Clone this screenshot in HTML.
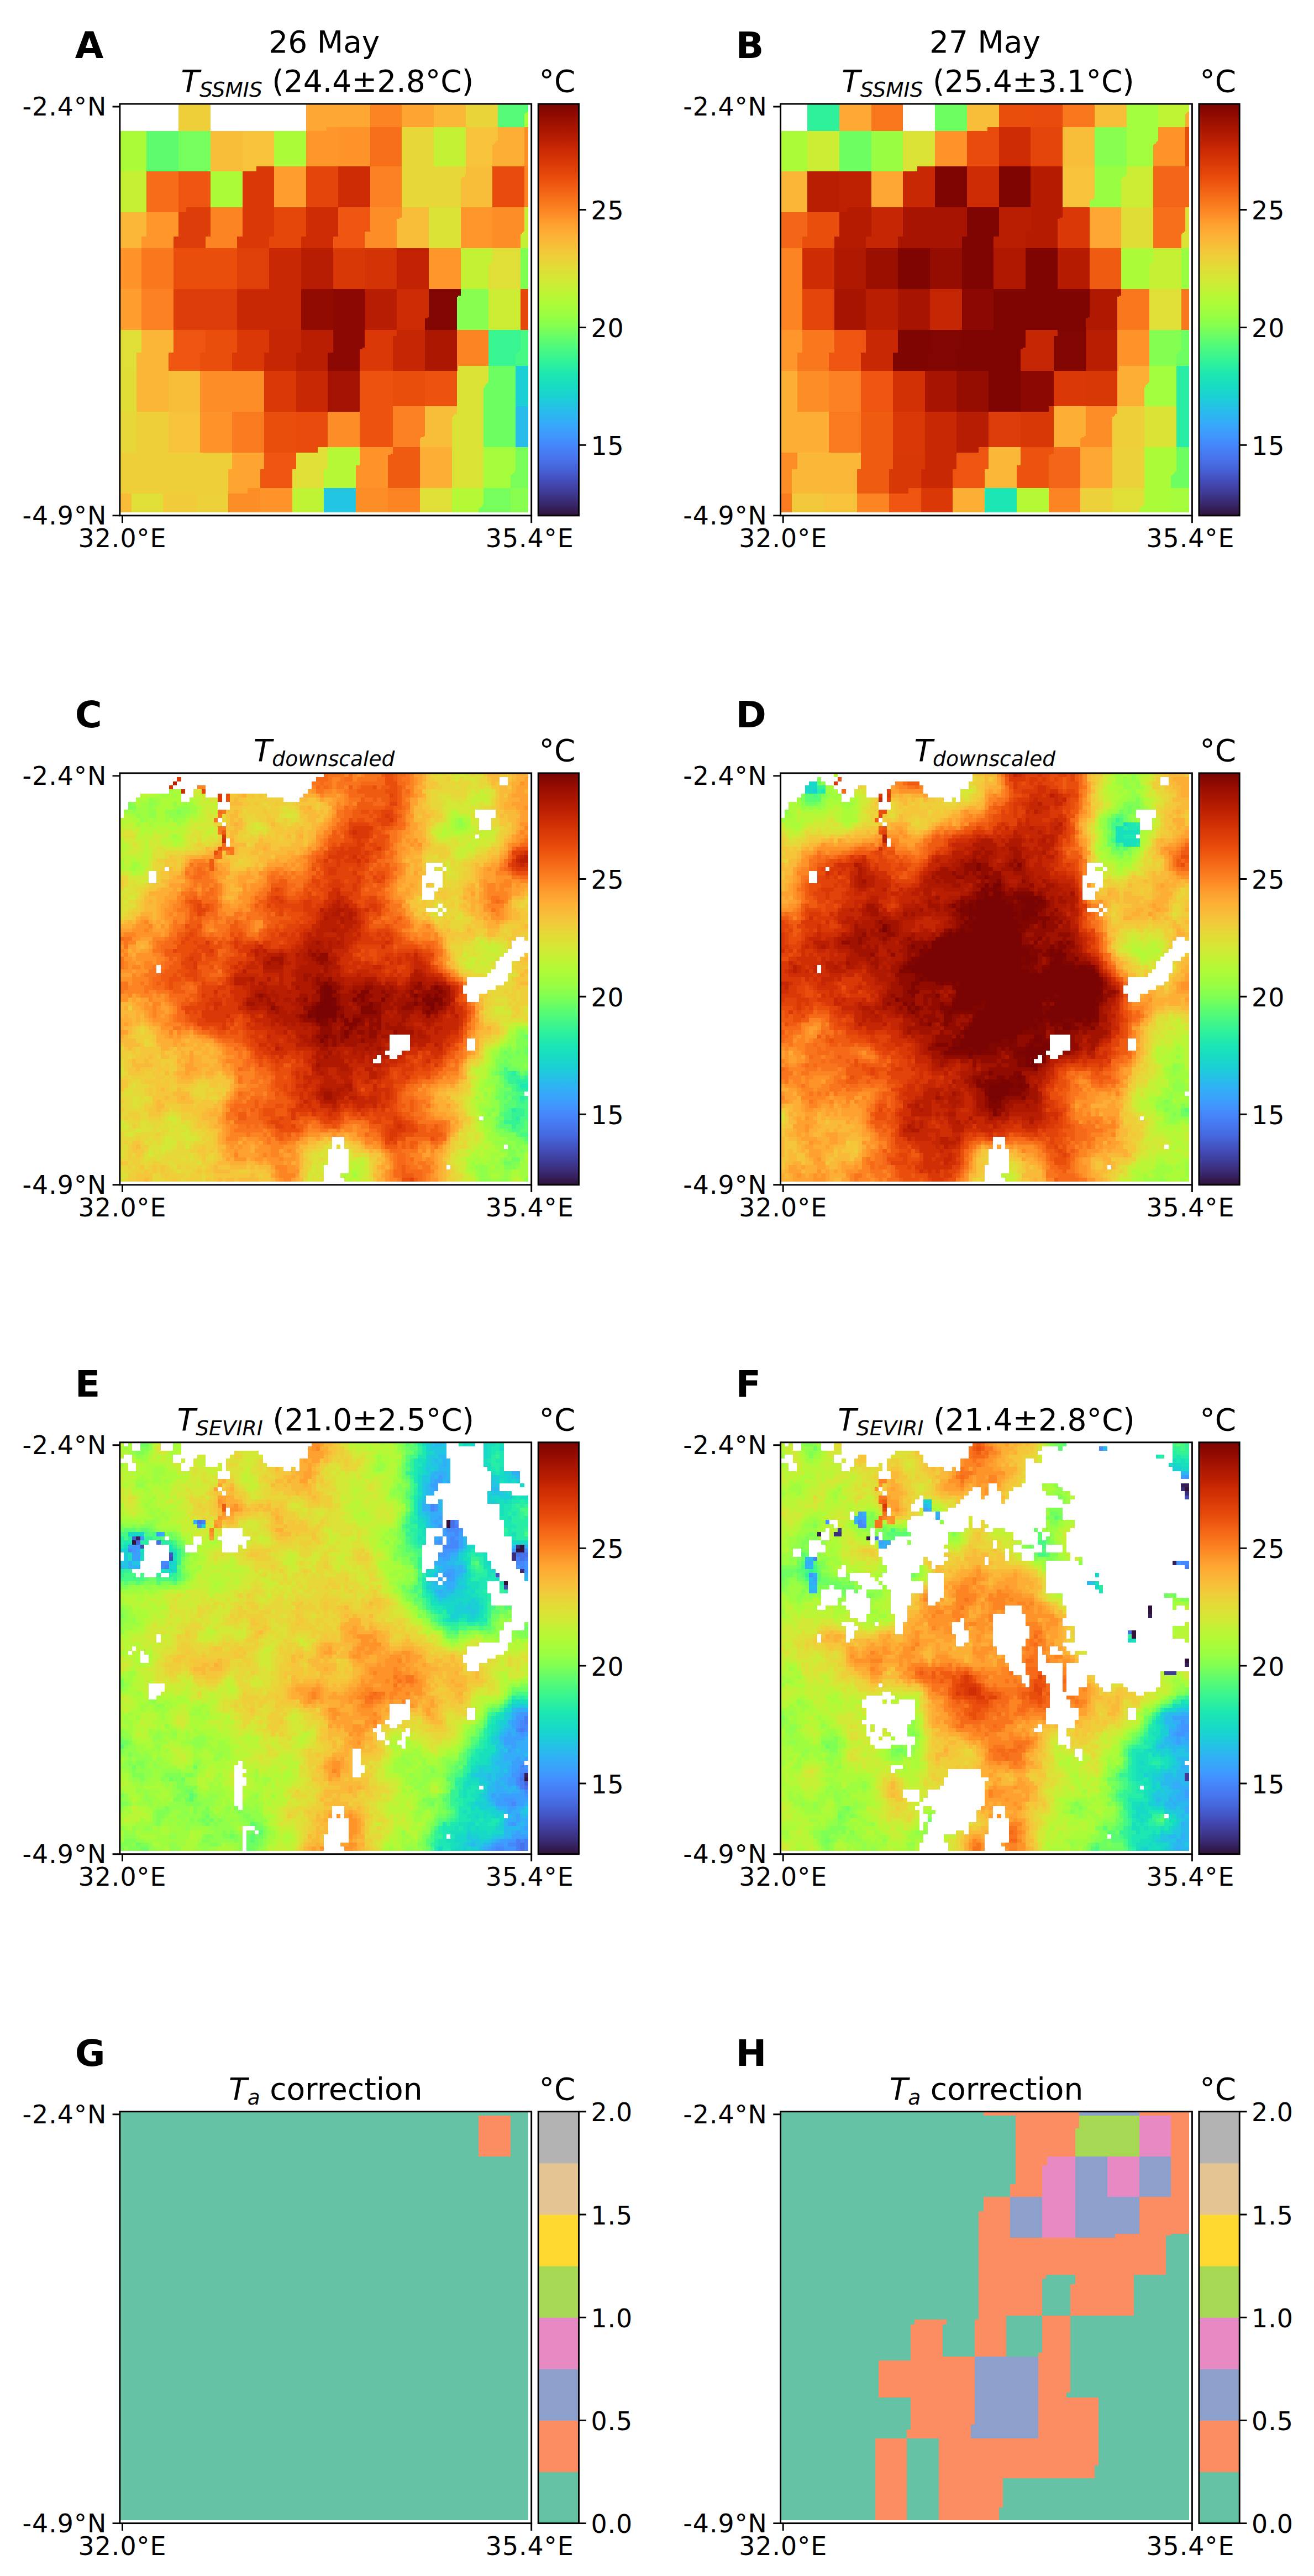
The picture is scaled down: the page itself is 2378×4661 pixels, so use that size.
<!DOCTYPE html>
<html><head><meta charset="utf-8"><title>Figure</title>
<style>html,body{margin:0;padding:0;background:#fff}svg{display:block}</style></head>
<body>
<svg width="2378" height="4661" viewBox="0 0 2378 4661" font-family="DejaVu Sans, sans-serif" fill="#000">
<defs><linearGradient id="tg" x1="0" y1="0" x2="0" y2="1"><stop offset="0.0000" stop-color="#7a0403"/><stop offset="0.0286" stop-color="#920b01"/><stop offset="0.0571" stop-color="#a71401"/><stop offset="0.0857" stop-color="#b91e02"/><stop offset="0.1143" stop-color="#cc2b04"/><stop offset="0.1429" stop-color="#da3907"/><stop offset="0.1714" stop-color="#e5470b"/><stop offset="0.2000" stop-color="#f05b12"/><stop offset="0.2286" stop-color="#f76f1a"/><stop offset="0.2571" stop-color="#fc8423"/><stop offset="0.2857" stop-color="#fe9b2d"/><stop offset="0.3143" stop-color="#fdae35"/><stop offset="0.3429" stop-color="#f8be39"/><stop offset="0.3714" stop-color="#eecf3a"/><stop offset="0.4000" stop-color="#e1dd37"/><stop offset="0.4286" stop-color="#d2e935"/><stop offset="0.4571" stop-color="#bef434"/><stop offset="0.4857" stop-color="#acfb38"/><stop offset="0.5143" stop-color="#99fe42"/><stop offset="0.5429" stop-color="#80ff53"/><stop offset="0.5714" stop-color="#61fc6c"/><stop offset="0.6000" stop-color="#46f884"/><stop offset="0.6286" stop-color="#2ff19b"/><stop offset="0.6571" stop-color="#1de7b2"/><stop offset="0.6857" stop-color="#18ddc2"/><stop offset="0.7143" stop-color="#1bd0d5"/><stop offset="0.7429" stop-color="#27bee9"/><stop offset="0.7714" stop-color="#33adf7"/><stop offset="0.8000" stop-color="#3e9bfe"/><stop offset="0.8286" stop-color="#4687fb"/><stop offset="0.8571" stop-color="#4776ee"/><stop offset="0.8857" stop-color="#4664da"/><stop offset="0.9143" stop-color="#434eba"/><stop offset="0.9429" stop-color="#3f3b97"/><stop offset="0.9714" stop-color="#38276d"/><stop offset="1.0000" stop-color="#30123b"/></linearGradient></defs>
<g transform="translate(216.9 188) scale(2.31)" shape-rendering="crispEdges"><path fill="#eecf3a" d="M46 0h25v6h-25zM46 6h25v1h-25zM46 7h25v1h-25zM46 8h25v10h-25zM46 18h25v3h-25zM13 241h25v2h-25zM13 243h25v1h-25zM13 244h25v1h-25zM13 245h25v15h-25zM13 260h25v1h-25zM13 261h25v1h-25zM13 262h25v7h-25zM13 269h25v4h-25zM0 273h88v1h-88zM0 274h88v1h-88zM0 275h88v8h-88zM0 283h88v3h-88zM0 286h85v2h-85zM0 288h85v1h-85zM0 289h85v1h-85zM0 290h85v1h-85zM0 291h85v10h-85zM0 301h85v4h-85z"/><path fill="#fea732" d="M146 0h50v6h-50zM146 6h50v1h-50zM146 7h50v1h-50zM146 8h50v10h-50zM146 18h16v3h-16z"/><path fill="#fc8423" d="M196 0h25v6h-25zM196 6h25v1h-25zM196 7h25v1h-25zM196 8h25v10h-25zM317 49h3v4h-3zM317 53h3v3h-3zM317 56h3v1h-3zM317 57h3v1h-3zM317 58h3v23h-3zM71 81h25v4h-25zM71 85h25v4h-25zM71 89h25v1h-25zM71 90h25v10h-25zM71 100h25v1h-25zM71 101h25v1h-25zM71 102h25v2h-25zM67 104h25v9h-25zM264 177h25v5h-25zM264 182h25v9h-25zM264 191h25v1h-25zM264 192h25v1h-25zM264 193h25v1h-25zM264 194h25v1h-25zM264 195h25v1h-25zM264 196h25v9h-25zM264 205h1v4h-1zM210 301h25v4h-25zM210 305h25v9h-25zM210 314h25v1h-25zM210 315h25v1h-25zM210 316h25v1h-25zM210 317h25v3h-25z"/><path fill="#fea431" d="M221 0h25v6h-25zM221 6h25v1h-25zM221 7h25v1h-25zM221 8h25v10h-25zM88 273h25v1h-25zM88 274h25v1h-25zM88 275h25v8h-25zM88 283h25v3h-25zM85 286h25v2h-25zM85 288h25v1h-25zM85 289h25v1h-25zM85 290h25v1h-25zM85 291h25v10h-25zM85 301h15v4h-15z"/><path fill="#fbb838" d="M246 0h25v6h-25zM246 6h25v1h-25zM246 7h25v1h-25zM246 8h25v10h-25zM0 85h21v4h-21zM0 89h21v1h-21zM0 90h21v10h-21zM0 100h21v1h-21zM0 101h21v1h-21zM0 102h21v2h-21zM0 104h17v9h-17z"/><path fill="#e9d539" d="M271 0h25v6h-25zM271 6h25v1h-25zM271 7h25v1h-25zM271 8h25v10h-25z"/><path fill="#55fa76" d="M296 0h24v6h-24zM296 6h23v1h-23zM296 7h22v1h-22zM296 8h21v10h-21z"/><path fill="#acfb38" d="M319 6h1v1h-1zM318 7h2v1h-2zM317 8h3v10h-3zM0 21h21v8h-21zM121 21h25v8h-25zM0 29h21v1h-21zM121 29h25v1h-25zM0 30h21v1h-21zM121 30h25v1h-25zM0 31h21v1h-21zM121 31h25v1h-25zM0 32h21v17h-21zM121 32h25v17h-25zM0 49h21v4h-21zM71 53h25v3h-25zM71 56h25v1h-25zM71 57h25v1h-25zM71 58h25v23h-25z"/><path fill="#fe962b" d="M162 18h9v3h-9zM146 21h25v8h-25zM146 29h25v1h-25zM146 30h25v1h-25zM146 31h25v1h-25zM146 32h25v17h-25zM267 81h25v4h-25zM21 85h25v4h-25zM267 85h25v4h-25zM21 89h25v1h-25zM267 89h25v1h-25zM21 90h25v10h-25zM267 90h25v10h-25zM21 100h25v1h-25zM267 100h25v1h-25zM21 101h25v1h-25zM267 101h25v1h-25zM21 102h25v2h-25zM267 102h25v2h-25zM17 104h25v9h-25zM267 104h25v9h-25zM242 113h25v11h-25zM242 124h25v1h-25zM242 125h25v1h-25zM242 126h25v19h-25z"/><path fill="#fe932a" d="M171 18h25v3h-25zM171 21h25v8h-25zM171 29h25v1h-25zM171 30h25v1h-25zM171 31h25v1h-25zM171 32h25v17h-25zM0 113h17v11h-17zM0 124h17v1h-17zM0 125h17v1h-17zM0 126h17v19h-17zM63 241h25v2h-25zM63 243h25v1h-25zM63 244h25v1h-25zM63 245h25v15h-25zM63 260h25v1h-25zM63 261h25v1h-25zM63 262h25v7h-25zM63 269h25v4h-25zM188 269h26v4h-26zM188 273h26v1h-26zM188 274h24v1h-24zM188 275h22v8h-22zM185 283h25v3h-25zM185 286h25v2h-25zM185 288h25v1h-25zM185 289h25v1h-25zM185 290h25v1h-25zM185 291h25v10h-25zM110 301h25v4h-25zM110 305h25v9h-25zM110 314h25v1h-25zM110 315h25v1h-25zM110 316h25v1h-25zM110 317h25v3h-25z"/><path fill="#f76f1a" d="M196 18h25v3h-25zM196 21h25v8h-25zM196 29h25v1h-25zM196 30h25v1h-25zM196 31h25v1h-25zM196 32h25v17h-25z"/><path fill="#e7d739" d="M221 18h25v3h-25zM221 21h25v8h-25zM221 29h25v1h-25zM221 30h25v1h-25zM221 31h25v1h-25zM221 32h25v17h-25zM221 49h50v4h-50zM221 53h50v3h-50zM221 56h49v1h-49zM221 57h47v1h-47zM221 58h46v23h-46zM0 241h13v2h-13zM0 243h13v1h-13zM0 244h13v1h-13zM0 245h13v15h-13zM0 260h13v1h-13zM0 261h13v1h-13zM0 262h13v7h-13zM0 269h13v4h-13z"/><path fill="#c3f134" d="M246 18h25v3h-25zM246 21h25v8h-25zM246 29h25v1h-25zM246 30h25v1h-25zM246 31h25v1h-25zM246 32h25v17h-25zM267 113h25v11h-25zM267 124h24v1h-24zM267 125h23v1h-23zM267 126h22v19h-22z"/><path fill="#f6c33a" d="M271 18h25v3h-25zM96 21h25v8h-25zM271 21h25v8h-25zM96 29h25v1h-25zM271 29h24v1h-24zM96 30h25v1h-25zM271 30h23v1h-23zM96 31h25v1h-25zM271 31h22v1h-22zM96 32h25v17h-25zM271 32h21v17h-21zM96 49h11v4h-11zM38 241h25v2h-25zM38 243h25v1h-25zM38 244h25v1h-25zM38 245h25v15h-25zM38 260h25v1h-25zM38 261h25v1h-25zM38 262h25v7h-25zM38 269h25v4h-25z"/><path fill="#fdae35" d="M296 18h21v3h-21zM296 21h21v8h-21zM295 29h22v1h-22zM294 30h23v1h-23zM293 31h24v1h-24zM292 32h25v17h-25zM235 269h25v4h-25zM235 273h25v1h-25zM235 274h25v1h-25zM235 275h25v8h-25zM235 283h25v3h-25zM235 286h25v2h-25zM235 288h25v1h-25zM235 289h25v1h-25zM235 290h25v1h-25zM235 291h25v10h-25z"/><path fill="#fd8d27" d="M317 18h3v3h-3zM317 21h3v8h-3zM317 29h3v1h-3zM317 30h3v1h-3zM317 31h3v1h-3zM317 32h3v17h-3zM196 81h25v4h-25zM292 81h25v4h-25zM196 85h25v4h-25zM292 85h25v4h-25zM196 89h23v1h-23zM292 89h25v1h-25zM196 90h21v10h-21zM292 90h25v10h-25zM192 100h25v1h-25zM292 100h24v1h-24zM192 101h25v1h-25zM292 101h23v1h-23zM192 102h25v2h-25zM292 102h22v2h-22zM192 104h25v9h-25zM292 104h22v9h-22zM63 209h50v9h-50zM63 218h50v1h-50zM63 219h50v1h-50zM63 220h50v2h-50zM63 222h50v15h-50zM63 237h50v4h-50zM163 241h25v2h-25zM163 243h25v1h-25zM163 244h25v1h-25zM163 245h25v15h-25zM163 260h25v1h-25zM163 261h25v1h-25zM163 262h25v7h-25zM100 301h10v4h-10zM185 301h25v4h-25zM85 305h25v9h-25zM185 305h25v9h-25zM85 314h25v1h-25zM185 314h25v1h-25zM85 315h25v1h-25zM185 315h25v1h-25zM85 316h25v1h-25zM185 316h25v1h-25zM85 317h25v3h-25zM185 317h25v3h-25z"/><path fill="#5dfc6f" d="M21 21h25v8h-25zM21 29h25v1h-25zM21 30h25v1h-25zM21 31h25v1h-25zM21 32h25v17h-25zM21 49h25v4h-25z"/><path fill="#75fe5c" d="M46 21h25v8h-25zM46 29h25v1h-25zM46 30h25v1h-25zM46 31h25v1h-25zM46 32h25v17h-25zM46 49h25v4h-25zM285 301h21v4h-21zM285 305h21v9h-21zM284 314h22v1h-22zM283 315h23v1h-23zM282 316h24v1h-24zM281 317h25v3h-25z"/><path fill="#f8be39" d="M71 21h25v8h-25zM71 29h25v1h-25zM71 30h25v1h-25zM71 31h25v1h-25zM71 32h25v17h-25zM71 49h25v4h-25zM271 49h21v4h-21zM271 53h21v3h-21zM270 56h22v1h-22zM268 57h24v1h-24zM267 58h25v23h-25zM221 81h21v4h-21zM221 85h21v4h-21zM219 89h23v1h-23zM217 90h25v10h-25zM217 100h25v1h-25zM217 101h25v1h-25zM217 102h25v2h-25zM217 104h25v9h-25zM38 209h25v9h-25zM38 218h25v1h-25zM38 219h25v1h-25zM38 220h25v2h-25zM38 222h25v15h-25zM38 237h25v4h-25zM239 237h25v4h-25zM239 241h25v2h-25zM239 243h23v1h-23zM239 244h22v1h-22zM239 245h21v15h-21zM238 260h22v1h-22zM236 261h24v1h-24zM235 262h25v7h-25z"/><path fill="#da3907" d="M107 49h14v4h-14zM96 53h25v3h-25zM96 56h25v1h-25zM96 57h25v1h-25zM96 58h25v23h-25zM96 81h25v4h-25zM96 85h25v4h-25zM96 89h25v1h-25zM96 90h25v10h-25zM96 100h25v1h-25zM96 101h25v1h-25zM96 102h25v2h-25zM92 104h25v9h-25zM92 177h25v5h-25zM192 177h25v5h-25zM92 182h25v9h-25zM192 182h22v9h-22zM92 191h25v1h-25zM190 191h24v1h-24zM92 192h25v1h-25zM188 192h26v1h-26zM92 193h25v1h-25zM188 193h26v1h-26zM92 194h25v1h-25zM188 194h26v1h-26zM88 195h25v1h-25zM188 195h26v1h-26zM88 196h25v9h-25zM188 196h26v9h-26zM88 205h25v4h-25zM188 205h26v4h-26zM113 209h25v9h-25zM113 218h25v1h-25zM113 219h25v1h-25zM113 220h25v2h-25zM113 222h25v15h-25zM113 237h25v4h-25z"/><path fill="#fe9e2f" d="M121 49h25v4h-25zM121 53h25v3h-25zM121 56h25v1h-25zM121 57h25v1h-25zM121 58h25v23h-25zM0 145h17v5h-17zM0 150h17v1h-17zM0 151h17v16h-17zM0 167h17v1h-17zM0 168h17v9h-17z"/><path fill="#e4450a" d="M146 49h25v4h-25zM146 53h25v3h-25zM146 56h25v1h-25zM146 57h25v1h-25zM146 58h25v23h-25z"/><path fill="#cc2b04" d="M171 49h25v4h-25zM171 53h25v3h-25zM171 56h25v1h-25zM171 57h25v1h-25zM171 58h25v23h-25zM146 81h25v4h-25zM146 85h25v4h-25zM146 89h25v1h-25zM146 90h25v10h-25zM146 100h25v1h-25zM146 101h25v1h-25zM146 102h25v2h-25zM142 104h25v9h-25zM217 145h25v5h-25zM217 150h25v1h-25zM217 151h25v16h-25zM217 167h24v1h-24zM217 168h22v9h-22z"/><path fill="#fb8122" d="M196 49h25v4h-25zM196 53h25v3h-25zM196 56h25v1h-25zM196 57h25v1h-25zM196 58h25v23h-25zM17 145h25v5h-25zM17 150h25v1h-25zM17 151h25v16h-25zM17 167h25v1h-25zM17 168h25v9h-25zM214 237h25v4h-25zM214 241h25v2h-25zM214 243h25v1h-25zM214 244h25v1h-25zM214 245h25v15h-25zM214 260h24v1h-24zM214 261h22v1h-22zM214 262h21v7h-21z"/><path fill="#e84b0c" d="M292 49h25v4h-25zM292 53h25v3h-25zM292 56h25v1h-25zM292 57h25v1h-25zM292 58h25v23h-25zM138 241h25v2h-25zM138 243h25v1h-25zM138 244h25v1h-25zM138 245h25v15h-25zM138 260h25v1h-25zM138 261h25v1h-25zM138 262h25v7h-25zM138 269h17v4h-17z"/><path fill="#c6f034" d="M0 53h21v3h-21zM0 56h21v1h-21zM0 57h21v1h-21zM0 58h21v23h-21zM0 81h21v4h-21zM317 81h3v4h-3zM317 85h3v4h-3zM317 89h3v1h-3zM317 90h3v10h-3zM316 100h4v1h-4zM315 101h5v1h-5zM314 102h6v2h-6zM314 104h6v9h-6z"/><path fill="#f66c19" d="M21 53h25v3h-25zM21 56h25v1h-25zM21 57h25v1h-25zM21 58h25v23h-25zM21 81h25v4h-25z"/><path fill="#ed5510" d="M46 53h25v3h-25zM46 56h25v1h-25zM46 57h25v1h-25zM46 58h25v23h-25zM46 81h6v4h-6zM171 81h25v4h-25zM171 85h25v4h-25zM171 89h25v1h-25zM171 90h25v10h-25zM171 100h21v1h-21zM171 101h21v1h-21zM171 102h21v2h-21zM167 104h25v9h-25zM42 177h25v5h-25zM42 182h25v9h-25zM42 191h25v1h-25zM42 192h25v1h-25zM42 193h25v1h-25zM42 194h25v1h-25zM38 195h25v1h-25zM38 196h25v9h-25zM38 205h25v4h-25zM113 273h25v1h-25zM113 274h25v1h-25zM113 275h25v8h-25zM113 283h25v3h-25zM110 286h25v2h-25zM110 288h25v1h-25zM110 289h25v1h-25zM110 290h25v1h-25zM110 291h25v10h-25z"/><path fill="#dd3d08" d="M52 81h19v4h-19zM46 85h25v4h-25zM46 89h25v1h-25zM46 90h25v10h-25zM46 100h25v1h-25zM46 101h25v1h-25zM46 102h25v2h-25zM42 104h25v9h-25zM42 145h50v5h-50zM42 150h50v1h-50zM42 151h50v16h-50zM42 167h50v1h-50zM42 168h50v9h-50z"/><path fill="#e5470b" d="M121 81h25v4h-25zM121 85h25v4h-25zM121 89h25v1h-25zM121 90h25v10h-25zM121 100h25v1h-25zM121 101h25v1h-25zM121 102h25v2h-25zM117 104h25v9h-25zM314 145h6v5h-6zM314 150h6v1h-6zM314 151h6v16h-6zM314 167h6v1h-6zM314 168h6v9h-6z"/><path fill="#dbe236" d="M242 81h25v4h-25zM242 85h25v4h-25zM242 89h25v1h-25zM242 90h25v10h-25zM242 100h25v1h-25zM242 101h25v1h-25zM242 102h25v2h-25zM242 104h25v9h-25zM265 205h24v4h-24zM264 209h25v9h-25zM264 218h24v1h-24zM264 219h23v1h-23zM264 220h22v2h-22zM264 222h21v15h-21zM264 237h21v4h-21zM264 241h21v2h-21zM262 243h23v1h-23zM261 244h24v1h-24zM260 245h25v15h-25zM260 260h25v1h-25zM260 261h25v1h-25zM260 262h25v7h-25zM260 269h25v4h-25zM260 273h25v1h-25zM260 274h25v1h-25zM260 275h25v8h-25zM260 283h25v3h-25zM260 286h25v2h-25zM260 288h25v1h-25zM260 289h25v1h-25zM260 290h25v1h-25zM260 291h25v10h-25z"/><path fill="#f9781e" d="M17 113h25v11h-25zM17 124h25v1h-25zM17 125h25v1h-25zM17 126h25v19h-25z"/><path fill="#ea4e0d" d="M42 113h50v11h-50zM42 124h50v1h-50zM42 125h50v1h-50zM42 126h50v19h-50zM67 177h25v5h-25zM67 182h25v9h-25zM67 191h25v1h-25zM67 192h25v1h-25zM67 193h25v1h-25zM67 194h25v1h-25zM63 195h25v1h-25zM63 196h25v9h-25zM63 205h25v4h-25zM214 209h25v9h-25zM214 218h25v1h-25zM214 219h25v1h-25zM214 220h25v2h-25zM214 222h25v15h-25zM113 241h25v2h-25zM113 243h25v1h-25zM113 244h25v1h-25zM113 245h25v15h-25zM113 260h25v1h-25zM113 261h25v1h-25zM113 262h25v7h-25zM113 269h25v4h-25z"/><path fill="#df3f08" d="M92 113h25v11h-25zM92 124h25v1h-25zM92 125h25v1h-25zM92 126h25v19h-25z"/><path fill="#c82803" d="M117 113h25v11h-25zM117 124h25v1h-25zM117 125h25v1h-25zM117 126h25v19h-25zM92 145h50v5h-50zM92 150h50v1h-50zM92 151h50v16h-50zM92 167h50v1h-50zM92 168h50v9h-50zM138 209h25v9h-25zM138 218h25v1h-25zM138 219h25v1h-25zM138 220h25v2h-25zM138 222h25v15h-25zM138 237h25v4h-25z"/><path fill="#b71d02" d="M142 113h25v11h-25zM142 124h25v1h-25zM142 125h25v1h-25zM142 126h25v19h-25zM192 145h25v5h-25zM192 150h25v1h-25zM192 151h25v16h-25zM192 167h25v1h-25zM192 168h25v9h-25z"/><path fill="#d83706" d="M167 113h25v11h-25zM167 124h25v1h-25zM167 125h25v1h-25zM167 126h25v19h-25z"/><path fill="#d43305" d="M192 113h25v11h-25zM192 124h25v1h-25zM192 125h25v1h-25zM192 126h25v19h-25z"/><path fill="#c12302" d="M217 113h25v11h-25zM217 124h25v1h-25zM217 125h25v1h-25zM217 126h25v19h-25z"/><path fill="#dfdf37" d="M292 113h22v11h-22zM291 124h23v1h-23zM290 125h24v1h-24zM289 126h25v19h-25zM0 177h17v5h-17zM0 182h17v9h-17zM0 191h17v1h-17zM0 192h17v1h-17zM0 193h17v1h-17zM0 194h17v1h-17zM0 195h13v1h-13zM0 196h13v9h-13zM0 205h13v4h-13zM155 269h8v4h-8zM138 273h25v1h-25zM138 274h25v1h-25zM138 275h25v8h-25zM138 283h25v3h-25zM135 286h25v2h-25zM135 288h25v1h-25zM135 289h25v1h-25zM135 290h25v1h-25zM135 291h25v10h-25zM235 301h25v4h-25zM9 305h25v9h-25zM235 305h25v9h-25zM9 314h25v1h-25zM235 314h25v1h-25zM9 315h25v1h-25zM235 315h25v1h-25zM9 316h25v1h-25zM235 316h25v1h-25zM9 317h25v3h-25zM235 317h25v3h-25z"/><path fill="#80ff53" d="M314 113h6v11h-6zM314 124h6v1h-6zM314 125h6v1h-6zM314 126h6v19h-6z"/><path fill="#920b01" d="M142 145h25v5h-25zM142 150h25v1h-25zM142 151h25v16h-25zM142 167h25v1h-25zM142 168h25v9h-25z"/><path fill="#8b0902" d="M167 145h25v5h-25zM167 150h25v1h-25zM167 151h25v16h-25zM167 167h25v1h-25zM167 168h25v9h-25zM167 177h25v5h-25zM167 182h25v9h-25zM167 191h23v1h-23zM167 192h21v1h-21zM167 193h21v1h-21zM167 194h21v1h-21zM163 195h25v1h-25zM163 196h25v9h-25zM163 205h25v4h-25z"/><path fill="#810602" d="M242 145h25v5h-25zM242 150h23v1h-23zM242 151h22v16h-22zM241 167h23v1h-23zM239 168h25v9h-25z"/><path fill="#88ff4e" d="M267 145h22v5h-22zM265 150h24v1h-24zM264 151h25v16h-25zM264 167h25v1h-25zM264 168h25v9h-25zM306 301h14v4h-14zM306 305h14v9h-14zM306 314h14v1h-14zM306 315h14v1h-14zM306 316h14v1h-14zM306 317h14v3h-14z"/><path fill="#cdec34" d="M289 145h25v5h-25zM289 150h25v1h-25zM289 151h25v16h-25zM289 167h25v1h-25zM289 168h25v9h-25z"/><path fill="#fbb637" d="M17 177h25v5h-25zM17 182h25v9h-25zM17 191h25v1h-25zM17 192h25v1h-25zM17 193h25v1h-25zM17 194h25v1h-25zM13 195h25v1h-25zM13 196h25v9h-25zM13 205h25v4h-25zM13 209h25v9h-25zM13 218h25v1h-25zM13 219h25v1h-25zM13 220h25v2h-25zM13 222h25v15h-25zM13 237h25v4h-25z"/><path fill="#c52603" d="M117 177h25v5h-25zM217 177h22v5h-22zM117 182h25v9h-25zM214 182h25v9h-25zM117 191h25v1h-25zM214 191h25v1h-25zM117 192h25v1h-25zM214 192h25v1h-25zM117 193h25v1h-25zM214 193h25v1h-25zM117 194h25v1h-25zM214 194h25v1h-25zM113 195h25v1h-25zM214 195h25v1h-25zM113 196h25v9h-25zM214 196h25v9h-25zM113 205h25v4h-25zM214 205h25v4h-25z"/><path fill="#b91e02" d="M142 177h25v5h-25zM142 182h25v9h-25zM142 191h25v1h-25zM142 192h25v1h-25zM142 193h25v1h-25zM142 194h25v1h-25zM138 195h25v1h-25zM138 196h25v9h-25zM138 205h25v4h-25z"/><path fill="#ac1701" d="M239 177h25v5h-25zM239 182h25v9h-25zM239 191h25v1h-25zM239 192h25v1h-25zM239 193h25v1h-25zM239 194h25v1h-25zM239 195h25v1h-25zM239 196h25v9h-25zM239 205h25v4h-25z"/><path fill="#38f491" d="M289 177h25v5h-25zM289 182h25v9h-25zM289 191h25v1h-25zM289 192h25v1h-25zM289 193h24v1h-24zM289 194h23v1h-23zM289 195h22v1h-22zM289 196h21v9h-21z"/><path fill="#46f884" d="M314 177h6v5h-6zM314 182h6v9h-6zM314 191h6v1h-6zM314 192h6v1h-6zM313 193h7v1h-7zM312 194h8v1h-8zM311 195h9v1h-9zM310 196h10v9h-10z"/><path fill="#6dfe62" d="M289 205h21v4h-21zM289 209h21v9h-21zM288 218h22v1h-22zM287 219h23v1h-23zM286 220h24v2h-24zM285 222h25v15h-25zM285 237h25v4h-25zM285 241h25v2h-25zM285 243h25v1h-25zM285 244h25v1h-25zM285 245h25v15h-25zM285 260h25v1h-25zM285 261h25v1h-25zM285 262h25v7h-25z"/><path fill="#1bd0d5" d="M310 205h10v4h-10zM310 209h10v9h-10zM310 218h10v1h-10zM310 219h10v1h-10zM310 220h10v2h-10zM310 222h10v15h-10z"/><path fill="#e1dd37" d="M0 209h13v9h-13zM0 218h13v1h-13zM0 219h13v1h-13zM0 220h13v2h-13zM0 222h13v15h-13zM0 237h13v4h-13z"/><path fill="#a41301" d="M163 209h25v9h-25zM163 218h25v1h-25zM163 219h25v1h-25zM163 220h25v2h-25zM163 222h25v15h-25zM163 237h25v4h-25z"/><path fill="#ec530f" d="M188 209h26v9h-26zM239 209h25v9h-25zM188 218h26v1h-26zM239 218h25v1h-25zM188 219h26v1h-26zM239 219h25v1h-25zM188 220h26v2h-26zM239 220h25v2h-25zM188 222h26v15h-26zM239 222h25v15h-25zM188 237h26v4h-26zM188 241h26v2h-26zM188 243h26v1h-26zM188 244h26v1h-26zM188 245h26v15h-26zM188 260h26v1h-26zM188 261h26v1h-26zM188 262h26v7h-26z"/><path fill="#28bceb" d="M310 237h10v4h-10zM310 241h10v2h-10zM310 243h10v1h-10zM310 244h10v1h-10zM310 245h10v15h-10zM310 260h10v1h-10zM310 261h10v1h-10zM310 262h10v7h-10z"/><path fill="#fa7b1f" d="M88 241h25v2h-25zM88 243h25v1h-25zM88 244h25v1h-25zM88 245h25v15h-25zM88 260h25v1h-25zM88 261h25v1h-25zM88 262h25v7h-25zM88 269h25v4h-25z"/><path fill="#b4f836" d="M163 269h25v4h-25zM163 273h25v1h-25zM163 274h25v1h-25zM163 275h25v8h-25zM163 283h22v3h-22zM160 286h25v2h-25zM160 288h25v1h-25zM160 289h25v1h-25zM160 290h25v1h-25zM160 291h25v10h-25zM260 301h25v4h-25zM260 305h25v9h-25zM260 314h24v1h-24zM260 315h23v1h-23zM260 316h22v1h-22zM260 317h21v3h-21z"/><path fill="#f05b12" d="M214 269h21v4h-21zM214 273h21v1h-21zM212 274h23v1h-23zM210 275h25v8h-25zM210 283h25v3h-25zM210 286h25v2h-25zM210 288h25v1h-25zM210 289h25v1h-25zM210 290h25v1h-25zM210 291h25v10h-25z"/><path fill="#a4fc3c" d="M285 269h25v4h-25zM285 273h25v1h-25zM285 274h25v1h-25zM285 275h25v8h-25zM285 283h25v3h-25zM285 286h25v2h-25zM285 288h24v1h-24zM285 289h23v1h-23zM285 290h22v1h-22zM285 291h21v10h-21z"/><path fill="#79fe59" d="M310 269h10v4h-10zM310 273h10v1h-10zM310 274h10v1h-10zM310 275h10v8h-10zM310 283h10v3h-10zM310 286h10v2h-10zM309 288h11v1h-11zM308 289h12v1h-12zM307 290h13v1h-13zM306 291h14v10h-14z"/><path fill="#bef434" d="M135 301h25v4h-25zM135 305h25v9h-25zM135 314h25v1h-25zM135 315h25v1h-25zM135 316h25v1h-25zM135 317h25v3h-25z"/><path fill="#22c5e2" d="M160 301h25v4h-25zM160 305h25v9h-25zM160 314h25v1h-25zM160 315h25v1h-25zM160 316h25v1h-25zM160 317h25v3h-25z"/><path fill="#f9bc39" d="M0 305h9v9h-9zM0 314h9v1h-9zM0 315h9v1h-9zM0 316h9v1h-9zM0 317h9v3h-9z"/><path fill="#f1cb3a" d="M34 305h26v9h-26zM34 314h26v1h-26zM34 315h26v1h-26zM34 316h26v1h-26zM34 317h26v3h-26z"/><path fill="#ecd13a" d="M60 305h25v9h-25zM60 314h25v1h-25zM60 315h25v1h-25zM60 316h25v1h-25zM60 317h25v3h-25z"/></g>
<rect x="216.9" y="188" width="744.8" height="744.9" fill="none" stroke="#000" stroke-width="2.9"/>
<rect x="974.2" y="188" width="73.3" height="744.9" fill="url(#tg)"/>
<rect x="974.2" y="188" width="73.3" height="744.9" fill="none" stroke="#000" stroke-width="2.9"/>
<path d="M203.6 193h13.3M203.6 932.9h13.3M221.5 932.9v13.3M961.7 932.9v13.3M1047.5 805.2h13.3M1047.5 592.37h13.3M1047.5 379.55h13.3" stroke="#000" stroke-width="2.9" fill="none"/>
<g font-size="45.83" letter-spacing="1"><text x="193.2" y="209" text-anchor="end">-2.4°N</text><text x="193.2" y="948.9" text-anchor="end">-4.9°N</text><text x="221.5" y="989.9" text-anchor="middle">32.0°E</text><text x="958.7" y="989.9" text-anchor="middle">35.4°E</text><text x="1069.4" y="822.9">15</text><text x="1069.4" y="610.07">20</text><text x="1069.4" y="397.25">25</text></g>
<g font-size="55"><text x="586.8" y="94.9" text-anchor="middle">26 May</text><text x="592.3" y="165.8" text-anchor="middle"><tspan font-style="italic">T</tspan><tspan font-style="italic" font-size="37.6" dy="9.5">SSMIS</tspan><tspan dy="-9.5"> (24.4±2.8°C)</tspan></text><text x="1008.4" y="165.8" text-anchor="middle">°C</text></g>
<text x="135.8" y="105.4" font-size="66.7" font-weight="bold">A</text>
<g transform="translate(1412.6 188) scale(2.31)" shape-rendering="crispEdges"><path fill="#2ff19b" d="M21 0h25v6h-25zM21 6h25v1h-25zM21 7h25v1h-25zM21 8h25v10h-25zM21 18h25v3h-25z"/><path fill="#fea933" d="M46 0h25v6h-25zM46 6h25v1h-25zM319 6h1v1h-1zM46 7h25v1h-25zM318 7h2v1h-2zM46 8h25v10h-25zM317 8h3v10h-3zM46 18h25v3h-25z"/><path fill="#f9781e" d="M71 0h25v6h-25zM221 0h25v6h-25zM71 6h25v1h-25zM221 6h25v1h-25zM71 7h25v1h-25zM221 7h25v1h-25zM71 8h25v10h-25zM221 8h25v10h-25zM71 18h25v3h-25zM267 145h22v5h-22zM314 145h6v5h-6zM265 150h24v1h-24zM314 150h6v1h-6zM264 151h25v16h-25zM314 151h6v16h-6zM264 167h25v1h-25zM314 167h6v1h-6zM264 168h25v9h-25zM314 168h6v9h-6zM17 177h25v5h-25zM17 182h25v9h-25zM17 191h25v1h-25zM17 192h25v1h-25zM17 193h25v1h-25zM17 194h25v1h-25zM13 195h25v1h-25zM13 196h25v9h-25zM13 205h25v4h-25z"/><path fill="#6dfe62" d="M121 0h25v6h-25zM121 6h25v1h-25zM121 7h25v1h-25zM121 8h25v10h-25zM121 18h25v3h-25zM46 21h25v8h-25zM46 29h25v1h-25zM46 30h25v1h-25zM46 31h25v1h-25zM46 32h25v17h-25zM46 49h25v4h-25zM314 177h6v5h-6zM314 182h6v9h-6zM314 191h6v1h-6zM314 192h6v1h-6zM313 193h7v1h-7zM312 194h8v1h-8zM311 195h9v1h-9zM310 196h10v9h-10zM310 269h10v4h-10zM310 273h10v1h-10zM310 274h10v1h-10zM310 275h10v8h-10zM310 283h10v3h-10zM310 286h10v2h-10zM309 288h11v1h-11zM308 289h12v1h-12zM307 290h13v1h-13zM306 291h14v10h-14z"/><path fill="#f8be39" d="M146 0h25v6h-25zM246 0h25v6h-25zM146 6h25v1h-25zM246 6h25v1h-25zM146 7h25v1h-25zM246 7h25v1h-25zM146 8h25v10h-25zM246 8h25v10h-25zM146 18h16v3h-16zM221 18h25v3h-25zM221 21h25v8h-25zM221 29h25v1h-25zM221 30h25v1h-25zM221 31h25v1h-25zM221 32h25v17h-25z"/><path fill="#ea4e0d" d="M171 0h25v6h-25zM171 6h25v1h-25zM171 7h25v1h-25zM171 8h25v10h-25zM21 85h25v4h-25zM21 89h25v1h-25zM21 90h25v10h-25zM21 100h25v1h-25zM21 101h25v1h-25zM21 102h25v2h-25zM17 104h25v9h-25z"/><path fill="#e84b0c" d="M196 0h25v6h-25zM196 6h25v1h-25zM196 7h25v1h-25zM196 8h25v10h-25zM162 18h9v3h-9zM317 18h3v3h-3zM146 21h25v8h-25zM317 21h3v8h-3zM146 29h25v1h-25zM317 29h3v1h-3zM146 30h25v1h-25zM317 30h3v1h-3zM146 31h25v1h-25zM317 31h3v1h-3zM146 32h25v17h-25zM317 32h3v17h-3z"/><path fill="#a1fd3d" d="M271 0h25v6h-25zM271 6h25v1h-25zM271 7h25v1h-25zM271 8h25v10h-25zM271 18h25v3h-25zM271 21h25v8h-25zM271 29h24v1h-24zM271 30h23v1h-23zM271 31h22v1h-22zM271 32h21v17h-21zM289 205h21v4h-21zM289 209h21v9h-21zM288 218h22v1h-22zM287 219h23v1h-23zM286 220h24v2h-24zM285 222h25v15h-25z"/><path fill="#bef434" d="M296 0h24v6h-24zM296 6h23v1h-23zM296 7h22v1h-22zM296 8h21v10h-21z"/><path fill="#cc2b04" d="M171 18h25v3h-25zM171 21h25v8h-25zM171 29h25v1h-25zM171 30h25v1h-25zM171 31h25v1h-25zM171 32h25v17h-25zM146 49h25v4h-25zM146 53h25v3h-25zM146 56h25v1h-25zM146 57h25v1h-25zM146 58h25v16h-25zM146 74h25v1h-25zM146 75h25v1h-25zM146 76h25v5h-25z"/><path fill="#e4450a" d="M196 18h25v3h-25zM196 21h25v8h-25zM196 29h25v1h-25zM196 30h25v1h-25zM196 31h25v1h-25zM196 32h25v17h-25zM17 145h25v5h-25zM17 150h25v1h-25zM17 151h25v16h-25zM17 167h25v1h-25zM17 168h25v9h-25z"/><path fill="#88ff4e" d="M246 18h25v3h-25zM246 21h25v8h-25zM246 29h25v1h-25zM246 30h25v1h-25zM246 31h25v1h-25zM246 32h25v17h-25z"/><path fill="#fe932a" d="M296 18h21v3h-21zM121 21h25v8h-25zM296 21h21v8h-21zM121 29h25v1h-25zM295 29h22v1h-22zM121 30h25v1h-25zM294 30h23v1h-23zM121 31h25v1h-25zM293 31h24v1h-24zM121 32h25v17h-25zM292 32h25v17h-25zM264 177h25v5h-25zM264 182h25v9h-25zM264 191h25v1h-25zM264 192h25v1h-25zM264 193h25v1h-25zM264 194h25v1h-25zM264 195h25v1h-25zM264 196h25v9h-25zM264 205h1v4h-1z"/><path fill="#acfb38" d="M0 21h21v8h-21zM0 29h21v1h-21zM0 30h21v1h-21zM0 31h21v1h-21zM0 32h21v17h-21zM0 49h21v4h-21zM267 113h25v11h-25zM267 124h24v1h-24zM267 125h23v1h-23zM267 126h22v19h-22zM285 269h25v4h-25zM285 273h25v1h-25zM285 274h25v1h-25zM285 275h25v8h-25zM285 283h25v3h-25zM285 286h25v2h-25zM285 288h24v1h-24zM285 289h23v1h-23zM285 290h22v1h-22zM285 291h21v10h-21zM285 301h21v4h-21zM285 305h21v9h-21zM284 314h22v1h-22zM283 315h23v1h-23zM282 316h24v1h-24zM281 317h25v3h-25z"/><path fill="#cdec34" d="M21 21h25v8h-25zM21 29h25v1h-25zM21 30h25v1h-25zM21 31h25v1h-25zM21 32h25v17h-25zM21 49h25v4h-25zM271 49h21v4h-21zM271 53h21v3h-21zM270 56h22v1h-22zM268 57h24v1h-24zM267 58h25v16h-25zM267 74h25v1h-25zM267 75h25v1h-25zM267 76h25v5h-25z"/><path fill="#99fe42" d="M71 21h25v8h-25zM71 29h25v1h-25zM71 30h25v1h-25zM71 31h25v1h-25zM71 32h25v17h-25zM71 49h25v4h-25zM246 49h25v4h-25zM246 53h25v3h-25zM246 56h24v1h-24zM246 57h22v1h-22zM246 58h21v16h-21zM245 74h22v1h-22zM243 75h24v1h-24zM242 76h25v5h-25zM314 113h6v11h-6zM314 124h6v1h-6zM314 125h6v1h-6zM314 126h6v19h-6z"/><path fill="#dbe236" d="M96 21h25v8h-25zM96 29h25v1h-25zM96 30h25v1h-25zM96 31h25v1h-25zM96 32h25v17h-25zM96 49h11v4h-11zM317 81h3v4h-3zM317 85h3v4h-3zM317 89h3v1h-3zM317 90h3v10h-3zM316 100h4v1h-4zM315 101h5v1h-5zM314 102h6v2h-6zM314 104h6v9h-6zM285 237h25v4h-25zM285 241h25v2h-25zM285 243h25v1h-25zM285 244h25v1h-25zM285 245h25v15h-25zM285 260h25v1h-25zM285 261h25v1h-25zM285 262h25v7h-25z"/><path fill="#c82803" d="M107 49h14v4h-14zM96 53h25v3h-25zM96 56h25v1h-25zM96 57h25v1h-25zM96 58h25v16h-25zM96 74h25v1h-25zM96 75h25v1h-25zM96 76h25v5h-25zM67 177h25v5h-25zM67 182h25v9h-25zM67 191h25v1h-25zM67 192h25v1h-25zM67 193h25v1h-25zM67 194h25v1h-25zM63 195h25v1h-25zM63 196h25v9h-25zM63 205h25v4h-25zM113 241h25v2h-25zM113 243h25v1h-25zM113 244h25v1h-25zM113 245h25v15h-25zM113 260h25v1h-25zM113 261h25v1h-25zM113 262h25v7h-25zM113 269h25v4h-25zM113 273h25v1h-25zM113 274h25v1h-25zM113 275h25v8h-25zM113 283h25v3h-25zM110 286h25v2h-25zM110 288h25v1h-25zM110 289h25v1h-25zM110 290h25v1h-25zM110 291h25v10h-25z"/><path fill="#7e0502" d="M121 49h25v4h-25zM171 49h25v4h-25zM121 53h25v3h-25zM171 53h25v3h-25zM121 56h25v1h-25zM171 56h25v1h-25zM121 57h25v1h-25zM171 57h25v1h-25zM121 58h25v16h-25zM171 58h25v16h-25zM121 74h25v1h-25zM171 74h25v1h-25zM121 75h25v1h-25zM171 75h25v1h-25zM121 76h25v5h-25zM171 76h25v5h-25zM146 81h25v4h-25zM146 85h25v4h-25zM146 89h25v1h-25zM146 90h25v10h-25zM146 100h25v1h-25zM146 101h25v1h-25zM146 102h25v2h-25zM142 104h25v9h-25zM92 113h25v11h-25zM142 113h25v11h-25zM192 113h25v11h-25zM92 124h25v1h-25zM142 124h25v1h-25zM192 124h25v1h-25zM92 125h25v1h-25zM142 125h25v1h-25zM192 125h25v1h-25zM92 126h25v19h-25zM142 126h25v19h-25zM192 126h25v19h-25zM167 145h75v5h-75zM167 150h75v1h-75zM167 151h75v16h-75zM167 167h74v1h-74zM167 168h72v9h-72zM92 177h25v5h-25zM142 177h50v5h-50zM92 182h25v9h-25zM142 182h50v9h-50zM92 191h25v1h-25zM142 191h48v1h-48zM92 192h25v1h-25zM142 192h46v1h-46zM92 193h25v1h-25zM142 193h46v1h-46zM92 194h25v1h-25zM142 194h46v1h-46zM88 195h25v1h-25zM138 195h50v1h-50zM88 196h25v9h-25zM138 196h50v9h-50zM88 205h25v4h-25zM138 205h50v4h-50zM163 209h25v9h-25zM163 218h25v1h-25zM163 219h25v1h-25zM163 220h25v2h-25zM163 222h25v15h-25zM163 237h25v4h-25z"/><path fill="#b41b01" d="M196 49h25v4h-25zM196 53h25v3h-25zM196 56h25v1h-25zM196 57h25v1h-25zM196 58h25v16h-25zM196 74h25v1h-25zM196 75h25v1h-25zM196 76h25v5h-25zM52 81h19v4h-19zM196 81h25v4h-25zM46 85h25v4h-25zM196 85h25v4h-25zM46 89h25v1h-25zM196 89h23v1h-23zM46 90h25v10h-25zM196 90h21v10h-21zM46 100h25v1h-25zM192 100h25v1h-25zM46 101h25v1h-25zM192 101h25v1h-25zM46 102h25v2h-25zM192 102h25v2h-25zM42 104h25v9h-25zM192 104h25v9h-25zM217 113h25v11h-25zM217 124h25v1h-25zM217 125h25v1h-25zM217 126h25v19h-25z"/><path fill="#f6c33a" d="M221 49h25v4h-25zM221 53h25v3h-25zM221 56h25v1h-25zM221 57h25v1h-25zM221 58h25v16h-25zM221 74h24v1h-24zM221 75h22v1h-22zM221 76h21v5h-21zM34 305h26v9h-26zM34 314h26v1h-26zM34 315h26v1h-26zM34 316h26v1h-26zM34 317h26v3h-26z"/><path fill="#f46617" d="M292 49h28v4h-28zM292 53h28v3h-28zM292 56h28v1h-28zM292 57h28v1h-28zM292 58h28v16h-28zM292 74h28v1h-28zM292 75h28v1h-28zM292 76h28v5h-28zM0 85h21v4h-21zM0 89h21v1h-21zM0 90h21v10h-21zM0 100h21v1h-21zM0 101h21v1h-21zM0 102h21v2h-21zM0 104h17v9h-17zM214 269h21v4h-21zM214 273h21v1h-21zM212 274h23v1h-23zM210 275h25v8h-25zM210 283h25v3h-25zM210 286h25v2h-25zM210 288h25v1h-25zM210 289h25v1h-25zM210 290h25v1h-25zM210 291h25v10h-25z"/><path fill="#fbb637" d="M0 53h21v3h-21zM0 56h21v1h-21zM0 57h21v1h-21zM0 58h21v16h-21zM0 74h21v1h-21zM0 75h21v1h-21zM0 76h21v5h-21zM0 81h21v4h-21z"/><path fill="#b91e02" d="M21 53h25v3h-25zM21 56h25v1h-25zM21 57h25v1h-25zM21 58h25v16h-25zM21 74h25v1h-25zM21 75h25v1h-25zM21 76h25v5h-25zM21 81h25v4h-25zM171 81h25v4h-25zM171 85h25v4h-25zM171 89h25v1h-25zM171 90h25v10h-25zM171 100h21v1h-21zM171 101h21v1h-21zM171 102h21v2h-21zM167 104h25v9h-25zM67 145h25v5h-25zM67 150h25v1h-25zM67 151h25v16h-25zM67 167h25v1h-25zM67 168h25v9h-25zM239 177h25v5h-25zM239 182h25v9h-25zM239 191h25v1h-25zM239 192h25v1h-25zM239 193h25v1h-25zM239 194h25v1h-25zM239 195h25v1h-25zM239 196h25v9h-25zM239 205h25v4h-25z"/><path fill="#be2102" d="M46 53h25v3h-25zM46 56h25v1h-25zM46 57h25v1h-25zM46 58h25v16h-25zM46 74h25v1h-25zM46 75h25v1h-25zM46 76h25v5h-25zM46 81h6v4h-6z"/><path fill="#fea732" d="M71 53h25v3h-25zM71 56h25v1h-25zM71 57h25v1h-25zM71 58h25v16h-25zM71 74h25v1h-25zM71 75h25v1h-25zM71 76h25v5h-25zM242 81h25v4h-25zM242 85h25v4h-25zM242 89h25v1h-25zM242 90h25v10h-25zM242 100h25v1h-25zM242 101h25v1h-25zM242 102h25v2h-25zM242 104h25v9h-25zM235 269h25v4h-25zM235 273h25v1h-25zM235 274h25v1h-25zM235 275h25v8h-25zM235 283h25v3h-25zM235 286h25v2h-25zM235 288h25v1h-25zM235 289h25v1h-25zM235 290h25v1h-25zM235 291h25v10h-25z"/><path fill="#c52603" d="M71 81h25v4h-25zM71 85h25v4h-25zM71 89h25v1h-25zM71 90h25v10h-25zM71 100h25v1h-25zM71 101h25v1h-25zM71 102h25v2h-25zM67 104h25v9h-25zM117 145h25v5h-25zM117 150h25v1h-25zM117 151h25v16h-25zM117 167h25v1h-25zM117 168h25v9h-25zM192 177h25v5h-25zM192 182h22v9h-22zM190 191h24v1h-24zM188 192h26v1h-26zM188 193h26v1h-26zM188 194h26v1h-26zM188 195h26v1h-26zM188 196h26v9h-26zM188 205h26v4h-26z"/><path fill="#a71401" d="M96 81h50v4h-50zM96 85h50v4h-50zM96 89h50v1h-50zM96 90h50v10h-50zM96 100h50v1h-50zM96 101h50v1h-50zM96 102h50v2h-50zM92 104h50v9h-50zM42 145h25v5h-25zM92 145h25v5h-25zM42 150h25v1h-25zM92 150h25v1h-25zM42 151h25v16h-25zM92 151h25v16h-25zM42 167h25v1h-25zM92 167h25v1h-25zM42 168h25v9h-25zM92 168h25v9h-25zM113 209h25v9h-25zM113 218h25v1h-25zM113 219h25v1h-25zM113 220h25v2h-25zM113 222h25v15h-25zM113 237h25v4h-25z"/><path fill="#da3907" d="M221 81h21v4h-21zM221 85h21v4h-21zM219 89h23v1h-23zM217 90h25v10h-25zM217 100h25v1h-25zM217 101h25v1h-25zM217 102h25v2h-25zM217 104h25v9h-25zM214 209h25v9h-25zM214 218h25v1h-25zM214 219h25v1h-25zM214 220h25v2h-25zM214 222h25v15h-25zM88 241h25v2h-25zM88 243h25v1h-25zM88 244h25v1h-25zM88 245h25v15h-25zM88 260h25v1h-25zM88 261h25v1h-25zM88 262h25v7h-25zM88 269h25v4h-25zM110 301h25v4h-25zM110 305h25v9h-25zM110 314h25v1h-25zM110 315h25v1h-25zM110 316h25v1h-25zM110 317h25v3h-25z"/><path fill="#e1dd37" d="M267 81h25v4h-25zM267 85h25v4h-25zM267 89h25v1h-25zM267 90h25v10h-25zM267 100h25v1h-25zM267 101h25v1h-25zM267 102h25v2h-25zM267 104h25v9h-25z"/><path fill="#f76f1a" d="M292 81h25v4h-25zM292 85h25v4h-25zM292 89h25v1h-25zM292 90h25v10h-25zM292 100h24v1h-24zM292 101h23v1h-23zM292 102h22v2h-22zM292 104h22v9h-22z"/><path fill="#fc8423" d="M0 113h17v11h-17zM0 124h17v1h-17zM0 125h17v1h-17zM0 126h17v19h-17zM0 145h17v5h-17zM0 150h17v1h-17zM0 151h17v16h-17zM0 167h17v1h-17zM0 168h17v9h-17zM210 301h25v4h-25zM60 305h25v9h-25zM210 305h25v9h-25zM60 314h25v1h-25zM210 314h25v1h-25zM60 315h25v1h-25zM210 315h25v1h-25zM60 316h25v1h-25zM210 316h25v1h-25zM60 317h25v3h-25zM210 317h25v3h-25z"/><path fill="#ce2d04" d="M17 113h25v11h-25zM17 124h25v1h-25zM17 125h25v1h-25zM17 126h25v19h-25z"/><path fill="#af1801" d="M42 113h25v11h-25zM167 113h25v11h-25zM42 124h25v1h-25zM167 124h25v1h-25zM42 125h25v1h-25zM167 125h25v1h-25zM42 126h25v19h-25zM167 126h25v19h-25zM242 145h25v5h-25zM242 150h23v1h-23zM242 151h22v16h-22zM241 167h23v1h-23zM239 168h25v9h-25z"/><path fill="#9b0f01" d="M67 113h25v11h-25zM67 124h25v1h-25zM67 125h25v1h-25zM67 126h25v19h-25z"/><path fill="#950d01" d="M117 113h25v11h-25zM117 124h25v1h-25zM117 125h25v1h-25zM117 126h25v19h-25zM138 209h25v9h-25zM138 218h25v1h-25zM138 219h25v1h-25zM138 220h25v2h-25zM138 222h25v15h-25zM138 237h25v4h-25z"/><path fill="#f05b12" d="M242 113h25v11h-25zM242 124h25v1h-25zM242 125h25v1h-25zM242 126h25v19h-25zM63 241h25v2h-25zM63 243h25v1h-25zM63 244h25v1h-25zM63 245h25v15h-25zM63 260h25v1h-25zM63 261h25v1h-25zM63 262h25v7h-25zM63 269h25v4h-25zM63 273h25v1h-25zM63 274h25v1h-25zM63 275h25v8h-25zM63 283h25v3h-25zM60 286h25v2h-25zM60 288h25v1h-25zM60 289h25v1h-25zM60 290h25v1h-25zM60 291h25v10h-25zM60 301h25v4h-25z"/><path fill="#c6f034" d="M292 113h22v11h-22zM291 124h23v1h-23zM290 125h24v1h-24zM289 126h25v19h-25z"/><path fill="#8b0902" d="M142 145h25v5h-25zM142 150h25v1h-25zM142 151h25v16h-25zM142 167h25v1h-25zM142 168h25v9h-25zM188 209h26v9h-26zM188 218h26v1h-26zM188 219h26v1h-26zM188 220h26v2h-26zM188 222h26v15h-26zM188 237h22v4h-22z"/><path fill="#dfdf37" d="M289 145h25v5h-25zM289 150h25v1h-25zM289 151h25v16h-25zM289 167h25v1h-25zM289 168h25v9h-25zM260 301h25v4h-25zM260 305h25v9h-25zM260 314h24v1h-24zM260 315h23v1h-23zM260 316h22v1h-22zM260 317h21v3h-21z"/><path fill="#fe962b" d="M0 177h17v5h-17zM0 182h17v9h-17zM0 191h17v1h-17zM0 192h17v1h-17zM0 193h17v1h-17zM0 194h17v1h-17zM0 195h13v1h-13zM0 196h13v9h-13zM0 205h13v4h-13z"/><path fill="#ed5510" d="M42 177h25v5h-25zM42 182h25v9h-25zM42 191h25v1h-25zM42 192h25v1h-25zM42 193h25v1h-25zM42 194h25v1h-25zM38 195h25v1h-25zM38 196h25v9h-25zM38 205h25v4h-25zM63 209h25v9h-25zM63 218h25v1h-25zM63 219h25v1h-25zM63 220h25v2h-25zM63 222h25v15h-25zM63 237h25v4h-25zM155 269h8v4h-8zM138 273h25v1h-25zM138 274h25v1h-25zM138 275h25v8h-25zM138 283h25v3h-25zM135 286h25v2h-25zM135 288h25v1h-25zM135 289h25v1h-25zM135 290h25v1h-25zM135 291h25v10h-25zM100 301h10v4h-10zM85 305h25v9h-25zM85 314h25v1h-25zM85 315h25v1h-25zM85 316h25v1h-25zM85 317h25v3h-25z"/><path fill="#810602" d="M117 177h25v5h-25zM217 177h22v5h-22zM117 182h25v9h-25zM214 182h25v9h-25zM117 191h25v1h-25zM214 191h25v1h-25zM117 192h25v1h-25zM214 192h25v1h-25zM117 193h25v1h-25zM214 193h25v1h-25zM117 194h25v1h-25zM214 194h25v1h-25zM113 195h25v1h-25zM214 195h25v1h-25zM113 196h25v9h-25zM214 196h25v9h-25zM113 205h25v4h-25zM214 205h25v4h-25z"/><path fill="#84ff51" d="M289 177h25v5h-25zM289 182h25v9h-25zM289 191h25v1h-25zM289 192h25v1h-25zM289 193h24v1h-24zM289 194h23v1h-23zM289 195h22v1h-22zM289 196h21v9h-21z"/><path fill="#fdae35" d="M265 205h24v4h-24zM0 209h13v9h-13zM264 209h25v9h-25zM0 218h13v1h-13zM264 218h24v1h-24zM0 219h13v1h-13zM264 219h23v1h-23zM0 220h13v2h-13zM264 220h22v2h-22zM0 222h13v15h-13zM264 222h21v15h-21zM0 237h13v4h-13zM214 237h25v4h-25zM0 241h38v2h-38zM214 241h25v2h-25zM0 243h38v1h-38zM214 243h25v1h-25zM0 244h38v1h-38zM214 244h25v1h-25zM0 245h38v15h-38zM214 245h25v15h-25zM0 260h38v1h-38zM214 260h24v1h-24zM0 261h38v1h-38zM214 261h22v1h-22zM0 262h38v7h-38zM214 262h21v7h-21zM0 269h38v4h-38zM135 301h25v4h-25zM135 305h25v9h-25zM135 314h25v1h-25zM135 315h25v1h-25zM135 316h25v1h-25zM135 317h25v3h-25z"/><path fill="#27eea4" d="M310 205h10v4h-10zM310 209h10v9h-10zM310 218h10v1h-10zM310 219h10v1h-10zM310 220h10v2h-10zM310 222h10v15h-10zM310 237h10v4h-10zM310 241h10v2h-10zM310 243h10v1h-10zM310 244h10v1h-10zM310 245h10v15h-10zM310 260h10v1h-10zM310 261h10v1h-10zM310 262h10v7h-10z"/><path fill="#fd8d27" d="M13 209h25v9h-25zM13 218h25v1h-25zM13 219h25v1h-25zM13 220h25v2h-25zM13 222h25v15h-25zM13 237h25v4h-25zM239 237h25v4h-25zM239 241h25v2h-25zM239 243h23v1h-23zM239 244h22v1h-22zM239 245h21v15h-21zM238 260h22v1h-22zM236 261h24v1h-24zM235 262h25v7h-25zM0 273h13v1h-13zM0 274h13v1h-13zM0 275h13v8h-13zM0 283h13v3h-13zM0 286h9v2h-9zM0 288h9v1h-9zM0 289h9v1h-9zM0 290h9v1h-9zM0 291h9v10h-9zM0 301h9v4h-9z"/><path fill="#fb8122" d="M38 209h25v9h-25zM38 218h25v1h-25zM38 219h25v1h-25zM38 220h25v2h-25zM38 222h25v15h-25zM38 237h25v4h-25z"/><path fill="#d23105" d="M88 209h25v9h-25zM88 218h25v1h-25zM88 219h25v1h-25zM88 220h25v2h-25zM88 222h25v15h-25zM88 237h25v4h-25z"/><path fill="#d83706" d="M239 209h25v9h-25zM239 218h25v1h-25zM239 219h25v1h-25zM239 220h25v2h-25zM239 222h25v15h-25zM210 237h4v4h-4zM188 241h26v2h-26zM188 243h26v1h-26zM188 244h26v1h-26zM188 245h26v15h-26zM188 260h26v1h-26zM188 261h26v1h-26zM188 262h26v7h-26zM88 273h25v1h-25zM88 274h25v1h-25zM88 275h25v8h-25zM88 283h25v3h-25zM85 286h25v2h-25zM85 288h25v1h-25zM85 289h25v1h-25zM85 290h25v1h-25zM85 291h25v10h-25zM85 301h15v4h-15z"/><path fill="#eecf3a" d="M264 237h21v4h-21zM264 241h21v2h-21zM262 243h23v1h-23zM261 244h24v1h-24zM260 245h25v15h-25zM260 260h25v1h-25zM260 261h25v1h-25zM260 262h25v7h-25z"/><path fill="#fa7b1f" d="M38 241h25v2h-25zM38 243h25v1h-25zM38 244h25v1h-25zM38 245h25v15h-25zM38 260h25v1h-25zM38 261h25v1h-25zM38 262h25v7h-25zM38 269h25v4h-25zM0 305h9v9h-9zM0 314h9v1h-9zM0 315h9v1h-9zM0 316h9v1h-9zM0 317h9v3h-9z"/><path fill="#b71d02" d="M138 241h25v2h-25zM138 243h25v1h-25zM138 244h25v1h-25zM138 245h25v15h-25zM138 260h25v1h-25zM138 261h25v1h-25zM138 262h25v7h-25zM138 269h17v4h-17z"/><path fill="#dd3d08" d="M163 241h25v2h-25zM163 243h25v1h-25zM163 244h25v1h-25zM163 245h25v15h-25zM163 260h25v1h-25zM163 261h25v1h-25zM163 262h25v7h-25z"/><path fill="#fbb838" d="M163 269h25v4h-25zM13 273h50v1h-50zM163 273h25v1h-25zM13 274h50v1h-50zM163 274h25v1h-25zM13 275h50v8h-50zM163 275h25v8h-25zM13 283h50v3h-50zM163 283h22v3h-22zM9 286h51v2h-51zM160 286h25v2h-25zM9 288h51v1h-51zM160 288h25v1h-25zM9 289h51v1h-51zM160 289h25v1h-25zM9 290h51v1h-51zM160 290h25v1h-25zM9 291h51v10h-51zM160 291h25v10h-25zM9 301h51v4h-51z"/><path fill="#ec530f" d="M188 269h26v4h-26zM188 273h26v1h-26zM188 274h24v1h-24zM188 275h22v8h-22zM185 283h25v3h-25zM185 286h25v2h-25zM185 288h25v1h-25zM185 289h25v1h-25zM185 290h25v1h-25zM185 291h25v10h-25z"/><path fill="#ecd13a" d="M260 269h25v4h-25zM260 273h25v1h-25zM260 274h25v1h-25zM260 275h25v8h-25zM260 283h25v3h-25zM260 286h25v2h-25zM260 288h25v1h-25zM260 289h25v1h-25zM260 290h25v1h-25zM260 291h25v10h-25zM235 301h25v4h-25zM235 305h25v9h-25zM235 314h25v1h-25zM235 315h25v1h-25zM235 316h25v1h-25zM235 317h25v3h-25z"/><path fill="#1ce6b4" d="M160 301h25v4h-25zM160 305h25v9h-25zM160 314h25v1h-25zM160 315h25v1h-25zM160 316h25v1h-25zM160 317h25v3h-25z"/><path fill="#b4f836" d="M185 301h25v4h-25zM185 305h25v9h-25zM185 314h25v1h-25zM185 315h25v1h-25zM185 316h25v1h-25zM185 317h25v3h-25z"/><path fill="#a4fc3c" d="M306 301h14v4h-14zM306 305h14v9h-14zM306 314h14v1h-14zM306 315h14v1h-14zM306 316h14v1h-14zM306 317h14v3h-14z"/><path fill="#f2c93a" d="M9 305h25v9h-25zM9 314h25v1h-25zM9 315h25v1h-25zM9 316h25v1h-25zM9 317h25v3h-25z"/></g>
<rect x="1412.6" y="188" width="744.8" height="744.9" fill="none" stroke="#000" stroke-width="2.9"/>
<rect x="2169.9" y="188" width="73.3" height="744.9" fill="url(#tg)"/>
<rect x="2169.9" y="188" width="73.3" height="744.9" fill="none" stroke="#000" stroke-width="2.9"/>
<path d="M1399.3 193h13.3M1399.3 932.9h13.3M1417.2 932.9v13.3M2157.4 932.9v13.3M2243.2 805.2h13.3M2243.2 592.37h13.3M2243.2 379.55h13.3" stroke="#000" stroke-width="2.9" fill="none"/>
<g font-size="45.83" letter-spacing="1"><text x="1388.9" y="209" text-anchor="end">-2.4°N</text><text x="1388.9" y="948.9" text-anchor="end">-4.9°N</text><text x="1417.2" y="989.9" text-anchor="middle">32.0°E</text><text x="2154.4" y="989.9" text-anchor="middle">35.4°E</text><text x="2265.1" y="822.9">15</text><text x="2265.1" y="610.07">20</text><text x="2265.1" y="397.25">25</text></g>
<g font-size="55"><text x="1782.5" y="94.9" text-anchor="middle">27 May</text><text x="1788" y="165.8" text-anchor="middle"><tspan font-style="italic">T</tspan><tspan font-style="italic" font-size="37.6" dy="9.5">SSMIS</tspan><tspan dy="-9.5"> (25.4±3.1°C)</tspan></text><text x="2204.1" y="165.8" text-anchor="middle">°C</text></g>
<text x="1331.5" y="105.4" font-size="66.7" font-weight="bold">B</text>
<g transform="translate(216.9 1398.9) scale(7.39)" shape-rendering="crispEdges"><path fill="#f56918" d="M50 0h1v1h-1zM56 0h1v1h-1zM68 0h2v1h-2zM48 1h3v1h-3zM55 1h2v1h-2zM63 1h2v1h-2zM68 1h1v1h-1zM49 2h1v1h-1zM59 2h6v1h-6zM68 2h2v1h-2zM48 3h1v1h-1zM50 3h1v1h-1zM58 3h1v1h-1zM63 3h1v1h-1zM69 3h1v1h-1zM56 4h2v1h-2zM70 4h1v1h-1zM56 5h4v1h-4zM60 6h2v1h-2zM63 6h1v1h-1zM62 7h3v1h-3zM55 8h1v1h-1zM57 8h1v1h-1zM69 8h1v1h-1zM24 9h1v1h-1zM55 9h2v1h-2zM68 9h1v1h-1zM55 10h2v1h-2zM54 11h2v1h-2zM68 11h1v1h-1zM53 12h2v1h-2zM68 12h2v1h-2zM53 13h1v1h-1zM67 13h2v1h-2zM53 14h1v1h-1zM65 14h1v1h-1zM51 15h1v1h-1zM54 15h1v1h-1zM25 17h1v1h-1zM50 17h1v1h-1zM66 17h1v1h-1zM98 17h2v1h-2zM25 18h2v1h-2zM49 18h1v1h-1zM96 18h1v1h-1zM24 19h1v1h-1zM48 19h2v1h-2zM66 19h1v1h-1zM23 20h2v1h-2zM47 20h1v1h-1zM65 20h2v1h-2zM95 20h1v1h-1zM47 21h1v1h-1zM63 21h2v1h-2zM62 22h1v1h-1zM64 22h1v1h-1zM19 23h1v1h-1zM46 23h1v1h-1zM48 23h1v1h-1zM61 23h1v1h-1zM66 23h2v1h-2zM94 23h1v1h-1zM19 24h2v1h-2zM46 24h2v1h-2zM66 24h1v1h-1zM18 25h2v1h-2zM37 25h1v1h-1zM39 25h1v1h-1zM46 25h1v1h-1zM66 25h1v1h-1zM98 25h2v1h-2zM37 26h2v1h-2zM45 26h1v1h-1zM65 26h1v1h-1zM41 27h2v1h-2zM62 27h1v1h-1zM65 27h1v1h-1zM22 28h1v1h-1zM41 28h1v1h-1zM43 28h2v1h-2zM60 28h1v1h-1zM64 28h1v1h-1zM17 29h2v1h-2zM21 29h2v1h-2zM41 29h2v1h-2zM63 29h2v1h-2zM16 30h2v1h-2zM20 30h2v1h-2zM33 30h1v1h-1zM35 30h1v1h-1zM20 31h4v1h-4zM92 31h1v1h-1zM16 32h1v1h-1zM23 32h1v1h-1zM34 32h1v1h-1zM65 32h1v1h-1zM23 33h1v1h-1zM33 33h2v1h-2zM21 34h3v1h-3zM34 34h2v1h-2zM37 34h1v1h-1zM65 34h2v1h-2zM18 35h1v1h-1zM20 35h2v1h-2zM23 35h1v1h-1zM31 35h1v1h-1zM35 35h1v1h-1zM66 35h2v1h-2zM16 36h1v1h-1zM26 36h1v1h-1zM29 36h1v1h-1zM35 36h2v1h-2zM62 36h2v1h-2zM65 36h2v1h-2zM68 36h1v1h-1zM15 37h1v1h-1zM29 37h2v1h-2zM67 37h3v1h-3zM14 38h2v1h-2zM26 38h1v1h-1zM30 38h1v1h-1zM34 38h1v1h-1zM68 38h1v1h-1zM20 39h1v1h-1zM22 39h1v1h-1zM25 39h2v1h-2zM69 39h1v1h-1zM0 40h1v1h-1zM12 40h2v1h-2zM24 40h1v1h-1zM26 40h1v1h-1zM33 40h1v1h-1zM70 40h1v1h-1zM11 41h2v1h-2zM23 41h1v1h-1zM72 41h1v1h-1zM74 41h3v1h-3zM10 42h4v1h-4zM74 42h1v1h-1zM76 42h1v1h-1zM10 43h1v1h-1zM24 43h2v1h-2zM77 43h1v1h-1zM24 44h1v1h-1zM77 44h1v1h-1zM13 45h1v1h-1zM77 45h1v1h-1zM11 46h2v1h-2zM11 47h1v1h-1zM23 47h1v1h-1zM78 47h1v1h-1zM10 48h1v1h-1zM79 48h1v1h-1zM9 49h1v1h-1zM22 49h3v1h-3zM8 50h2v1h-2zM8 51h1v1h-1zM10 51h1v1h-1zM16 51h2v1h-2zM8 52h3v1h-3zM15 52h2v1h-2zM18 52h1v1h-1zM12 53h1v1h-1zM16 53h3v1h-3zM12 54h5v1h-5zM14 55h2v1h-2zM17 55h1v1h-1zM14 56h1v1h-1zM85 56h1v1h-1zM14 57h1v1h-1zM86 57h1v1h-1zM14 58h2v1h-2zM86 58h1v1h-1zM14 59h2v1h-2zM14 60h2v1h-2zM16 61h2v1h-2zM18 62h2v1h-2zM85 62h1v1h-1zM20 63h2v1h-2zM23 64h1v1h-1zM84 64h1v1h-1zM25 65h3v1h-3zM29 66h1v1h-1zM83 66h1v1h-1zM28 67h1v1h-1zM83 67h1v1h-1zM82 68h1v1h-1zM31 70h2v1h-2zM80 70h1v1h-1zM82 70h1v1h-1zM31 71h1v1h-1zM33 71h1v1h-1zM29 72h1v1h-1zM33 72h3v1h-3zM34 73h3v1h-3zM35 74h1v1h-1zM37 74h1v1h-1zM76 74h1v1h-1zM73 75h1v1h-1zM36 76h1v1h-1zM70 76h2v1h-2zM36 77h1v1h-1zM70 77h1v1h-1zM29 78h1v1h-1zM36 78h2v1h-2zM69 78h1v1h-1zM32 79h3v1h-3zM36 79h2v1h-2zM69 79h3v1h-3zM31 80h2v1h-2zM34 80h2v1h-2zM69 80h2v1h-2zM72 80h1v1h-1zM28 81h5v1h-5zM34 81h1v1h-1zM70 81h1v1h-1zM72 81h1v1h-1zM27 82h2v1h-2zM30 82h1v1h-1zM33 82h1v1h-1zM69 82h2v1h-2zM72 82h1v1h-1zM28 83h1v1h-1zM32 83h2v1h-2zM71 83h1v1h-1zM31 84h3v1h-3zM55 84h1v1h-1zM72 84h2v1h-2zM28 85h7v1h-7zM44 85h1v1h-1zM46 85h1v1h-1zM48 85h1v1h-1zM55 85h1v1h-1zM60 85h1v1h-1zM31 86h1v1h-1zM33 86h1v1h-1zM35 86h1v1h-1zM45 86h1v1h-1zM49 86h1v1h-1zM75 86h2v1h-2zM78 86h1v1h-1zM37 87h1v1h-1zM61 87h2v1h-2zM75 87h1v1h-1zM78 87h1v1h-1zM37 88h1v1h-1zM40 88h1v1h-1zM43 88h1v1h-1zM60 88h1v1h-1zM63 88h1v1h-1zM79 88h1v1h-1zM38 89h1v1h-1zM40 89h2v1h-2zM70 89h6v1h-6zM78 89h2v1h-2zM64 90h1v1h-1zM68 90h1v1h-1zM70 90h1v1h-1zM76 90h2v1h-2zM68 91h1v1h-1zM70 91h1v1h-1zM72 91h1v1h-1zM66 92h3v1h-3zM68 93h2v1h-2zM68 94h2v1h-2zM71 94h1v1h-1zM68 95h2v1h-2zM68 96h1v1h-1zM70 96h1v1h-1zM67 97h2v1h-2zM70 97h4v1h-4zM67 98h2v1h-2zM72 98h2v1h-2zM73 99h1v1h-1z"/><path fill="#f9751d" d="M51 0h4v1h-4zM60 0h4v1h-4zM70 0h1v1h-1zM51 1h1v1h-1zM54 1h1v1h-1zM58 1h5v1h-5zM69 1h2v1h-2zM47 2h2v1h-2zM50 2h2v1h-2zM53 2h6v1h-6zM70 2h1v1h-1zM49 3h1v1h-1zM51 3h1v1h-1zM53 3h2v1h-2zM57 3h1v1h-1zM48 4h2v1h-2zM55 4h1v1h-1zM69 4h1v1h-1zM69 5h2v1h-2zM56 6h3v1h-3zM69 6h1v1h-1zM56 7h1v1h-1zM69 7h2v1h-2zM56 8h1v1h-1zM70 8h1v1h-1zM25 9h1v1h-1zM53 9h2v1h-2zM69 9h1v1h-1zM24 10h1v1h-1zM53 10h2v1h-2zM69 10h1v1h-1zM23 11h1v1h-1zM69 11h1v1h-1zM24 13h2v1h-2zM52 13h1v1h-1zM69 13h1v1h-1zM24 14h1v1h-1zM66 14h2v1h-2zM66 15h2v1h-2zM50 16h1v1h-1zM66 16h2v1h-2zM99 16h1v1h-1zM27 18h1v1h-1zM50 18h1v1h-1zM66 18h1v1h-1zM27 19h1v1h-1zM47 19h1v1h-1zM65 19h1v1h-1zM67 19h1v1h-1zM95 19h1v1h-1zM46 20h1v1h-1zM46 21h1v1h-1zM65 21h2v1h-2zM94 21h1v1h-1zM17 22h1v1h-1zM19 22h3v1h-3zM46 22h1v1h-1zM66 22h2v1h-2zM94 22h1v1h-1zM18 23h1v1h-1zM20 23h1v1h-1zM93 23h1v1h-1zM16 24h1v1h-1zM18 24h1v1h-1zM21 24h1v1h-1zM37 24h2v1h-2zM40 24h1v1h-1zM42 24h1v1h-1zM45 24h1v1h-1zM95 24h1v1h-1zM17 25h1v1h-1zM20 25h2v1h-2zM36 25h1v1h-1zM38 25h1v1h-1zM40 25h2v1h-2zM43 25h3v1h-3zM67 25h1v1h-1zM96 25h2v1h-2zM18 26h5v1h-5zM36 26h1v1h-1zM41 26h4v1h-4zM66 26h1v1h-1zM18 27h1v1h-1zM20 27h2v1h-2zM23 27h1v1h-1zM36 27h1v1h-1zM43 27h2v1h-2zM17 28h1v1h-1zM20 28h1v1h-1zM23 28h1v1h-1zM35 28h2v1h-2zM42 28h1v1h-1zM15 29h2v1h-2zM20 29h1v1h-1zM23 29h1v1h-1zM34 29h2v1h-2zM65 29h1v1h-1zM19 30h1v1h-1zM22 30h2v1h-2zM34 30h1v1h-1zM65 30h1v1h-1zM91 30h2v1h-2zM15 31h1v1h-1zM33 31h1v1h-1zM66 31h1v1h-1zM91 31h1v1h-1zM93 31h1v1h-1zM15 32h1v1h-1zM24 32h1v1h-1zM32 32h1v1h-1zM66 32h3v1h-3zM14 33h3v1h-3zM32 33h1v1h-1zM66 33h2v1h-2zM91 33h1v1h-1zM16 34h1v1h-1zM28 34h2v1h-2zM31 34h3v1h-3zM67 34h2v1h-2zM16 35h1v1h-1zM22 35h1v1h-1zM24 35h1v1h-1zM26 35h3v1h-3zM32 35h3v1h-3zM64 35h2v1h-2zM69 35h1v1h-1zM13 36h1v1h-1zM20 36h2v1h-2zM23 36h1v1h-1zM27 36h1v1h-1zM30 36h2v1h-2zM69 36h2v1h-2zM13 37h2v1h-2zM20 37h1v1h-1zM23 37h4v1h-4zM31 37h1v1h-1zM35 37h1v1h-1zM70 37h1v1h-1zM13 38h1v1h-1zM20 38h1v1h-1zM24 38h2v1h-2zM31 38h1v1h-1zM12 39h2v1h-2zM21 39h1v1h-1zM23 39h2v1h-2zM31 39h3v1h-3zM70 39h1v1h-1zM1 40h2v1h-2zM11 40h1v1h-1zM72 40h1v1h-1zM1 41h1v1h-1zM9 41h2v1h-2zM73 41h1v1h-1zM77 41h1v1h-1zM1 42h1v1h-1zM9 42h1v1h-1zM77 42h1v1h-1zM8 43h2v1h-2zM78 43h1v1h-1zM10 44h1v1h-1zM78 44h1v1h-1zM0 45h1v1h-1zM11 45h1v1h-1zM0 46h1v1h-1zM10 46h1v1h-1zM77 46h2v1h-2zM0 47h1v1h-1zM8 47h1v1h-1zM10 47h1v1h-1zM7 48h2v1h-2zM24 48h1v1h-1zM6 49h3v1h-3zM7 50h1v1h-1zM82 50h1v1h-1zM0 51h2v1h-2zM5 51h1v1h-1zM7 51h1v1h-1zM0 52h2v1h-2zM6 52h2v1h-2zM17 52h1v1h-1zM0 53h1v1h-1zM6 53h1v1h-1zM9 53h3v1h-3zM12 55h2v1h-2zM13 56h1v1h-1zM13 59h1v1h-1zM86 59h1v1h-1zM13 60h1v1h-1zM15 61h1v1h-1zM85 61h1v1h-1zM13 62h2v1h-2zM16 62h1v1h-1zM19 63h1v1h-1zM22 64h1v1h-1zM24 65h1v1h-1zM84 65h1v1h-1zM26 66h3v1h-3zM84 66h1v1h-1zM29 67h2v1h-2zM29 68h1v1h-1zM31 68h1v1h-1zM83 68h1v1h-1zM29 69h1v1h-1zM31 69h1v1h-1zM82 69h2v1h-2zM30 70h1v1h-1zM81 70h1v1h-1zM30 71h1v1h-1zM32 71h1v1h-1zM80 71h1v1h-1zM82 71h1v1h-1zM30 72h2v1h-2zM79 72h4v1h-4zM33 73h1v1h-1zM78 73h2v1h-2zM29 74h1v1h-1zM33 74h2v1h-2zM36 74h1v1h-1zM77 74h2v1h-2zM29 75h1v1h-1zM32 75h2v1h-2zM35 75h2v1h-2zM74 75h3v1h-3zM34 76h2v1h-2zM72 76h2v1h-2zM32 77h4v1h-4zM71 77h2v1h-2zM30 78h2v1h-2zM33 78h2v1h-2zM70 78h2v1h-2zM29 79h2v1h-2zM35 79h1v1h-1zM72 79h1v1h-1zM28 80h2v1h-2zM73 80h2v1h-2zM27 81h1v1h-1zM73 81h1v1h-1zM75 81h1v1h-1zM29 82h1v1h-1zM31 82h1v1h-1zM73 82h1v1h-1zM26 83h2v1h-2zM31 83h1v1h-1zM72 83h3v1h-3zM26 84h3v1h-3zM74 84h1v1h-1zM47 85h1v1h-1zM56 85h4v1h-4zM73 85h7v1h-7zM29 86h2v1h-2zM32 86h1v1h-1zM34 86h1v1h-1zM47 86h2v1h-2zM54 86h1v1h-1zM59 86h2v1h-2zM79 86h1v1h-1zM28 87h7v1h-7zM36 87h1v1h-1zM45 87h1v1h-1zM49 87h2v1h-2zM53 87h1v1h-1zM79 87h1v1h-1zM31 88h1v1h-1zM35 88h1v1h-1zM42 88h1v1h-1zM44 88h1v1h-1zM61 88h2v1h-2zM36 89h1v1h-1zM42 89h2v1h-2zM62 89h2v1h-2zM36 90h1v1h-1zM39 90h2v1h-2zM73 90h1v1h-1zM78 90h1v1h-1zM64 91h1v1h-1zM77 91h1v1h-1zM69 92h4v1h-4zM67 93h1v1h-1zM70 93h1v1h-1zM67 94h1v1h-1zM70 94h1v1h-1zM67 95h1v1h-1zM70 95h2v1h-2zM73 95h2v1h-2zM67 96h1v1h-1zM71 96h2v1h-2zM74 96h2v1h-2zM74 97h2v1h-2zM74 98h1v1h-1zM68 99h1v1h-1zM74 99h1v1h-1z"/><path fill="#fc8423" d="M55 0h1v1h-1zM57 0h1v1h-1zM59 0h1v1h-1zM71 0h1v1h-1zM52 1h2v1h-2zM57 1h1v1h-1zM71 1h1v1h-1zM52 2h1v1h-1zM71 2h1v1h-1zM19 3h2v1h-2zM47 3h1v1h-1zM52 3h1v1h-1zM55 3h1v1h-1zM70 3h2v1h-2zM50 4h2v1h-2zM53 4h2v1h-2zM71 4h1v1h-1zM49 5h1v1h-1zM55 5h1v1h-1zM71 5h1v1h-1zM55 6h1v1h-1zM70 6h1v1h-1zM53 7h1v1h-1zM55 7h1v1h-1zM57 7h1v1h-1zM53 8h2v1h-2zM70 9h1v1h-1zM52 11h2v1h-2zM52 12h1v1h-1zM70 12h1v1h-1zM51 13h1v1h-1zM99 13h1v1h-1zM50 14h2v1h-2zM68 14h1v1h-1zM98 14h1v1h-1zM50 15h1v1h-1zM68 15h1v1h-1zM99 15h1v1h-1zM49 16h1v1h-1zM68 16h1v1h-1zM98 16h1v1h-1zM49 17h1v1h-1zM67 17h1v1h-1zM96 17h2v1h-2zM48 18h1v1h-1zM67 18h1v1h-1zM26 19h1v1h-1zM45 20h1v1h-1zM67 20h1v1h-1zM18 21h3v1h-3zM67 21h1v1h-1zM18 22h1v1h-1zM45 22h1v1h-1zM68 22h1v1h-1zM93 22h1v1h-1zM16 23h2v1h-2zM21 23h1v1h-1zM23 23h1v1h-1zM38 23h2v1h-2zM45 23h1v1h-1zM68 23h1v1h-1zM17 24h1v1h-1zM22 24h1v1h-1zM36 24h1v1h-1zM39 24h1v1h-1zM41 24h1v1h-1zM43 24h2v1h-2zM67 24h2v1h-2zM92 24h3v1h-3zM16 25h1v1h-1zM22 25h1v1h-1zM42 25h1v1h-1zM17 26h1v1h-1zM23 26h1v1h-1zM67 26h1v1h-1zM94 26h2v1h-2zM98 26h2v1h-2zM17 27h1v1h-1zM19 27h1v1h-1zM22 27h1v1h-1zM24 27h1v1h-1zM35 27h1v1h-1zM66 27h1v1h-1zM90 27h2v1h-2zM93 27h3v1h-3zM16 28h1v1h-1zM18 28h1v1h-1zM21 28h1v1h-1zM24 28h1v1h-1zM34 28h1v1h-1zM65 28h2v1h-2zM90 28h2v1h-2zM93 28h1v1h-1zM19 29h1v1h-1zM24 29h1v1h-1zM33 29h1v1h-1zM66 29h1v1h-1zM90 29h5v1h-5zM14 30h2v1h-2zM32 30h1v1h-1zM66 30h1v1h-1zM90 30h1v1h-1zM93 30h2v1h-2zM14 31h1v1h-1zM24 31h1v1h-1zM32 31h1v1h-1zM67 31h2v1h-2zM94 31h1v1h-1zM13 32h2v1h-2zM31 32h1v1h-1zM90 32h4v1h-4zM13 33h1v1h-1zM24 33h1v1h-1zM29 33h1v1h-1zM68 33h2v1h-2zM92 33h1v1h-1zM12 34h1v1h-1zM14 34h2v1h-2zM24 34h2v1h-2zM30 34h1v1h-1zM69 34h1v1h-1zM92 34h1v1h-1zM13 35h3v1h-3zM25 35h1v1h-1zM29 35h2v1h-2zM70 35h1v1h-1zM6 36h1v1h-1zM14 36h2v1h-2zM22 36h1v1h-1zM24 36h2v1h-2zM32 36h1v1h-1zM7 37h1v1h-1zM12 37h1v1h-1zM21 37h2v1h-2zM32 37h1v1h-1zM71 37h1v1h-1zM75 37h1v1h-1zM6 38h1v1h-1zM12 38h1v1h-1zM21 38h1v1h-1zM23 38h1v1h-1zM32 38h1v1h-1zM69 38h2v1h-2zM1 39h3v1h-3zM71 39h2v1h-2zM74 39h2v1h-2zM77 39h1v1h-1zM8 40h3v1h-3zM71 40h1v1h-1zM73 40h3v1h-3zM77 40h1v1h-1zM0 41h1v1h-1zM2 41h2v1h-2zM8 41h1v1h-1zM8 42h1v1h-1zM78 42h1v1h-1zM0 43h1v1h-1zM1 44h1v1h-1zM8 44h2v1h-2zM9 45h2v1h-2zM78 45h1v1h-1zM1 46h1v1h-1zM6 46h2v1h-2zM9 46h1v1h-1zM1 47h1v1h-1zM3 47h2v1h-2zM6 47h2v1h-2zM79 47h1v1h-1zM80 48h1v1h-1zM3 49h1v1h-1zM5 49h1v1h-1zM81 49h1v1h-1zM3 50h4v1h-4zM83 50h1v1h-1zM3 51h2v1h-2zM6 51h1v1h-1zM84 51h1v1h-1zM2 52h4v1h-4zM1 53h5v1h-5zM7 53h2v1h-2zM2 54h1v1h-1zM5 54h3v1h-3zM9 54h1v1h-1zM11 54h1v1h-1zM7 55h1v1h-1zM11 55h1v1h-1zM8 56h2v1h-2zM12 56h1v1h-1zM86 56h1v1h-1zM8 57h1v1h-1zM13 57h1v1h-1zM8 58h1v1h-1zM13 58h1v1h-1zM8 59h1v1h-1zM12 59h1v1h-1zM12 60h1v1h-1zM86 60h1v1h-1zM11 61h4v1h-4zM86 61h1v1h-1zM15 62h1v1h-1zM17 62h1v1h-1zM86 62h1v1h-1zM12 63h1v1h-1zM14 63h1v1h-1zM18 63h1v1h-1zM85 63h1v1h-1zM21 64h1v1h-1zM85 64h1v1h-1zM23 65h1v1h-1zM25 66h1v1h-1zM26 67h2v1h-2zM84 67h1v1h-1zM26 68h3v1h-3zM30 68h1v1h-1zM84 68h1v1h-1zM28 69h1v1h-1zM30 69h1v1h-1zM84 69h1v1h-1zM26 70h4v1h-4zM83 70h1v1h-1zM28 71h2v1h-2zM81 71h1v1h-1zM28 72h1v1h-1zM32 72h1v1h-1zM28 73h5v1h-5zM80 73h3v1h-3zM30 74h3v1h-3zM80 74h1v1h-1zM30 75h2v1h-2zM34 75h1v1h-1zM77 75h1v1h-1zM31 76h3v1h-3zM75 76h1v1h-1zM29 77h3v1h-3zM74 77h1v1h-1zM28 78h1v1h-1zM32 78h1v1h-1zM35 78h1v1h-1zM72 78h3v1h-3zM28 79h1v1h-1zM31 79h1v1h-1zM73 79h3v1h-3zM27 80h1v1h-1zM30 80h1v1h-1zM75 80h1v1h-1zM26 81h1v1h-1zM74 81h1v1h-1zM74 82h1v1h-1zM75 83h1v1h-1zM75 84h2v1h-2zM26 85h1v1h-1zM80 85h1v1h-1zM27 86h2v1h-2zM46 86h1v1h-1zM55 86h2v1h-2zM58 86h1v1h-1zM80 86h1v1h-1zM27 87h1v1h-1zM35 87h1v1h-1zM46 87h3v1h-3zM51 87h2v1h-2zM55 87h2v1h-2zM58 87h3v1h-3zM80 87h1v1h-1zM27 88h4v1h-4zM32 88h3v1h-3zM36 88h1v1h-1zM45 88h1v1h-1zM58 88h2v1h-2zM26 89h3v1h-3zM34 89h2v1h-2zM37 89h1v1h-1zM60 89h2v1h-2zM35 90h1v1h-1zM37 90h2v1h-2zM41 90h2v1h-2zM60 90h2v1h-2zM63 90h1v1h-1zM74 90h2v1h-2zM37 91h3v1h-3zM73 91h2v1h-2zM76 91h1v1h-1zM37 92h2v1h-2zM41 92h1v1h-1zM65 92h1v1h-1zM74 92h1v1h-1zM76 92h1v1h-1zM28 93h1v1h-1zM35 93h1v1h-1zM37 93h2v1h-2zM66 93h1v1h-1zM71 93h3v1h-3zM39 94h1v1h-1zM66 94h1v1h-1zM72 94h2v1h-2zM75 94h1v1h-1zM72 95h1v1h-1zM75 95h2v1h-2zM38 96h3v1h-3zM73 96h1v1h-1zM39 97h2v1h-2zM66 97h1v1h-1zM76 97h1v1h-1zM39 98h4v1h-4zM66 98h1v1h-1zM75 98h1v1h-1zM40 99h2v1h-2zM66 99h2v1h-2zM75 99h1v1h-1z"/><path fill="#fe932a" d="M58 0h1v1h-1zM72 1h1v1h-1zM72 2h1v1h-1zM98 2h1v1h-1zM47 4h1v1h-1zM52 4h1v1h-1zM50 5h3v1h-3zM54 5h1v1h-1zM72 5h1v1h-1zM53 6h2v1h-2zM54 7h1v1h-1zM52 8h1v1h-1zM99 8h1v1h-1zM52 10h1v1h-1zM70 10h2v1h-2zM70 11h1v1h-1zM51 12h1v1h-1zM98 12h2v1h-2zM70 13h1v1h-1zM69 14h2v1h-2zM99 14h1v1h-1zM48 15h2v1h-2zM69 15h1v1h-1zM97 15h2v1h-2zM48 16h1v1h-1zM70 16h1v1h-1zM72 16h1v1h-1zM97 16h1v1h-1zM48 17h1v1h-1zM68 17h1v1h-1zM71 17h1v1h-1zM73 17h1v1h-1zM95 17h1v1h-1zM46 18h1v1h-1zM68 18h2v1h-2zM95 18h1v1h-1zM46 19h1v1h-1zM68 19h1v1h-1zM44 20h1v1h-1zM68 20h1v1h-1zM94 20h1v1h-1zM17 21h1v1h-1zM21 21h1v1h-1zM43 21h3v1h-3zM68 21h1v1h-1zM93 21h1v1h-1zM23 22h1v1h-1zM40 22h1v1h-1zM42 22h1v1h-1zM44 22h1v1h-1zM69 22h1v1h-1zM36 23h2v1h-2zM40 23h2v1h-2zM43 23h2v1h-2zM69 23h1v1h-1zM90 23h1v1h-1zM92 23h1v1h-1zM23 24h2v1h-2zM34 24h2v1h-2zM69 24h1v1h-1zM23 25h1v1h-1zM35 25h1v1h-1zM68 25h1v1h-1zM92 25h4v1h-4zM16 26h1v1h-1zM34 26h2v1h-2zM89 26h1v1h-1zM92 26h2v1h-2zM96 26h2v1h-2zM15 27h2v1h-2zM30 27h1v1h-1zM32 27h3v1h-3zM67 27h1v1h-1zM89 27h1v1h-1zM92 27h1v1h-1zM97 27h1v1h-1zM15 28h1v1h-1zM19 28h1v1h-1zM30 28h1v1h-1zM32 28h2v1h-2zM67 28h1v1h-1zM89 28h1v1h-1zM92 28h1v1h-1zM94 28h2v1h-2zM14 29h1v1h-1zM30 29h3v1h-3zM67 29h1v1h-1zM89 29h1v1h-1zM95 29h1v1h-1zM24 30h1v1h-1zM29 30h3v1h-3zM67 30h2v1h-2zM89 30h1v1h-1zM95 30h1v1h-1zM12 31h2v1h-2zM30 31h2v1h-2zM69 31h1v1h-1zM90 31h1v1h-1zM12 32h1v1h-1zM25 32h2v1h-2zM29 32h2v1h-2zM89 32h1v1h-1zM11 33h2v1h-2zM25 33h4v1h-4zM30 33h2v1h-2zM89 33h2v1h-2zM93 33h1v1h-1zM11 34h1v1h-1zM13 34h1v1h-1zM26 34h2v1h-2zM91 34h1v1h-1zM93 34h1v1h-1zM11 35h2v1h-2zM91 35h3v1h-3zM5 36h1v1h-1zM12 36h1v1h-1zM33 36h2v1h-2zM71 36h1v1h-1zM4 37h3v1h-3zM10 37h1v1h-1zM33 37h2v1h-2zM74 37h1v1h-1zM3 38h3v1h-3zM7 38h1v1h-1zM11 38h1v1h-1zM22 38h1v1h-1zM33 38h1v1h-1zM71 38h1v1h-1zM73 38h4v1h-4zM0 39h1v1h-1zM4 39h6v1h-6zM11 39h1v1h-1zM73 39h1v1h-1zM76 39h1v1h-1zM3 40h2v1h-2zM76 40h1v1h-1zM78 40h1v1h-1zM7 41h1v1h-1zM78 41h1v1h-1zM0 42h1v1h-1zM1 43h1v1h-1zM7 43h1v1h-1zM79 43h1v1h-1zM0 44h1v1h-1zM4 44h4v1h-4zM79 44h1v1h-1zM1 45h2v1h-2zM4 45h5v1h-5zM79 45h1v1h-1zM2 46h2v1h-2zM5 46h1v1h-1zM8 46h1v1h-1zM79 46h1v1h-1zM2 47h1v1h-1zM5 47h1v1h-1zM0 48h3v1h-3zM4 48h3v1h-3zM81 48h1v1h-1zM4 49h1v1h-1zM82 49h1v1h-1zM0 50h3v1h-3zM2 51h1v1h-1zM0 54h2v1h-2zM4 54h1v1h-1zM8 54h1v1h-1zM10 54h1v1h-1zM0 55h2v1h-2zM8 55h3v1h-3zM6 56h1v1h-1zM11 56h1v1h-1zM6 57h2v1h-2zM9 57h1v1h-1zM12 57h1v1h-1zM7 58h1v1h-1zM9 58h2v1h-2zM12 58h1v1h-1zM87 58h1v1h-1zM7 59h1v1h-1zM9 59h1v1h-1zM11 59h1v1h-1zM8 60h4v1h-4zM87 60h1v1h-1zM10 61h1v1h-1zM10 62h3v1h-3zM15 63h2v1h-2zM86 63h1v1h-1zM12 64h1v1h-1zM14 64h1v1h-1zM19 64h2v1h-2zM24 66h1v1h-1zM25 67h1v1h-1zM25 68h1v1h-1zM85 68h1v1h-1zM26 69h2v1h-2zM25 70h1v1h-1zM25 71h1v1h-1zM27 71h1v1h-1zM83 71h1v1h-1zM27 72h1v1h-1zM28 74h1v1h-1zM79 74h1v1h-1zM81 74h2v1h-2zM28 75h1v1h-1zM78 75h4v1h-4zM29 76h2v1h-2zM74 76h1v1h-1zM76 76h2v1h-2zM28 77h1v1h-1zM73 77h1v1h-1zM75 77h1v1h-1zM75 78h1v1h-1zM27 79h1v1h-1zM76 79h1v1h-1zM26 80h1v1h-1zM76 81h1v1h-1zM26 82h1v1h-1zM75 82h1v1h-1zM25 83h1v1h-1zM76 83h1v1h-1zM25 84h1v1h-1zM77 84h2v1h-2zM25 85h1v1h-1zM27 85h1v1h-1zM26 86h1v1h-1zM57 86h1v1h-1zM26 87h1v1h-1zM54 87h1v1h-1zM57 87h1v1h-1zM26 88h1v1h-1zM46 88h3v1h-3zM52 88h1v1h-1zM80 88h1v1h-1zM29 89h1v1h-1zM31 89h3v1h-3zM44 89h1v1h-1zM59 89h1v1h-1zM26 90h3v1h-3zM30 90h1v1h-1zM33 90h1v1h-1zM62 90h1v1h-1zM79 90h1v1h-1zM27 91h1v1h-1zM29 91h1v1h-1zM34 91h3v1h-3zM40 91h3v1h-3zM62 91h2v1h-2zM75 91h1v1h-1zM78 91h1v1h-1zM28 92h1v1h-1zM33 92h4v1h-4zM40 92h1v1h-1zM42 92h1v1h-1zM64 92h1v1h-1zM73 92h1v1h-1zM34 93h1v1h-1zM36 93h1v1h-1zM39 93h1v1h-1zM42 93h1v1h-1zM65 93h1v1h-1zM76 93h1v1h-1zM28 94h3v1h-3zM33 94h2v1h-2zM36 94h3v1h-3zM40 94h3v1h-3zM74 94h1v1h-1zM76 94h1v1h-1zM37 95h3v1h-3zM41 95h1v1h-1zM66 95h1v1h-1zM41 96h2v1h-2zM66 96h1v1h-1zM76 96h2v1h-2zM38 97h1v1h-1zM41 97h3v1h-3zM65 97h1v1h-1zM38 98h1v1h-1zM65 98h1v1h-1zM76 98h1v1h-1zM39 99h1v1h-1zM65 99h1v1h-1zM76 99h2v1h-2z"/><path fill="#f05b12" d="M64 0h1v1h-1zM67 0h1v1h-1zM67 1h1v1h-1zM56 3h1v1h-1zM59 3h3v1h-3zM64 3h2v1h-2zM68 3h1v1h-1zM58 4h7v1h-7zM68 4h1v1h-1zM60 5h6v1h-6zM68 5h1v1h-1zM59 6h1v1h-1zM62 6h1v1h-1zM64 6h2v1h-2zM68 6h1v1h-1zM58 7h4v1h-4zM65 7h1v1h-1zM68 7h1v1h-1zM58 8h7v1h-7zM67 8h2v1h-2zM57 9h2v1h-2zM61 9h1v1h-1zM67 9h1v1h-1zM57 10h4v1h-4zM62 10h1v1h-1zM68 10h1v1h-1zM57 11h1v1h-1zM60 11h2v1h-2zM55 12h1v1h-1zM67 12h1v1h-1zM54 13h2v1h-2zM63 13h1v1h-1zM65 13h2v1h-2zM25 14h1v1h-1zM52 14h1v1h-1zM54 14h1v1h-1zM64 14h1v1h-1zM52 15h2v1h-2zM62 15h1v1h-1zM51 16h4v1h-4zM61 16h1v1h-1zM65 16h1v1h-1zM51 17h1v1h-1zM53 17h1v1h-1zM65 17h1v1h-1zM65 18h1v1h-1zM64 19h1v1h-1zM48 20h2v1h-2zM62 20h1v1h-1zM64 20h1v1h-1zM22 21h1v1h-1zM95 21h1v1h-1zM22 22h1v1h-1zM47 22h2v1h-2zM61 22h1v1h-1zM63 22h1v1h-1zM65 22h1v1h-1zM22 23h1v1h-1zM62 23h4v1h-4zM95 23h1v1h-1zM49 24h1v1h-1zM60 24h1v1h-1zM62 24h1v1h-1zM65 24h1v1h-1zM96 24h1v1h-1zM48 25h1v1h-1zM60 25h2v1h-2zM65 25h1v1h-1zM39 26h2v1h-2zM46 26h1v1h-1zM61 26h1v1h-1zM37 27h4v1h-4zM45 27h1v1h-1zM60 27h2v1h-2zM63 27h2v1h-2zM40 28h1v1h-1zM46 28h1v1h-1zM59 28h1v1h-1zM61 28h3v1h-3zM36 29h1v1h-1zM40 29h1v1h-1zM43 29h2v1h-2zM47 29h1v1h-1zM59 29h4v1h-4zM18 30h1v1h-1zM41 30h3v1h-3zM63 30h2v1h-2zM16 31h1v1h-1zM34 31h2v1h-2zM64 31h2v1h-2zM17 32h1v1h-1zM20 32h1v1h-1zM22 32h1v1h-1zM33 32h1v1h-1zM35 32h1v1h-1zM17 33h1v1h-1zM22 33h1v1h-1zM35 33h2v1h-2zM64 33h2v1h-2zM17 34h2v1h-2zM36 34h1v1h-1zM40 34h1v1h-1zM64 34h1v1h-1zM17 35h1v1h-1zM19 35h1v1h-1zM36 35h6v1h-6zM61 35h1v1h-1zM63 35h1v1h-1zM68 35h1v1h-1zM17 36h3v1h-3zM28 36h1v1h-1zM37 36h2v1h-2zM64 36h1v1h-1zM67 36h1v1h-1zM17 37h2v1h-2zM27 37h2v1h-2zM36 37h2v1h-2zM39 37h1v1h-1zM61 37h4v1h-4zM66 37h1v1h-1zM16 38h1v1h-1zM19 38h1v1h-1zM27 38h3v1h-3zM35 38h1v1h-1zM67 38h1v1h-1zM14 39h2v1h-2zM19 39h1v1h-1zM28 39h1v1h-1zM30 39h1v1h-1zM34 39h2v1h-2zM68 39h1v1h-1zM14 40h1v1h-1zM21 40h3v1h-3zM25 40h1v1h-1zM27 40h1v1h-1zM30 40h3v1h-3zM34 40h1v1h-1zM69 40h1v1h-1zM13 41h2v1h-2zM25 41h1v1h-1zM69 41h3v1h-3zM25 42h2v1h-2zM67 42h1v1h-1zM73 42h1v1h-1zM75 42h1v1h-1zM11 43h2v1h-2zM26 43h1v1h-1zM76 43h1v1h-1zM11 44h4v1h-4zM20 44h1v1h-1zM25 44h3v1h-3zM12 45h1v1h-1zM14 45h1v1h-1zM20 45h1v1h-1zM24 45h2v1h-2zM13 46h2v1h-2zM22 46h3v1h-3zM76 46h1v1h-1zM12 47h3v1h-3zM19 47h3v1h-3zM24 47h1v1h-1zM11 48h3v1h-3zM20 48h4v1h-4zM78 48h1v1h-1zM10 49h3v1h-3zM14 49h1v1h-1zM20 49h2v1h-2zM25 49h1v1h-1zM80 49h1v1h-1zM10 50h2v1h-2zM15 50h1v1h-1zM21 50h3v1h-3zM81 50h1v1h-1zM9 51h1v1h-1zM11 51h1v1h-1zM13 51h3v1h-3zM18 51h2v1h-2zM24 51h1v1h-1zM83 51h1v1h-1zM11 52h1v1h-1zM13 52h2v1h-2zM13 53h3v1h-3zM17 54h2v1h-2zM84 54h1v1h-1zM16 55h1v1h-1zM18 55h1v1h-1zM84 55h1v1h-1zM15 56h2v1h-2zM85 57h1v1h-1zM16 59h1v1h-1zM85 59h1v1h-1zM16 60h1v1h-1zM85 60h1v1h-1zM18 61h1v1h-1zM28 61h1v1h-1zM22 62h1v1h-1zM27 62h1v1h-1zM84 62h1v1h-1zM22 63h2v1h-2zM26 63h1v1h-1zM29 63h1v1h-1zM84 63h1v1h-1zM24 64h6v1h-6zM28 65h2v1h-2zM30 66h1v1h-1zM82 66h1v1h-1zM31 67h1v1h-1zM32 68h1v1h-1zM81 68h1v1h-1zM32 69h1v1h-1zM80 69h2v1h-2zM33 70h1v1h-1zM35 70h1v1h-1zM79 70h1v1h-1zM35 71h2v1h-2zM40 71h2v1h-2zM79 71h1v1h-1zM36 72h1v1h-1zM77 72h2v1h-2zM37 73h1v1h-1zM76 73h2v1h-2zM40 74h1v1h-1zM73 74h2v1h-2zM37 75h1v1h-1zM71 75h2v1h-2zM37 76h1v1h-1zM37 77h2v1h-2zM69 77h1v1h-1zM39 78h1v1h-1zM68 78h1v1h-1zM38 79h3v1h-3zM68 79h1v1h-1zM33 80h1v1h-1zM36 80h6v1h-6zM68 80h1v1h-1zM71 80h1v1h-1zM33 81h1v1h-1zM35 81h3v1h-3zM40 81h1v1h-1zM68 81h2v1h-2zM71 81h1v1h-1zM32 82h1v1h-1zM34 82h1v1h-1zM38 82h3v1h-3zM68 82h1v1h-1zM71 82h1v1h-1zM29 83h2v1h-2zM34 83h1v1h-1zM38 83h3v1h-3zM55 83h1v1h-1zM69 83h2v1h-2zM29 84h2v1h-2zM34 84h3v1h-3zM44 84h4v1h-4zM56 84h2v1h-2zM59 84h1v1h-1zM70 84h2v1h-2zM35 85h1v1h-1zM42 85h2v1h-2zM45 85h1v1h-1zM54 85h1v1h-1zM72 85h1v1h-1zM36 86h2v1h-2zM43 86h2v1h-2zM50 86h2v1h-2zM53 86h1v1h-1zM61 86h3v1h-3zM73 86h2v1h-2zM77 86h1v1h-1zM38 87h1v1h-1zM44 87h1v1h-1zM63 87h1v1h-1zM73 87h2v1h-2zM76 87h2v1h-2zM38 88h2v1h-2zM41 88h1v1h-1zM72 88h7v1h-7zM39 89h1v1h-1zM64 89h1v1h-1zM77 89h1v1h-1zM69 90h1v1h-1zM71 90h2v1h-2zM65 91h3v1h-3zM69 91h1v1h-1zM71 91h1v1h-1zM69 96h1v1h-1zM69 97h1v1h-1zM69 98h3v1h-3zM72 99h1v1h-1z"/><path fill="#ea4e0d" d="M65 0h2v1h-2zM65 1h2v1h-2zM65 2h3v1h-3zM62 3h1v1h-1zM66 3h2v1h-2zM65 4h3v1h-3zM26 5h1v1h-1zM67 5h1v1h-1zM26 6h1v1h-1zM66 6h2v1h-2zM65 8h2v1h-2zM59 9h2v1h-2zM62 9h2v1h-2zM61 10h1v1h-1zM63 10h1v1h-1zM67 10h1v1h-1zM56 11h1v1h-1zM58 11h2v1h-2zM62 11h1v1h-1zM67 11h1v1h-1zM61 12h3v1h-3zM66 12h1v1h-1zM62 13h1v1h-1zM64 13h1v1h-1zM55 14h1v1h-1zM62 14h2v1h-2zM55 15h1v1h-1zM63 15h3v1h-3zM55 16h2v1h-2zM62 16h3v1h-3zM52 17h1v1h-1zM60 17h1v1h-1zM63 17h2v1h-2zM24 18h1v1h-1zM51 18h1v1h-1zM60 18h2v1h-2zM64 18h1v1h-1zM97 18h3v1h-3zM23 19h1v1h-1zM50 19h1v1h-1zM62 19h2v1h-2zM50 20h1v1h-1zM61 20h1v1h-1zM63 20h1v1h-1zM96 20h1v1h-1zM48 21h2v1h-2zM51 21h1v1h-1zM61 21h2v1h-2zM49 22h1v1h-1zM60 22h1v1h-1zM47 23h1v1h-1zM49 23h1v1h-1zM56 23h1v1h-1zM60 23h1v1h-1zM48 24h1v1h-1zM58 24h2v1h-2zM61 24h1v1h-1zM63 24h2v1h-2zM97 24h3v1h-3zM47 25h1v1h-1zM49 25h1v1h-1zM63 25h1v1h-1zM49 26h2v1h-2zM55 26h1v1h-1zM59 26h2v1h-2zM62 26h1v1h-1zM64 26h1v1h-1zM46 27h2v1h-2zM49 27h1v1h-1zM59 27h1v1h-1zM37 28h1v1h-1zM39 28h1v1h-1zM45 28h1v1h-1zM47 28h2v1h-2zM37 29h3v1h-3zM45 29h1v1h-1zM48 29h2v1h-2zM36 30h1v1h-1zM40 30h1v1h-1zM44 30h2v1h-2zM49 30h1v1h-1zM59 30h2v1h-2zM17 31h3v1h-3zM36 31h1v1h-1zM41 31h3v1h-3zM58 31h2v1h-2zM63 31h1v1h-1zM18 32h1v1h-1zM21 32h1v1h-1zM37 32h1v1h-1zM59 32h1v1h-1zM64 32h1v1h-1zM18 33h1v1h-1zM21 33h1v1h-1zM37 33h2v1h-2zM40 33h2v1h-2zM20 34h1v1h-1zM38 34h1v1h-1zM41 34h4v1h-4zM61 34h2v1h-2zM42 35h2v1h-2zM62 35h1v1h-1zM39 36h4v1h-4zM44 36h1v1h-1zM61 36h1v1h-1zM16 37h1v1h-1zM19 37h1v1h-1zM38 37h1v1h-1zM40 37h1v1h-1zM65 37h1v1h-1zM17 38h2v1h-2zM36 38h2v1h-2zM39 38h1v1h-1zM61 38h2v1h-2zM66 38h1v1h-1zM16 39h1v1h-1zM18 39h1v1h-1zM27 39h1v1h-1zM29 39h1v1h-1zM36 39h1v1h-1zM38 39h1v1h-1zM67 39h1v1h-1zM15 40h1v1h-1zM17 40h4v1h-4zM29 40h1v1h-1zM35 40h2v1h-2zM67 40h2v1h-2zM16 41h2v1h-2zM19 41h2v1h-2zM22 41h1v1h-1zM24 41h1v1h-1zM26 41h1v1h-1zM30 41h1v1h-1zM34 41h1v1h-1zM39 41h1v1h-1zM67 41h2v1h-2zM14 42h5v1h-5zM22 42h3v1h-3zM27 42h1v1h-1zM68 42h5v1h-5zM14 43h4v1h-4zM19 43h1v1h-1zM23 43h1v1h-1zM27 43h2v1h-2zM59 43h1v1h-1zM61 43h2v1h-2zM67 43h1v1h-1zM74 43h2v1h-2zM15 44h2v1h-2zM23 44h1v1h-1zM28 44h1v1h-1zM30 44h1v1h-1zM58 44h1v1h-1zM61 44h2v1h-2zM15 45h1v1h-1zM21 45h3v1h-3zM26 45h1v1h-1zM59 45h1v1h-1zM62 45h1v1h-1zM76 45h1v1h-1zM19 46h3v1h-3zM25 46h1v1h-1zM15 47h1v1h-1zM22 47h1v1h-1zM25 47h2v1h-2zM77 47h1v1h-1zM14 48h3v1h-3zM19 48h1v1h-1zM25 48h1v1h-1zM13 49h1v1h-1zM15 49h1v1h-1zM19 49h1v1h-1zM26 49h1v1h-1zM79 49h1v1h-1zM12 50h3v1h-3zM16 50h2v1h-2zM19 50h2v1h-2zM24 50h2v1h-2zM80 50h1v1h-1zM12 51h1v1h-1zM21 51h3v1h-3zM12 52h1v1h-1zM19 52h1v1h-1zM19 53h1v1h-1zM19 54h1v1h-1zM83 54h1v1h-1zM19 55h1v1h-1zM83 55h1v1h-1zM17 56h2v1h-2zM15 57h1v1h-1zM17 58h1v1h-1zM19 58h1v1h-1zM85 58h1v1h-1zM17 59h3v1h-3zM29 59h1v1h-1zM17 60h2v1h-2zM28 60h2v1h-2zM26 61h1v1h-1zM29 61h1v1h-1zM84 61h1v1h-1zM20 62h2v1h-2zM23 62h1v1h-1zM28 62h2v1h-2zM24 63h2v1h-2zM27 63h2v1h-2zM30 63h1v1h-1zM30 64h1v1h-1zM30 65h2v1h-2zM83 65h1v1h-1zM31 66h1v1h-1zM32 67h1v1h-1zM81 67h2v1h-2zM80 68h1v1h-1zM33 69h1v1h-1zM35 69h1v1h-1zM73 69h1v1h-1zM79 69h1v1h-1zM34 70h1v1h-1zM36 70h1v1h-1zM42 70h1v1h-1zM72 70h1v1h-1zM34 71h1v1h-1zM37 71h1v1h-1zM76 71h1v1h-1zM78 71h1v1h-1zM37 72h1v1h-1zM39 72h3v1h-3zM73 72h1v1h-1zM76 72h1v1h-1zM38 73h4v1h-4zM67 73h1v1h-1zM72 73h4v1h-4zM38 74h2v1h-2zM41 74h1v1h-1zM67 74h1v1h-1zM71 74h2v1h-2zM75 74h1v1h-1zM38 75h4v1h-4zM70 75h1v1h-1zM38 76h2v1h-2zM41 76h1v1h-1zM67 76h3v1h-3zM39 77h1v1h-1zM41 77h1v1h-1zM59 77h1v1h-1zM68 77h1v1h-1zM38 78h1v1h-1zM40 78h1v1h-1zM41 79h1v1h-1zM42 80h1v1h-1zM38 81h2v1h-2zM41 81h2v1h-2zM67 81h1v1h-1zM35 82h3v1h-3zM65 82h1v1h-1zM67 82h1v1h-1zM35 83h3v1h-3zM41 83h1v1h-1zM43 83h1v1h-1zM46 83h1v1h-1zM54 83h1v1h-1zM56 83h1v1h-1zM58 83h1v1h-1zM61 83h1v1h-1zM68 83h1v1h-1zM37 84h2v1h-2zM40 84h2v1h-2zM43 84h1v1h-1zM48 84h1v1h-1zM54 84h1v1h-1zM58 84h1v1h-1zM60 84h3v1h-3zM64 84h1v1h-1zM69 84h1v1h-1zM36 85h1v1h-1zM39 85h3v1h-3zM49 85h1v1h-1zM52 85h2v1h-2zM61 85h1v1h-1zM64 85h3v1h-3zM71 85h1v1h-1zM40 86h2v1h-2zM52 86h1v1h-1zM64 86h1v1h-1zM72 86h1v1h-1zM39 87h5v1h-5zM64 87h1v1h-1zM64 88h1v1h-1zM69 88h3v1h-3zM68 89h2v1h-2zM76 89h1v1h-1zM66 90h1v1h-1zM69 99h2v1h-2z"/><path fill="#fea130" d="M72 0h2v1h-2zM73 1h1v1h-1zM99 1h1v1h-1zM73 2h1v1h-1zM99 2h1v1h-1zM72 3h1v1h-1zM97 3h3v1h-3zM46 4h1v1h-1zM72 4h2v1h-2zM97 4h2v1h-2zM48 5h1v1h-1zM53 5h1v1h-1zM73 5h1v1h-1zM96 5h4v1h-4zM49 6h1v1h-1zM52 6h1v1h-1zM71 6h2v1h-2zM98 6h2v1h-2zM51 7h2v1h-2zM71 7h2v1h-2zM96 7h4v1h-4zM71 8h1v1h-1zM97 8h2v1h-2zM52 9h1v1h-1zM71 9h1v1h-1zM98 9h2v1h-2zM98 10h2v1h-2zM51 11h1v1h-1zM71 11h1v1h-1zM98 11h2v1h-2zM50 12h1v1h-1zM71 12h2v1h-2zM49 13h2v1h-2zM71 13h2v1h-2zM98 13h1v1h-1zM48 14h2v1h-2zM71 14h1v1h-1zM97 14h1v1h-1zM70 15h2v1h-2zM96 15h1v1h-1zM69 16h1v1h-1zM71 16h1v1h-1zM96 16h1v1h-1zM47 17h1v1h-1zM69 17h2v1h-2zM72 17h1v1h-1zM47 18h1v1h-1zM70 18h1v1h-1zM72 18h2v1h-2zM45 19h1v1h-1zM69 19h2v1h-2zM94 19h1v1h-1zM20 20h3v1h-3zM42 20h2v1h-2zM69 20h1v1h-1zM93 20h1v1h-1zM23 21h1v1h-1zM38 21h1v1h-1zM41 21h2v1h-2zM16 22h1v1h-1zM24 22h1v1h-1zM36 22h4v1h-4zM41 22h1v1h-1zM43 22h1v1h-1zM70 22h1v1h-1zM91 22h2v1h-2zM24 23h2v1h-2zM35 23h1v1h-1zM42 23h1v1h-1zM89 23h1v1h-1zM91 23h1v1h-1zM15 24h1v1h-1zM25 24h2v1h-2zM31 24h1v1h-1zM72 24h1v1h-1zM89 24h3v1h-3zM14 25h2v1h-2zM24 25h2v1h-2zM29 25h4v1h-4zM34 25h1v1h-1zM69 25h1v1h-1zM89 25h3v1h-3zM24 26h1v1h-1zM29 26h2v1h-2zM33 26h1v1h-1zM68 26h2v1h-2zM88 26h1v1h-1zM90 26h2v1h-2zM12 27h3v1h-3zM25 27h1v1h-1zM29 27h1v1h-1zM31 27h1v1h-1zM68 27h1v1h-1zM71 27h1v1h-1zM88 27h1v1h-1zM96 27h1v1h-1zM98 27h2v1h-2zM13 28h1v1h-1zM25 28h1v1h-1zM31 28h1v1h-1zM70 28h1v1h-1zM96 28h3v1h-3zM12 29h2v1h-2zM25 29h1v1h-1zM29 29h1v1h-1zM68 29h3v1h-3zM86 29h1v1h-1zM88 29h1v1h-1zM96 29h2v1h-2zM11 30h3v1h-3zM69 30h1v1h-1zM88 30h1v1h-1zM11 31h1v1h-1zM25 31h2v1h-2zM28 31h2v1h-2zM88 31h2v1h-2zM10 32h2v1h-2zM27 32h2v1h-2zM69 32h2v1h-2zM94 32h1v1h-1zM10 33h1v1h-1zM70 33h1v1h-1zM94 33h1v1h-1zM10 34h1v1h-1zM70 34h2v1h-2zM90 34h1v1h-1zM94 34h1v1h-1zM5 35h2v1h-2zM10 35h1v1h-1zM71 35h1v1h-1zM89 35h1v1h-1zM94 35h1v1h-1zM4 36h1v1h-1zM7 36h1v1h-1zM9 36h1v1h-1zM11 36h1v1h-1zM72 36h1v1h-1zM74 36h1v1h-1zM92 36h1v1h-1zM3 37h1v1h-1zM8 37h1v1h-1zM11 37h1v1h-1zM72 37h2v1h-2zM76 37h1v1h-1zM0 38h3v1h-3zM8 38h3v1h-3zM72 38h1v1h-1zM10 39h1v1h-1zM5 40h3v1h-3zM2 42h2v1h-2zM7 42h1v1h-1zM3 43h1v1h-1zM5 43h2v1h-2zM2 44h1v1h-1zM3 45h1v1h-1zM80 45h1v1h-1zM4 46h1v1h-1zM80 47h1v1h-1zM3 48h1v1h-1zM0 49h3v1h-3zM3 54h1v1h-1zM3 55h1v1h-1zM5 55h2v1h-2zM4 56h2v1h-2zM7 56h1v1h-1zM10 56h1v1h-1zM87 56h1v1h-1zM5 57h1v1h-1zM10 57h2v1h-2zM87 57h1v1h-1zM6 58h1v1h-1zM11 58h1v1h-1zM6 59h1v1h-1zM10 59h1v1h-1zM87 59h1v1h-1zM7 60h1v1h-1zM1 61h1v1h-1zM8 61h2v1h-2zM87 61h1v1h-1zM87 62h1v1h-1zM0 63h2v1h-2zM10 63h2v1h-2zM13 63h1v1h-1zM17 63h1v1h-1zM11 64h1v1h-1zM13 64h1v1h-1zM15 64h2v1h-2zM18 64h1v1h-1zM86 64h1v1h-1zM13 65h2v1h-2zM20 65h3v1h-3zM13 66h1v1h-1zM15 66h1v1h-1zM23 66h1v1h-1zM24 67h1v1h-1zM17 68h1v1h-1zM86 68h1v1h-1zM17 69h1v1h-1zM24 69h2v1h-2zM17 70h1v1h-1zM24 70h1v1h-1zM84 70h1v1h-1zM16 71h2v1h-2zM26 71h1v1h-1zM16 72h3v1h-3zM25 72h2v1h-2zM83 72h1v1h-1zM16 73h1v1h-1zM26 73h2v1h-2zM83 73h1v1h-1zM83 74h1v1h-1zM82 75h1v1h-1zM28 76h1v1h-1zM78 76h2v1h-2zM81 76h1v1h-1zM76 77h2v1h-2zM27 78h1v1h-1zM76 78h1v1h-1zM76 80h1v1h-1zM25 81h1v1h-1zM77 81h1v1h-1zM80 81h1v1h-1zM25 82h1v1h-1zM76 82h2v1h-2zM77 83h3v1h-3zM24 84h1v1h-1zM79 84h3v1h-3zM24 85h1v1h-1zM82 85h1v1h-1zM25 86h1v1h-1zM81 86h1v1h-1zM25 87h1v1h-1zM81 87h1v1h-1zM25 88h1v1h-1zM49 88h3v1h-3zM53 88h2v1h-2zM56 88h2v1h-2zM25 89h1v1h-1zM30 89h1v1h-1zM45 89h1v1h-1zM48 89h1v1h-1zM57 89h2v1h-2zM80 89h1v1h-1zM25 90h1v1h-1zM31 90h2v1h-2zM34 90h1v1h-1zM43 90h3v1h-3zM59 90h1v1h-1zM26 91h1v1h-1zM28 91h1v1h-1zM30 91h2v1h-2zM33 91h1v1h-1zM43 91h1v1h-1zM60 91h2v1h-2zM26 92h2v1h-2zM29 92h3v1h-3zM39 92h1v1h-1zM75 92h1v1h-1zM77 92h2v1h-2zM27 93h1v1h-1zM29 93h5v1h-5zM40 93h2v1h-2zM43 93h1v1h-1zM74 93h2v1h-2zM77 93h1v1h-1zM26 94h1v1h-1zM32 94h1v1h-1zM35 94h1v1h-1zM43 94h1v1h-1zM65 94h1v1h-1zM77 94h1v1h-1zM34 95h1v1h-1zM36 95h1v1h-1zM40 95h1v1h-1zM43 95h1v1h-1zM65 95h1v1h-1zM77 95h1v1h-1zM37 96h1v1h-1zM43 96h1v1h-1zM64 96h1v1h-1zM77 97h1v1h-1zM37 98h1v1h-1zM43 98h1v1h-1zM64 98h1v1h-1zM77 98h1v1h-1zM38 99h1v1h-1zM42 99h1v1h-1z"/><path fill="#fdae35" d="M74 0h1v1h-1zM97 0h3v1h-3zM74 1h1v1h-1zM97 1h2v1h-2zM96 2h2v1h-2zM73 3h2v1h-2zM96 3h1v1h-1zM96 4h1v1h-1zM99 4h1v1h-1zM30 5h1v1h-1zM45 5h3v1h-3zM74 5h1v1h-1zM95 5h1v1h-1zM50 6h2v1h-2zM95 6h3v1h-3zM94 7h2v1h-2zM46 8h1v1h-1zM94 8h3v1h-3zM51 9h1v1h-1zM97 9h1v1h-1zM51 10h1v1h-1zM50 11h1v1h-1zM97 11h1v1h-1zM28 12h1v1h-1zM49 12h1v1h-1zM73 12h1v1h-1zM97 12h1v1h-1zM48 13h1v1h-1zM97 13h1v1h-1zM72 14h2v1h-2zM44 15h1v1h-1zM72 15h2v1h-2zM27 16h1v1h-1zM47 16h1v1h-1zM73 16h2v1h-2zM95 16h1v1h-1zM46 17h1v1h-1zM94 17h1v1h-1zM35 18h1v1h-1zM44 18h2v1h-2zM71 18h1v1h-1zM94 18h1v1h-1zM22 19h1v1h-1zM41 19h2v1h-2zM44 19h1v1h-1zM71 19h3v1h-3zM93 19h1v1h-1zM17 20h3v1h-3zM38 20h4v1h-4zM70 20h2v1h-2zM16 21h1v1h-1zM36 21h2v1h-2zM39 21h2v1h-2zM69 21h1v1h-1zM71 21h3v1h-3zM91 21h2v1h-2zM25 22h2v1h-2zM72 22h1v1h-1zM89 22h2v1h-2zM15 23h1v1h-1zM26 23h1v1h-1zM31 23h1v1h-1zM33 23h1v1h-1zM70 23h1v1h-1zM72 23h2v1h-2zM88 23h1v1h-1zM29 24h2v1h-2zM32 24h2v1h-2zM70 24h1v1h-1zM88 24h1v1h-1zM13 25h1v1h-1zM28 25h1v1h-1zM33 25h1v1h-1zM70 25h4v1h-4zM88 25h1v1h-1zM12 26h4v1h-4zM25 26h4v1h-4zM31 26h2v1h-2zM70 26h3v1h-3zM26 27h1v1h-1zM28 27h1v1h-1zM69 27h2v1h-2zM72 27h1v1h-1zM86 27h1v1h-1zM10 28h3v1h-3zM14 28h1v1h-1zM26 28h1v1h-1zM68 28h2v1h-2zM71 28h2v1h-2zM85 28h2v1h-2zM88 28h1v1h-1zM99 28h1v1h-1zM7 29h5v1h-5zM26 29h3v1h-3zM71 29h1v1h-1zM98 29h1v1h-1zM9 30h2v1h-2zM25 30h1v1h-1zM28 30h1v1h-1zM70 30h2v1h-2zM84 30h1v1h-1zM86 30h1v1h-1zM7 31h1v1h-1zM9 31h2v1h-2zM27 31h1v1h-1zM86 31h2v1h-2zM95 31h1v1h-1zM9 32h1v1h-1zM86 32h1v1h-1zM88 32h1v1h-1zM95 32h1v1h-1zM9 33h1v1h-1zM86 33h1v1h-1zM88 33h1v1h-1zM95 33h1v1h-1zM5 34h3v1h-3zM9 34h1v1h-1zM88 34h2v1h-2zM95 34h1v1h-1zM4 35h1v1h-1zM7 35h1v1h-1zM9 35h1v1h-1zM72 35h1v1h-1zM90 35h1v1h-1zM95 35h1v1h-1zM2 36h1v1h-1zM8 36h1v1h-1zM10 36h1v1h-1zM73 36h1v1h-1zM75 36h1v1h-1zM90 36h2v1h-2zM93 36h1v1h-1zM0 37h3v1h-3zM9 37h1v1h-1zM90 37h3v1h-3zM77 38h1v1h-1zM78 39h1v1h-1zM79 40h1v1h-1zM4 41h3v1h-3zM79 41h1v1h-1zM4 42h1v1h-1zM6 42h1v1h-1zM79 42h1v1h-1zM2 43h1v1h-1zM4 43h1v1h-1zM3 44h1v1h-1zM80 44h1v1h-1zM82 48h1v1h-1zM84 50h1v1h-1zM2 55h1v1h-1zM4 55h1v1h-1zM3 56h1v1h-1zM1 57h1v1h-1zM3 57h2v1h-2zM88 57h1v1h-1zM4 58h2v1h-2zM1 59h1v1h-1zM4 59h1v1h-1zM0 60h3v1h-3zM4 60h1v1h-1zM6 60h1v1h-1zM0 61h1v1h-1zM2 61h1v1h-1zM7 61h1v1h-1zM88 61h1v1h-1zM0 62h1v1h-1zM9 62h1v1h-1zM88 62h1v1h-1zM90 62h1v1h-1zM9 63h1v1h-1zM87 63h1v1h-1zM0 64h1v1h-1zM9 64h2v1h-2zM17 64h1v1h-1zM87 64h1v1h-1zM9 65h4v1h-4zM15 65h1v1h-1zM17 65h3v1h-3zM87 65h1v1h-1zM10 66h3v1h-3zM14 66h1v1h-1zM16 66h2v1h-2zM19 66h2v1h-2zM22 66h1v1h-1zM87 66h1v1h-1zM10 67h2v1h-2zM14 67h1v1h-1zM18 67h2v1h-2zM21 67h1v1h-1zM23 67h1v1h-1zM87 67h1v1h-1zM15 68h1v1h-1zM20 68h2v1h-2zM23 68h2v1h-2zM15 69h2v1h-2zM18 69h2v1h-2zM22 69h2v1h-2zM85 69h1v1h-1zM14 70h1v1h-1zM16 70h1v1h-1zM18 70h2v1h-2zM15 71h1v1h-1zM18 71h4v1h-4zM23 71h2v1h-2zM19 72h1v1h-1zM22 72h3v1h-3zM14 73h2v1h-2zM17 73h3v1h-3zM21 73h2v1h-2zM25 73h1v1h-1zM15 74h3v1h-3zM26 74h2v1h-2zM84 74h1v1h-1zM27 76h1v1h-1zM80 76h1v1h-1zM27 77h1v1h-1zM78 77h2v1h-2zM26 78h1v1h-1zM77 78h1v1h-1zM15 79h1v1h-1zM26 79h1v1h-1zM77 79h2v1h-2zM80 79h1v1h-1zM25 80h1v1h-1zM77 80h3v1h-3zM78 81h2v1h-2zM23 82h1v1h-1zM78 82h3v1h-3zM22 83h3v1h-3zM80 83h2v1h-2zM82 84h1v1h-1zM81 85h1v1h-1zM23 86h2v1h-2zM82 86h1v1h-1zM82 87h1v1h-1zM24 88h1v1h-1zM55 88h1v1h-1zM81 88h1v1h-1zM24 89h1v1h-1zM46 89h2v1h-2zM49 89h1v1h-1zM56 89h1v1h-1zM24 90h1v1h-1zM29 90h1v1h-1zM80 90h1v1h-1zM32 91h1v1h-1zM79 91h1v1h-1zM25 92h1v1h-1zM32 92h1v1h-1zM43 92h2v1h-2zM61 92h1v1h-1zM63 92h1v1h-1zM79 92h1v1h-1zM25 93h2v1h-2zM64 93h1v1h-1zM78 93h1v1h-1zM27 94h1v1h-1zM31 94h1v1h-1zM78 94h1v1h-1zM27 95h4v1h-4zM33 95h1v1h-1zM35 95h1v1h-1zM42 95h1v1h-1zM64 95h1v1h-1zM78 95h1v1h-1zM63 96h1v1h-1zM65 96h1v1h-1zM78 96h1v1h-1zM37 97h1v1h-1zM64 97h1v1h-1zM78 97h1v1h-1zM78 98h1v1h-1zM43 99h1v1h-1zM63 99h2v1h-2zM78 99h1v1h-1z"/><path fill="#f5c53a" d="M75 0h1v1h-1zM93 0h3v1h-3zM75 1h1v1h-1zM90 1h1v1h-1zM95 1h1v1h-1zM75 2h3v1h-3zM92 2h1v1h-1zM75 3h2v1h-2zM91 3h2v1h-2zM95 3h1v1h-1zM74 4h1v1h-1zM92 4h1v1h-1zM27 5h2v1h-2zM31 5h2v1h-2zM34 5h1v1h-1zM94 5h1v1h-1zM27 6h1v1h-1zM29 6h2v1h-2zM46 6h2v1h-2zM92 6h1v1h-1zM30 7h2v1h-2zM33 7h1v1h-1zM38 7h1v1h-1zM43 7h5v1h-5zM49 7h1v1h-1zM74 7h1v1h-1zM92 7h1v1h-1zM27 8h3v1h-3zM47 8h1v1h-1zM49 8h2v1h-2zM74 8h2v1h-2zM92 8h1v1h-1zM26 9h2v1h-2zM29 9h1v1h-1zM35 9h1v1h-1zM44 9h1v1h-1zM48 9h1v1h-1zM50 9h1v1h-1zM75 9h2v1h-2zM92 9h2v1h-2zM26 10h1v1h-1zM36 10h1v1h-1zM44 10h2v1h-2zM49 10h1v1h-1zM73 10h1v1h-1zM76 10h1v1h-1zM94 10h1v1h-1zM28 11h1v1h-1zM36 11h2v1h-2zM45 11h1v1h-1zM48 11h2v1h-2zM75 11h1v1h-1zM93 11h2v1h-2zM26 12h1v1h-1zM30 12h1v1h-1zM38 12h1v1h-1zM43 12h1v1h-1zM45 12h2v1h-2zM75 12h1v1h-1zM93 12h2v1h-2zM26 13h2v1h-2zM37 13h3v1h-3zM41 13h3v1h-3zM45 13h2v1h-2zM95 13h1v1h-1zM26 14h1v1h-1zM38 14h5v1h-5zM45 14h1v1h-1zM95 14h1v1h-1zM26 15h1v1h-1zM28 15h1v1h-1zM34 15h1v1h-1zM36 15h1v1h-1zM38 15h1v1h-1zM40 15h1v1h-1zM45 15h1v1h-1zM94 15h1v1h-1zM28 16h1v1h-1zM35 16h4v1h-4zM40 16h3v1h-3zM45 16h1v1h-1zM75 16h1v1h-1zM24 17h1v1h-1zM37 17h5v1h-5zM45 17h1v1h-1zM93 17h1v1h-1zM22 18h1v1h-1zM29 18h4v1h-4zM37 18h2v1h-2zM75 18h1v1h-1zM91 18h1v1h-1zM19 19h2v1h-2zM25 19h1v1h-1zM29 19h3v1h-3zM34 19h1v1h-1zM74 19h1v1h-1zM90 19h3v1h-3zM12 20h1v1h-1zM15 20h1v1h-1zM26 20h4v1h-4zM31 20h3v1h-3zM37 20h1v1h-1zM90 20h1v1h-1zM11 21h3v1h-3zM15 21h1v1h-1zM27 21h2v1h-2zM32 21h2v1h-2zM88 21h2v1h-2zM11 22h1v1h-1zM13 22h1v1h-1zM27 22h1v1h-1zM32 22h1v1h-1zM34 22h1v1h-1zM74 22h1v1h-1zM86 22h1v1h-1zM88 22h1v1h-1zM13 23h2v1h-2zM27 23h4v1h-4zM74 23h1v1h-1zM86 23h1v1h-1zM10 24h2v1h-2zM86 24h1v1h-1zM10 25h2v1h-2zM86 25h1v1h-1zM85 26h2v1h-2zM8 27h3v1h-3zM75 27h1v1h-1zM84 27h1v1h-1zM87 27h1v1h-1zM7 28h2v1h-2zM6 29h1v1h-1zM78 29h2v1h-2zM72 30h1v1h-1zM79 30h1v1h-1zM83 30h1v1h-1zM5 31h1v1h-1zM71 31h2v1h-2zM74 31h1v1h-1zM84 31h1v1h-1zM96 31h2v1h-2zM5 32h1v1h-1zM71 32h4v1h-4zM83 32h1v1h-1zM85 32h1v1h-1zM96 32h1v1h-1zM5 33h1v1h-1zM84 33h1v1h-1zM97 33h2v1h-2zM3 34h2v1h-2zM72 34h2v1h-2zM85 34h1v1h-1zM98 34h2v1h-2zM3 35h1v1h-1zM74 35h1v1h-1zM98 35h2v1h-2zM0 36h1v1h-1zM80 36h1v1h-1zM86 36h3v1h-3zM95 36h4v1h-4zM79 37h1v1h-1zM85 37h1v1h-1zM87 37h2v1h-2zM93 37h1v1h-1zM98 37h1v1h-1zM79 38h1v1h-1zM86 38h1v1h-1zM96 38h4v1h-4zM80 39h7v1h-7zM89 39h1v1h-1zM92 39h1v1h-1zM96 39h2v1h-2zM80 40h2v1h-2zM84 40h1v1h-1zM95 40h2v1h-2zM80 41h1v1h-1zM80 42h1v1h-1zM81 44h1v1h-1zM99 44h1v1h-1zM81 45h1v1h-1zM98 45h1v1h-1zM98 46h2v1h-2zM82 47h1v1h-1zM98 48h1v1h-1zM84 49h1v1h-1zM99 49h1v1h-1zM97 50h3v1h-3zM97 51h1v1h-1zM97 52h1v1h-1zM88 54h2v1h-2zM88 58h1v1h-1zM5 61h1v1h-1zM89 61h3v1h-3zM3 62h1v1h-1zM91 62h2v1h-2zM3 63h1v1h-1zM7 63h1v1h-1zM91 63h2v1h-2zM2 64h1v1h-1zM8 64h1v1h-1zM89 64h2v1h-2zM8 65h1v1h-1zM88 65h1v1h-1zM0 66h1v1h-1zM5 66h1v1h-1zM88 66h1v1h-1zM1 67h1v1h-1zM3 67h1v1h-1zM5 67h5v1h-5zM13 67h1v1h-1zM3 68h1v1h-1zM5 68h5v1h-5zM11 68h2v1h-2zM4 69h3v1h-3zM8 69h1v1h-1zM12 69h2v1h-2zM87 69h1v1h-1zM2 70h1v1h-1zM4 70h2v1h-2zM7 70h3v1h-3zM13 70h1v1h-1zM85 70h1v1h-1zM8 71h2v1h-2zM11 71h1v1h-1zM13 71h1v1h-1zM2 72h2v1h-2zM5 72h3v1h-3zM9 72h3v1h-3zM2 73h4v1h-4zM8 73h2v1h-2zM24 73h1v1h-1zM9 74h2v1h-2zM12 74h2v1h-2zM20 74h1v1h-1zM23 74h3v1h-3zM0 75h2v1h-2zM6 75h4v1h-4zM11 75h1v1h-1zM13 75h1v1h-1zM18 75h1v1h-1zM22 75h5v1h-5zM84 75h1v1h-1zM0 76h2v1h-2zM9 76h3v1h-3zM14 76h3v1h-3zM22 76h2v1h-2zM25 76h2v1h-2zM83 76h1v1h-1zM0 77h1v1h-1zM7 77h1v1h-1zM9 77h1v1h-1zM11 77h1v1h-1zM15 77h1v1h-1zM26 77h1v1h-1zM83 77h1v1h-1zM7 78h1v1h-1zM9 78h4v1h-4zM24 78h1v1h-1zM80 78h3v1h-3zM8 79h3v1h-3zM12 79h2v1h-2zM17 79h1v1h-1zM8 80h1v1h-1zM10 80h4v1h-4zM18 80h1v1h-1zM20 80h3v1h-3zM8 81h1v1h-1zM15 81h3v1h-3zM19 81h4v1h-4zM7 82h2v1h-2zM10 82h2v1h-2zM15 82h6v1h-6zM82 82h1v1h-1zM7 83h3v1h-3zM18 83h2v1h-2zM83 83h1v1h-1zM19 84h1v1h-1zM83 84h2v1h-2zM19 85h3v1h-3zM19 86h1v1h-1zM21 86h1v1h-1zM22 87h2v1h-2zM23 88h1v1h-1zM82 88h1v1h-1zM23 89h1v1h-1zM50 89h1v1h-1zM81 89h2v1h-2zM3 90h2v1h-2zM23 90h1v1h-1zM48 90h1v1h-1zM50 90h1v1h-1zM56 90h1v1h-1zM3 91h1v1h-1zM20 91h1v1h-1zM23 91h1v1h-1zM46 91h2v1h-2zM58 91h1v1h-1zM3 92h3v1h-3zM19 92h2v1h-2zM22 92h1v1h-1zM45 92h1v1h-1zM59 92h2v1h-2zM80 92h1v1h-1zM4 93h1v1h-1zM20 93h1v1h-1zM24 93h1v1h-1zM61 93h3v1h-3zM80 93h1v1h-1zM20 94h1v1h-1zM24 94h1v1h-1zM45 94h1v1h-1zM79 94h1v1h-1zM0 95h2v1h-2zM23 95h1v1h-1zM62 95h2v1h-2zM5 96h1v1h-1zM8 96h1v1h-1zM10 96h1v1h-1zM22 96h1v1h-1zM24 96h3v1h-3zM31 96h1v1h-1zM33 96h1v1h-1zM62 96h1v1h-1zM6 97h1v1h-1zM8 97h1v1h-1zM10 97h1v1h-1zM19 97h1v1h-1zM21 97h2v1h-2zM27 97h2v1h-2zM32 97h4v1h-4zM44 97h1v1h-1zM62 97h1v1h-1zM80 97h1v1h-1zM4 98h4v1h-4zM11 98h1v1h-1zM23 98h9v1h-9zM33 98h1v1h-1zM35 98h2v1h-2zM44 98h1v1h-1zM80 98h1v1h-1zM4 99h2v1h-2zM7 99h1v1h-1zM13 99h1v1h-1zM21 99h1v1h-1zM23 99h1v1h-1zM25 99h1v1h-1zM28 99h1v1h-1zM34 99h3v1h-3zM62 99h1v1h-1z"/><path fill="#e7d739" d="M76 0h2v1h-2zM79 0h2v1h-2zM86 0h1v1h-1zM77 1h3v1h-3zM83 1h1v1h-1zM88 1h2v1h-2zM78 2h8v1h-8zM88 2h2v1h-2zM79 3h3v1h-3zM83 3h2v1h-2zM88 3h1v1h-1zM76 4h9v1h-9zM76 5h2v1h-2zM81 5h4v1h-4zM76 6h2v1h-2zM91 6h1v1h-1zM35 7h1v1h-1zM41 7h1v1h-1zM76 7h3v1h-3zM91 7h1v1h-1zM36 8h1v1h-1zM39 8h1v1h-1zM41 8h2v1h-2zM76 8h3v1h-3zM89 8h2v1h-2zM30 9h1v1h-1zM39 9h1v1h-1zM43 9h1v1h-1zM78 9h1v1h-1zM31 10h2v1h-2zM25 11h1v1h-1zM31 11h3v1h-3zM38 11h2v1h-2zM41 11h1v1h-1zM43 11h1v1h-1zM76 11h1v1h-1zM78 11h1v1h-1zM91 11h2v1h-2zM23 12h2v1h-2zM31 12h1v1h-1zM35 12h1v1h-1zM41 12h1v1h-1zM91 12h2v1h-2zM36 13h1v1h-1zM93 13h1v1h-1zM31 14h1v1h-1zM34 14h1v1h-1zM24 15h1v1h-1zM30 15h2v1h-2zM33 15h1v1h-1zM76 15h1v1h-1zM92 15h1v1h-1zM19 16h1v1h-1zM76 16h1v1h-1zM92 16h1v1h-1zM18 17h1v1h-1zM20 17h1v1h-1zM22 17h1v1h-1zM31 17h1v1h-1zM77 17h3v1h-3zM91 17h2v1h-2zM18 18h2v1h-2zM80 18h1v1h-1zM90 18h1v1h-1zM11 19h5v1h-5zM88 19h2v1h-2zM11 20h1v1h-1zM75 20h2v1h-2zM80 20h1v1h-1zM29 21h1v1h-1zM75 21h4v1h-4zM81 21h1v1h-1zM84 21h2v1h-2zM8 22h3v1h-3zM81 22h1v1h-1zM83 22h1v1h-1zM8 23h2v1h-2zM82 23h3v1h-3zM79 24h1v1h-1zM83 24h1v1h-1zM0 25h2v1h-2zM79 25h1v1h-1zM83 25h1v1h-1zM1 26h1v1h-1zM79 26h4v1h-4zM1 27h1v1h-1zM6 27h1v1h-1zM79 27h4v1h-4zM0 28h1v1h-1zM4 28h2v1h-2zM81 28h1v1h-1zM4 30h1v1h-1zM81 30h2v1h-2zM2 31h2v1h-2zM77 31h2v1h-2zM80 31h1v1h-1zM82 31h1v1h-1zM99 31h1v1h-1zM79 32h1v1h-1zM82 32h1v1h-1zM98 32h1v1h-1zM2 33h1v1h-1zM80 33h3v1h-3zM1 34h1v1h-1zM79 34h4v1h-4zM0 35h1v1h-1zM77 35h2v1h-2zM80 35h1v1h-1zM84 35h2v1h-2zM77 36h1v1h-1zM81 36h5v1h-5zM81 37h3v1h-3zM83 38h1v1h-1zM94 38h1v1h-1zM88 39h1v1h-1zM95 39h1v1h-1zM91 40h3v1h-3zM84 41h2v1h-2zM81 42h3v1h-3zM82 43h2v1h-2zM82 44h2v1h-2zM82 45h1v1h-1zM96 46h1v1h-1zM83 47h1v1h-1zM84 48h2v1h-2zM96 48h1v1h-1zM86 49h3v1h-3zM97 49h1v1h-1zM94 51h3v1h-3zM92 52h4v1h-4zM90 53h4v1h-4zM95 53h1v1h-1zM97 53h1v1h-1zM91 54h4v1h-4zM97 54h1v1h-1zM90 55h2v1h-2zM95 55h1v1h-1zM97 55h1v1h-1zM91 56h3v1h-3zM96 56h1v1h-1zM90 57h1v1h-1zM98 57h1v1h-1zM89 58h2v1h-2zM96 58h1v1h-1zM98 58h1v1h-1zM90 59h1v1h-1zM97 59h3v1h-3zM91 60h2v1h-2zM99 60h1v1h-1zM5 62h1v1h-1zM93 62h1v1h-1zM5 63h1v1h-1zM93 63h1v1h-1zM91 64h2v1h-2zM6 65h1v1h-1zM90 65h2v1h-2zM6 66h2v1h-2zM0 67h1v1h-1zM88 68h1v1h-1zM2 69h1v1h-1zM0 70h1v1h-1zM87 70h1v1h-1zM0 71h1v1h-1zM87 71h1v1h-1zM1 73h1v1h-1zM0 74h1v1h-1zM2 74h1v1h-1zM85 74h1v1h-1zM3 75h2v1h-2zM85 75h1v1h-1zM2 76h1v1h-1zM4 76h3v1h-3zM19 76h3v1h-3zM1 77h1v1h-1zM3 77h3v1h-3zM18 77h3v1h-3zM22 77h1v1h-1zM85 77h1v1h-1zM0 78h1v1h-1zM3 78h3v1h-3zM18 78h3v1h-3zM84 78h2v1h-2zM0 79h3v1h-3zM5 79h1v1h-1zM7 79h1v1h-1zM20 79h1v1h-1zM22 79h2v1h-2zM83 79h1v1h-1zM1 80h2v1h-2zM6 80h2v1h-2zM0 81h3v1h-3zM5 81h1v1h-1zM1 82h5v1h-5zM12 82h1v1h-1zM84 82h1v1h-1zM0 83h2v1h-2zM5 83h2v1h-2zM11 83h1v1h-1zM14 83h1v1h-1zM0 84h1v1h-1zM2 84h1v1h-1zM5 84h2v1h-2zM10 84h1v1h-1zM2 85h3v1h-3zM7 85h4v1h-4zM15 85h1v1h-1zM17 85h1v1h-1zM4 86h1v1h-1zM8 86h2v1h-2zM17 86h1v1h-1zM84 86h2v1h-2zM8 87h1v1h-1zM10 87h2v1h-2zM17 87h3v1h-3zM84 87h1v1h-1zM0 88h1v1h-1zM4 88h5v1h-5zM10 88h1v1h-1zM19 88h2v1h-2zM84 88h1v1h-1zM0 89h4v1h-4zM5 89h2v1h-2zM8 89h2v1h-2zM21 89h1v1h-1zM83 89h1v1h-1zM0 90h1v1h-1zM2 90h1v1h-1zM7 90h1v1h-1zM9 90h1v1h-1zM14 90h1v1h-1zM18 90h3v1h-3zM51 90h1v1h-1zM82 90h1v1h-1zM84 90h1v1h-1zM0 91h1v1h-1zM14 91h2v1h-2zM17 91h1v1h-1zM53 91h1v1h-1zM55 91h1v1h-1zM82 91h3v1h-3zM1 92h1v1h-1zM6 92h1v1h-1zM13 92h4v1h-4zM47 92h2v1h-2zM1 93h1v1h-1zM3 93h1v1h-1zM11 93h6v1h-6zM18 93h1v1h-1zM22 93h1v1h-1zM46 93h1v1h-1zM57 93h2v1h-2zM60 93h1v1h-1zM0 94h2v1h-2zM5 94h1v1h-1zM7 94h2v1h-2zM10 94h5v1h-5zM16 94h1v1h-1zM18 94h2v1h-2zM21 94h2v1h-2zM46 94h1v1h-1zM49 94h1v1h-1zM2 95h1v1h-1zM5 95h3v1h-3zM10 95h2v1h-2zM13 95h6v1h-6zM61 95h1v1h-1zM80 95h1v1h-1zM0 96h2v1h-2zM3 96h1v1h-1zM6 96h1v1h-1zM12 96h1v1h-1zM15 96h1v1h-1zM17 96h2v1h-2zM20 96h1v1h-1zM46 96h1v1h-1zM61 96h1v1h-1zM81 96h1v1h-1zM1 97h2v1h-2zM13 97h1v1h-1zM15 97h3v1h-3zM61 97h1v1h-1zM8 98h2v1h-2zM16 98h1v1h-1zM20 98h1v1h-1zM61 98h1v1h-1zM81 98h3v1h-3zM1 99h1v1h-1zM8 99h3v1h-3zM15 99h1v1h-1zM20 99h1v1h-1zM45 99h1v1h-1zM82 99h1v1h-1z"/><path fill="#dde037" d="M78 0h1v1h-1zM81 0h1v1h-1zM85 0h1v1h-1zM87 0h2v1h-2zM81 1h1v1h-1zM84 1h2v1h-2zM87 1h1v1h-1zM86 2h2v1h-2zM82 3h1v1h-1zM85 3h3v1h-3zM89 3h2v1h-2zM85 4h1v1h-1zM87 4h1v1h-1zM91 4h1v1h-1zM78 5h3v1h-3zM91 5h1v1h-1zM22 6h1v1h-1zM78 6h2v1h-2zM81 6h4v1h-4zM79 7h1v1h-1zM83 7h1v1h-1zM88 7h1v1h-1zM40 8h1v1h-1zM86 8h1v1h-1zM88 8h1v1h-1zM40 9h3v1h-3zM79 9h1v1h-1zM22 10h1v1h-1zM25 10h1v1h-1zM39 10h2v1h-2zM42 10h2v1h-2zM79 10h1v1h-1zM86 10h1v1h-1zM42 11h1v1h-1zM79 11h1v1h-1zM32 12h1v1h-1zM34 12h1v1h-1zM77 12h1v1h-1zM31 13h2v1h-2zM35 13h1v1h-1zM76 13h1v1h-1zM91 13h2v1h-2zM1 14h2v1h-2zM18 14h2v1h-2zM32 14h2v1h-2zM35 14h1v1h-1zM92 14h1v1h-1zM1 15h3v1h-3zM17 15h3v1h-3zM22 15h1v1h-1zM17 16h1v1h-1zM21 16h3v1h-3zM77 16h1v1h-1zM81 16h2v1h-2zM3 17h1v1h-1zM17 17h1v1h-1zM21 17h1v1h-1zM80 17h3v1h-3zM9 18h2v1h-2zM16 18h2v1h-2zM81 18h1v1h-1zM87 18h3v1h-3zM8 19h3v1h-3zM81 19h1v1h-1zM87 19h1v1h-1zM8 20h3v1h-3zM77 20h1v1h-1zM81 20h1v1h-1zM85 20h2v1h-2zM8 21h1v1h-1zM79 21h2v1h-2zM82 21h2v1h-2zM79 22h1v1h-1zM82 22h1v1h-1zM77 23h2v1h-2zM81 23h1v1h-1zM80 24h3v1h-3zM80 25h3v1h-3zM2 26h2v1h-2zM2 27h4v1h-4zM2 28h2v1h-2zM1 29h4v1h-4zM0 30h2v1h-2zM0 31h1v1h-1zM0 32h4v1h-4zM77 32h1v1h-1zM0 33h2v1h-2zM78 33h1v1h-1zM0 34h1v1h-1zM76 34h2v1h-2zM83 34h1v1h-1zM82 35h2v1h-2zM88 40h2v1h-2zM86 41h2v1h-2zM90 41h1v1h-1zM92 41h3v1h-3zM84 42h3v1h-3zM94 42h1v1h-1zM84 43h3v1h-3zM85 44h3v1h-3zM83 45h2v1h-2zM92 45h1v1h-1zM83 46h1v1h-1zM87 46h1v1h-1zM91 46h1v1h-1zM84 47h1v1h-1zM91 47h1v1h-1zM86 48h1v1h-1zM89 49h1v1h-1zM95 49h2v1h-2zM95 50h1v1h-1zM92 55h3v1h-3zM94 56h1v1h-1zM91 57h1v1h-1zM94 57h2v1h-2zM99 57h1v1h-1zM91 58h1v1h-1zM99 58h1v1h-1zM91 59h5v1h-5zM93 60h6v1h-6zM93 61h1v1h-1zM94 62h1v1h-1zM94 63h1v1h-1zM93 64h1v1h-1zM92 65h1v1h-1zM89 66h2v1h-2zM88 70h1v1h-1zM86 71h1v1h-1zM0 72h1v1h-1zM0 73h1v1h-1zM85 73h1v1h-1zM86 74h1v1h-1zM3 76h1v1h-1zM2 77h1v1h-1zM1 78h2v1h-2zM3 79h2v1h-2zM6 79h1v1h-1zM84 79h1v1h-1zM3 80h3v1h-3zM84 80h1v1h-1zM3 81h2v1h-2zM84 81h1v1h-1zM12 83h2v1h-2zM11 84h1v1h-1zM14 84h1v1h-1zM86 84h1v1h-1zM1 85h1v1h-1zM5 85h2v1h-2zM11 85h2v1h-2zM14 85h1v1h-1zM16 85h1v1h-1zM86 85h1v1h-1zM2 86h1v1h-1zM5 86h3v1h-3zM10 86h5v1h-5zM16 86h1v1h-1zM0 87h4v1h-4zM5 87h3v1h-3zM9 87h1v1h-1zM13 87h3v1h-3zM85 87h2v1h-2zM1 88h1v1h-1zM3 88h1v1h-1zM11 88h4v1h-4zM17 88h2v1h-2zM83 88h1v1h-1zM87 88h1v1h-1zM7 89h1v1h-1zM10 89h1v1h-1zM13 89h3v1h-3zM19 89h1v1h-1zM84 89h2v1h-2zM87 89h1v1h-1zM6 90h1v1h-1zM8 90h1v1h-1zM10 90h1v1h-1zM15 90h3v1h-3zM83 90h1v1h-1zM1 91h1v1h-1zM7 91h3v1h-3zM13 91h1v1h-1zM50 91h2v1h-2zM85 91h1v1h-1zM0 92h1v1h-1zM8 92h2v1h-2zM11 92h2v1h-2zM49 92h2v1h-2zM56 92h1v1h-1zM82 92h1v1h-1zM0 93h1v1h-1zM6 93h1v1h-1zM8 93h3v1h-3zM17 93h1v1h-1zM47 93h2v1h-2zM50 93h1v1h-1zM59 93h1v1h-1zM81 93h2v1h-2zM6 94h1v1h-1zM9 94h1v1h-1zM15 94h1v1h-1zM17 94h1v1h-1zM47 94h2v1h-2zM50 94h1v1h-1zM81 94h1v1h-1zM12 95h1v1h-1zM19 95h1v1h-1zM47 95h2v1h-2zM81 95h1v1h-1zM13 96h1v1h-1zM48 96h1v1h-1zM82 96h1v1h-1zM0 97h1v1h-1zM14 97h1v1h-1zM46 97h1v1h-1zM48 97h1v1h-1zM82 97h1v1h-1zM0 98h2v1h-2zM47 98h1v1h-1zM49 98h1v1h-1zM0 99h1v1h-1zM47 99h3v1h-3zM61 99h1v1h-1zM83 99h1v1h-1z"/><path fill="#d2e935" d="M82 0h3v1h-3zM82 1h1v1h-1zM86 1h1v1h-1zM18 4h2v1h-2zM86 4h1v1h-1zM89 4h2v1h-2zM20 5h1v1h-1zM85 5h2v1h-2zM90 5h1v1h-1zM20 6h1v1h-1zM23 6h1v1h-1zM80 6h1v1h-1zM85 6h1v1h-1zM90 6h1v1h-1zM80 7h3v1h-3zM84 7h2v1h-2zM87 7h1v1h-1zM89 7h2v1h-2zM21 8h1v1h-1zM79 8h7v1h-7zM87 8h1v1h-1zM21 9h1v1h-1zM80 9h1v1h-1zM83 9h4v1h-4zM21 10h1v1h-1zM23 10h1v1h-1zM41 10h1v1h-1zM21 11h2v1h-2zM86 11h2v1h-2zM18 12h5v1h-5zM33 12h1v1h-1zM78 12h1v1h-1zM86 12h2v1h-2zM17 13h2v1h-2zM20 13h2v1h-2zM23 13h1v1h-1zM33 13h2v1h-2zM77 13h1v1h-1zM87 13h1v1h-1zM0 14h1v1h-1zM3 14h1v1h-1zM17 14h1v1h-1zM20 14h1v1h-1zM23 14h1v1h-1zM76 14h1v1h-1zM87 14h1v1h-1zM0 15h1v1h-1zM8 15h2v1h-2zM16 15h1v1h-1zM20 15h2v1h-2zM23 15h1v1h-1zM77 15h1v1h-1zM85 15h1v1h-1zM91 15h1v1h-1zM1 16h3v1h-3zM7 16h1v1h-1zM9 16h1v1h-1zM16 16h1v1h-1zM18 16h1v1h-1zM20 16h1v1h-1zM78 16h3v1h-3zM84 16h2v1h-2zM88 16h4v1h-4zM4 17h1v1h-1zM7 17h3v1h-3zM16 17h1v1h-1zM83 17h2v1h-2zM88 17h3v1h-3zM3 18h2v1h-2zM8 18h1v1h-1zM11 18h5v1h-5zM82 18h1v1h-1zM2 19h2v1h-2zM85 19h2v1h-2zM82 20h1v1h-1zM84 20h1v1h-1zM7 21h1v1h-1zM7 22h1v1h-1zM80 22h1v1h-1zM7 23h1v1h-1zM80 23h1v1h-1zM0 24h2v1h-2zM6 24h1v1h-1zM2 25h5v1h-5zM4 26h3v1h-3zM1 28h1v1h-1zM0 29h1v1h-1zM2 30h2v1h-2zM1 31h1v1h-1zM87 40h1v1h-1zM89 41h1v1h-1zM91 41h1v1h-1zM87 42h2v1h-2zM93 42h1v1h-1zM87 43h3v1h-3zM93 43h2v1h-2zM88 44h1v1h-1zM90 44h2v1h-2zM93 44h1v1h-1zM85 45h1v1h-1zM87 45h3v1h-3zM84 46h1v1h-1zM90 46h1v1h-1zM86 47h5v1h-5zM87 48h4v1h-4zM92 57h2v1h-2zM92 58h4v1h-4zM94 61h2v1h-2zM91 66h1v1h-1zM89 67h1v1h-1zM89 68h1v1h-1zM86 73h1v1h-1zM87 74h1v1h-1zM86 76h1v1h-1zM86 78h1v1h-1zM85 79h1v1h-1zM85 80h1v1h-1zM85 81h1v1h-1zM85 82h1v1h-1zM85 83h1v1h-1zM13 84h1v1h-1zM0 85h1v1h-1zM13 85h1v1h-1zM0 86h2v1h-2zM15 86h1v1h-1zM86 86h1v1h-1zM4 87h1v1h-1zM12 87h1v1h-1zM16 87h1v1h-1zM2 88h1v1h-1zM15 88h2v1h-2zM85 88h2v1h-2zM88 88h1v1h-1zM11 89h2v1h-2zM16 89h3v1h-3zM86 89h1v1h-1zM11 90h3v1h-3zM85 90h3v1h-3zM10 91h3v1h-3zM16 91h1v1h-1zM7 92h1v1h-1zM10 92h1v1h-1zM83 92h2v1h-2zM7 93h1v1h-1zM49 93h1v1h-1zM56 93h1v1h-1zM83 93h2v1h-2zM56 94h2v1h-2zM60 94h1v1h-1zM82 94h1v1h-1zM49 95h2v1h-2zM60 95h1v1h-1zM82 95h3v1h-3zM47 96h1v1h-1zM49 96h1v1h-1zM60 96h1v1h-1zM83 96h1v1h-1zM47 97h1v1h-1zM49 97h1v1h-1zM83 97h1v1h-1zM46 98h1v1h-1zM48 98h1v1h-1zM60 98h1v1h-1zM84 98h1v1h-1zM46 99h1v1h-1zM59 99h2v1h-2zM84 99h2v1h-2z"/><path fill="#eecf3a" d="M89 0h1v1h-1zM76 1h1v1h-1zM80 1h1v1h-1zM90 2h1v1h-1zM77 3h2v1h-2zM75 4h1v1h-1zM33 5h1v1h-1zM35 5h1v1h-1zM75 5h1v1h-1zM92 5h1v1h-1zM31 6h9v1h-9zM75 6h1v1h-1zM32 7h1v1h-1zM34 7h1v1h-1zM36 7h2v1h-2zM39 7h2v1h-2zM42 7h1v1h-1zM48 7h1v1h-1zM75 7h1v1h-1zM30 8h6v1h-6zM37 8h2v1h-2zM43 8h1v1h-1zM48 8h1v1h-1zM91 8h1v1h-1zM31 9h4v1h-4zM36 9h3v1h-3zM77 9h1v1h-1zM29 10h2v1h-2zM33 10h3v1h-3zM37 10h2v1h-2zM77 10h2v1h-2zM92 10h1v1h-1zM26 11h1v1h-1zM30 11h1v1h-1zM34 11h2v1h-2zM40 11h1v1h-1zM44 11h1v1h-1zM77 11h1v1h-1zM36 12h1v1h-1zM39 12h2v1h-2zM42 12h1v1h-1zM44 12h1v1h-1zM76 12h1v1h-1zM95 12h1v1h-1zM30 13h1v1h-1zM40 13h1v1h-1zM75 13h1v1h-1zM94 13h1v1h-1zM29 14h2v1h-2zM36 14h2v1h-2zM75 14h1v1h-1zM93 14h2v1h-2zM29 15h1v1h-1zM32 15h1v1h-1zM35 15h1v1h-1zM37 15h1v1h-1zM39 15h1v1h-1zM42 15h1v1h-1zM75 15h1v1h-1zM93 15h1v1h-1zM24 16h1v1h-1zM29 16h5v1h-5zM39 16h1v1h-1zM93 16h1v1h-1zM19 17h1v1h-1zM23 17h1v1h-1zM32 17h1v1h-1zM76 17h1v1h-1zM20 18h1v1h-1zM76 18h4v1h-4zM92 18h1v1h-1zM16 19h3v1h-3zM75 19h6v1h-6zM13 20h2v1h-2zM30 20h1v1h-1zM74 20h1v1h-1zM78 20h2v1h-2zM87 20h3v1h-3zM9 21h2v1h-2zM14 21h1v1h-1zM30 21h2v1h-2zM74 21h1v1h-1zM86 21h2v1h-2zM12 22h1v1h-1zM14 22h1v1h-1zM28 22h4v1h-4zM84 22h2v1h-2zM10 23h1v1h-1zM85 23h1v1h-1zM9 24h1v1h-1zM84 24h2v1h-2zM9 25h1v1h-1zM84 25h2v1h-2zM0 26h1v1h-1zM9 26h1v1h-1zM83 26h2v1h-2zM0 27h1v1h-1zM7 27h1v1h-1zM76 27h1v1h-1zM83 27h1v1h-1zM6 28h1v1h-1zM78 28h3v1h-3zM82 28h2v1h-2zM5 29h1v1h-1zM77 29h1v1h-1zM80 29h4v1h-4zM5 30h1v1h-1zM73 30h1v1h-1zM77 30h2v1h-2zM80 30h1v1h-1zM99 30h1v1h-1zM4 31h1v1h-1zM73 31h1v1h-1zM75 31h2v1h-2zM79 31h1v1h-1zM81 31h1v1h-1zM83 31h1v1h-1zM98 31h1v1h-1zM4 32h1v1h-1zM75 32h2v1h-2zM80 32h2v1h-2zM97 32h1v1h-1zM99 32h1v1h-1zM3 33h2v1h-2zM73 33h2v1h-2zM83 33h1v1h-1zM99 33h1v1h-1zM2 34h1v1h-1zM75 34h1v1h-1zM84 34h1v1h-1zM1 35h2v1h-2zM76 35h1v1h-1zM79 35h1v1h-1zM81 35h1v1h-1zM86 35h1v1h-1zM78 36h2v1h-2zM99 36h1v1h-1zM78 37h1v1h-1zM80 37h1v1h-1zM84 37h1v1h-1zM86 37h1v1h-1zM94 37h4v1h-4zM81 38h2v1h-2zM84 38h1v1h-1zM87 38h3v1h-3zM93 38h1v1h-1zM95 38h1v1h-1zM87 39h1v1h-1zM93 39h2v1h-2zM98 39h2v1h-2zM82 40h2v1h-2zM85 40h2v1h-2zM90 40h1v1h-1zM94 40h1v1h-1zM99 40h1v1h-1zM81 41h3v1h-3zM95 41h1v1h-1zM95 42h1v1h-1zM81 43h1v1h-1zM82 46h1v1h-1zM97 46h1v1h-1zM96 47h4v1h-4zM83 48h1v1h-1zM97 48h1v1h-1zM85 49h1v1h-1zM96 50h1v1h-1zM96 52h1v1h-1zM98 52h2v1h-2zM94 53h1v1h-1zM96 53h1v1h-1zM98 53h2v1h-2zM90 54h1v1h-1zM95 54h2v1h-2zM98 54h2v1h-2zM89 55h1v1h-1zM96 55h1v1h-1zM98 55h2v1h-2zM89 56h2v1h-2zM95 56h1v1h-1zM97 56h3v1h-3zM2 57h1v1h-1zM89 57h1v1h-1zM96 57h2v1h-2zM97 58h1v1h-1zM89 59h1v1h-1zM96 59h1v1h-1zM89 60h2v1h-2zM92 61h1v1h-1zM4 62h1v1h-1zM6 62h1v1h-1zM4 63h1v1h-1zM6 63h1v1h-1zM3 64h5v1h-5zM4 65h2v1h-2zM7 65h1v1h-1zM89 65h1v1h-1zM8 66h1v1h-1zM4 67h1v1h-1zM88 67h1v1h-1zM0 68h3v1h-3zM4 68h1v1h-1zM0 69h2v1h-2zM3 69h1v1h-1zM9 69h1v1h-1zM88 69h1v1h-1zM1 70h1v1h-1zM10 70h3v1h-3zM86 70h1v1h-1zM1 71h2v1h-2zM10 71h1v1h-1zM12 71h1v1h-1zM85 71h1v1h-1zM1 72h1v1h-1zM8 72h1v1h-1zM12 72h2v1h-2zM85 72h1v1h-1zM6 73h2v1h-2zM10 73h1v1h-1zM12 73h1v1h-1zM1 74h1v1h-1zM3 74h6v1h-6zM11 74h1v1h-1zM2 75h1v1h-1zM5 75h1v1h-1zM10 75h1v1h-1zM12 75h1v1h-1zM19 75h3v1h-3zM7 76h2v1h-2zM12 76h2v1h-2zM17 76h2v1h-2zM24 76h1v1h-1zM84 76h2v1h-2zM6 77h1v1h-1zM8 77h1v1h-1zM12 77h2v1h-2zM16 77h2v1h-2zM21 77h1v1h-1zM23 77h3v1h-3zM84 77h1v1h-1zM6 78h1v1h-1zM8 78h1v1h-1zM17 78h1v1h-1zM21 78h3v1h-3zM25 78h1v1h-1zM83 78h1v1h-1zM18 79h2v1h-2zM21 79h1v1h-1zM24 79h1v1h-1zM81 79h2v1h-2zM0 80h1v1h-1zM19 80h1v1h-1zM23 80h1v1h-1zM82 80h2v1h-2zM6 81h2v1h-2zM11 81h4v1h-4zM18 81h1v1h-1zM83 81h1v1h-1zM0 82h1v1h-1zM6 82h1v1h-1zM13 82h2v1h-2zM83 82h1v1h-1zM2 83h3v1h-3zM10 83h1v1h-1zM15 83h3v1h-3zM84 83h1v1h-1zM1 84h1v1h-1zM3 84h2v1h-2zM7 84h3v1h-3zM15 84h4v1h-4zM85 84h1v1h-1zM18 85h1v1h-1zM84 85h2v1h-2zM3 86h1v1h-1zM18 86h1v1h-1zM20 86h1v1h-1zM20 87h2v1h-2zM83 87h1v1h-1zM9 88h1v1h-1zM21 88h2v1h-2zM4 89h1v1h-1zM20 89h1v1h-1zM22 89h1v1h-1zM1 90h1v1h-1zM5 90h1v1h-1zM21 90h2v1h-2zM49 90h1v1h-1zM55 90h1v1h-1zM81 90h1v1h-1zM2 91h1v1h-1zM5 91h2v1h-2zM18 91h2v1h-2zM21 91h2v1h-2zM48 91h2v1h-2zM56 91h2v1h-2zM81 91h1v1h-1zM2 92h1v1h-1zM17 92h2v1h-2zM21 92h1v1h-1zM23 92h1v1h-1zM46 92h1v1h-1zM57 92h2v1h-2zM81 92h1v1h-1zM2 93h1v1h-1zM5 93h1v1h-1zM19 93h1v1h-1zM21 93h1v1h-1zM23 93h1v1h-1zM45 93h1v1h-1zM2 94h3v1h-3zM23 94h1v1h-1zM61 94h2v1h-2zM80 94h1v1h-1zM3 95h2v1h-2zM8 95h2v1h-2zM20 95h3v1h-3zM45 95h2v1h-2zM2 96h1v1h-1zM4 96h1v1h-1zM7 96h1v1h-1zM9 96h1v1h-1zM11 96h1v1h-1zM14 96h1v1h-1zM16 96h1v1h-1zM19 96h1v1h-1zM21 96h1v1h-1zM45 96h1v1h-1zM3 97h3v1h-3zM7 97h1v1h-1zM9 97h1v1h-1zM11 97h2v1h-2zM18 97h1v1h-1zM20 97h1v1h-1zM29 97h3v1h-3zM45 97h1v1h-1zM81 97h1v1h-1zM2 98h2v1h-2zM10 98h1v1h-1zM12 98h4v1h-4zM17 98h3v1h-3zM21 98h2v1h-2zM34 98h1v1h-1zM45 98h1v1h-1zM2 99h2v1h-2zM11 99h2v1h-2zM14 99h1v1h-1zM16 99h4v1h-4zM22 99h1v1h-1zM80 99h2v1h-2z"/><path fill="#faba39" d="M90 0h3v1h-3zM96 0h1v1h-1zM91 1h2v1h-2zM96 1h1v1h-1zM74 2h1v1h-1zM91 2h1v1h-1zM95 2h1v1h-1zM93 3h2v1h-2zM93 4h3v1h-3zM29 5h1v1h-1zM93 5h1v1h-1zM28 6h1v1h-1zM44 6h2v1h-2zM48 6h1v1h-1zM73 6h2v1h-2zM93 6h2v1h-2zM27 7h3v1h-3zM50 7h1v1h-1zM73 7h1v1h-1zM93 7h1v1h-1zM44 8h2v1h-2zM51 8h1v1h-1zM72 8h2v1h-2zM93 8h1v1h-1zM28 9h1v1h-1zM45 9h3v1h-3zM49 9h1v1h-1zM72 9h3v1h-3zM94 9h3v1h-3zM27 10h2v1h-2zM46 10h3v1h-3zM50 10h1v1h-1zM72 10h1v1h-1zM74 10h2v1h-2zM93 10h1v1h-1zM95 10h3v1h-3zM27 11h1v1h-1zM29 11h1v1h-1zM46 11h2v1h-2zM72 11h3v1h-3zM95 11h2v1h-2zM27 12h1v1h-1zM29 12h1v1h-1zM37 12h1v1h-1zM47 12h2v1h-2zM74 12h1v1h-1zM96 12h1v1h-1zM28 13h2v1h-2zM44 13h1v1h-1zM47 13h1v1h-1zM73 13h2v1h-2zM96 13h1v1h-1zM27 14h2v1h-2zM43 14h2v1h-2zM46 14h2v1h-2zM74 14h1v1h-1zM96 14h1v1h-1zM27 15h1v1h-1zM41 15h1v1h-1zM43 15h1v1h-1zM46 15h2v1h-2zM74 15h1v1h-1zM95 15h1v1h-1zM34 16h1v1h-1zM43 16h2v1h-2zM46 16h1v1h-1zM94 16h1v1h-1zM27 17h4v1h-4zM33 17h4v1h-4zM42 17h3v1h-3zM74 17h2v1h-2zM21 18h1v1h-1zM23 18h1v1h-1zM28 18h1v1h-1zM33 18h2v1h-2zM36 18h1v1h-1zM39 18h5v1h-5zM74 18h1v1h-1zM93 18h1v1h-1zM21 19h1v1h-1zM28 19h1v1h-1zM32 19h2v1h-2zM35 19h6v1h-6zM43 19h1v1h-1zM16 20h1v1h-1zM25 20h1v1h-1zM34 20h3v1h-3zM72 20h2v1h-2zM91 20h2v1h-2zM24 21h3v1h-3zM34 21h2v1h-2zM70 21h1v1h-1zM90 21h1v1h-1zM15 22h1v1h-1zM33 22h1v1h-1zM35 22h1v1h-1zM71 22h1v1h-1zM73 22h1v1h-1zM87 22h1v1h-1zM12 23h1v1h-1zM32 23h1v1h-1zM34 23h1v1h-1zM71 23h1v1h-1zM87 23h1v1h-1zM12 24h3v1h-3zM27 24h2v1h-2zM71 24h1v1h-1zM73 24h2v1h-2zM87 24h1v1h-1zM12 25h1v1h-1zM26 25h2v1h-2zM87 25h1v1h-1zM10 26h2v1h-2zM73 26h1v1h-1zM87 26h1v1h-1zM11 27h1v1h-1zM27 27h1v1h-1zM73 27h1v1h-1zM85 27h1v1h-1zM9 28h1v1h-1zM27 28h3v1h-3zM73 28h1v1h-1zM84 28h1v1h-1zM87 28h1v1h-1zM72 29h2v1h-2zM84 29h2v1h-2zM87 29h1v1h-1zM99 29h1v1h-1zM6 30h3v1h-3zM26 30h2v1h-2zM85 30h1v1h-1zM87 30h1v1h-1zM96 30h3v1h-3zM6 31h1v1h-1zM8 31h1v1h-1zM70 31h1v1h-1zM85 31h1v1h-1zM6 32h3v1h-3zM84 32h1v1h-1zM87 32h1v1h-1zM6 33h3v1h-3zM71 33h2v1h-2zM85 33h1v1h-1zM87 33h1v1h-1zM96 33h1v1h-1zM8 34h1v1h-1zM74 34h1v1h-1zM86 34h2v1h-2zM96 34h2v1h-2zM8 35h1v1h-1zM73 35h1v1h-1zM75 35h1v1h-1zM87 35h2v1h-2zM96 35h2v1h-2zM1 36h1v1h-1zM3 36h1v1h-1zM76 36h1v1h-1zM89 36h1v1h-1zM94 36h1v1h-1zM77 37h1v1h-1zM89 37h1v1h-1zM99 37h1v1h-1zM78 38h1v1h-1zM80 38h1v1h-1zM85 38h1v1h-1zM90 38h3v1h-3zM79 39h1v1h-1zM90 39h2v1h-2zM5 42h1v1h-1zM80 43h1v1h-1zM99 45h1v1h-1zM80 46h2v1h-2zM81 47h1v1h-1zM99 48h1v1h-1zM83 49h1v1h-1zM98 49h1v1h-1zM98 51h2v1h-2zM88 55h1v1h-1zM0 56h3v1h-3zM88 56h1v1h-1zM0 57h1v1h-1zM0 58h4v1h-4zM0 59h1v1h-1zM2 59h2v1h-2zM5 59h1v1h-1zM88 59h1v1h-1zM3 60h1v1h-1zM5 60h1v1h-1zM88 60h1v1h-1zM3 61h2v1h-2zM6 61h1v1h-1zM1 62h2v1h-2zM7 62h2v1h-2zM89 62h1v1h-1zM2 63h1v1h-1zM8 63h1v1h-1zM88 63h3v1h-3zM1 64h1v1h-1zM88 64h1v1h-1zM0 65h4v1h-4zM16 65h1v1h-1zM1 66h4v1h-4zM9 66h1v1h-1zM18 66h1v1h-1zM21 66h1v1h-1zM2 67h1v1h-1zM12 67h1v1h-1zM15 67h3v1h-3zM20 67h1v1h-1zM22 67h1v1h-1zM10 68h1v1h-1zM13 68h2v1h-2zM16 68h1v1h-1zM18 68h2v1h-2zM22 68h1v1h-1zM87 68h1v1h-1zM7 69h1v1h-1zM10 69h2v1h-2zM14 69h1v1h-1zM20 69h2v1h-2zM86 69h1v1h-1zM3 70h1v1h-1zM6 70h1v1h-1zM15 70h1v1h-1zM20 70h4v1h-4zM3 71h5v1h-5zM14 71h1v1h-1zM22 71h1v1h-1zM84 71h1v1h-1zM4 72h1v1h-1zM14 72h2v1h-2zM20 72h2v1h-2zM84 72h1v1h-1zM11 73h1v1h-1zM13 73h1v1h-1zM20 73h1v1h-1zM23 73h1v1h-1zM84 73h1v1h-1zM14 74h1v1h-1zM18 74h2v1h-2zM21 74h2v1h-2zM14 75h4v1h-4zM27 75h1v1h-1zM83 75h1v1h-1zM82 76h1v1h-1zM10 77h1v1h-1zM14 77h1v1h-1zM80 77h3v1h-3zM13 78h4v1h-4zM78 78h2v1h-2zM11 79h1v1h-1zM14 79h1v1h-1zM16 79h1v1h-1zM25 79h1v1h-1zM79 79h1v1h-1zM9 80h1v1h-1zM14 80h4v1h-4zM24 80h1v1h-1zM80 80h2v1h-2zM9 81h2v1h-2zM23 81h2v1h-2zM81 81h2v1h-2zM9 82h1v1h-1zM21 82h2v1h-2zM24 82h1v1h-1zM81 82h1v1h-1zM20 83h2v1h-2zM82 83h1v1h-1zM20 84h4v1h-4zM22 85h2v1h-2zM83 85h1v1h-1zM22 86h1v1h-1zM83 86h1v1h-1zM24 87h1v1h-1zM51 89h1v1h-1zM55 89h1v1h-1zM46 90h2v1h-2zM57 90h2v1h-2zM4 91h1v1h-1zM24 91h2v1h-2zM44 91h2v1h-2zM59 91h1v1h-1zM80 91h1v1h-1zM24 92h1v1h-1zM62 92h1v1h-1zM44 93h1v1h-1zM79 93h1v1h-1zM25 94h1v1h-1zM44 94h1v1h-1zM63 94h2v1h-2zM24 95h3v1h-3zM31 95h2v1h-2zM44 95h1v1h-1zM79 95h1v1h-1zM23 96h1v1h-1zM27 96h4v1h-4zM32 96h1v1h-1zM34 96h3v1h-3zM44 96h1v1h-1zM79 96h1v1h-1zM23 97h4v1h-4zM36 97h1v1h-1zM63 97h1v1h-1zM79 97h1v1h-1zM32 98h1v1h-1zM62 98h2v1h-2zM79 98h1v1h-1zM6 99h1v1h-1zM24 99h1v1h-1zM26 99h2v1h-2zM29 99h5v1h-5zM37 99h1v1h-1zM44 99h1v1h-1zM79 99h1v1h-1z"/><path fill="#da3907" d="M14 1h1v1h-1zM12 3h1v1h-1zM24 5h1v1h-1zM24 6h1v1h-1zM65 10h1v1h-1zM66 11h1v1h-1zM57 13h5v1h-5zM56 14h1v1h-1zM58 14h3v1h-3zM25 15h1v1h-1zM57 15h4v1h-4zM58 16h1v1h-1zM58 17h2v1h-2zM54 18h1v1h-1zM56 18h3v1h-3zM63 18h1v1h-1zM53 19h6v1h-6zM60 19h1v1h-1zM98 19h1v1h-1zM51 20h4v1h-4zM56 20h1v1h-1zM59 20h1v1h-1zM50 21h1v1h-1zM53 21h1v1h-1zM55 21h3v1h-3zM60 21h1v1h-1zM96 21h1v1h-1zM53 22h1v1h-1zM58 22h1v1h-1zM96 22h1v1h-1zM51 23h2v1h-2zM97 23h3v1h-3zM51 24h2v1h-2zM57 24h1v1h-1zM58 25h1v1h-1zM52 26h2v1h-2zM58 26h1v1h-1zM51 27h4v1h-4zM57 27h1v1h-1zM57 28h1v1h-1zM54 29h3v1h-3zM38 30h1v1h-1zM39 31h1v1h-1zM45 31h2v1h-2zM45 32h2v1h-2zM48 32h2v1h-2zM61 32h2v1h-2zM45 33h4v1h-4zM59 33h1v1h-1zM62 33h1v1h-1zM46 34h2v1h-2zM59 34h1v1h-1zM47 35h1v1h-1zM59 35h1v1h-1zM46 36h2v1h-2zM44 37h3v1h-3zM59 37h1v1h-1zM43 38h2v1h-2zM59 38h1v1h-1zM39 39h2v1h-2zM42 39h1v1h-1zM59 39h2v1h-2zM63 39h1v1h-1zM65 39h1v1h-1zM41 40h3v1h-3zM59 40h3v1h-3zM64 40h1v1h-1zM66 40h1v1h-1zM21 41h1v1h-1zM28 41h1v1h-1zM33 41h1v1h-1zM35 41h2v1h-2zM41 41h2v1h-2zM58 41h7v1h-7zM66 41h1v1h-1zM28 42h1v1h-1zM30 42h3v1h-3zM35 42h2v1h-2zM39 42h3v1h-3zM57 42h1v1h-1zM22 43h1v1h-1zM29 43h3v1h-3zM56 43h3v1h-3zM72 43h1v1h-1zM65 44h2v1h-2zM68 44h2v1h-2zM71 44h1v1h-1zM73 44h1v1h-1zM17 45h1v1h-1zM31 45h2v1h-2zM57 45h2v1h-2zM64 45h1v1h-1zM66 45h2v1h-2zM69 45h1v1h-1zM74 45h1v1h-1zM18 46h1v1h-1zM30 46h1v1h-1zM56 46h1v1h-1zM59 46h1v1h-1zM61 46h1v1h-1zM63 46h2v1h-2zM67 46h1v1h-1zM69 46h2v1h-2zM75 46h1v1h-1zM18 47h1v1h-1zM27 47h1v1h-1zM29 47h1v1h-1zM58 47h1v1h-1zM65 47h3v1h-3zM70 47h1v1h-1zM28 48h1v1h-1zM56 48h1v1h-1zM64 48h1v1h-1zM66 48h1v1h-1zM69 48h2v1h-2zM76 48h1v1h-1zM27 49h1v1h-1zM65 49h1v1h-1zM67 49h1v1h-1zM69 49h2v1h-2zM26 50h1v1h-1zM26 51h1v1h-1zM81 51h1v1h-1zM24 52h2v1h-2zM27 52h1v1h-1zM20 54h1v1h-1zM23 54h1v1h-1zM25 54h1v1h-1zM27 54h1v1h-1zM22 55h3v1h-3zM26 55h2v1h-2zM21 56h2v1h-2zM26 56h3v1h-3zM21 57h1v1h-1zM24 57h5v1h-5zM20 58h10v1h-10zM84 58h1v1h-1zM20 59h6v1h-6zM30 59h2v1h-2zM34 59h1v1h-1zM84 59h1v1h-1zM21 60h5v1h-5zM27 60h1v1h-1zM25 61h1v1h-1zM32 61h1v1h-1zM25 62h1v1h-1zM31 62h1v1h-1zM83 62h1v1h-1zM33 63h3v1h-3zM32 64h2v1h-2zM35 64h1v1h-1zM81 64h2v1h-2zM33 65h3v1h-3zM39 65h1v1h-1zM80 65h2v1h-2zM36 66h1v1h-1zM79 66h1v1h-1zM34 67h2v1h-2zM37 67h1v1h-1zM79 67h1v1h-1zM35 68h2v1h-2zM41 68h2v1h-2zM44 68h1v1h-1zM74 68h1v1h-1zM79 68h1v1h-1zM37 69h1v1h-1zM42 69h3v1h-3zM72 69h1v1h-1zM74 69h3v1h-3zM78 69h1v1h-1zM38 70h1v1h-1zM43 70h1v1h-1zM70 70h1v1h-1zM74 70h1v1h-1zM45 71h1v1h-1zM68 71h2v1h-2zM71 71h1v1h-1zM74 71h1v1h-1zM77 71h1v1h-1zM43 72h4v1h-4zM69 72h3v1h-3zM42 73h1v1h-1zM44 73h1v1h-1zM46 73h1v1h-1zM69 73h1v1h-1zM44 74h1v1h-1zM65 74h1v1h-1zM70 74h1v1h-1zM43 75h2v1h-2zM58 75h1v1h-1zM62 75h1v1h-1zM64 75h3v1h-3zM58 76h4v1h-4zM63 76h1v1h-1zM65 76h2v1h-2zM43 77h2v1h-2zM46 77h1v1h-1zM58 77h1v1h-1zM60 77h2v1h-2zM66 77h1v1h-1zM42 78h2v1h-2zM45 78h1v1h-1zM59 78h2v1h-2zM64 78h1v1h-1zM66 78h1v1h-1zM45 79h1v1h-1zM64 79h1v1h-1zM66 79h1v1h-1zM44 80h1v1h-1zM47 80h1v1h-1zM64 80h2v1h-2zM43 81h1v1h-1zM45 81h1v1h-1zM47 81h2v1h-2zM54 81h1v1h-1zM56 81h1v1h-1zM63 81h1v1h-1zM65 81h1v1h-1zM42 82h5v1h-5zM48 82h3v1h-3zM54 82h1v1h-1zM57 82h1v1h-1zM59 82h2v1h-2zM62 82h1v1h-1zM64 82h1v1h-1zM42 83h1v1h-1zM47 83h1v1h-1zM50 83h1v1h-1zM52 83h2v1h-2zM59 83h1v1h-1zM42 84h1v1h-1zM51 84h2v1h-2zM67 84h1v1h-1zM67 85h2v1h-2zM67 86h1v1h-1zM69 86h1v1h-1zM66 87h4v1h-4zM66 88h2v1h-2zM66 89h1v1h-1z"/><path fill="#b91e02" d="M13 2h1v1h-1zM99 20h1v1h-1zM98 21h2v1h-2zM53 31h1v1h-1zM52 32h2v1h-2zM55 32h1v1h-1zM49 33h1v1h-1zM51 33h2v1h-2zM55 33h2v1h-2zM50 34h2v1h-2zM55 34h1v1h-1zM57 34h1v1h-1zM51 35h3v1h-3zM55 35h1v1h-1zM49 36h4v1h-4zM55 36h3v1h-3zM49 37h5v1h-5zM55 37h2v1h-2zM48 38h4v1h-4zM53 38h3v1h-3zM46 39h1v1h-1zM48 39h2v1h-2zM53 39h2v1h-2zM46 40h7v1h-7zM54 40h1v1h-1zM45 41h2v1h-2zM50 41h1v1h-1zM52 41h1v1h-1zM54 41h1v1h-1zM45 42h1v1h-1zM50 42h1v1h-1zM52 42h3v1h-3zM33 43h1v1h-1zM35 43h1v1h-1zM44 43h2v1h-2zM33 44h1v1h-1zM36 44h3v1h-3zM40 44h1v1h-1zM44 44h1v1h-1zM51 44h2v1h-2zM35 45h2v1h-2zM40 45h1v1h-1zM43 45h2v1h-2zM53 45h1v1h-1zM40 46h2v1h-2zM43 46h3v1h-3zM43 47h1v1h-1zM30 48h1v1h-1zM35 48h5v1h-5zM42 48h1v1h-1zM49 48h1v1h-1zM52 48h2v1h-2zM73 48h1v1h-1zM39 49h1v1h-1zM42 49h1v1h-1zM52 49h1v1h-1zM58 49h1v1h-1zM71 49h1v1h-1zM74 49h1v1h-1zM28 50h4v1h-4zM39 50h1v1h-1zM55 50h5v1h-5zM75 50h3v1h-3zM28 51h3v1h-3zM32 51h1v1h-1zM35 51h1v1h-1zM39 51h1v1h-1zM55 51h2v1h-2zM66 51h2v1h-2zM70 51h1v1h-1zM32 52h3v1h-3zM36 52h5v1h-5zM42 52h1v1h-1zM68 52h2v1h-2zM32 53h1v1h-1zM36 53h1v1h-1zM38 53h3v1h-3zM42 53h2v1h-2zM81 53h1v1h-1zM32 54h1v1h-1zM39 54h5v1h-5zM81 54h1v1h-1zM37 55h1v1h-1zM39 55h1v1h-1zM42 55h1v1h-1zM30 56h1v1h-1zM38 56h4v1h-4zM31 57h1v1h-1zM34 57h2v1h-2zM40 57h3v1h-3zM80 57h2v1h-2zM41 58h1v1h-1zM65 58h1v1h-1zM67 58h1v1h-1zM81 58h1v1h-1zM36 59h3v1h-3zM66 59h1v1h-1zM71 59h2v1h-2zM78 59h1v1h-1zM82 59h1v1h-1zM37 60h1v1h-1zM39 60h1v1h-1zM71 60h3v1h-3zM77 60h2v1h-2zM37 61h1v1h-1zM39 61h1v1h-1zM41 61h1v1h-1zM43 61h1v1h-1zM70 61h2v1h-2zM74 61h1v1h-1zM76 61h1v1h-1zM41 62h4v1h-4zM46 62h1v1h-1zM72 62h2v1h-2zM75 62h1v1h-1zM77 62h2v1h-2zM40 63h1v1h-1zM43 63h4v1h-4zM72 63h1v1h-1zM74 63h1v1h-1zM77 63h1v1h-1zM43 64h1v1h-1zM46 64h1v1h-1zM72 64h1v1h-1zM75 64h1v1h-1zM44 65h1v1h-1zM64 65h1v1h-1zM71 65h5v1h-5zM43 66h3v1h-3zM64 66h1v1h-1zM71 66h1v1h-1zM73 66h2v1h-2zM77 66h1v1h-1zM38 67h1v1h-1zM47 67h2v1h-2zM53 67h4v1h-4zM65 67h1v1h-1zM52 68h1v1h-1zM54 68h1v1h-1zM56 68h1v1h-1zM58 68h1v1h-1zM60 68h1v1h-1zM62 68h1v1h-1zM64 68h1v1h-1zM47 69h1v1h-1zM49 69h1v1h-1zM54 69h5v1h-5zM61 69h2v1h-2zM64 69h2v1h-2zM56 70h1v1h-1zM58 70h2v1h-2zM61 70h1v1h-1zM47 71h1v1h-1zM62 71h2v1h-2zM47 72h1v1h-1zM49 72h2v1h-2zM53 72h1v1h-1zM56 72h1v1h-1zM60 72h2v1h-2zM48 73h1v1h-1zM50 73h1v1h-1zM53 73h4v1h-4zM61 73h2v1h-2zM50 74h2v1h-2zM54 74h2v1h-2zM61 74h2v1h-2zM50 75h3v1h-3zM55 75h2v1h-2zM49 76h6v1h-6zM52 77h1v1h-1zM55 77h1v1h-1zM48 78h1v1h-1zM54 78h2v1h-2zM48 79h2v1h-2zM53 79h2v1h-2zM56 79h2v1h-2zM49 80h1v1h-1zM52 81h1v1h-1z"/><path fill="#9ffd3f" d="M12 4h1v1h-1zM10 5h2v1h-2zM13 5h1v1h-1zM8 6h2v1h-2zM5 7h2v1h-2zM9 7h1v1h-1zM15 7h3v1h-3zM4 8h3v1h-3zM8 8h1v1h-1zM13 8h1v1h-1zM17 8h2v1h-2zM1 9h2v1h-2zM4 9h3v1h-3zM17 9h2v1h-2zM5 10h2v1h-2zM11 10h1v1h-1zM16 10h1v1h-1zM6 11h1v1h-1zM8 11h1v1h-1zM11 11h1v1h-1zM14 11h2v1h-2zM82 11h1v1h-1zM4 12h1v1h-1zM7 12h1v1h-1zM14 12h1v1h-1zM82 12h1v1h-1zM84 12h1v1h-1zM82 13h3v1h-3zM13 15h1v1h-1zM3 22h2v1h-2zM3 23h1v1h-1zM97 62h3v1h-3zM96 64h1v1h-1zM95 65h2v1h-2zM94 66h1v1h-1zM96 66h1v1h-1zM91 68h2v1h-2zM91 69h1v1h-1zM91 70h1v1h-1zM91 71h1v1h-1zM90 72h1v1h-1zM90 73h1v1h-1zM90 74h1v1h-1zM89 75h1v1h-1zM89 76h3v1h-3zM88 77h1v1h-1zM91 77h1v1h-1zM87 79h1v1h-1zM89 79h2v1h-2zM90 80h1v1h-1zM88 81h3v1h-3zM88 82h1v1h-1zM89 83h1v1h-1zM91 83h1v1h-1zM90 84h1v1h-1zM89 85h2v1h-2zM89 86h2v1h-2zM90 88h2v1h-2zM90 89h4v1h-4zM91 90h1v1h-1zM92 91h2v1h-2zM91 93h2v1h-2zM94 93h1v1h-1zM87 94h1v1h-1zM91 94h1v1h-1zM86 95h1v1h-1zM88 95h1v1h-1zM90 95h3v1h-3zM98 95h2v1h-2zM86 96h1v1h-1zM90 96h1v1h-1zM93 96h1v1h-1zM98 96h2v1h-2zM87 97h1v1h-1zM90 97h4v1h-4zM98 97h2v1h-2zM57 98h1v1h-1zM87 98h1v1h-1zM90 98h1v1h-1zM93 98h1v1h-1zM95 98h1v1h-1zM98 98h2v1h-2zM91 99h2v1h-2zM95 99h1v1h-1z"/><path fill="#acfb38" d="M13 4h2v1h-2zM8 5h2v1h-2zM12 5h1v1h-1zM14 5h1v1h-1zM4 6h3v1h-3zM10 6h5v1h-5zM17 6h1v1h-1zM4 7h1v1h-1zM10 7h3v1h-3zM14 7h1v1h-1zM18 7h1v1h-1zM9 8h4v1h-4zM19 8h1v1h-1zM9 9h2v1h-2zM2 10h2v1h-2zM9 10h2v1h-2zM17 10h2v1h-2zM82 10h1v1h-1zM3 11h2v1h-2zM7 11h1v1h-1zM9 11h2v1h-2zM12 11h1v1h-1zM16 11h1v1h-1zM81 11h1v1h-1zM84 11h2v1h-2zM5 12h1v1h-1zM8 12h4v1h-4zM15 12h1v1h-1zM81 12h1v1h-1zM85 12h1v1h-1zM5 13h2v1h-2zM8 13h1v1h-1zM12 13h2v1h-2zM81 13h1v1h-1zM5 14h1v1h-1zM7 14h1v1h-1zM79 14h1v1h-1zM82 14h2v1h-2zM12 15h1v1h-1zM14 15h1v1h-1zM13 16h2v1h-2zM13 17h1v1h-1zM0 21h1v1h-1zM3 21h1v1h-1zM0 22h1v1h-1zM0 23h1v1h-1zM2 23h1v1h-1zM4 23h2v1h-2zM3 24h1v1h-1zM95 63h2v1h-2zM95 64h1v1h-1zM93 66h1v1h-1zM92 67h1v1h-1zM90 71h1v1h-1zM88 75h1v1h-1zM88 76h1v1h-1zM89 77h2v1h-2zM90 78h1v1h-1zM88 80h2v1h-2zM87 81h1v1h-1zM88 83h1v1h-1zM88 85h1v1h-1zM89 87h2v1h-2zM89 88h1v1h-1zM89 90h1v1h-1zM88 91h1v1h-1zM91 91h1v1h-1zM87 92h1v1h-1zM89 92h4v1h-4zM86 93h2v1h-2zM89 93h2v1h-2zM93 93h1v1h-1zM99 93h1v1h-1zM85 94h2v1h-2zM88 94h3v1h-3zM92 94h1v1h-1zM99 94h1v1h-1zM85 95h1v1h-1zM87 95h1v1h-1zM89 95h1v1h-1zM85 96h1v1h-1zM91 96h1v1h-1zM57 97h1v1h-1zM85 97h2v1h-2zM96 97h2v1h-2zM55 98h1v1h-1zM91 98h2v1h-2zM96 98h2v1h-2zM56 99h1v1h-1zM87 99h1v1h-1zM98 99h1v1h-1z"/><path fill="#d02f05" d="M15 4h1v1h-1zM57 14h1v1h-1zM25 16h1v1h-1zM99 19h1v1h-1zM57 20h1v1h-1zM97 20h1v1h-1zM58 21h1v1h-1zM97 22h1v1h-1zM99 22h1v1h-1zM52 28h2v1h-2zM51 29h2v1h-2zM51 30h2v1h-2zM55 30h1v1h-1zM50 31h2v1h-2zM55 31h2v1h-2zM50 32h1v1h-1zM56 32h2v1h-2zM58 33h1v1h-1zM60 33h1v1h-1zM48 34h1v1h-1zM58 34h1v1h-1zM48 35h1v1h-1zM58 35h1v1h-1zM59 36h1v1h-1zM45 38h2v1h-2zM58 38h1v1h-1zM44 39h1v1h-1zM57 39h1v1h-1zM44 40h1v1h-1zM58 40h1v1h-1zM43 41h2v1h-2zM57 41h1v1h-1zM65 41h1v1h-1zM33 42h1v1h-1zM42 42h1v1h-1zM56 42h1v1h-1zM64 42h1v1h-1zM36 43h3v1h-3zM40 43h2v1h-2zM31 44h2v1h-2zM55 44h2v1h-2zM70 44h1v1h-1zM54 45h3v1h-3zM65 45h1v1h-1zM68 45h1v1h-1zM70 45h2v1h-2zM73 45h1v1h-1zM29 46h1v1h-1zM31 46h1v1h-1zM33 46h1v1h-1zM54 46h2v1h-2zM57 46h2v1h-2zM60 46h1v1h-1zM66 46h1v1h-1zM68 46h1v1h-1zM71 46h1v1h-1zM74 46h1v1h-1zM28 47h1v1h-1zM30 47h1v1h-1zM34 47h1v1h-1zM55 47h3v1h-3zM59 47h3v1h-3zM64 47h1v1h-1zM71 47h1v1h-1zM75 47h1v1h-1zM29 48h1v1h-1zM31 48h4v1h-4zM55 48h1v1h-1zM57 48h1v1h-1zM61 48h3v1h-3zM67 48h1v1h-1zM71 48h1v1h-1zM75 48h1v1h-1zM34 49h1v1h-1zM63 49h2v1h-2zM66 49h1v1h-1zM68 49h1v1h-1zM77 49h2v1h-2zM27 50h1v1h-1zM38 50h1v1h-1zM64 50h1v1h-1zM68 50h2v1h-2zM79 50h1v1h-1zM27 51h1v1h-1zM68 51h1v1h-1zM80 51h1v1h-1zM28 52h2v1h-2zM82 52h1v1h-1zM23 53h1v1h-1zM27 53h4v1h-4zM82 53h1v1h-1zM28 54h3v1h-3zM82 54h1v1h-1zM28 55h2v1h-2zM23 56h2v1h-2zM29 56h1v1h-1zM82 56h1v1h-1zM23 57h1v1h-1zM82 57h2v1h-2zM30 58h1v1h-1zM82 58h2v1h-2zM26 59h1v1h-1zM33 59h1v1h-1zM80 59h1v1h-1zM83 59h1v1h-1zM32 60h1v1h-1zM83 60h1v1h-1zM31 61h1v1h-1zM33 61h2v1h-2zM83 61h1v1h-1zM32 62h5v1h-5zM36 63h2v1h-2zM41 63h1v1h-1zM81 63h2v1h-2zM37 64h4v1h-4zM42 64h1v1h-1zM80 64h1v1h-1zM36 65h3v1h-3zM40 65h1v1h-1zM79 65h1v1h-1zM34 66h2v1h-2zM37 66h1v1h-1zM39 66h4v1h-4zM75 66h2v1h-2zM80 66h1v1h-1zM36 67h1v1h-1zM40 67h3v1h-3zM71 67h2v1h-2zM74 67h4v1h-4zM37 68h4v1h-4zM43 68h1v1h-1zM45 68h2v1h-2zM70 68h3v1h-3zM76 68h3v1h-3zM39 69h1v1h-1zM45 69h2v1h-2zM69 69h1v1h-1zM77 69h1v1h-1zM45 70h1v1h-1zM65 70h1v1h-1zM68 70h2v1h-2zM75 70h1v1h-1zM46 71h1v1h-1zM66 71h2v1h-2zM58 72h2v1h-2zM62 72h1v1h-1zM64 72h2v1h-2zM43 73h1v1h-1zM45 73h1v1h-1zM57 73h1v1h-1zM59 73h2v1h-2zM65 73h1v1h-1zM43 74h1v1h-1zM57 74h4v1h-4zM64 74h1v1h-1zM45 75h1v1h-1zM47 75h2v1h-2zM57 75h1v1h-1zM59 75h1v1h-1zM61 75h1v1h-1zM63 75h1v1h-1zM43 76h2v1h-2zM46 76h2v1h-2zM57 76h1v1h-1zM45 77h1v1h-1zM47 77h1v1h-1zM63 77h3v1h-3zM44 78h1v1h-1zM46 78h1v1h-1zM58 78h1v1h-1zM61 78h3v1h-3zM65 78h1v1h-1zM44 79h1v1h-1zM46 79h2v1h-2zM55 79h1v1h-1zM60 79h1v1h-1zM63 79h1v1h-1zM65 79h1v1h-1zM46 80h1v1h-1zM48 80h1v1h-1zM56 80h1v1h-1zM63 80h1v1h-1zM44 81h1v1h-1zM46 81h1v1h-1zM55 81h1v1h-1zM57 81h1v1h-1zM60 81h2v1h-2zM64 81h1v1h-1zM47 82h1v1h-1zM51 82h1v1h-1zM53 82h1v1h-1zM58 82h1v1h-1zM51 83h1v1h-1zM68 86h1v1h-1z"/><path fill="#e2430a" d="M20 4h1v1h-1zM66 5h1v1h-1zM66 7h2v1h-2zM64 9h3v1h-3zM64 10h1v1h-1zM66 10h1v1h-1zM63 11h3v1h-3zM56 12h5v1h-5zM64 12h2v1h-2zM56 13h1v1h-1zM61 14h1v1h-1zM56 15h1v1h-1zM61 15h1v1h-1zM57 16h1v1h-1zM59 16h2v1h-2zM54 17h4v1h-4zM61 17h2v1h-2zM52 18h2v1h-2zM55 18h1v1h-1zM59 18h1v1h-1zM62 18h1v1h-1zM51 19h2v1h-2zM59 19h1v1h-1zM61 19h1v1h-1zM96 19h2v1h-2zM55 20h1v1h-1zM58 20h1v1h-1zM60 20h1v1h-1zM52 21h1v1h-1zM54 21h1v1h-1zM59 21h1v1h-1zM50 22h3v1h-3zM54 22h4v1h-4zM59 22h1v1h-1zM95 22h1v1h-1zM50 23h1v1h-1zM53 23h3v1h-3zM57 23h3v1h-3zM96 23h1v1h-1zM50 24h1v1h-1zM53 24h4v1h-4zM50 25h8v1h-8zM59 25h1v1h-1zM62 25h1v1h-1zM64 25h1v1h-1zM47 26h2v1h-2zM51 26h1v1h-1zM54 26h1v1h-1zM56 26h2v1h-2zM63 26h1v1h-1zM48 27h1v1h-1zM50 27h1v1h-1zM55 27h2v1h-2zM58 27h1v1h-1zM38 28h1v1h-1zM49 28h3v1h-3zM54 28h3v1h-3zM58 28h1v1h-1zM46 29h1v1h-1zM50 29h1v1h-1zM57 29h2v1h-2zM37 30h1v1h-1zM39 30h1v1h-1zM46 30h3v1h-3zM50 30h1v1h-1zM56 30h3v1h-3zM61 30h2v1h-2zM37 31h2v1h-2zM40 31h1v1h-1zM44 31h1v1h-1zM47 31h3v1h-3zM57 31h1v1h-1zM60 31h3v1h-3zM19 32h1v1h-1zM36 32h1v1h-1zM38 32h7v1h-7zM47 32h1v1h-1zM58 32h1v1h-1zM60 32h1v1h-1zM63 32h1v1h-1zM19 33h2v1h-2zM39 33h1v1h-1zM42 33h3v1h-3zM61 33h1v1h-1zM63 33h1v1h-1zM19 34h1v1h-1zM39 34h1v1h-1zM45 34h1v1h-1zM60 34h1v1h-1zM63 34h1v1h-1zM44 35h3v1h-3zM60 35h1v1h-1zM43 36h1v1h-1zM45 36h1v1h-1zM60 36h1v1h-1zM41 37h3v1h-3zM60 37h1v1h-1zM38 38h1v1h-1zM40 38h3v1h-3zM60 38h1v1h-1zM63 38h3v1h-3zM17 39h1v1h-1zM37 39h1v1h-1zM41 39h1v1h-1zM43 39h1v1h-1zM61 39h2v1h-2zM64 39h1v1h-1zM66 39h1v1h-1zM16 40h1v1h-1zM28 40h1v1h-1zM37 40h4v1h-4zM62 40h2v1h-2zM65 40h1v1h-1zM15 41h1v1h-1zM18 41h1v1h-1zM27 41h1v1h-1zM29 41h1v1h-1zM31 41h2v1h-2zM37 41h2v1h-2zM40 41h1v1h-1zM19 42h3v1h-3zM29 42h1v1h-1zM37 42h2v1h-2zM58 42h6v1h-6zM65 42h2v1h-2zM13 43h1v1h-1zM18 43h1v1h-1zM20 43h2v1h-2zM60 43h1v1h-1zM63 43h4v1h-4zM68 43h4v1h-4zM73 43h1v1h-1zM17 44h3v1h-3zM21 44h2v1h-2zM29 44h1v1h-1zM57 44h1v1h-1zM59 44h2v1h-2zM63 44h2v1h-2zM67 44h1v1h-1zM74 44h3v1h-3zM16 45h1v1h-1zM18 45h2v1h-2zM27 45h4v1h-4zM60 45h2v1h-2zM63 45h1v1h-1zM75 45h1v1h-1zM15 46h3v1h-3zM26 46h3v1h-3zM62 46h1v1h-1zM65 46h1v1h-1zM16 47h2v1h-2zM68 47h2v1h-2zM76 47h1v1h-1zM17 48h2v1h-2zM26 48h2v1h-2zM65 48h1v1h-1zM68 48h1v1h-1zM77 48h1v1h-1zM16 49h3v1h-3zM18 50h1v1h-1zM20 51h1v1h-1zM25 51h1v1h-1zM82 51h1v1h-1zM20 52h4v1h-4zM26 52h1v1h-1zM83 52h1v1h-1zM20 53h3v1h-3zM24 53h3v1h-3zM83 53h1v1h-1zM21 54h2v1h-2zM24 54h1v1h-1zM26 54h1v1h-1zM20 55h2v1h-2zM25 55h1v1h-1zM82 55h1v1h-1zM19 56h2v1h-2zM25 56h1v1h-1zM83 56h2v1h-2zM16 57h5v1h-5zM22 57h1v1h-1zM84 57h1v1h-1zM16 58h1v1h-1zM18 58h1v1h-1zM27 59h2v1h-2zM19 60h2v1h-2zM26 60h1v1h-1zM30 60h2v1h-2zM84 60h1v1h-1zM19 61h6v1h-6zM27 61h1v1h-1zM30 61h1v1h-1zM24 62h1v1h-1zM26 62h1v1h-1zM30 62h1v1h-1zM31 63h2v1h-2zM83 63h1v1h-1zM31 64h1v1h-1zM34 64h1v1h-1zM83 64h1v1h-1zM32 65h1v1h-1zM82 65h1v1h-1zM32 66h2v1h-2zM81 66h1v1h-1zM33 67h1v1h-1zM80 67h1v1h-1zM33 68h2v1h-2zM73 68h1v1h-1zM75 68h1v1h-1zM34 69h1v1h-1zM36 69h1v1h-1zM38 69h1v1h-1zM40 69h2v1h-2zM70 69h2v1h-2zM37 70h1v1h-1zM39 70h3v1h-3zM44 70h1v1h-1zM71 70h1v1h-1zM73 70h1v1h-1zM76 70h3v1h-3zM38 71h2v1h-2zM42 71h3v1h-3zM70 71h1v1h-1zM72 71h2v1h-2zM75 71h1v1h-1zM38 72h1v1h-1zM42 72h1v1h-1zM66 72h3v1h-3zM72 72h1v1h-1zM74 72h2v1h-2zM66 73h1v1h-1zM68 73h1v1h-1zM70 73h2v1h-2zM42 74h1v1h-1zM66 74h1v1h-1zM68 74h2v1h-2zM42 75h1v1h-1zM67 75h3v1h-3zM40 76h1v1h-1zM42 76h1v1h-1zM64 76h1v1h-1zM40 77h1v1h-1zM42 77h1v1h-1zM67 77h1v1h-1zM41 78h1v1h-1zM67 78h1v1h-1zM42 79h2v1h-2zM67 79h1v1h-1zM43 80h1v1h-1zM66 80h2v1h-2zM66 81h1v1h-1zM41 82h1v1h-1zM55 82h2v1h-2zM61 82h1v1h-1zM63 82h1v1h-1zM66 82h1v1h-1zM44 83h2v1h-2zM48 83h2v1h-2zM57 83h1v1h-1zM60 83h1v1h-1zM62 83h6v1h-6zM39 84h1v1h-1zM49 84h2v1h-2zM53 84h1v1h-1zM63 84h1v1h-1zM65 84h2v1h-2zM68 84h1v1h-1zM37 85h2v1h-2zM50 85h2v1h-2zM62 85h2v1h-2zM69 85h2v1h-2zM38 86h2v1h-2zM42 86h1v1h-1zM65 86h2v1h-2zM70 86h2v1h-2zM65 87h1v1h-1zM70 87h3v1h-3zM65 88h1v1h-1zM68 88h1v1h-1zM65 89h1v1h-1zM67 89h1v1h-1zM65 90h1v1h-1zM67 90h1v1h-1zM71 99h1v1h-1z"/><path fill="#c6f034" d="M88 4h1v1h-1zM18 5h2v1h-2zM87 5h3v1h-3zM21 6h1v1h-1zM86 6h4v1h-4zM19 7h5v1h-5zM86 7h1v1h-1zM20 8h1v1h-1zM22 8h2v1h-2zM20 9h1v1h-1zM22 9h2v1h-2zM20 10h1v1h-1zM80 10h1v1h-1zM85 10h1v1h-1zM17 11h1v1h-1zM19 11h2v1h-2zM80 11h1v1h-1zM2 12h1v1h-1zM17 12h1v1h-1zM79 12h2v1h-2zM0 13h3v1h-3zM4 13h1v1h-1zM16 13h1v1h-1zM19 13h1v1h-1zM22 13h1v1h-1zM78 13h1v1h-1zM4 14h1v1h-1zM8 14h1v1h-1zM11 14h1v1h-1zM16 14h1v1h-1zM21 14h2v1h-2zM77 14h2v1h-2zM86 14h1v1h-1zM88 14h4v1h-4zM6 15h1v1h-1zM10 15h2v1h-2zM15 15h1v1h-1zM80 15h5v1h-5zM86 15h1v1h-1zM88 15h3v1h-3zM4 16h2v1h-2zM8 16h1v1h-1zM83 16h1v1h-1zM86 16h2v1h-2zM2 17h1v1h-1zM5 17h1v1h-1zM10 17h3v1h-3zM15 17h1v1h-1zM86 17h2v1h-2zM2 18h1v1h-1zM5 18h1v1h-1zM7 18h1v1h-1zM83 18h4v1h-4zM1 19h1v1h-1zM4 19h2v1h-2zM7 19h1v1h-1zM82 19h3v1h-3zM0 20h1v1h-1zM4 20h1v1h-1zM7 20h1v1h-1zM83 20h1v1h-1zM1 21h1v1h-1zM6 23h1v1h-1zM2 24h1v1h-1zM88 41h1v1h-1zM89 42h4v1h-4zM90 43h3v1h-3zM84 44h1v1h-1zM89 44h1v1h-1zM92 44h1v1h-1zM86 45h1v1h-1zM90 45h2v1h-2zM85 46h2v1h-2zM88 46h2v1h-2zM85 47h1v1h-1zM96 61h4v1h-4zM95 62h1v1h-1zM94 64h1v1h-1zM93 65h1v1h-1zM92 66h1v1h-1zM90 67h1v1h-1zM89 69h1v1h-1zM89 70h1v1h-1zM88 71h1v1h-1zM86 72h1v1h-1zM86 75h2v1h-2zM86 77h1v1h-1zM86 79h1v1h-1zM86 81h1v1h-1zM86 82h1v1h-1zM86 83h1v1h-1zM12 84h1v1h-1zM87 84h1v1h-1zM87 85h1v1h-1zM87 86h1v1h-1zM87 87h1v1h-1zM88 89h1v1h-1zM88 90h1v1h-1zM86 91h2v1h-2zM89 91h1v1h-1zM86 92h1v1h-1zM85 93h1v1h-1zM58 94h2v1h-2zM83 94h1v1h-1zM56 95h1v1h-1zM58 95h1v1h-1zM56 96h1v1h-1zM59 96h1v1h-1zM84 96h1v1h-1zM59 97h2v1h-2zM84 97h1v1h-1zM56 98h1v1h-1zM59 98h1v1h-1zM85 98h1v1h-1zM55 99h1v1h-1zM57 99h1v1h-1zM86 99h1v1h-1zM97 99h1v1h-1z"/><path fill="#b9f635" d="M5 5h3v1h-3zM18 6h2v1h-2zM19 9h1v1h-1zM81 9h2v1h-2zM1 10h1v1h-1zM19 10h1v1h-1zM81 10h1v1h-1zM83 10h2v1h-2zM0 11h3v1h-3zM18 11h1v1h-1zM0 12h2v1h-2zM3 12h1v1h-1zM6 12h1v1h-1zM12 12h2v1h-2zM16 12h1v1h-1zM3 13h1v1h-1zM7 13h1v1h-1zM9 13h3v1h-3zM14 13h2v1h-2zM79 13h2v1h-2zM85 13h2v1h-2zM6 14h1v1h-1zM9 14h2v1h-2zM12 14h4v1h-4zM80 14h2v1h-2zM84 14h2v1h-2zM4 15h2v1h-2zM7 15h1v1h-1zM78 15h2v1h-2zM0 16h1v1h-1zM6 16h1v1h-1zM10 16h3v1h-3zM15 16h1v1h-1zM0 17h2v1h-2zM6 17h1v1h-1zM14 17h1v1h-1zM85 17h1v1h-1zM0 18h2v1h-2zM6 18h1v1h-1zM0 19h1v1h-1zM6 19h1v1h-1zM1 20h3v1h-3zM5 20h2v1h-2zM2 21h1v1h-1zM4 21h3v1h-3zM1 22h2v1h-2zM5 22h2v1h-2zM1 23h1v1h-1zM4 24h2v1h-2zM96 62h1v1h-1zM94 65h1v1h-1zM91 67h1v1h-1zM90 68h1v1h-1zM90 69h1v1h-1zM90 70h1v1h-1zM89 71h1v1h-1zM87 72h3v1h-3zM87 73h3v1h-3zM88 74h2v1h-2zM87 76h1v1h-1zM87 77h1v1h-1zM87 78h2v1h-2zM88 79h1v1h-1zM86 80h2v1h-2zM87 82h1v1h-1zM87 83h1v1h-1zM88 86h1v1h-1zM88 87h1v1h-1zM89 89h1v1h-1zM90 90h1v1h-1zM90 91h1v1h-1zM85 92h1v1h-1zM88 92h1v1h-1zM88 93h1v1h-1zM84 94h1v1h-1zM57 95h1v1h-1zM59 95h1v1h-1zM57 96h2v1h-2zM56 97h1v1h-1zM58 97h1v1h-1zM54 98h1v1h-1zM58 98h1v1h-1zM86 98h1v1h-1zM58 99h1v1h-1zM96 99h1v1h-1z"/><path fill="#8fff49" d="M7 6h1v1h-1zM3 7h1v1h-1zM7 7h2v1h-2zM13 7h1v1h-1zM7 8h1v1h-1zM14 8h3v1h-3zM3 9h1v1h-1zM7 9h2v1h-2zM11 9h3v1h-3zM15 9h2v1h-2zM4 10h1v1h-1zM7 10h2v1h-2zM12 10h4v1h-4zM5 11h1v1h-1zM13 11h1v1h-1zM83 11h1v1h-1zM83 12h1v1h-1zM97 63h1v1h-1zM99 63h1v1h-1zM97 64h1v1h-1zM95 66h1v1h-1zM93 67h2v1h-2zM96 67h1v1h-1zM92 69h1v1h-1zM99 71h1v1h-1zM91 72h1v1h-1zM91 74h2v1h-2zM90 75h3v1h-3zM89 78h1v1h-1zM91 78h1v1h-1zM91 79h1v1h-1zM91 80h2v1h-2zM91 81h2v1h-2zM89 82h2v1h-2zM92 82h1v1h-1zM92 83h1v1h-1zM89 84h1v1h-1zM91 84h1v1h-1zM91 85h1v1h-1zM91 86h1v1h-1zM91 87h1v1h-1zM92 88h1v1h-1zM94 89h1v1h-1zM92 90h5v1h-5zM96 91h1v1h-1zM98 91h2v1h-2zM93 92h2v1h-2zM97 92h1v1h-1zM99 92h1v1h-1zM97 93h2v1h-2zM93 94h1v1h-1zM95 94h1v1h-1zM98 94h1v1h-1zM93 95h1v1h-1zM87 96h3v1h-3zM92 96h1v1h-1zM97 96h1v1h-1zM88 97h2v1h-2zM94 97h2v1h-2zM88 98h2v1h-2zM94 98h1v1h-1zM88 99h3v1h-3zM93 99h2v1h-2zM99 99h1v1h-1z"/><path fill="#80ff53" d="M2 7h1v1h-1zM2 8h2v1h-2zM14 9h1v1h-1zM98 63h1v1h-1zM98 64h1v1h-1zM97 65h3v1h-3zM97 66h3v1h-3zM95 67h1v1h-1zM97 67h2v1h-2zM93 68h1v1h-1zM95 68h2v1h-2zM98 68h1v1h-1zM93 69h2v1h-2zM96 69h4v1h-4zM92 70h2v1h-2zM95 70h5v1h-5zM92 71h1v1h-1zM96 71h3v1h-3zM92 72h1v1h-1zM98 72h2v1h-2zM91 73h1v1h-1zM92 76h2v1h-2zM92 77h1v1h-1zM92 78h1v1h-1zM91 82h1v1h-1zM90 83h1v1h-1zM92 85h1v1h-1zM92 87h2v1h-2zM93 88h4v1h-4zM95 89h3v1h-3zM97 90h2v1h-2zM95 91h1v1h-1zM97 91h1v1h-1zM95 92h2v1h-2zM98 92h1v1h-1zM95 93h2v1h-2zM94 94h1v1h-1zM96 95h2v1h-2zM94 96h3v1h-3z"/><path fill="#c52603" d="M98 20h1v1h-1zM97 21h1v1h-1zM98 22h1v1h-1zM53 29h1v1h-1zM53 30h2v1h-2zM52 31h1v1h-1zM54 31h1v1h-1zM51 32h1v1h-1zM54 32h1v1h-1zM50 33h1v1h-1zM57 33h1v1h-1zM49 34h1v1h-1zM54 34h1v1h-1zM49 35h1v1h-1zM57 35h1v1h-1zM48 36h1v1h-1zM53 36h1v1h-1zM58 36h1v1h-1zM47 37h2v1h-2zM54 37h1v1h-1zM57 37h2v1h-2zM47 38h1v1h-1zM56 38h2v1h-2zM45 39h1v1h-1zM47 39h1v1h-1zM50 39h3v1h-3zM55 39h2v1h-2zM58 39h1v1h-1zM45 40h1v1h-1zM53 40h1v1h-1zM55 40h3v1h-3zM55 41h2v1h-2zM34 42h1v1h-1zM43 42h2v1h-2zM55 42h1v1h-1zM32 43h1v1h-1zM34 43h1v1h-1zM39 43h1v1h-1zM42 43h2v1h-2zM52 43h4v1h-4zM34 44h2v1h-2zM41 44h2v1h-2zM53 44h2v1h-2zM72 44h1v1h-1zM33 45h2v1h-2zM41 45h2v1h-2zM72 45h1v1h-1zM32 46h1v1h-1zM34 46h1v1h-1zM42 46h1v1h-1zM53 46h1v1h-1zM72 46h2v1h-2zM31 47h3v1h-3zM40 47h3v1h-3zM54 47h1v1h-1zM62 47h2v1h-2zM72 47h3v1h-3zM40 48h2v1h-2zM54 48h1v1h-1zM58 48h3v1h-3zM74 48h1v1h-1zM28 49h6v1h-6zM35 49h4v1h-4zM40 49h2v1h-2zM54 49h4v1h-4zM59 49h4v1h-4zM75 49h2v1h-2zM33 50h3v1h-3zM37 50h1v1h-1zM40 50h3v1h-3zM63 50h1v1h-1zM65 50h3v1h-3zM70 50h1v1h-1zM78 50h1v1h-1zM31 51h1v1h-1zM33 51h1v1h-1zM36 51h3v1h-3zM40 51h2v1h-2zM64 51h1v1h-1zM69 51h1v1h-1zM30 52h2v1h-2zM41 52h1v1h-1zM81 52h1v1h-1zM31 53h1v1h-1zM31 54h1v1h-1zM30 55h1v1h-1zM81 56h1v1h-1zM29 57h2v1h-2zM31 58h5v1h-5zM80 58h1v1h-1zM32 59h1v1h-1zM35 59h1v1h-1zM79 59h1v1h-1zM81 59h1v1h-1zM33 60h4v1h-4zM79 60h4v1h-4zM35 61h2v1h-2zM38 61h1v1h-1zM72 61h2v1h-2zM77 61h6v1h-6zM37 62h4v1h-4zM74 62h1v1h-1zM76 62h1v1h-1zM79 62h4v1h-4zM38 63h2v1h-2zM42 63h1v1h-1zM75 63h2v1h-2zM78 63h3v1h-3zM36 64h1v1h-1zM41 64h1v1h-1zM76 64h4v1h-4zM41 65h3v1h-3zM76 65h3v1h-3zM38 66h1v1h-1zM65 66h1v1h-1zM72 66h1v1h-1zM78 66h1v1h-1zM39 67h1v1h-1zM43 67h4v1h-4zM73 67h1v1h-1zM78 67h1v1h-1zM47 68h1v1h-1zM55 68h1v1h-1zM69 68h1v1h-1zM60 69h1v1h-1zM68 69h1v1h-1zM46 70h2v1h-2zM55 70h1v1h-1zM57 70h1v1h-1zM60 70h1v1h-1zM64 70h1v1h-1zM66 70h2v1h-2zM56 71h6v1h-6zM64 71h2v1h-2zM51 72h2v1h-2zM57 72h1v1h-1zM63 72h1v1h-1zM47 73h1v1h-1zM51 73h2v1h-2zM58 73h1v1h-1zM63 73h2v1h-2zM45 74h5v1h-5zM52 74h2v1h-2zM56 74h1v1h-1zM63 74h1v1h-1zM46 75h1v1h-1zM49 75h1v1h-1zM53 75h2v1h-2zM60 75h1v1h-1zM45 76h1v1h-1zM48 76h1v1h-1zM62 76h1v1h-1zM48 77h1v1h-1zM57 77h1v1h-1zM62 77h1v1h-1zM47 78h1v1h-1zM56 78h2v1h-2zM58 79h2v1h-2zM61 79h2v1h-2zM45 80h1v1h-1zM53 80h3v1h-3zM57 80h6v1h-6zM49 81h3v1h-3zM53 81h1v1h-1zM58 81h2v1h-2zM62 81h1v1h-1zM52 82h1v1h-1z"/><path fill="#af1801" d="M53 33h2v1h-2zM52 34h2v1h-2zM56 34h1v1h-1zM50 35h1v1h-1zM54 35h1v1h-1zM56 35h1v1h-1zM54 36h1v1h-1zM52 38h1v1h-1zM47 41h1v1h-1zM49 41h1v1h-1zM51 41h1v1h-1zM53 41h1v1h-1zM46 42h4v1h-4zM51 42h1v1h-1zM47 43h1v1h-1zM49 43h3v1h-3zM39 44h1v1h-1zM43 44h1v1h-1zM45 44h1v1h-1zM45 45h2v1h-2zM51 45h2v1h-2zM35 46h1v1h-1zM37 46h2v1h-2zM46 46h2v1h-2zM52 46h1v1h-1zM35 47h5v1h-5zM44 47h6v1h-6zM51 47h3v1h-3zM43 48h6v1h-6zM51 48h1v1h-1zM72 48h1v1h-1zM43 49h2v1h-2zM47 49h1v1h-1zM50 49h2v1h-2zM53 49h1v1h-1zM72 49h2v1h-2zM32 50h1v1h-1zM36 50h1v1h-1zM43 50h2v1h-2zM46 50h1v1h-1zM52 50h3v1h-3zM60 50h3v1h-3zM71 50h4v1h-4zM34 51h1v1h-1zM42 51h5v1h-5zM54 51h1v1h-1zM57 51h3v1h-3zM62 51h2v1h-2zM65 51h1v1h-1zM74 51h3v1h-3zM78 51h2v1h-2zM35 52h1v1h-1zM44 52h3v1h-3zM55 52h2v1h-2zM65 52h1v1h-1zM67 52h1v1h-1zM70 52h1v1h-1zM75 52h1v1h-1zM33 53h3v1h-3zM37 53h1v1h-1zM41 53h1v1h-1zM44 53h4v1h-4zM54 53h2v1h-2zM68 53h2v1h-2zM72 53h1v1h-1zM36 54h3v1h-3zM46 54h1v1h-1zM67 54h2v1h-2zM70 54h1v1h-1zM31 55h3v1h-3zM35 55h1v1h-1zM38 55h1v1h-1zM40 55h2v1h-2zM46 55h1v1h-1zM67 55h1v1h-1zM81 55h1v1h-1zM33 56h3v1h-3zM42 56h2v1h-2zM56 56h1v1h-1zM66 56h1v1h-1zM32 57h2v1h-2zM36 57h1v1h-1zM39 57h1v1h-1zM43 57h2v1h-2zM57 57h1v1h-1zM67 57h1v1h-1zM36 58h2v1h-2zM39 58h2v1h-2zM42 58h3v1h-3zM66 58h1v1h-1zM72 58h2v1h-2zM78 58h2v1h-2zM39 59h4v1h-4zM64 59h2v1h-2zM67 59h2v1h-2zM73 59h2v1h-2zM76 59h1v1h-1zM38 60h1v1h-1zM40 60h4v1h-4zM64 60h5v1h-5zM70 60h1v1h-1zM74 60h3v1h-3zM40 61h1v1h-1zM42 61h1v1h-1zM44 61h3v1h-3zM60 61h1v1h-1zM64 61h1v1h-1zM66 61h2v1h-2zM69 61h1v1h-1zM75 61h1v1h-1zM45 62h1v1h-1zM47 62h2v1h-2zM53 62h1v1h-1zM64 62h1v1h-1zM70 62h2v1h-2zM47 63h1v1h-1zM64 63h3v1h-3zM73 63h1v1h-1zM44 64h2v1h-2zM58 64h1v1h-1zM63 64h1v1h-1zM71 64h1v1h-1zM73 64h2v1h-2zM45 65h2v1h-2zM63 65h1v1h-1zM65 65h1v1h-1zM46 66h2v1h-2zM54 66h1v1h-1zM58 66h3v1h-3zM62 66h2v1h-2zM51 67h2v1h-2zM57 67h3v1h-3zM61 67h2v1h-2zM64 67h1v1h-1zM48 68h3v1h-3zM53 68h1v1h-1zM57 68h1v1h-1zM59 68h1v1h-1zM61 68h1v1h-1zM63 68h1v1h-1zM48 69h1v1h-1zM51 69h3v1h-3zM59 69h1v1h-1zM48 70h7v1h-7zM49 71h7v1h-7zM48 72h1v1h-1zM54 72h2v1h-2zM49 73h1v1h-1zM55 76h2v1h-2zM49 77h3v1h-3zM53 77h2v1h-2zM56 77h1v1h-1zM49 78h1v1h-1zM52 78h2v1h-2zM52 79h1v1h-1zM50 80h3v1h-3z"/><path fill="#a11201" d="M48 41h1v1h-1zM46 43h1v1h-1zM48 43h1v1h-1zM46 44h1v1h-1zM48 44h1v1h-1zM37 45h3v1h-3zM47 45h1v1h-1zM36 46h1v1h-1zM39 46h1v1h-1zM48 46h1v1h-1zM50 46h2v1h-2zM50 47h1v1h-1zM50 48h1v1h-1zM45 49h2v1h-2zM48 49h2v1h-2zM45 50h1v1h-1zM47 50h1v1h-1zM49 50h2v1h-2zM47 51h1v1h-1zM53 51h1v1h-1zM60 51h2v1h-2zM71 51h2v1h-2zM77 51h1v1h-1zM43 52h1v1h-1zM47 52h2v1h-2zM54 52h1v1h-1zM57 52h3v1h-3zM62 52h3v1h-3zM66 52h1v1h-1zM71 52h1v1h-1zM74 52h1v1h-1zM79 52h2v1h-2zM53 53h1v1h-1zM56 53h1v1h-1zM58 53h1v1h-1zM61 53h3v1h-3zM65 53h3v1h-3zM70 53h1v1h-1zM73 53h1v1h-1zM80 53h1v1h-1zM33 54h1v1h-1zM35 54h1v1h-1zM44 54h2v1h-2zM47 54h2v1h-2zM54 54h4v1h-4zM62 54h3v1h-3zM66 54h1v1h-1zM69 54h1v1h-1zM80 54h1v1h-1zM34 55h1v1h-1zM36 55h1v1h-1zM43 55h2v1h-2zM47 55h2v1h-2zM54 55h3v1h-3zM61 55h3v1h-3zM65 55h2v1h-2zM68 55h4v1h-4zM73 55h1v1h-1zM79 55h2v1h-2zM31 56h2v1h-2zM36 56h2v1h-2zM44 56h3v1h-3zM54 56h2v1h-2zM57 56h1v1h-1zM64 56h2v1h-2zM67 56h3v1h-3zM80 56h1v1h-1zM38 57h1v1h-1zM55 57h2v1h-2zM58 57h1v1h-1zM64 57h3v1h-3zM68 57h1v1h-1zM72 57h2v1h-2zM79 57h1v1h-1zM38 58h1v1h-1zM45 58h1v1h-1zM55 58h4v1h-4zM64 58h1v1h-1zM68 58h4v1h-4zM43 59h1v1h-1zM55 59h2v1h-2zM69 59h2v1h-2zM77 59h1v1h-1zM44 60h1v1h-1zM53 60h1v1h-1zM56 60h1v1h-1zM60 60h1v1h-1zM62 60h1v1h-1zM69 60h1v1h-1zM47 61h1v1h-1zM52 61h3v1h-3zM65 61h1v1h-1zM68 61h1v1h-1zM52 62h1v1h-1zM55 62h1v1h-1zM58 62h3v1h-3zM62 62h1v1h-1zM65 62h5v1h-5zM48 63h1v1h-1zM52 63h2v1h-2zM57 63h1v1h-1zM60 63h1v1h-1zM63 63h1v1h-1zM68 63h4v1h-4zM47 64h1v1h-1zM53 64h1v1h-1zM56 64h2v1h-2zM59 64h2v1h-2zM64 64h2v1h-2zM47 65h2v1h-2zM51 65h1v1h-1zM53 65h1v1h-1zM55 65h4v1h-4zM60 65h3v1h-3zM48 66h2v1h-2zM51 66h1v1h-1zM53 66h1v1h-1zM55 66h3v1h-3zM61 66h1v1h-1zM49 67h2v1h-2zM60 67h1v1h-1zM63 67h1v1h-1zM51 68h1v1h-1zM50 69h1v1h-1zM48 71h1v1h-1zM50 78h2v1h-2zM50 79h2v1h-2z"/><path fill="#920b01" d="M47 44h1v1h-1zM49 44h2v1h-2zM48 45h3v1h-3zM49 46h1v1h-1zM48 50h1v1h-1zM51 50h1v1h-1zM48 51h2v1h-2zM51 51h2v1h-2zM73 51h1v1h-1zM52 52h2v1h-2zM60 52h2v1h-2zM72 52h2v1h-2zM76 52h1v1h-1zM78 52h1v1h-1zM48 53h1v1h-1zM57 53h1v1h-1zM64 53h1v1h-1zM71 53h1v1h-1zM74 53h4v1h-4zM79 53h1v1h-1zM34 54h1v1h-1zM52 54h2v1h-2zM60 54h2v1h-2zM65 54h1v1h-1zM71 54h1v1h-1zM73 54h2v1h-2zM76 54h1v1h-1zM78 54h2v1h-2zM45 55h1v1h-1zM53 55h1v1h-1zM58 55h1v1h-1zM60 55h1v1h-1zM72 55h1v1h-1zM47 56h1v1h-1zM53 56h1v1h-1zM58 56h3v1h-3zM62 56h2v1h-2zM70 56h2v1h-2zM73 56h2v1h-2zM77 56h1v1h-1zM79 56h1v1h-1zM37 57h1v1h-1zM45 57h2v1h-2zM54 57h1v1h-1zM62 57h2v1h-2zM69 57h3v1h-3zM74 57h2v1h-2zM77 57h2v1h-2zM53 58h2v1h-2zM63 58h1v1h-1zM74 58h1v1h-1zM76 58h2v1h-2zM44 59h2v1h-2zM53 59h1v1h-1zM57 59h7v1h-7zM75 59h1v1h-1zM45 60h3v1h-3zM51 60h1v1h-1zM54 60h1v1h-1zM59 60h1v1h-1zM61 60h1v1h-1zM63 60h1v1h-1zM48 61h1v1h-1zM51 61h1v1h-1zM58 61h2v1h-2zM61 61h3v1h-3zM49 62h3v1h-3zM54 62h1v1h-1zM57 62h1v1h-1zM61 62h1v1h-1zM63 62h1v1h-1zM49 63h3v1h-3zM54 63h1v1h-1zM56 63h1v1h-1zM58 63h2v1h-2zM61 63h2v1h-2zM67 63h1v1h-1zM48 64h2v1h-2zM51 64h2v1h-2zM54 64h1v1h-1zM61 64h2v1h-2zM50 65h1v1h-1zM52 65h1v1h-1zM54 65h1v1h-1zM59 65h1v1h-1zM50 66h1v1h-1zM52 66h1v1h-1z"/><path fill="#810602" d="M50 51h1v1h-1zM49 52h1v1h-1zM77 52h1v1h-1zM49 53h1v1h-1zM52 53h1v1h-1zM59 53h2v1h-2zM78 53h1v1h-1zM49 54h1v1h-1zM58 54h2v1h-2zM72 54h1v1h-1zM75 54h1v1h-1zM77 54h1v1h-1zM49 55h1v1h-1zM57 55h1v1h-1zM59 55h1v1h-1zM64 55h1v1h-1zM74 55h3v1h-3zM78 55h1v1h-1zM48 56h1v1h-1zM52 56h1v1h-1zM61 56h1v1h-1zM72 56h1v1h-1zM78 56h1v1h-1zM47 57h1v1h-1zM53 57h1v1h-1zM59 57h3v1h-3zM46 58h2v1h-2zM59 58h4v1h-4zM75 58h1v1h-1zM47 59h1v1h-1zM54 59h1v1h-1zM49 60h2v1h-2zM52 60h1v1h-1zM55 60h1v1h-1zM57 60h2v1h-2zM49 61h2v1h-2zM55 61h3v1h-3zM56 62h1v1h-1zM55 63h1v1h-1zM50 64h1v1h-1zM55 64h1v1h-1zM49 65h1v1h-1z"/><path fill="#7a0403" d="M50 52h2v1h-2zM50 53h2v1h-2zM50 54h2v1h-2zM50 55h3v1h-3zM77 55h1v1h-1zM49 56h3v1h-3zM75 56h2v1h-2zM48 57h5v1h-5zM76 57h1v1h-1zM48 58h5v1h-5zM46 59h1v1h-1zM48 59h5v1h-5zM48 60h1v1h-1z"/><path fill="#6dfe62" d="M99 64h1v1h-1zM99 67h1v1h-1zM94 68h1v1h-1zM97 68h1v1h-1zM99 68h1v1h-1zM95 69h1v1h-1zM94 70h1v1h-1zM93 71h3v1h-3zM93 72h1v1h-1zM95 72h3v1h-3zM92 73h1v1h-1zM98 73h1v1h-1zM93 74h1v1h-1zM93 75h1v1h-1zM93 77h3v1h-3zM93 78h1v1h-1zM92 79h2v1h-2zM95 79h1v1h-1zM93 80h2v1h-2zM93 81h1v1h-1zM93 82h1v1h-1zM92 84h2v1h-2zM92 86h1v1h-1zM94 87h1v1h-1zM98 89h1v1h-1zM99 90h1v1h-1zM96 94h2v1h-2zM94 95h2v1h-2z"/><path fill="#46f884" d="M94 72h1v1h-1zM94 73h1v1h-1zM97 73h1v1h-1zM94 74h1v1h-1zM98 74h1v1h-1zM96 76h1v1h-1zM96 77h1v1h-1zM97 78h2v1h-2zM96 79h2v1h-2zM97 80h1v1h-1zM99 80h1v1h-1zM97 81h3v1h-3zM95 82h1v1h-1zM99 82h1v1h-1zM94 83h2v1h-2zM99 83h1v1h-1zM94 84h2v1h-2zM98 84h2v1h-2zM98 85h1v1h-1zM97 86h2v1h-2zM96 87h2v1h-2zM98 88h2v1h-2z"/><path fill="#59fb73" d="M93 73h1v1h-1zM99 73h1v1h-1zM94 75h1v1h-1zM94 76h2v1h-2zM94 78h3v1h-3zM94 79h1v1h-1zM95 80h2v1h-2zM94 81h3v1h-3zM94 82h1v1h-1zM93 83h1v1h-1zM93 85h1v1h-1zM99 85h1v1h-1zM93 86h3v1h-3zM99 86h1v1h-1zM95 87h1v1h-1zM98 87h2v1h-2zM97 88h1v1h-1zM99 89h1v1h-1z"/><path fill="#35f394" d="M95 73h1v1h-1zM95 74h3v1h-3zM99 74h1v1h-1zM95 75h2v1h-2zM97 76h1v1h-1zM97 77h1v1h-1zM99 79h1v1h-1zM98 80h1v1h-1zM97 82h2v1h-2zM96 83h3v1h-3zM96 84h1v1h-1zM94 85h4v1h-4zM96 86h1v1h-1z"/><path fill="#27eea4" d="M96 73h1v1h-1zM97 75h3v1h-3zM98 77h2v1h-2zM98 79h1v1h-1zM96 82h1v1h-1zM97 84h1v1h-1z"/><path fill="#1de7b2" d="M98 76h2v1h-2z"/></g>
<rect x="216.9" y="1398.9" width="744.8" height="744.9" fill="none" stroke="#000" stroke-width="2.9"/>
<rect x="974.2" y="1398.9" width="73.3" height="744.9" fill="url(#tg)"/>
<rect x="974.2" y="1398.9" width="73.3" height="744.9" fill="none" stroke="#000" stroke-width="2.9"/>
<path d="M203.6 1403.9h13.3M203.6 2143.8h13.3M221.5 2143.8v13.3M961.7 2143.8v13.3M1047.5 2016.1h13.3M1047.5 1803.27h13.3M1047.5 1590.45h13.3" stroke="#000" stroke-width="2.9" fill="none"/>
<g font-size="45.83" letter-spacing="1"><text x="193.2" y="1419.9" text-anchor="end">-2.4°N</text><text x="193.2" y="2159.8" text-anchor="end">-4.9°N</text><text x="221.5" y="2200.8" text-anchor="middle">32.0°E</text><text x="958.7" y="2200.8" text-anchor="middle">35.4°E</text><text x="1069.4" y="2033.8">15</text><text x="1069.4" y="1820.97">20</text><text x="1069.4" y="1608.15">25</text></g>
<g font-size="55"><text x="586.6" y="1376.7" text-anchor="middle"><tspan font-style="italic">T</tspan><tspan font-style="italic" font-size="37.6" dy="9.5">downscaled</tspan><tspan dy="-9.5"></tspan></text><text x="1008.4" y="1376.7" text-anchor="middle">°C</text></g>
<text x="135.8" y="1316.3" font-size="66.7" font-weight="bold">C</text>
<g transform="translate(1412.6 1398.9) scale(7.39)" shape-rendering="crispEdges"><path fill="#b9f635" d="M13 0h1v1h-1zM88 0h2v1h-2zM80 1h2v1h-2zM88 1h1v1h-1zM88 2h1v1h-1zM89 3h1v1h-1zM80 4h1v1h-1zM89 4h1v1h-1zM80 5h2v1h-2zM90 6h1v1h-1zM81 7h1v1h-1zM89 7h2v1h-2zM14 8h1v1h-1zM18 8h1v1h-1zM90 8h1v1h-1zM11 9h1v1h-1zM13 9h2v1h-2zM79 9h1v1h-1zM4 10h7v1h-7zM13 10h2v1h-2zM18 10h1v1h-1zM4 11h1v1h-1zM6 11h2v1h-2zM14 11h1v1h-1zM91 11h1v1h-1zM5 12h1v1h-1zM15 12h1v1h-1zM1 13h2v1h-2zM77 13h1v1h-1zM3 14h1v1h-1zM78 14h1v1h-1zM90 14h1v1h-1zM89 15h1v1h-1zM89 16h1v1h-1zM77 17h1v1h-1zM88 17h1v1h-1zM77 18h1v1h-1zM77 19h2v1h-2zM87 20h1v1h-1zM78 21h2v1h-2zM79 22h1v1h-1zM81 22h1v1h-1zM78 23h1v1h-1zM85 23h1v1h-1zM82 24h2v1h-2zM91 41h1v1h-1zM86 42h2v1h-2zM90 42h2v1h-2zM86 43h1v1h-1zM88 43h4v1h-4zM87 44h1v1h-1zM89 44h3v1h-3zM88 45h2v1h-2zM98 64h2v1h-2zM96 65h1v1h-1zM98 65h2v1h-2zM96 66h1v1h-1zM98 66h2v1h-2zM93 67h2v1h-2zM99 67h1v1h-1zM92 68h3v1h-3zM99 68h1v1h-1zM92 69h2v1h-2zM99 69h1v1h-1zM92 70h1v1h-1zM94 70h1v1h-1zM99 70h1v1h-1zM99 71h1v1h-1zM93 72h1v1h-1zM93 74h1v1h-1zM92 75h1v1h-1zM94 75h1v1h-1zM92 76h3v1h-3zM92 77h1v1h-1zM90 78h2v1h-2zM88 80h2v1h-2zM88 81h3v1h-3zM88 82h1v1h-1zM90 82h2v1h-2zM93 84h1v1h-1zM92 86h1v1h-1zM98 86h2v1h-2zM92 87h3v1h-3zM96 87h1v1h-1zM98 87h2v1h-2zM94 88h5v1h-5zM95 89h1v1h-1zM97 89h2v1h-2zM96 90h1v1h-1zM98 90h2v1h-2zM95 91h1v1h-1zM97 91h1v1h-1zM99 91h1v1h-1zM95 92h2v1h-2zM98 92h2v1h-2zM92 93h4v1h-4zM98 93h1v1h-1zM90 94h1v1h-1zM94 94h4v1h-4zM88 95h4v1h-4zM95 95h2v1h-2zM87 96h5v1h-5zM88 97h2v1h-2zM54 98h1v1h-1zM86 98h1v1h-1zM90 98h1v1h-1z"/><path fill="#eecf3a" d="M47 0h1v1h-1zM77 0h2v1h-2zM93 0h1v1h-1zM48 1h2v1h-2zM51 1h1v1h-1zM77 1h1v1h-1zM92 1h1v1h-1zM47 2h2v1h-2zM77 2h1v1h-1zM91 2h2v1h-2zM19 3h1v1h-1zM91 3h2v1h-2zM48 4h1v1h-1zM94 4h1v1h-1zM47 5h2v1h-2zM76 5h1v1h-1zM95 5h2v1h-2zM23 6h1v1h-1zM34 6h1v1h-1zM38 6h2v1h-2zM47 6h1v1h-1zM95 6h1v1h-1zM28 7h1v1h-1zM32 7h1v1h-1zM34 7h6v1h-6zM43 7h3v1h-3zM76 7h2v1h-2zM94 7h2v1h-2zM22 8h2v1h-2zM28 8h1v1h-1zM30 8h1v1h-1zM34 8h2v1h-2zM37 8h6v1h-6zM77 8h1v1h-1zM94 8h1v1h-1zM23 9h1v1h-1zM28 9h2v1h-2zM37 9h1v1h-1zM39 9h1v1h-1zM93 9h1v1h-1zM22 10h1v1h-1zM25 10h1v1h-1zM28 10h1v1h-1zM32 10h2v1h-2zM36 10h1v1h-1zM99 10h1v1h-1zM25 11h1v1h-1zM27 11h1v1h-1zM31 11h2v1h-2zM34 11h2v1h-2zM37 11h1v1h-1zM76 11h1v1h-1zM93 11h1v1h-1zM34 12h2v1h-2zM75 12h1v1h-1zM20 13h2v1h-2zM33 13h3v1h-3zM93 13h1v1h-1zM17 14h1v1h-1zM75 14h1v1h-1zM93 14h2v1h-2zM7 15h4v1h-4zM13 15h2v1h-2zM0 16h1v1h-1zM6 16h1v1h-1zM91 16h1v1h-1zM0 17h1v1h-1zM91 17h1v1h-1zM2 18h1v1h-1zM4 18h1v1h-1zM0 19h1v1h-1zM90 19h2v1h-2zM76 20h1v1h-1zM0 21h1v1h-1zM91 21h3v1h-3zM91 22h1v1h-1zM90 23h3v1h-3zM89 24h1v1h-1zM87 25h3v1h-3zM79 26h2v1h-2zM86 26h1v1h-1zM80 27h3v1h-3zM84 27h1v1h-1zM78 28h1v1h-1zM83 28h1v1h-1zM88 28h1v1h-1zM90 28h1v1h-1zM99 28h1v1h-1zM83 29h1v1h-1zM88 29h1v1h-1zM97 29h1v1h-1zM99 29h1v1h-1zM98 30h2v1h-2zM97 31h2v1h-2zM81 32h2v1h-2zM98 32h1v1h-1zM81 33h2v1h-2zM98 33h1v1h-1zM95 34h1v1h-1zM98 34h2v1h-2zM81 35h2v1h-2zM97 35h1v1h-1zM81 36h2v1h-2zM90 36h1v1h-1zM94 36h1v1h-1zM97 36h1v1h-1zM84 37h3v1h-3zM88 37h2v1h-2zM91 37h4v1h-4zM88 38h1v1h-1zM94 38h1v1h-1zM82 39h1v1h-1zM94 39h2v1h-2zM95 40h1v1h-1zM95 41h1v1h-1zM81 42h1v1h-1zM95 42h1v1h-1zM82 44h1v1h-1zM99 44h1v1h-1zM84 45h1v1h-1zM85 46h1v1h-1zM86 47h2v1h-2zM86 48h1v1h-1zM89 48h1v1h-1zM96 48h1v1h-1zM87 49h1v1h-1zM95 49h1v1h-1zM94 51h1v1h-1zM94 52h1v1h-1zM94 58h1v1h-1zM96 58h3v1h-3zM91 60h1v1h-1zM90 61h2v1h-2zM89 66h1v1h-1zM89 67h1v1h-1zM89 71h1v1h-1zM88 72h1v1h-1zM87 73h1v1h-1zM86 75h1v1h-1zM85 76h2v1h-2zM85 79h1v1h-1zM84 81h1v1h-1zM0 82h1v1h-1zM84 82h1v1h-1zM85 83h1v1h-1zM1 84h1v1h-1zM84 84h3v1h-3zM1 85h1v1h-1zM84 85h3v1h-3zM0 86h1v1h-1zM86 86h3v1h-3zM86 87h2v1h-2zM85 88h1v1h-1zM87 88h2v1h-2zM86 89h2v1h-2zM16 90h1v1h-1zM86 90h1v1h-1zM18 92h1v1h-1zM50 93h1v1h-1zM49 94h2v1h-2zM56 94h1v1h-1zM81 94h1v1h-1zM83 94h1v1h-1zM85 94h2v1h-2zM50 95h1v1h-1zM58 95h1v1h-1zM83 95h2v1h-2zM82 96h1v1h-1zM58 97h2v1h-2zM81 97h1v1h-1zM83 97h1v1h-1zM49 98h1v1h-1zM80 98h2v1h-2zM47 99h1v1h-1zM49 99h1v1h-1z"/><path fill="#f5c53a" d="M48 0h2v1h-2zM76 0h1v1h-1zM94 0h1v1h-1zM99 0h1v1h-1zM76 1h1v1h-1zM49 2h1v1h-1zM48 3h2v1h-2zM76 3h1v1h-1zM94 3h2v1h-2zM49 4h1v1h-1zM95 4h2v1h-2zM49 5h1v1h-1zM27 6h2v1h-2zM31 6h1v1h-1zM33 6h1v1h-1zM36 6h2v1h-2zM48 6h1v1h-1zM76 6h1v1h-1zM23 7h1v1h-1zM29 7h1v1h-1zM31 7h1v1h-1zM33 7h1v1h-1zM46 7h2v1h-2zM96 7h2v1h-2zM29 8h1v1h-1zM31 8h3v1h-3zM36 8h1v1h-1zM43 8h2v1h-2zM76 8h1v1h-1zM95 8h2v1h-2zM30 9h6v1h-6zM38 9h1v1h-1zM40 9h2v1h-2zM76 9h1v1h-1zM94 9h2v1h-2zM99 9h1v1h-1zM30 10h2v1h-2zM34 10h2v1h-2zM37 10h4v1h-4zM76 10h1v1h-1zM94 10h1v1h-1zM96 10h1v1h-1zM98 10h1v1h-1zM26 11h1v1h-1zM28 11h1v1h-1zM30 11h1v1h-1zM36 11h1v1h-1zM38 11h1v1h-1zM75 11h1v1h-1zM94 11h2v1h-2zM99 11h1v1h-1zM24 12h1v1h-1zM36 12h1v1h-1zM94 12h2v1h-2zM99 12h1v1h-1zM22 13h2v1h-2zM31 13h2v1h-2zM94 13h1v1h-1zM96 13h1v1h-1zM18 14h3v1h-3zM22 14h1v1h-1zM33 14h1v1h-1zM95 14h1v1h-1zM12 15h1v1h-1zM15 15h1v1h-1zM17 15h1v1h-1zM75 15h1v1h-1zM93 15h3v1h-3zM7 16h3v1h-3zM13 16h1v1h-1zM5 17h2v1h-2zM0 18h2v1h-2zM3 18h1v1h-1zM75 18h1v1h-1zM91 18h1v1h-1zM1 19h3v1h-3zM0 20h4v1h-4zM91 20h2v1h-2zM1 22h1v1h-1zM93 22h1v1h-1zM93 23h1v1h-1zM0 24h1v1h-1zM90 24h1v1h-1zM92 24h1v1h-1zM0 25h1v1h-1zM86 25h1v1h-1zM90 25h1v1h-1zM85 26h1v1h-1zM87 26h2v1h-2zM90 26h1v1h-1zM86 27h5v1h-5zM99 27h1v1h-1zM79 28h1v1h-1zM82 28h1v1h-1zM84 28h4v1h-4zM89 28h1v1h-1zM97 28h1v1h-1zM78 29h2v1h-2zM86 29h2v1h-2zM89 29h2v1h-2zM96 29h1v1h-1zM83 30h1v1h-1zM89 30h2v1h-2zM96 30h1v1h-1zM81 31h1v1h-1zM83 31h1v1h-1zM88 31h1v1h-1zM95 31h2v1h-2zM99 31h1v1h-1zM83 32h3v1h-3zM95 32h1v1h-1zM99 32h1v1h-1zM80 33h1v1h-1zM83 33h1v1h-1zM95 33h1v1h-1zM80 34h1v1h-1zM82 34h2v1h-2zM94 34h1v1h-1zM83 35h1v1h-1zM90 35h1v1h-1zM93 35h1v1h-1zM95 35h1v1h-1zM98 35h2v1h-2zM83 36h7v1h-7zM91 36h3v1h-3zM95 36h1v1h-1zM98 36h1v1h-1zM81 37h3v1h-3zM87 37h1v1h-1zM95 37h1v1h-1zM98 37h2v1h-2zM82 38h1v1h-1zM96 38h1v1h-1zM99 38h1v1h-1zM81 39h1v1h-1zM96 39h1v1h-1zM99 40h1v1h-1zM81 41h1v1h-1zM83 45h1v1h-1zM98 45h1v1h-1zM97 46h1v1h-1zM84 47h2v1h-2zM97 47h1v1h-1zM85 48h1v1h-1zM97 48h1v1h-1zM89 49h1v1h-1zM96 49h1v1h-1zM95 50h1v1h-1zM95 51h1v1h-1zM92 52h1v1h-1zM94 53h1v1h-1zM94 57h4v1h-4zM92 58h2v1h-2zM99 58h1v1h-1zM91 59h1v1h-1zM89 62h1v1h-1zM89 63h1v1h-1zM89 64h1v1h-1zM89 65h1v1h-1zM89 68h1v1h-1zM88 69h1v1h-1zM88 70h1v1h-1zM87 71h1v1h-1zM86 72h2v1h-2zM86 73h1v1h-1zM86 74h1v1h-1zM85 77h1v1h-1zM84 79h1v1h-1zM84 80h1v1h-1zM1 82h1v1h-1zM1 83h1v1h-1zM83 83h2v1h-2zM11 85h1v1h-1zM1 86h2v1h-2zM84 86h2v1h-2zM0 87h1v1h-1zM85 87h1v1h-1zM0 88h1v1h-1zM86 88h1v1h-1zM1 89h1v1h-1zM84 89h2v1h-2zM1 90h3v1h-3zM17 90h2v1h-2zM85 90h1v1h-1zM1 91h3v1h-3zM16 91h3v1h-3zM84 91h3v1h-3zM1 92h1v1h-1zM3 92h1v1h-1zM13 92h1v1h-1zM15 92h3v1h-3zM49 92h2v1h-2zM85 92h2v1h-2zM1 93h1v1h-1zM4 93h2v1h-2zM13 93h1v1h-1zM17 93h2v1h-2zM49 93h1v1h-1zM56 93h1v1h-1zM0 94h2v1h-2zM4 94h2v1h-2zM12 94h1v1h-1zM17 94h1v1h-1zM48 94h1v1h-1zM57 94h2v1h-2zM82 94h1v1h-1zM84 94h1v1h-1zM0 95h1v1h-1zM5 95h1v1h-1zM11 95h1v1h-1zM48 95h2v1h-2zM59 95h1v1h-1zM77 95h2v1h-2zM82 95h1v1h-1zM0 96h1v1h-1zM48 96h2v1h-2zM59 96h1v1h-1zM61 96h1v1h-1zM77 96h2v1h-2zM48 97h2v1h-2zM80 97h1v1h-1zM48 98h1v1h-1zM79 98h1v1h-1zM59 99h2v1h-2zM80 99h1v1h-1z"/><path fill="#faba39" d="M50 0h3v1h-3zM75 0h1v1h-1zM95 0h4v1h-4zM50 1h1v1h-1zM52 1h1v1h-1zM75 1h1v1h-1zM95 1h1v1h-1zM50 2h3v1h-3zM76 2h1v1h-1zM95 2h2v1h-2zM50 3h1v1h-1zM96 3h2v1h-2zM76 4h1v1h-1zM97 4h1v1h-1zM28 5h1v1h-1zM30 5h2v1h-2zM97 5h1v1h-1zM29 6h2v1h-2zM32 6h1v1h-1zM35 6h1v1h-1zM49 6h1v1h-1zM96 6h4v1h-4zM30 7h1v1h-1zM48 7h2v1h-2zM98 7h2v1h-2zM45 8h1v1h-1zM48 8h1v1h-1zM97 8h3v1h-3zM42 9h2v1h-2zM96 9h1v1h-1zM98 9h1v1h-1zM29 10h1v1h-1zM41 10h1v1h-1zM95 10h1v1h-1zM97 10h1v1h-1zM29 11h1v1h-1zM39 11h1v1h-1zM26 12h1v1h-1zM31 12h1v1h-1zM37 12h1v1h-1zM74 12h1v1h-1zM96 12h1v1h-1zM26 13h1v1h-1zM36 13h1v1h-1zM74 13h1v1h-1zM95 13h1v1h-1zM98 13h1v1h-1zM21 14h1v1h-1zM23 14h1v1h-1zM31 14h2v1h-2zM34 14h1v1h-1zM74 14h1v1h-1zM96 14h2v1h-2zM16 15h1v1h-1zM18 15h4v1h-4zM96 15h1v1h-1zM10 16h2v1h-2zM16 16h1v1h-1zM75 16h1v1h-1zM92 16h1v1h-1zM94 16h2v1h-2zM7 17h2v1h-2zM75 17h1v1h-1zM92 17h2v1h-2zM5 18h1v1h-1zM7 18h1v1h-1zM92 18h1v1h-1zM4 19h1v1h-1zM92 19h1v1h-1zM4 20h1v1h-1zM75 20h1v1h-1zM93 20h1v1h-1zM2 21h2v1h-2zM75 21h1v1h-1zM0 22h1v1h-1zM2 22h2v1h-2zM0 23h3v1h-3zM1 24h2v1h-2zM91 24h1v1h-1zM93 24h2v1h-2zM91 25h4v1h-4zM0 26h2v1h-2zM89 26h1v1h-1zM91 26h3v1h-3zM95 26h1v1h-1zM98 26h1v1h-1zM0 27h1v1h-1zM76 27h1v1h-1zM85 27h1v1h-1zM91 27h1v1h-1zM97 27h2v1h-2zM0 28h1v1h-1zM80 28h2v1h-2zM91 28h1v1h-1zM95 28h2v1h-2zM77 29h1v1h-1zM81 29h2v1h-2zM84 29h2v1h-2zM91 29h2v1h-2zM77 30h6v1h-6zM84 30h5v1h-5zM91 30h1v1h-1zM95 30h1v1h-1zM80 31h1v1h-1zM82 31h1v1h-1zM84 31h4v1h-4zM89 31h2v1h-2zM80 32h1v1h-1zM86 32h4v1h-4zM94 32h1v1h-1zM84 33h3v1h-3zM89 33h2v1h-2zM99 33h1v1h-1zM79 34h1v1h-1zM84 34h2v1h-2zM88 34h2v1h-2zM92 34h2v1h-2zM80 35h1v1h-1zM86 35h4v1h-4zM92 35h1v1h-1zM94 35h1v1h-1zM80 36h1v1h-1zM96 36h1v1h-1zM99 36h1v1h-1zM80 37h1v1h-1zM96 37h2v1h-2zM80 38h2v1h-2zM98 38h1v1h-1zM80 39h1v1h-1zM99 39h1v1h-1zM81 40h1v1h-1zM96 40h1v1h-1zM81 43h1v1h-1zM99 45h1v1h-1zM84 46h1v1h-1zM98 46h2v1h-2zM98 47h1v1h-1zM85 49h2v1h-2zM97 49h2v1h-2zM96 50h2v1h-2zM93 52h1v1h-1zM95 52h2v1h-2zM92 53h2v1h-2zM95 53h1v1h-1zM92 54h3v1h-3zM98 55h1v1h-1zM94 56h1v1h-1zM98 56h1v1h-1zM92 57h2v1h-2zM98 57h2v1h-2zM91 58h1v1h-1zM90 60h1v1h-1zM88 62h1v1h-1zM88 64h1v1h-1zM88 65h1v1h-1zM88 66h1v1h-1zM88 67h1v1h-1zM88 68h1v1h-1zM87 70h1v1h-1zM85 74h1v1h-1zM85 75h1v1h-1zM84 77h1v1h-1zM84 78h1v1h-1zM83 80h1v1h-1zM1 81h2v1h-2zM2 82h1v1h-1zM83 82h1v1h-1zM3 83h1v1h-1zM9 83h1v1h-1zM2 84h1v1h-1zM9 84h1v1h-1zM11 84h1v1h-1zM83 84h1v1h-1zM2 85h2v1h-2zM9 85h2v1h-2zM12 85h4v1h-4zM10 86h4v1h-4zM15 86h3v1h-3zM83 86h1v1h-1zM1 87h2v1h-2zM9 87h2v1h-2zM12 87h1v1h-1zM14 87h3v1h-3zM83 87h2v1h-2zM1 88h1v1h-1zM8 88h2v1h-2zM17 88h2v1h-2zM83 88h2v1h-2zM0 89h1v1h-1zM2 89h2v1h-2zM16 89h4v1h-4zM82 89h2v1h-2zM0 90h1v1h-1zM5 90h1v1h-1zM19 90h1v1h-1zM84 90h1v1h-1zM0 91h1v1h-1zM4 91h1v1h-1zM13 91h3v1h-3zM19 91h1v1h-1zM0 92h1v1h-1zM2 92h1v1h-1zM4 92h1v1h-1zM6 92h1v1h-1zM14 92h1v1h-1zM19 92h1v1h-1zM57 92h1v1h-1zM0 93h1v1h-1zM2 93h2v1h-2zM11 93h2v1h-2zM14 93h3v1h-3zM48 93h1v1h-1zM57 93h1v1h-1zM80 93h4v1h-4zM85 93h1v1h-1zM2 94h2v1h-2zM6 94h1v1h-1zM11 94h1v1h-1zM13 94h4v1h-4zM76 94h3v1h-3zM1 95h2v1h-2zM6 95h2v1h-2zM12 95h2v1h-2zM60 95h1v1h-1zM76 95h1v1h-1zM79 95h1v1h-1zM81 95h1v1h-1zM1 96h1v1h-1zM12 96h2v1h-2zM60 96h1v1h-1zM62 96h1v1h-1zM76 96h1v1h-1zM79 96h1v1h-1zM81 96h1v1h-1zM0 97h1v1h-1zM5 97h1v1h-1zM60 97h4v1h-4zM77 97h3v1h-3zM1 98h1v1h-1zM46 98h2v1h-2zM59 98h5v1h-5zM78 98h1v1h-1zM13 99h2v1h-2zM46 99h1v1h-1zM61 99h1v1h-1zM63 99h1v1h-1zM79 99h1v1h-1z"/><path fill="#fe932a" d="M53 0h1v1h-1zM28 3h1v1h-1zM54 3h1v1h-1zM29 4h6v1h-6zM51 5h1v1h-1zM53 5h1v1h-1zM74 6h1v1h-1zM50 7h1v1h-1zM74 7h1v1h-1zM50 8h1v1h-1zM45 9h1v1h-1zM49 9h1v1h-1zM74 9h1v1h-1zM45 10h1v1h-1zM47 10h1v1h-1zM73 10h1v1h-1zM44 11h1v1h-1zM41 12h1v1h-1zM45 12h1v1h-1zM38 13h1v1h-1zM40 13h1v1h-1zM43 13h1v1h-1zM29 14h1v1h-1zM73 14h1v1h-1zM26 15h3v1h-3zM30 15h1v1h-1zM35 15h1v1h-1zM23 16h1v1h-1zM34 16h1v1h-1zM73 16h1v1h-1zM98 16h1v1h-1zM10 17h1v1h-1zM18 17h2v1h-2zM23 17h1v1h-1zM29 17h2v1h-2zM73 17h1v1h-1zM97 17h1v1h-1zM9 18h8v1h-8zM31 18h2v1h-2zM74 18h1v1h-1zM94 18h3v1h-3zM8 19h1v1h-1zM11 19h1v1h-1zM74 19h1v1h-1zM6 20h1v1h-1zM74 20h1v1h-1zM95 20h1v1h-1zM5 21h2v1h-2zM95 21h1v1h-1zM5 22h2v1h-2zM95 22h1v1h-1zM4 23h1v1h-1zM95 23h1v1h-1zM4 25h1v1h-1zM98 25h2v1h-2zM4 26h1v1h-1zM3 27h1v1h-1zM75 27h1v1h-1zM3 28h1v1h-1zM3 29h1v1h-1zM3 30h1v1h-1zM4 31h1v1h-1zM78 31h1v1h-1zM2 32h2v1h-2zM0 33h3v1h-3zM78 33h1v1h-1zM78 35h1v1h-1zM79 40h1v1h-1zM83 48h1v1h-1zM83 49h2v1h-2zM98 51h2v1h-2zM98 52h2v1h-2zM90 55h1v1h-1zM86 56h4v1h-4zM89 57h1v1h-1zM89 59h1v1h-1zM88 60h1v1h-1zM8 61h2v1h-2zM6 62h1v1h-1zM9 62h1v1h-1zM6 63h1v1h-1zM8 63h1v1h-1zM4 64h1v1h-1zM6 64h3v1h-3zM3 65h1v1h-1zM6 65h1v1h-1zM0 67h1v1h-1zM2 67h2v1h-2zM1 68h1v1h-1zM3 68h2v1h-2zM20 68h1v1h-1zM1 69h1v1h-1zM4 69h1v1h-1zM86 69h1v1h-1zM1 70h1v1h-1zM4 70h2v1h-2zM0 71h1v1h-1zM2 71h2v1h-2zM85 71h1v1h-1zM83 72h1v1h-1zM3 73h1v1h-1zM83 73h1v1h-1zM5 74h1v1h-1zM8 74h4v1h-4zM83 74h2v1h-2zM2 75h1v1h-1zM5 75h1v1h-1zM7 75h3v1h-3zM73 75h2v1h-2zM83 75h1v1h-1zM1 76h3v1h-3zM7 76h3v1h-3zM75 76h1v1h-1zM82 76h2v1h-2zM4 77h1v1h-1zM8 77h1v1h-1zM74 77h1v1h-1zM76 77h1v1h-1zM81 77h2v1h-2zM0 78h1v1h-1zM4 78h2v1h-2zM12 78h1v1h-1zM19 78h3v1h-3zM75 78h3v1h-3zM80 78h1v1h-1zM11 79h1v1h-1zM13 79h3v1h-3zM21 79h1v1h-1zM75 79h2v1h-2zM0 80h2v1h-2zM5 80h2v1h-2zM9 80h3v1h-3zM14 80h1v1h-1zM19 80h2v1h-2zM72 80h5v1h-5zM6 81h1v1h-1zM9 81h1v1h-1zM12 81h1v1h-1zM15 81h2v1h-2zM19 81h2v1h-2zM73 81h1v1h-1zM75 81h1v1h-1zM6 82h2v1h-2zM20 82h1v1h-1zM72 82h1v1h-1zM74 82h2v1h-2zM77 82h1v1h-1zM20 83h1v1h-1zM74 83h1v1h-1zM77 83h1v1h-1zM6 84h1v1h-1zM20 84h1v1h-1zM80 84h2v1h-2zM20 85h1v1h-1zM73 85h1v1h-1zM79 85h1v1h-1zM6 86h1v1h-1zM77 86h1v1h-1zM82 86h1v1h-1zM6 87h1v1h-1zM21 87h1v1h-1zM80 87h2v1h-2zM22 88h1v1h-1zM79 88h2v1h-2zM22 89h1v1h-1zM77 89h3v1h-3zM7 90h1v1h-1zM20 90h1v1h-1zM22 90h2v1h-2zM77 90h2v1h-2zM80 90h1v1h-1zM21 91h1v1h-1zM23 91h1v1h-1zM48 91h1v1h-1zM51 91h1v1h-1zM56 91h1v1h-1zM58 91h4v1h-4zM78 91h1v1h-1zM21 92h1v1h-1zM47 92h1v1h-1zM60 92h3v1h-3zM75 92h3v1h-3zM21 93h1v1h-1zM62 93h1v1h-1zM75 93h1v1h-1zM9 94h1v1h-1zM63 94h1v1h-1zM73 94h1v1h-1zM46 95h1v1h-1zM64 95h1v1h-1zM73 95h1v1h-1zM18 96h1v1h-1zM46 96h1v1h-1zM64 96h1v1h-1zM73 96h2v1h-2zM9 97h1v1h-1zM16 97h3v1h-3zM73 97h2v1h-2zM4 98h1v1h-1zM8 98h1v1h-1zM10 98h1v1h-1zM16 98h1v1h-1zM21 98h1v1h-1zM45 98h1v1h-1zM74 98h1v1h-1zM8 99h3v1h-3zM22 99h1v1h-1zM45 99h1v1h-1zM75 99h2v1h-2z"/><path fill="#f9751d" d="M54 0h1v1h-1zM31 3h2v1h-2zM55 3h1v1h-1zM74 3h1v1h-1zM55 4h1v1h-1zM73 4h1v1h-1zM55 5h1v1h-1zM53 6h2v1h-2zM73 6h1v1h-1zM53 7h1v1h-1zM73 7h1v1h-1zM73 8h1v1h-1zM50 9h1v1h-1zM72 10h1v1h-1zM48 11h1v1h-1zM72 11h1v1h-1zM44 13h1v1h-1zM38 14h1v1h-1zM41 14h1v1h-1zM35 16h2v1h-2zM72 16h1v1h-1zM22 17h1v1h-1zM24 17h1v1h-1zM27 17h1v1h-1zM35 17h1v1h-1zM18 18h1v1h-1zM21 18h2v1h-2zM34 18h1v1h-1zM72 18h2v1h-2zM9 19h1v1h-1zM15 19h2v1h-2zM28 19h4v1h-4zM34 19h1v1h-1zM73 19h1v1h-1zM97 19h1v1h-1zM8 20h1v1h-1zM10 20h1v1h-1zM12 20h1v1h-1zM33 20h1v1h-1zM96 20h1v1h-1zM7 21h2v1h-2zM74 21h1v1h-1zM96 21h1v1h-1zM7 22h1v1h-1zM96 22h1v1h-1zM97 23h1v1h-1zM5 25h2v1h-2zM5 26h1v1h-1zM4 28h1v1h-1zM5 29h1v1h-1zM5 30h1v1h-1zM5 31h1v1h-1zM4 33h1v1h-1zM0 34h1v1h-1zM2 34h2v1h-2zM76 36h2v1h-2zM77 37h1v1h-1zM77 38h1v1h-1zM80 44h1v1h-1zM80 45h1v1h-1zM85 56h1v1h-1zM85 57h1v1h-1zM86 58h1v1h-1zM88 59h1v1h-1zM10 60h1v1h-1zM87 60h1v1h-1zM10 61h1v1h-1zM10 62h2v1h-2zM1 63h1v1h-1zM3 63h2v1h-2zM11 63h2v1h-2zM2 64h1v1h-1zM10 64h1v1h-1zM85 64h1v1h-1zM1 65h2v1h-2zM8 65h2v1h-2zM2 66h1v1h-1zM6 66h2v1h-2zM9 66h2v1h-2zM6 67h3v1h-3zM10 67h1v1h-1zM17 67h5v1h-5zM6 68h3v1h-3zM12 68h1v1h-1zM17 68h2v1h-2zM21 68h2v1h-2zM8 69h2v1h-2zM11 69h2v1h-2zM19 69h1v1h-1zM23 69h1v1h-1zM84 69h1v1h-1zM7 70h3v1h-3zM11 70h1v1h-1zM22 70h1v1h-1zM84 70h1v1h-1zM5 71h1v1h-1zM7 71h1v1h-1zM9 71h5v1h-5zM82 71h1v1h-1zM1 72h1v1h-1zM6 72h3v1h-3zM10 72h4v1h-4zM15 72h1v1h-1zM82 72h1v1h-1zM0 73h3v1h-3zM5 73h2v1h-2zM14 73h2v1h-2zM71 73h1v1h-1zM73 73h3v1h-3zM81 73h1v1h-1zM0 74h2v1h-2zM13 74h2v1h-2zM72 74h1v1h-1zM74 74h1v1h-1zM81 74h1v1h-1zM1 75h1v1h-1zM13 75h1v1h-1zM71 75h1v1h-1zM82 75h1v1h-1zM5 76h1v1h-1zM12 76h3v1h-3zM16 76h1v1h-1zM19 76h3v1h-3zM23 76h2v1h-2zM71 76h1v1h-1zM76 76h2v1h-2zM79 76h1v1h-1zM81 76h1v1h-1zM12 77h3v1h-3zM17 77h3v1h-3zM24 77h2v1h-2zM71 77h3v1h-3zM7 78h1v1h-1zM9 78h1v1h-1zM11 78h1v1h-1zM13 78h1v1h-1zM23 78h1v1h-1zM71 78h2v1h-2zM23 79h1v1h-1zM71 79h1v1h-1zM7 80h1v1h-1zM71 80h1v1h-1zM22 81h1v1h-1zM21 82h2v1h-2zM71 82h1v1h-1zM71 83h1v1h-1zM71 84h1v1h-1zM21 85h1v1h-1zM75 85h1v1h-1zM77 85h1v1h-1zM22 86h1v1h-1zM74 86h3v1h-3zM75 87h4v1h-4zM75 88h1v1h-1zM24 89h2v1h-2zM75 89h2v1h-2zM50 90h2v1h-2zM55 90h2v1h-2zM58 90h4v1h-4zM71 90h1v1h-1zM73 90h1v1h-1zM75 90h1v1h-1zM24 91h1v1h-1zM47 91h1v1h-1zM63 91h1v1h-1zM73 91h1v1h-1zM75 91h1v1h-1zM24 92h1v1h-1zM26 92h1v1h-1zM46 92h1v1h-1zM23 93h2v1h-2zM72 93h1v1h-1zM21 94h1v1h-1zM23 94h2v1h-2zM45 94h1v1h-1zM21 95h1v1h-1zM23 95h2v1h-2zM65 95h1v1h-1zM71 95h1v1h-1zM23 96h1v1h-1zM26 96h1v1h-1zM45 96h1v1h-1zM71 96h1v1h-1zM22 97h3v1h-3zM26 97h1v1h-1zM65 97h2v1h-2zM70 97h2v1h-2zM18 98h2v1h-2zM23 98h3v1h-3zM44 98h1v1h-1zM65 98h3v1h-3zM72 98h1v1h-1zM18 99h1v1h-1zM24 99h1v1h-1zM43 99h1v1h-1zM73 99h2v1h-2z"/><path fill="#ea4e0d" d="M55 0h1v1h-1zM66 0h2v1h-2zM70 0h1v1h-1zM14 1h1v1h-1zM66 1h1v1h-1zM68 1h1v1h-1zM70 1h1v1h-1zM56 2h1v1h-1zM59 2h1v1h-1zM67 2h2v1h-2zM70 2h3v1h-3zM56 3h1v1h-1zM68 3h1v1h-1zM70 3h3v1h-3zM69 4h1v1h-1zM72 4h1v1h-1zM57 5h2v1h-2zM56 6h1v1h-1zM71 6h2v1h-2zM55 7h1v1h-1zM71 7h1v1h-1zM54 8h2v1h-2zM71 8h1v1h-1zM24 9h2v1h-2zM55 9h1v1h-1zM69 9h1v1h-1zM52 10h2v1h-2zM70 10h2v1h-2zM52 11h2v1h-2zM51 12h2v1h-2zM25 13h1v1h-1zM49 13h1v1h-1zM51 13h1v1h-1zM71 13h1v1h-1zM24 14h1v1h-1zM45 14h2v1h-2zM71 14h1v1h-1zM40 16h1v1h-1zM69 16h1v1h-1zM40 17h1v1h-1zM69 17h2v1h-2zM25 18h1v1h-1zM38 18h1v1h-1zM22 19h1v1h-1zM26 19h2v1h-2zM37 19h1v1h-1zM69 19h1v1h-1zM16 20h1v1h-1zM21 20h3v1h-3zM25 20h1v1h-1zM28 20h1v1h-1zM98 20h2v1h-2zM12 21h2v1h-2zM15 21h1v1h-1zM23 21h1v1h-1zM26 21h2v1h-2zM29 21h1v1h-1zM35 21h1v1h-1zM69 21h4v1h-4zM11 22h2v1h-2zM27 22h2v1h-2zM30 22h2v1h-2zM34 22h1v1h-1zM72 22h1v1h-1zM98 22h1v1h-1zM9 23h1v1h-1zM27 23h1v1h-1zM33 23h1v1h-1zM72 23h1v1h-1zM9 24h2v1h-2zM28 24h2v1h-2zM31 24h2v1h-2zM14 25h1v1h-1zM27 25h1v1h-1zM31 25h1v1h-1zM73 25h1v1h-1zM73 26h1v1h-1zM7 27h3v1h-3zM73 27h1v1h-1zM7 28h2v1h-2zM7 29h1v1h-1zM8 30h1v1h-1zM11 31h1v1h-1zM6 32h1v1h-1zM9 32h2v1h-2zM13 32h1v1h-1zM10 33h1v1h-1zM5 34h1v1h-1zM74 34h1v1h-1zM1 36h1v1h-1zM74 36h1v1h-1zM2 37h1v1h-1zM74 37h1v1h-1zM1 38h1v1h-1zM75 38h1v1h-1zM2 39h1v1h-1zM4 39h1v1h-1zM2 40h3v1h-3zM77 40h1v1h-1zM2 41h2v1h-2zM77 41h1v1h-1zM77 42h1v1h-1zM3 43h1v1h-1zM2 44h1v1h-1zM78 44h1v1h-1zM0 45h2v1h-2zM81 49h1v1h-1zM82 50h1v1h-1zM6 52h1v1h-1zM15 52h1v1h-1zM6 53h2v1h-2zM6 54h2v1h-2zM9 54h1v1h-1zM84 54h1v1h-1zM8 56h2v1h-2zM0 57h3v1h-3zM6 57h1v1h-1zM9 57h3v1h-3zM1 58h1v1h-1zM3 58h1v1h-1zM5 58h3v1h-3zM84 58h1v1h-1zM1 59h1v1h-1zM3 59h2v1h-2zM12 59h1v1h-1zM84 59h1v1h-1zM3 60h2v1h-2zM12 60h2v1h-2zM15 60h1v1h-1zM1 61h1v1h-1zM13 61h1v1h-1zM84 61h1v1h-1zM13 62h3v1h-3zM84 62h1v1h-1zM84 63h1v1h-1zM16 64h3v1h-3zM84 64h1v1h-1zM12 65h1v1h-1zM17 65h4v1h-4zM22 66h1v1h-1zM81 67h1v1h-1zM24 68h1v1h-1zM27 68h1v1h-1zM82 68h1v1h-1zM25 69h1v1h-1zM81 69h1v1h-1zM18 70h1v1h-1zM27 70h2v1h-2zM18 71h1v1h-1zM20 71h1v1h-1zM26 71h1v1h-1zM28 71h1v1h-1zM80 71h1v1h-1zM20 72h2v1h-2zM23 72h3v1h-3zM70 72h1v1h-1zM72 72h3v1h-3zM76 72h2v1h-2zM21 73h1v1h-1zM23 73h1v1h-1zM68 73h2v1h-2zM77 73h1v1h-1zM17 74h1v1h-1zM23 74h1v1h-1zM68 74h1v1h-1zM26 75h3v1h-3zM68 75h2v1h-2zM28 76h2v1h-2zM67 76h3v1h-3zM68 77h1v1h-1zM28 78h1v1h-1zM66 78h2v1h-2zM66 79h3v1h-3zM28 80h1v1h-1zM68 80h1v1h-1zM24 81h2v1h-2zM28 81h2v1h-2zM68 81h2v1h-2zM26 82h1v1h-1zM23 83h3v1h-3zM27 83h1v1h-1zM69 83h1v1h-1zM23 84h3v1h-3zM27 84h1v1h-1zM69 84h1v1h-1zM26 85h2v1h-2zM69 85h1v1h-1zM27 86h2v1h-2zM69 86h2v1h-2zM68 87h1v1h-1zM27 88h1v1h-1zM57 88h2v1h-2zM64 88h1v1h-1zM68 88h2v1h-2zM47 89h1v1h-1zM50 89h1v1h-1zM61 89h1v1h-1zM63 89h2v1h-2zM67 89h2v1h-2zM45 90h1v1h-1zM65 90h1v1h-1zM67 90h2v1h-2zM28 91h1v1h-1zM31 91h1v1h-1zM45 91h1v1h-1zM65 91h2v1h-2zM69 91h1v1h-1zM29 92h2v1h-2zM44 92h1v1h-1zM67 92h1v1h-1zM69 92h1v1h-1zM28 93h1v1h-1zM31 93h1v1h-1zM44 93h1v1h-1zM68 93h1v1h-1zM70 93h1v1h-1zM26 94h4v1h-4zM31 94h3v1h-3zM44 94h1v1h-1zM67 94h3v1h-3zM31 95h1v1h-1zM44 95h1v1h-1zM67 95h3v1h-3zM28 96h3v1h-3zM32 96h1v1h-1zM29 97h4v1h-4zM43 97h1v1h-1zM29 98h3v1h-3zM33 98h3v1h-3zM42 98h1v1h-1zM30 99h4v1h-4zM35 99h1v1h-1zM41 99h2v1h-2z"/><path fill="#da3907" d="M56 0h1v1h-1zM59 0h1v1h-1zM63 0h1v1h-1zM56 1h4v1h-4zM61 1h2v1h-2zM64 1h1v1h-1zM13 2h1v1h-1zM57 2h1v1h-1zM61 2h1v1h-1zM63 2h1v1h-1zM57 3h1v1h-1zM62 3h1v1h-1zM65 3h1v1h-1zM59 4h4v1h-4zM65 4h1v1h-1zM24 5h1v1h-1zM26 5h1v1h-1zM64 5h1v1h-1zM69 5h2v1h-2zM58 6h3v1h-3zM57 7h2v1h-2zM69 7h1v1h-1zM57 8h1v1h-1zM59 8h1v1h-1zM66 8h1v1h-1zM68 8h1v1h-1zM57 9h1v1h-1zM66 9h3v1h-3zM57 10h1v1h-1zM59 10h1v1h-1zM66 10h2v1h-2zM69 10h1v1h-1zM59 11h1v1h-1zM64 11h2v1h-2zM53 12h1v1h-1zM55 12h1v1h-1zM69 12h1v1h-1zM52 13h1v1h-1zM54 13h1v1h-1zM56 13h1v1h-1zM47 14h3v1h-3zM53 14h1v1h-1zM69 14h1v1h-1zM44 15h3v1h-3zM68 15h2v1h-2zM41 16h2v1h-2zM68 16h1v1h-1zM68 17h1v1h-1zM41 18h1v1h-1zM67 18h1v1h-1zM38 19h1v1h-1zM40 19h1v1h-1zM68 19h1v1h-1zM17 20h1v1h-1zM19 20h1v1h-1zM68 20h1v1h-1zM17 21h1v1h-1zM21 21h1v1h-1zM36 21h1v1h-1zM68 21h1v1h-1zM13 22h1v1h-1zM23 22h1v1h-1zM68 22h1v1h-1zM70 22h1v1h-1zM12 23h3v1h-3zM16 23h1v1h-1zM22 23h1v1h-1zM67 23h3v1h-3zM12 24h1v1h-1zM15 24h2v1h-2zM70 24h2v1h-2zM11 25h1v1h-1zM13 25h1v1h-1zM16 25h1v1h-1zM33 25h1v1h-1zM14 26h2v1h-2zM27 26h1v1h-1zM33 26h1v1h-1zM72 26h1v1h-1zM13 27h1v1h-1zM15 27h2v1h-2zM27 27h1v1h-1zM29 27h3v1h-3zM10 28h3v1h-3zM16 28h1v1h-1zM27 28h2v1h-2zM11 29h1v1h-1zM15 29h1v1h-1zM73 29h1v1h-1zM11 30h1v1h-1zM15 30h2v1h-2zM27 30h1v1h-1zM73 30h1v1h-1zM13 31h3v1h-3zM27 31h1v1h-1zM73 31h1v1h-1zM26 32h1v1h-1zM28 32h1v1h-1zM73 32h2v1h-2zM26 33h1v1h-1zM7 34h3v1h-3zM13 34h1v1h-1zM9 35h4v1h-4zM73 35h1v1h-1zM5 36h5v1h-5zM13 36h1v1h-1zM73 36h1v1h-1zM6 37h3v1h-3zM10 37h2v1h-2zM14 37h1v1h-1zM73 37h1v1h-1zM7 38h1v1h-1zM10 38h3v1h-3zM73 38h2v1h-2zM0 39h1v1h-1zM6 39h2v1h-2zM75 39h1v1h-1zM0 40h1v1h-1zM76 40h1v1h-1zM0 41h1v1h-1zM5 41h1v1h-1zM75 41h2v1h-2zM0 42h2v1h-2zM2 43h1v1h-1zM4 43h1v1h-1zM6 43h2v1h-2zM75 43h2v1h-2zM6 44h1v1h-1zM8 44h1v1h-1zM77 44h1v1h-1zM2 45h2v1h-2zM9 45h1v1h-1zM0 46h2v1h-2zM4 46h1v1h-1zM0 47h2v1h-2zM6 47h1v1h-1zM0 48h1v1h-1zM7 48h1v1h-1zM0 49h2v1h-2zM8 49h1v1h-1zM18 49h1v1h-1zM0 50h5v1h-5zM7 50h1v1h-1zM9 50h1v1h-1zM15 50h5v1h-5zM3 51h2v1h-2zM7 51h2v1h-2zM13 51h1v1h-1zM15 51h4v1h-4zM20 51h1v1h-1zM2 52h2v1h-2zM8 52h1v1h-1zM14 52h1v1h-1zM16 52h2v1h-2zM83 52h1v1h-1zM2 53h2v1h-2zM9 53h3v1h-3zM13 53h2v1h-2zM16 53h1v1h-1zM20 53h1v1h-1zM0 54h5v1h-5zM11 54h1v1h-1zM13 54h1v1h-1zM15 54h1v1h-1zM17 54h5v1h-5zM0 55h1v1h-1zM4 55h3v1h-3zM9 55h4v1h-4zM21 55h1v1h-1zM83 55h1v1h-1zM4 56h1v1h-1zM6 56h1v1h-1zM11 56h2v1h-2zM4 57h1v1h-1zM14 57h1v1h-1zM2 58h1v1h-1zM13 58h2v1h-2zM14 59h2v1h-2zM17 59h1v1h-1zM83 59h1v1h-1zM83 60h1v1h-1zM16 61h2v1h-2zM17 62h1v1h-1zM20 62h1v1h-1zM19 63h2v1h-2zM23 63h3v1h-3zM22 64h1v1h-1zM22 65h2v1h-2zM26 65h1v1h-1zM25 66h3v1h-3zM30 66h2v1h-2zM80 66h1v1h-1zM26 67h2v1h-2zM29 67h2v1h-2zM78 67h3v1h-3zM29 68h3v1h-3zM78 68h1v1h-1zM80 68h1v1h-1zM30 69h1v1h-1zM32 69h1v1h-1zM31 70h1v1h-1zM73 70h1v1h-1zM75 70h4v1h-4zM80 70h1v1h-1zM31 71h2v1h-2zM69 71h1v1h-1zM74 71h1v1h-1zM78 71h1v1h-1zM28 72h2v1h-2zM33 72h1v1h-1zM67 72h1v1h-1zM33 73h1v1h-1zM35 73h1v1h-1zM67 73h1v1h-1zM32 74h2v1h-2zM35 74h2v1h-2zM39 74h1v1h-1zM67 74h1v1h-1zM31 75h2v1h-2zM34 75h2v1h-2zM66 75h1v1h-1zM30 76h1v1h-1zM33 76h1v1h-1zM65 76h2v1h-2zM29 77h2v1h-2zM33 77h1v1h-1zM29 78h1v1h-1zM65 78h1v1h-1zM29 79h2v1h-2zM65 80h2v1h-2zM66 81h1v1h-1zM29 82h1v1h-1zM66 82h2v1h-2zM28 83h1v1h-1zM68 83h1v1h-1zM29 84h1v1h-1zM66 84h1v1h-1zM29 85h1v1h-1zM37 85h1v1h-1zM66 85h2v1h-2zM38 86h1v1h-1zM47 86h1v1h-1zM57 86h2v1h-2zM65 86h2v1h-2zM55 87h5v1h-5zM64 87h1v1h-1zM45 88h1v1h-1zM47 88h1v1h-1zM50 88h1v1h-1zM53 88h2v1h-2zM62 88h1v1h-1zM30 89h1v1h-1zM31 90h2v1h-2zM44 90h1v1h-1zM32 91h2v1h-2zM42 92h2v1h-2zM38 93h1v1h-1zM43 93h1v1h-1zM37 94h1v1h-1zM34 95h1v1h-1zM39 95h1v1h-1zM43 95h1v1h-1zM33 96h2v1h-2zM35 97h1v1h-1zM37 97h1v1h-1zM40 97h1v1h-1zM36 98h3v1h-3zM40 98h2v1h-2zM37 99h3v1h-3z"/><path fill="#c52603" d="M57 0h1v1h-1zM67 5h1v1h-1zM24 6h1v1h-1zM62 6h1v1h-1zM67 6h1v1h-1zM69 6h1v1h-1zM61 7h2v1h-2zM67 7h2v1h-2zM61 8h5v1h-5zM60 9h1v1h-1zM63 9h1v1h-1zM60 11h1v1h-1zM67 11h1v1h-1zM58 12h1v1h-1zM60 12h1v1h-1zM66 12h2v1h-2zM55 13h1v1h-1zM58 13h3v1h-3zM62 13h3v1h-3zM66 13h1v1h-1zM68 13h1v1h-1zM58 14h5v1h-5zM64 14h1v1h-1zM66 14h3v1h-3zM48 15h1v1h-1zM50 15h1v1h-1zM53 15h1v1h-1zM55 15h2v1h-2zM59 15h1v1h-1zM61 15h3v1h-3zM67 15h1v1h-1zM46 16h2v1h-2zM52 16h2v1h-2zM55 16h1v1h-1zM60 16h1v1h-1zM62 16h1v1h-1zM65 16h1v1h-1zM67 16h1v1h-1zM42 17h5v1h-5zM53 17h2v1h-2zM59 17h4v1h-4zM43 18h2v1h-2zM61 18h1v1h-1zM63 18h1v1h-1zM66 18h1v1h-1zM45 19h1v1h-1zM65 19h1v1h-1zM67 19h1v1h-1zM38 20h4v1h-4zM62 20h1v1h-1zM64 20h1v1h-1zM20 21h1v1h-1zM37 21h1v1h-1zM39 21h2v1h-2zM53 21h1v1h-1zM61 21h2v1h-2zM64 21h3v1h-3zM20 22h1v1h-1zM36 22h3v1h-3zM61 22h1v1h-1zM64 22h2v1h-2zM18 23h1v1h-1zM21 23h1v1h-1zM36 23h2v1h-2zM65 23h2v1h-2zM17 24h2v1h-2zM21 24h2v1h-2zM35 24h1v1h-1zM67 24h1v1h-1zM17 25h1v1h-1zM23 25h1v1h-1zM34 25h1v1h-1zM66 25h4v1h-4zM17 26h1v1h-1zM23 26h3v1h-3zM34 26h1v1h-1zM68 26h4v1h-4zM17 27h1v1h-1zM23 27h4v1h-4zM71 27h1v1h-1zM18 28h1v1h-1zM21 28h1v1h-1zM23 28h2v1h-2zM29 28h1v1h-1zM31 28h2v1h-2zM72 28h1v1h-1zM18 29h2v1h-2zM21 29h5v1h-5zM27 29h2v1h-2zM30 29h2v1h-2zM34 29h1v1h-1zM37 29h1v1h-1zM72 29h1v1h-1zM21 30h1v1h-1zM24 30h2v1h-2zM29 30h5v1h-5zM18 31h3v1h-3zM29 31h3v1h-3zM33 31h1v1h-1zM18 32h1v1h-1zM29 32h1v1h-1zM72 32h1v1h-1zM15 33h2v1h-2zM18 33h1v1h-1zM24 33h1v1h-1zM28 33h2v1h-2zM14 34h6v1h-6zM27 34h1v1h-1zM70 34h1v1h-1zM14 35h2v1h-2zM18 35h1v1h-1zM35 35h2v1h-2zM72 35h1v1h-1zM14 36h1v1h-1zM33 36h6v1h-6zM72 36h1v1h-1zM15 37h2v1h-2zM33 37h1v1h-1zM35 37h3v1h-3zM16 38h1v1h-1zM32 38h2v1h-2zM37 38h1v1h-1zM9 39h1v1h-1zM14 39h1v1h-1zM73 39h1v1h-1zM7 40h3v1h-3zM11 40h2v1h-2zM74 40h1v1h-1zM12 41h1v1h-1zM74 41h1v1h-1zM6 42h1v1h-1zM8 42h1v1h-1zM12 42h1v1h-1zM74 42h1v1h-1zM9 43h2v1h-2zM12 43h2v1h-2zM74 43h1v1h-1zM12 44h1v1h-1zM14 44h2v1h-2zM10 45h1v1h-1zM12 45h4v1h-4zM77 45h1v1h-1zM2 46h1v1h-1zM10 46h1v1h-1zM13 46h1v1h-1zM4 47h1v1h-1zM8 47h1v1h-1zM15 47h1v1h-1zM20 47h1v1h-1zM78 47h1v1h-1zM2 48h1v1h-1zM4 48h1v1h-1zM6 48h1v1h-1zM8 48h1v1h-1zM11 48h1v1h-1zM16 48h4v1h-4zM12 49h3v1h-3zM16 49h2v1h-2zM20 49h2v1h-2zM10 50h3v1h-3zM14 50h1v1h-1zM20 50h3v1h-3zM0 51h2v1h-2zM10 51h1v1h-1zM21 51h2v1h-2zM81 51h1v1h-1zM1 52h1v1h-1zM19 52h1v1h-1zM22 52h3v1h-3zM82 52h1v1h-1zM23 53h1v1h-1zM22 54h1v1h-1zM13 55h1v1h-1zM15 55h1v1h-1zM20 55h1v1h-1zM23 55h1v1h-1zM82 55h1v1h-1zM13 56h2v1h-2zM18 56h1v1h-1zM20 56h3v1h-3zM82 56h1v1h-1zM15 57h4v1h-4zM81 57h2v1h-2zM18 58h2v1h-2zM23 58h1v1h-1zM81 58h1v1h-1zM18 59h2v1h-2zM25 59h1v1h-1zM18 60h2v1h-2zM21 60h1v1h-1zM25 60h5v1h-5zM81 60h1v1h-1zM20 61h5v1h-5zM27 61h2v1h-2zM81 61h1v1h-1zM21 62h4v1h-4zM27 62h2v1h-2zM81 62h2v1h-2zM29 63h1v1h-1zM29 64h1v1h-1zM31 64h1v1h-1zM31 65h2v1h-2zM79 65h2v1h-2zM33 66h1v1h-1zM78 66h1v1h-1zM33 67h1v1h-1zM77 67h1v1h-1zM33 68h1v1h-1zM74 68h1v1h-1zM33 69h3v1h-3zM73 69h1v1h-1zM75 69h1v1h-1zM33 70h4v1h-4zM68 70h2v1h-2zM71 70h1v1h-1zM36 71h1v1h-1zM43 71h1v1h-1zM36 72h1v1h-1zM40 72h1v1h-1zM42 72h2v1h-2zM66 72h1v1h-1zM37 73h3v1h-3zM42 73h1v1h-1zM65 73h2v1h-2zM40 74h4v1h-4zM65 74h1v1h-1zM36 75h2v1h-2zM40 75h1v1h-1zM64 75h2v1h-2zM35 76h3v1h-3zM39 76h2v1h-2zM42 76h1v1h-1zM64 76h1v1h-1zM35 77h1v1h-1zM40 77h1v1h-1zM44 77h1v1h-1zM63 77h1v1h-1zM39 78h1v1h-1zM45 78h1v1h-1zM33 79h2v1h-2zM45 79h2v1h-2zM64 79h1v1h-1zM32 80h1v1h-1zM37 80h1v1h-1zM40 80h1v1h-1zM45 80h2v1h-2zM34 81h1v1h-1zM37 81h2v1h-2zM45 81h2v1h-2zM64 81h1v1h-1zM37 82h4v1h-4zM43 82h1v1h-1zM46 82h1v1h-1zM37 83h1v1h-1zM39 83h1v1h-1zM43 83h4v1h-4zM64 83h1v1h-1zM30 84h3v1h-3zM34 84h3v1h-3zM38 84h1v1h-1zM40 84h1v1h-1zM43 84h3v1h-3zM47 84h3v1h-3zM56 84h3v1h-3zM64 84h1v1h-1zM31 85h1v1h-1zM33 85h1v1h-1zM35 85h1v1h-1zM39 85h1v1h-1zM44 85h1v1h-1zM46 85h1v1h-1zM48 85h2v1h-2zM53 85h1v1h-1zM55 85h1v1h-1zM57 85h1v1h-1zM59 85h2v1h-2zM62 85h2v1h-2zM30 86h1v1h-1zM33 86h1v1h-1zM35 86h1v1h-1zM41 86h1v1h-1zM45 86h2v1h-2zM48 86h3v1h-3zM53 86h1v1h-1zM59 86h4v1h-4zM34 87h5v1h-5zM49 87h3v1h-3zM30 88h6v1h-6zM38 88h1v1h-1zM42 88h2v1h-2zM31 89h1v1h-1zM33 89h4v1h-4zM38 89h1v1h-1zM41 89h2v1h-2zM37 90h2v1h-2zM43 90h1v1h-1zM38 91h1v1h-1zM41 91h2v1h-2zM39 92h1v1h-1zM41 93h1v1h-1zM40 94h2v1h-2zM40 95h1v1h-1z"/><path fill="#d02f05" d="M58 0h1v1h-1zM63 3h2v1h-2zM63 4h2v1h-2zM66 4h2v1h-2zM61 5h3v1h-3zM65 5h1v1h-1zM68 5h1v1h-1zM61 6h1v1h-1zM63 6h4v1h-4zM68 6h1v1h-1zM59 7h2v1h-2zM64 7h3v1h-3zM60 8h1v1h-1zM67 8h1v1h-1zM61 9h1v1h-1zM64 9h2v1h-2zM60 10h6v1h-6zM68 10h1v1h-1zM58 11h1v1h-1zM61 11h3v1h-3zM66 11h1v1h-1zM68 11h2v1h-2zM54 12h1v1h-1zM59 12h1v1h-1zM61 12h5v1h-5zM53 13h1v1h-1zM57 13h1v1h-1zM65 13h1v1h-1zM69 13h1v1h-1zM52 14h1v1h-1zM54 14h3v1h-3zM65 14h1v1h-1zM47 15h1v1h-1zM49 15h1v1h-1zM51 15h2v1h-2zM54 15h1v1h-1zM60 15h1v1h-1zM43 16h3v1h-3zM41 17h1v1h-1zM67 17h1v1h-1zM24 18h1v1h-1zM42 18h1v1h-1zM41 19h1v1h-1zM66 19h1v1h-1zM20 20h1v1h-1zM37 20h1v1h-1zM67 20h1v1h-1zM18 21h2v1h-2zM67 21h1v1h-1zM14 22h4v1h-4zM21 22h1v1h-1zM66 22h2v1h-2zM15 23h1v1h-1zM17 23h1v1h-1zM23 23h1v1h-1zM35 23h1v1h-1zM11 24h1v1h-1zM14 24h1v1h-1zM23 24h3v1h-3zM34 24h1v1h-1zM66 24h1v1h-1zM68 24h2v1h-2zM24 25h3v1h-3zM70 25h2v1h-2zM26 26h1v1h-1zM28 27h1v1h-1zM32 27h2v1h-2zM72 27h1v1h-1zM17 28h1v1h-1zM22 28h1v1h-1zM26 28h1v1h-1zM30 28h1v1h-1zM16 29h2v1h-2zM20 29h1v1h-1zM26 29h1v1h-1zM29 29h1v1h-1zM17 30h4v1h-4zM26 30h1v1h-1zM28 30h1v1h-1zM16 31h2v1h-2zM24 31h3v1h-3zM28 31h1v1h-1zM15 32h3v1h-3zM19 32h1v1h-1zM25 32h1v1h-1zM14 33h1v1h-1zM27 33h1v1h-1zM73 33h1v1h-1zM12 34h1v1h-1zM73 34h1v1h-1zM7 35h1v1h-1zM13 35h1v1h-1zM11 36h1v1h-1zM9 37h1v1h-1zM9 38h1v1h-1zM13 38h3v1h-3zM8 39h1v1h-1zM10 39h4v1h-4zM74 39h1v1h-1zM6 40h1v1h-1zM10 40h1v1h-1zM75 40h1v1h-1zM6 41h2v1h-2zM5 42h1v1h-1zM7 42h1v1h-1zM75 42h1v1h-1zM0 43h1v1h-1zM5 43h1v1h-1zM8 43h1v1h-1zM11 43h1v1h-1zM5 44h1v1h-1zM7 44h1v1h-1zM9 44h3v1h-3zM13 44h1v1h-1zM76 44h1v1h-1zM4 45h5v1h-5zM11 45h1v1h-1zM3 46h1v1h-1zM5 46h5v1h-5zM78 46h1v1h-1zM2 47h1v1h-1zM5 47h1v1h-1zM7 47h1v1h-1zM10 47h1v1h-1zM1 48h1v1h-1zM5 48h1v1h-1zM10 48h1v1h-1zM20 48h1v1h-1zM79 48h1v1h-1zM2 49h6v1h-6zM9 49h3v1h-3zM15 49h1v1h-1zM19 49h1v1h-1zM80 49h1v1h-1zM6 50h1v1h-1zM8 50h1v1h-1zM13 50h1v1h-1zM81 50h1v1h-1zM2 51h1v1h-1zM9 51h1v1h-1zM11 51h2v1h-2zM19 51h1v1h-1zM82 51h1v1h-1zM0 52h1v1h-1zM9 52h5v1h-5zM18 52h1v1h-1zM20 52h2v1h-2zM0 53h2v1h-2zM12 53h1v1h-1zM17 53h2v1h-2zM21 53h2v1h-2zM83 53h1v1h-1zM10 54h1v1h-1zM12 54h1v1h-1zM14 54h1v1h-1zM23 54h1v1h-1zM83 54h1v1h-1zM14 55h1v1h-1zM16 55h4v1h-4zM22 55h1v1h-1zM15 56h3v1h-3zM15 58h3v1h-3zM82 58h1v1h-1zM82 59h1v1h-1zM82 60h1v1h-1zM18 61h1v1h-1zM26 61h1v1h-1zM82 61h1v1h-1zM18 62h2v1h-2zM25 62h2v1h-2zM21 63h2v1h-2zM26 63h3v1h-3zM81 63h2v1h-2zM27 64h2v1h-2zM81 64h1v1h-1zM27 65h4v1h-4zM28 66h2v1h-2zM32 66h1v1h-1zM79 66h1v1h-1zM31 67h2v1h-2zM32 68h1v1h-1zM77 68h1v1h-1zM79 68h1v1h-1zM31 69h1v1h-1zM74 69h1v1h-1zM77 69h3v1h-3zM70 70h1v1h-1zM72 70h1v1h-1zM74 70h1v1h-1zM33 71h3v1h-3zM67 71h2v1h-2zM32 72h1v1h-1zM34 72h2v1h-2zM34 73h1v1h-1zM36 73h1v1h-1zM41 73h1v1h-1zM34 74h1v1h-1zM37 74h2v1h-2zM66 74h1v1h-1zM33 75h1v1h-1zM38 75h2v1h-2zM41 75h1v1h-1zM31 76h2v1h-2zM34 76h1v1h-1zM38 76h1v1h-1zM31 77h2v1h-2zM34 77h1v1h-1zM64 77h1v1h-1zM30 78h5v1h-5zM64 78h1v1h-1zM31 79h2v1h-2zM65 79h1v1h-1zM30 80h2v1h-2zM64 80h1v1h-1zM30 81h1v1h-1zM65 81h1v1h-1zM30 82h2v1h-2zM44 82h2v1h-2zM64 82h1v1h-1zM29 83h3v1h-3zM65 83h3v1h-3zM33 84h1v1h-1zM37 84h1v1h-1zM39 84h1v1h-1zM65 84h1v1h-1zM67 84h1v1h-1zM30 85h1v1h-1zM36 85h1v1h-1zM38 85h1v1h-1zM40 85h1v1h-1zM56 85h1v1h-1zM58 85h1v1h-1zM64 85h2v1h-2zM29 86h1v1h-1zM36 86h2v1h-2zM39 86h2v1h-2zM51 86h1v1h-1zM54 86h3v1h-3zM63 86h2v1h-2zM29 87h1v1h-1zM39 87h3v1h-3zM45 87h4v1h-4zM52 87h3v1h-3zM60 87h3v1h-3zM29 88h1v1h-1zM36 88h2v1h-2zM39 88h3v1h-3zM44 88h1v1h-1zM51 88h1v1h-1zM32 89h1v1h-1zM37 89h1v1h-1zM44 89h1v1h-1zM33 90h4v1h-4zM34 91h4v1h-4zM39 91h1v1h-1zM43 91h1v1h-1zM34 92h5v1h-5zM40 92h2v1h-2zM35 93h3v1h-3zM39 93h2v1h-2zM42 93h1v1h-1zM35 94h2v1h-2zM38 94h2v1h-2zM42 94h1v1h-1zM35 95h4v1h-4zM41 95h2v1h-2zM35 96h7v1h-7zM34 97h1v1h-1zM36 97h1v1h-1zM38 97h1v1h-1z"/><path fill="#e2430a" d="M60 0h3v1h-3zM64 0h2v1h-2zM68 0h2v1h-2zM71 0h1v1h-1zM60 1h1v1h-1zM63 1h1v1h-1zM65 1h1v1h-1zM67 1h1v1h-1zM71 1h1v1h-1zM58 2h1v1h-1zM60 2h1v1h-1zM62 2h1v1h-1zM64 2h3v1h-3zM58 3h4v1h-4zM66 3h2v1h-2zM26 4h1v1h-1zM57 4h2v1h-2zM68 4h1v1h-1zM70 4h2v1h-2zM59 5h2v1h-2zM71 5h2v1h-2zM26 6h1v1h-1zM57 6h1v1h-1zM70 6h1v1h-1zM56 7h1v1h-1zM70 7h1v1h-1zM56 8h1v1h-1zM58 8h1v1h-1zM69 8h2v1h-2zM54 9h1v1h-1zM56 9h1v1h-1zM58 9h2v1h-2zM70 9h1v1h-1zM24 10h1v1h-1zM54 10h3v1h-3zM58 10h1v1h-1zM54 11h4v1h-4zM70 11h1v1h-1zM56 12h2v1h-2zM70 12h1v1h-1zM48 13h1v1h-1zM70 13h1v1h-1zM25 14h1v1h-1zM50 14h2v1h-2zM70 14h1v1h-1zM42 15h2v1h-2zM70 15h1v1h-1zM70 16h1v1h-1zM25 17h1v1h-1zM39 18h2v1h-2zM68 18h1v1h-1zM23 19h2v1h-2zM39 19h1v1h-1zM18 20h1v1h-1zM24 20h1v1h-1zM36 20h1v1h-1zM69 20h1v1h-1zM14 21h1v1h-1zM16 21h1v1h-1zM22 21h1v1h-1zM24 21h2v1h-2zM22 22h1v1h-1zM24 22h3v1h-3zM29 22h1v1h-1zM35 22h1v1h-1zM69 22h1v1h-1zM71 22h1v1h-1zM10 23h1v1h-1zM24 23h3v1h-3zM28 23h3v1h-3zM34 23h1v1h-1zM70 23h2v1h-2zM13 24h1v1h-1zM26 24h2v1h-2zM33 24h1v1h-1zM72 24h1v1h-1zM9 25h2v1h-2zM12 25h1v1h-1zM15 25h1v1h-1zM28 25h1v1h-1zM32 25h1v1h-1zM72 25h1v1h-1zM9 26h5v1h-5zM16 26h1v1h-1zM28 26h5v1h-5zM10 27h3v1h-3zM14 27h1v1h-1zM9 28h1v1h-1zM13 28h3v1h-3zM73 28h1v1h-1zM8 29h3v1h-3zM12 29h3v1h-3zM9 30h2v1h-2zM12 30h3v1h-3zM9 31h2v1h-2zM12 31h1v1h-1zM11 32h2v1h-2zM14 32h1v1h-1zM27 32h1v1h-1zM6 33h4v1h-4zM11 33h3v1h-3zM74 33h1v1h-1zM6 34h1v1h-1zM10 34h2v1h-2zM6 35h1v1h-1zM8 35h1v1h-1zM74 35h1v1h-1zM0 36h1v1h-1zM10 36h1v1h-1zM12 36h1v1h-1zM0 37h2v1h-2zM4 37h2v1h-2zM12 37h2v1h-2zM0 38h1v1h-1zM2 38h1v1h-1zM5 38h2v1h-2zM8 38h1v1h-1zM76 38h1v1h-1zM1 39h1v1h-1zM5 39h1v1h-1zM76 39h1v1h-1zM1 40h1v1h-1zM5 40h1v1h-1zM1 41h1v1h-1zM4 41h1v1h-1zM2 42h3v1h-3zM76 42h1v1h-1zM1 43h1v1h-1zM77 43h1v1h-1zM0 44h2v1h-2zM3 44h2v1h-2zM78 45h1v1h-1zM79 46h1v1h-1zM79 47h1v1h-1zM80 48h1v1h-1zM5 50h1v1h-1zM5 51h2v1h-2zM14 51h1v1h-1zM83 51h1v1h-1zM4 52h2v1h-2zM7 52h1v1h-1zM4 53h2v1h-2zM8 53h1v1h-1zM15 53h1v1h-1zM19 53h1v1h-1zM5 54h1v1h-1zM8 54h1v1h-1zM16 54h1v1h-1zM1 55h3v1h-3zM7 55h2v1h-2zM0 56h4v1h-4zM5 56h1v1h-1zM7 56h1v1h-1zM10 56h1v1h-1zM83 56h1v1h-1zM3 57h1v1h-1zM5 57h1v1h-1zM7 57h1v1h-1zM12 57h2v1h-2zM83 57h1v1h-1zM4 58h1v1h-1zM12 58h1v1h-1zM83 58h1v1h-1zM5 59h1v1h-1zM13 59h1v1h-1zM16 59h1v1h-1zM14 60h1v1h-1zM16 60h2v1h-2zM84 60h1v1h-1zM14 61h2v1h-2zM83 61h1v1h-1zM16 62h1v1h-1zM83 62h1v1h-1zM16 63h3v1h-3zM83 63h1v1h-1zM19 64h3v1h-3zM23 64h4v1h-4zM82 64h2v1h-2zM21 65h1v1h-1zM24 65h2v1h-2zM81 65h2v1h-2zM23 66h2v1h-2zM81 66h2v1h-2zM23 67h3v1h-3zM28 67h1v1h-1zM25 68h2v1h-2zM28 68h1v1h-1zM81 68h1v1h-1zM27 69h3v1h-3zM80 69h1v1h-1zM29 70h2v1h-2zM32 70h1v1h-1zM79 70h1v1h-1zM27 71h1v1h-1zM29 71h2v1h-2zM70 71h4v1h-4zM75 71h3v1h-3zM79 71h1v1h-1zM22 72h1v1h-1zM27 72h1v1h-1zM30 72h2v1h-2zM68 72h2v1h-2zM78 72h1v1h-1zM22 73h1v1h-1zM26 73h7v1h-7zM27 74h5v1h-5zM29 75h2v1h-2zM67 75h1v1h-1zM27 77h2v1h-2zM65 77h2v1h-2zM28 79h1v1h-1zM29 80h1v1h-1zM67 80h1v1h-1zM67 81h1v1h-1zM24 82h1v1h-1zM28 82h1v1h-1zM65 82h1v1h-1zM68 82h2v1h-2zM28 84h1v1h-1zM68 84h1v1h-1zM28 85h1v1h-1zM68 85h1v1h-1zM67 86h2v1h-2zM28 87h1v1h-1zM63 87h1v1h-1zM65 87h3v1h-3zM28 88h1v1h-1zM46 88h1v1h-1zM48 88h2v1h-2zM52 88h1v1h-1zM55 88h1v1h-1zM59 88h3v1h-3zM63 88h1v1h-1zM65 88h3v1h-3zM28 89h2v1h-2zM45 89h2v1h-2zM51 89h1v1h-1zM66 89h1v1h-1zM28 90h3v1h-3zM66 90h1v1h-1zM29 91h2v1h-2zM44 91h1v1h-1zM67 91h1v1h-1zM31 92h1v1h-1zM33 92h1v1h-1zM68 92h1v1h-1zM29 93h2v1h-2zM34 93h1v1h-1zM69 93h1v1h-1zM30 94h1v1h-1zM34 94h1v1h-1zM43 94h1v1h-1zM27 95h4v1h-4zM32 95h2v1h-2zM31 96h1v1h-1zM42 96h2v1h-2zM33 97h1v1h-1zM39 97h1v1h-1zM41 97h2v1h-2zM39 98h1v1h-1zM36 99h1v1h-1zM40 99h1v1h-1z"/><path fill="#f05b12" d="M72 0h1v1h-1zM55 1h1v1h-1zM69 1h1v1h-1zM72 1h1v1h-1zM31 2h3v1h-3zM55 2h1v1h-1zM69 2h1v1h-1zM69 3h1v1h-1zM56 4h1v1h-1zM56 5h1v1h-1zM72 7h1v1h-1zM52 8h2v1h-2zM72 8h1v1h-1zM53 9h1v1h-1zM71 9h2v1h-2zM51 10h1v1h-1zM23 11h1v1h-1zM51 11h1v1h-1zM48 12h3v1h-3zM71 12h1v1h-1zM24 13h1v1h-1zM45 13h3v1h-3zM50 13h1v1h-1zM43 14h2v1h-2zM38 15h1v1h-1zM40 15h2v1h-2zM71 15h1v1h-1zM37 16h3v1h-3zM71 16h1v1h-1zM36 17h4v1h-4zM71 17h1v1h-1zM26 18h2v1h-2zM36 18h2v1h-2zM69 18h2v1h-2zM99 18h1v1h-1zM18 19h4v1h-4zM25 19h1v1h-1zM36 19h1v1h-1zM71 19h2v1h-2zM98 19h2v1h-2zM14 20h2v1h-2zM26 20h2v1h-2zM30 20h1v1h-1zM70 20h4v1h-4zM11 21h1v1h-1zM28 21h1v1h-1zM30 21h2v1h-2zM34 21h1v1h-1zM97 21h1v1h-1zM99 21h1v1h-1zM9 22h2v1h-2zM32 22h2v1h-2zM97 22h1v1h-1zM31 23h2v1h-2zM30 24h1v1h-1zM73 24h1v1h-1zM29 25h2v1h-2zM6 27h1v1h-1zM6 28h1v1h-1zM6 29h1v1h-1zM6 30h2v1h-2zM7 31h2v1h-2zM74 31h1v1h-1zM5 32h1v1h-1zM7 32h2v1h-2zM5 33h1v1h-1zM75 34h1v1h-1zM0 35h2v1h-2zM5 35h1v1h-1zM2 36h3v1h-3zM75 36h1v1h-1zM3 37h1v1h-1zM75 37h1v1h-1zM3 38h2v1h-2zM3 39h1v1h-1zM77 39h1v1h-1zM80 47h1v1h-1zM81 48h1v1h-1zM83 50h1v1h-1zM84 55h1v1h-1zM84 56h1v1h-1zM8 57h1v1h-1zM84 57h1v1h-1zM0 58h1v1h-1zM9 58h3v1h-3zM85 58h1v1h-1zM0 59h1v1h-1zM2 59h1v1h-1zM6 59h1v1h-1zM85 59h1v1h-1zM0 60h3v1h-3zM5 60h2v1h-2zM85 60h1v1h-1zM2 61h2v1h-2zM12 61h1v1h-1zM12 62h1v1h-1zM0 63h1v1h-1zM13 63h1v1h-1zM15 63h1v1h-1zM9 64h1v1h-1zM11 64h1v1h-1zM13 64h3v1h-3zM11 65h1v1h-1zM13 65h4v1h-4zM83 65h2v1h-2zM12 66h2v1h-2zM15 66h3v1h-3zM19 66h3v1h-3zM83 66h2v1h-2zM22 67h1v1h-1zM82 67h3v1h-3zM23 68h1v1h-1zM83 68h2v1h-2zM14 69h1v1h-1zM24 69h1v1h-1zM26 69h1v1h-1zM82 69h1v1h-1zM16 70h1v1h-1zM24 70h2v1h-2zM17 71h1v1h-1zM19 71h1v1h-1zM21 71h4v1h-4zM16 72h4v1h-4zM26 72h1v1h-1zM71 72h1v1h-1zM75 72h1v1h-1zM79 72h2v1h-2zM16 73h5v1h-5zM24 73h2v1h-2zM76 73h1v1h-1zM78 73h1v1h-1zM18 74h2v1h-2zM22 74h1v1h-1zM24 74h3v1h-3zM69 74h1v1h-1zM76 74h5v1h-5zM16 75h3v1h-3zM21 75h1v1h-1zM70 75h1v1h-1zM78 75h1v1h-1zM26 76h2v1h-2zM70 76h1v1h-1zM67 77h1v1h-1zM69 77h2v1h-2zM25 78h3v1h-3zM68 78h2v1h-2zM25 79h1v1h-1zM27 79h1v1h-1zM69 79h1v1h-1zM24 80h2v1h-2zM27 80h1v1h-1zM69 80h1v1h-1zM23 81h1v1h-1zM27 81h1v1h-1zM70 81h1v1h-1zM23 82h1v1h-1zM25 82h1v1h-1zM27 82h1v1h-1zM70 82h1v1h-1zM22 83h1v1h-1zM26 83h1v1h-1zM26 84h1v1h-1zM70 84h1v1h-1zM22 85h4v1h-4zM70 85h1v1h-1zM23 86h2v1h-2zM26 86h1v1h-1zM71 86h1v1h-1zM25 87h1v1h-1zM27 87h1v1h-1zM69 87h3v1h-3zM56 88h1v1h-1zM70 88h2v1h-2zM27 89h1v1h-1zM48 89h2v1h-2zM55 89h1v1h-1zM60 89h1v1h-1zM62 89h1v1h-1zM65 89h1v1h-1zM69 89h1v1h-1zM71 89h1v1h-1zM27 90h1v1h-1zM46 90h1v1h-1zM64 90h1v1h-1zM69 90h2v1h-2zM27 91h1v1h-1zM68 91h1v1h-1zM25 92h1v1h-1zM27 92h2v1h-2zM32 92h1v1h-1zM65 92h2v1h-2zM71 92h1v1h-1zM26 93h2v1h-2zM32 93h2v1h-2zM66 93h2v1h-2zM66 94h1v1h-1zM70 94h1v1h-1zM26 95h1v1h-1zM70 95h1v1h-1zM44 96h1v1h-1zM68 96h3v1h-3zM28 97h1v1h-1zM69 97h1v1h-1zM28 98h1v1h-1zM32 98h1v1h-1zM43 98h1v1h-1zM29 99h1v1h-1zM34 99h1v1h-1zM67 99h1v1h-1z"/><path fill="#f56918" d="M73 0h1v1h-1zM73 1h1v1h-1zM30 2h1v1h-1zM73 2h1v1h-1zM33 3h1v1h-1zM73 3h1v1h-1zM15 4h1v1h-1zM73 5h1v1h-1zM55 6h1v1h-1zM52 7h1v1h-1zM54 7h1v1h-1zM51 8h1v1h-1zM51 9h2v1h-2zM50 10h1v1h-1zM49 11h2v1h-2zM71 11h1v1h-1zM46 12h2v1h-2zM40 14h1v1h-1zM42 14h1v1h-1zM72 14h1v1h-1zM37 15h1v1h-1zM39 15h1v1h-1zM72 17h1v1h-1zM99 17h1v1h-1zM19 18h2v1h-2zM23 18h1v1h-1zM35 18h1v1h-1zM71 18h1v1h-1zM98 18h1v1h-1zM17 19h1v1h-1zM35 19h1v1h-1zM70 19h1v1h-1zM9 20h1v1h-1zM11 20h1v1h-1zM13 20h1v1h-1zM29 20h1v1h-1zM31 20h2v1h-2zM34 20h2v1h-2zM97 20h1v1h-1zM9 21h2v1h-2zM32 21h2v1h-2zM73 21h1v1h-1zM98 21h1v1h-1zM8 22h1v1h-1zM73 22h1v1h-1zM99 22h1v1h-1zM7 23h2v1h-2zM73 23h1v1h-1zM98 23h2v1h-2zM6 26h1v1h-1zM5 27h1v1h-1zM5 28h1v1h-1zM6 31h1v1h-1zM75 32h1v1h-1zM1 34h1v1h-1zM4 34h1v1h-1zM76 34h1v1h-1zM2 35h1v1h-1zM4 35h1v1h-1zM75 35h2v1h-2zM76 37h1v1h-1zM78 39h1v1h-1zM78 40h1v1h-1zM78 41h1v1h-1zM78 42h1v1h-1zM78 43h1v1h-1zM79 44h1v1h-1zM79 45h1v1h-1zM80 46h1v1h-1zM81 47h1v1h-1zM82 49h1v1h-1zM84 51h1v1h-1zM8 58h1v1h-1zM87 58h1v1h-1zM7 59h5v1h-5zM86 59h2v1h-2zM11 60h1v1h-1zM86 60h1v1h-1zM0 61h1v1h-1zM4 61h1v1h-1zM85 61h1v1h-1zM0 62h5v1h-5zM85 62h1v1h-1zM2 63h1v1h-1zM10 63h1v1h-1zM14 63h1v1h-1zM85 63h1v1h-1zM0 64h2v1h-2zM12 64h1v1h-1zM0 65h1v1h-1zM10 65h1v1h-1zM8 66h1v1h-1zM11 66h1v1h-1zM14 66h1v1h-1zM18 66h1v1h-1zM9 67h1v1h-1zM11 67h6v1h-6zM9 68h3v1h-3zM13 68h4v1h-4zM85 68h1v1h-1zM7 69h1v1h-1zM13 69h1v1h-1zM15 69h4v1h-4zM83 69h1v1h-1zM85 69h1v1h-1zM10 70h1v1h-1zM12 70h4v1h-4zM17 70h1v1h-1zM19 70h3v1h-3zM23 70h1v1h-1zM26 70h1v1h-1zM81 70h3v1h-3zM6 71h1v1h-1zM8 71h1v1h-1zM14 71h3v1h-3zM25 71h1v1h-1zM81 71h1v1h-1zM0 72h1v1h-1zM81 72h1v1h-1zM70 73h1v1h-1zM72 73h1v1h-1zM79 73h2v1h-2zM16 74h1v1h-1zM20 74h2v1h-2zM70 74h2v1h-2zM75 74h1v1h-1zM14 75h2v1h-2zM19 75h2v1h-2zM22 75h4v1h-4zM76 75h2v1h-2zM79 75h3v1h-3zM15 76h1v1h-1zM17 76h2v1h-2zM22 76h1v1h-1zM25 76h1v1h-1zM72 76h1v1h-1zM78 76h1v1h-1zM16 77h1v1h-1zM26 77h1v1h-1zM24 78h1v1h-1zM70 78h1v1h-1zM24 79h1v1h-1zM26 79h1v1h-1zM70 79h1v1h-1zM23 80h1v1h-1zM26 80h1v1h-1zM70 80h1v1h-1zM26 81h1v1h-1zM70 83h1v1h-1zM22 84h1v1h-1zM71 85h2v1h-2zM25 86h1v1h-1zM72 86h2v1h-2zM23 87h2v1h-2zM26 87h1v1h-1zM72 87h3v1h-3zM24 88h3v1h-3zM72 88h3v1h-3zM26 89h1v1h-1zM56 89h4v1h-4zM70 89h1v1h-1zM72 89h3v1h-3zM26 90h1v1h-1zM47 90h2v1h-2zM62 90h2v1h-2zM72 90h1v1h-1zM26 91h1v1h-1zM46 91h1v1h-1zM64 91h1v1h-1zM70 91h2v1h-2zM45 92h1v1h-1zM64 92h1v1h-1zM70 92h1v1h-1zM72 92h1v1h-1zM25 93h1v1h-1zM45 93h1v1h-1zM65 93h1v1h-1zM71 93h1v1h-1zM25 94h1v1h-1zM65 94h1v1h-1zM71 94h1v1h-1zM22 95h1v1h-1zM25 95h1v1h-1zM45 95h1v1h-1zM66 95h1v1h-1zM22 96h1v1h-1zM24 96h2v1h-2zM27 96h1v1h-1zM66 96h2v1h-2zM27 97h1v1h-1zM44 97h1v1h-1zM67 97h2v1h-2zM27 98h1v1h-1zM68 98h4v1h-4zM26 99h3v1h-3zM68 99h5v1h-5z"/><path fill="#fc8423" d="M74 0h1v1h-1zM54 1h1v1h-1zM74 1h1v1h-1zM28 2h2v1h-2zM54 2h1v1h-1zM74 2h1v1h-1zM29 3h2v1h-2zM34 3h1v1h-1zM54 4h1v1h-1zM74 4h1v1h-1zM52 5h1v1h-1zM54 5h1v1h-1zM74 5h1v1h-1zM51 6h2v1h-2zM51 7h1v1h-1zM73 9h1v1h-1zM46 10h1v1h-1zM48 10h2v1h-2zM45 11h3v1h-3zM44 12h1v1h-1zM72 12h1v1h-1zM39 13h1v1h-1zM41 13h2v1h-2zM72 13h1v1h-1zM37 14h1v1h-1zM39 14h1v1h-1zM36 15h1v1h-1zM72 15h1v1h-1zM24 16h1v1h-1zM27 16h2v1h-2zM99 16h1v1h-1zM20 17h2v1h-2zM28 17h1v1h-1zM33 17h2v1h-2zM98 17h1v1h-1zM17 18h1v1h-1zM28 18h3v1h-3zM33 18h1v1h-1zM97 18h1v1h-1zM10 19h1v1h-1zM12 19h3v1h-3zM32 19h2v1h-2zM95 19h2v1h-2zM7 20h1v1h-1zM74 22h1v1h-1zM5 23h2v1h-2zM74 23h1v1h-1zM96 23h1v1h-1zM4 24h3v1h-3zM74 24h1v1h-1zM97 24h3v1h-3zM4 27h1v1h-1zM4 29h1v1h-1zM4 30h1v1h-1zM75 31h1v1h-1zM4 32h1v1h-1zM76 32h2v1h-2zM3 33h1v1h-1zM77 34h1v1h-1zM3 35h1v1h-1zM77 35h1v1h-1zM78 36h1v1h-1zM78 37h1v1h-1zM78 38h1v1h-1zM79 39h1v1h-1zM79 41h1v1h-1zM79 42h1v1h-1zM79 43h1v1h-1zM81 46h1v1h-1zM82 48h1v1h-1zM84 50h1v1h-1zM86 57h3v1h-3zM88 58h1v1h-1zM7 60h3v1h-3zM5 61h3v1h-3zM11 61h1v1h-1zM86 61h2v1h-2zM5 62h1v1h-1zM5 63h1v1h-1zM9 63h1v1h-1zM86 63h1v1h-1zM3 64h1v1h-1zM5 64h1v1h-1zM86 64h1v1h-1zM4 65h2v1h-2zM7 65h1v1h-1zM0 66h2v1h-2zM3 66h3v1h-3zM1 67h1v1h-1zM4 67h2v1h-2zM5 68h1v1h-1zM19 68h1v1h-1zM86 68h1v1h-1zM6 69h1v1h-1zM10 69h1v1h-1zM20 69h3v1h-3zM0 70h1v1h-1zM6 70h1v1h-1zM85 70h1v1h-1zM1 71h1v1h-1zM4 71h1v1h-1zM83 71h2v1h-2zM2 72h4v1h-4zM9 72h1v1h-1zM14 72h1v1h-1zM4 73h1v1h-1zM7 73h7v1h-7zM82 73h1v1h-1zM2 74h3v1h-3zM6 74h2v1h-2zM12 74h1v1h-1zM15 74h1v1h-1zM73 74h1v1h-1zM82 74h1v1h-1zM0 75h1v1h-1zM3 75h2v1h-2zM6 75h1v1h-1zM11 75h2v1h-2zM72 75h1v1h-1zM75 75h1v1h-1zM4 76h1v1h-1zM6 76h1v1h-1zM10 76h2v1h-2zM73 76h2v1h-2zM80 76h1v1h-1zM5 77h3v1h-3zM9 77h3v1h-3zM15 77h1v1h-1zM20 77h4v1h-4zM75 77h1v1h-1zM77 77h4v1h-4zM6 78h1v1h-1zM8 78h1v1h-1zM10 78h1v1h-1zM14 78h5v1h-5zM22 78h1v1h-1zM73 78h2v1h-2zM82 78h1v1h-1zM0 79h1v1h-1zM5 79h6v1h-6zM16 79h2v1h-2zM20 79h1v1h-1zM22 79h1v1h-1zM72 79h3v1h-3zM8 80h1v1h-1zM12 80h1v1h-1zM16 80h1v1h-1zM18 80h1v1h-1zM21 80h2v1h-2zM7 81h2v1h-2zM21 81h1v1h-1zM71 81h1v1h-1zM74 81h1v1h-1zM73 82h1v1h-1zM21 83h1v1h-1zM72 83h2v1h-2zM75 83h1v1h-1zM21 84h1v1h-1zM72 84h7v1h-7zM74 85h1v1h-1zM76 85h1v1h-1zM78 85h1v1h-1zM81 85h1v1h-1zM21 86h1v1h-1zM78 86h4v1h-4zM22 87h1v1h-1zM79 87h1v1h-1zM23 88h1v1h-1zM76 88h3v1h-3zM81 88h1v1h-1zM23 89h1v1h-1zM24 90h2v1h-2zM49 90h1v1h-1zM57 90h1v1h-1zM74 90h1v1h-1zM76 90h1v1h-1zM25 91h1v1h-1zM62 91h1v1h-1zM72 91h1v1h-1zM74 91h1v1h-1zM76 91h1v1h-1zM22 92h2v1h-2zM59 92h1v1h-1zM63 92h1v1h-1zM73 92h2v1h-2zM22 93h1v1h-1zM46 93h1v1h-1zM63 93h2v1h-2zM73 93h2v1h-2zM20 94h1v1h-1zM22 94h1v1h-1zM46 94h1v1h-1zM64 94h1v1h-1zM72 94h1v1h-1zM20 95h1v1h-1zM72 95h1v1h-1zM20 96h2v1h-2zM65 96h1v1h-1zM72 96h1v1h-1zM19 97h3v1h-3zM25 97h1v1h-1zM45 97h1v1h-1zM72 97h1v1h-1zM17 98h1v1h-1zM20 98h1v1h-1zM22 98h1v1h-1zM26 98h1v1h-1zM73 98h1v1h-1zM17 99h1v1h-1zM19 99h3v1h-3zM23 99h1v1h-1zM25 99h1v1h-1zM44 99h1v1h-1zM65 99h2v1h-2z"/><path fill="#d2e935" d="M79 0h2v1h-2zM79 1h1v1h-1zM90 1h1v1h-1zM79 2h1v1h-1zM18 4h2v1h-2zM44 4h3v1h-3zM78 4h1v1h-1zM90 4h2v1h-2zM20 5h1v1h-1zM45 5h1v1h-1zM78 5h1v1h-1zM90 5h2v1h-2zM20 6h2v1h-2zM92 6h1v1h-1zM20 7h1v1h-1zM79 7h2v1h-2zM91 7h1v1h-1zM79 8h1v1h-1zM78 9h1v1h-1zM19 10h2v1h-2zM11 11h1v1h-1zM19 11h1v1h-1zM92 11h1v1h-1zM8 12h5v1h-5zM14 12h1v1h-1zM18 12h1v1h-1zM92 12h1v1h-1zM0 13h1v1h-1zM6 13h1v1h-1zM8 13h1v1h-1zM10 13h1v1h-1zM12 13h4v1h-4zM17 13h1v1h-1zM1 14h1v1h-1zM5 14h1v1h-1zM91 14h1v1h-1zM3 15h2v1h-2zM77 15h1v1h-1zM90 15h2v1h-2zM90 16h1v1h-1zM90 17h1v1h-1zM89 18h1v1h-1zM77 20h1v1h-1zM88 20h1v1h-1zM77 21h1v1h-1zM87 22h2v1h-2zM87 23h1v1h-1zM79 24h2v1h-2zM79 25h1v1h-1zM81 25h3v1h-3zM85 39h3v1h-3zM90 39h1v1h-1zM85 40h1v1h-1zM87 40h1v1h-1zM89 40h4v1h-4zM89 41h1v1h-1zM83 43h2v1h-2zM93 43h1v1h-1zM85 44h1v1h-1zM87 45h1v1h-1zM90 46h1v1h-1zM90 47h1v1h-1zM95 59h1v1h-1zM95 60h2v1h-2zM94 61h2v1h-2zM98 61h2v1h-2zM94 62h1v1h-1zM96 62h1v1h-1zM93 63h2v1h-2zM96 63h1v1h-1zM92 64h1v1h-1zM92 65h1v1h-1zM94 65h2v1h-2zM91 66h2v1h-2zM91 67h1v1h-1zM91 70h1v1h-1zM92 71h1v1h-1zM92 72h1v1h-1zM91 74h1v1h-1zM87 77h2v1h-2zM86 79h1v1h-1zM86 80h1v1h-1zM86 81h1v1h-1zM89 84h2v1h-2zM90 85h1v1h-1zM90 86h1v1h-1zM90 88h1v1h-1zM89 89h1v1h-1zM91 89h3v1h-3zM89 90h6v1h-6zM90 91h1v1h-1zM92 91h1v1h-1zM89 92h1v1h-1zM91 92h1v1h-1zM88 93h2v1h-2zM87 94h1v1h-1zM86 95h1v1h-1zM56 97h1v1h-1zM57 98h1v1h-1zM83 98h1v1h-1zM57 99h1v1h-1z"/><path fill="#acfb38" d="M81 0h1v1h-1zM84 0h1v1h-1zM87 0h1v1h-1zM81 2h1v1h-1zM12 3h1v1h-1zM80 3h4v1h-4zM13 4h1v1h-1zM81 4h2v1h-2zM84 4h1v1h-1zM87 4h2v1h-2zM82 5h2v1h-2zM88 5h1v1h-1zM12 6h1v1h-1zM14 6h1v1h-1zM17 6h2v1h-2zM81 6h2v1h-2zM89 6h1v1h-1zM2 7h2v1h-2zM11 7h4v1h-4zM18 7h1v1h-1zM2 8h3v1h-3zM11 8h2v1h-2zM15 8h1v1h-1zM17 8h1v1h-1zM81 8h1v1h-1zM2 9h2v1h-2zM5 9h6v1h-6zM15 9h4v1h-4zM3 10h1v1h-1zM15 10h3v1h-3zM78 10h1v1h-1zM1 11h3v1h-3zM5 11h1v1h-1zM15 11h4v1h-4zM1 12h4v1h-4zM16 12h1v1h-1zM3 13h2v1h-2zM88 14h2v1h-2zM78 15h1v1h-1zM88 15h1v1h-1zM78 16h1v1h-1zM88 16h1v1h-1zM78 17h1v1h-1zM88 18h1v1h-1zM79 19h1v1h-1zM87 19h1v1h-1zM78 20h2v1h-2zM86 20h1v1h-1zM80 21h2v1h-2zM86 21h1v1h-1zM82 22h1v1h-1zM84 22h2v1h-2zM82 23h2v1h-2zM87 43h1v1h-1zM92 43h1v1h-1zM88 44h1v1h-1zM97 66h1v1h-1zM92 67h1v1h-1zM96 67h1v1h-1zM98 67h1v1h-1zM95 68h4v1h-4zM94 69h3v1h-3zM98 69h1v1h-1zM93 70h1v1h-1zM95 70h4v1h-4zM94 71h2v1h-2zM99 72h1v1h-1zM94 73h1v1h-1zM94 74h1v1h-1zM99 75h1v1h-1zM93 77h1v1h-1zM95 77h1v1h-1zM93 78h1v1h-1zM90 79h2v1h-2zM98 79h1v1h-1zM90 80h2v1h-2zM96 80h1v1h-1zM91 81h1v1h-1zM92 83h2v1h-2zM92 85h2v1h-2zM98 85h1v1h-1zM93 86h5v1h-5zM95 87h1v1h-1zM97 87h1v1h-1zM96 89h1v1h-1zM97 90h1v1h-1zM96 91h1v1h-1zM98 91h1v1h-1zM96 93h2v1h-2zM92 94h2v1h-2zM98 94h2v1h-2zM92 95h1v1h-1zM94 95h1v1h-1zM97 95h2v1h-2zM96 96h1v1h-1zM98 96h1v1h-1zM86 97h2v1h-2zM90 97h1v1h-1zM96 97h3v1h-3zM87 98h2v1h-2zM91 98h1v1h-1zM94 98h5v1h-5zM86 99h3v1h-3zM95 99h3v1h-3zM99 99h1v1h-1z"/><path fill="#9ffd3f" d="M82 0h2v1h-2zM85 0h1v1h-1zM82 1h2v1h-2zM85 1h1v1h-1zM87 1h1v1h-1zM82 2h2v1h-2zM85 2h2v1h-2zM11 3h1v1h-1zM86 3h1v1h-1zM88 3h1v1h-1zM11 4h2v1h-2zM83 4h1v1h-1zM85 4h1v1h-1zM12 5h3v1h-3zM84 5h2v1h-2zM4 6h1v1h-1zM11 6h1v1h-1zM13 6h1v1h-1zM83 6h2v1h-2zM88 6h1v1h-1zM4 7h1v1h-1zM15 7h3v1h-3zM82 7h2v1h-2zM6 8h1v1h-1zM8 8h1v1h-1zM10 8h1v1h-1zM16 8h1v1h-1zM82 8h1v1h-1zM89 8h1v1h-1zM80 9h2v1h-2zM1 10h2v1h-2zM79 10h1v1h-1zM0 11h1v1h-1zM78 11h1v1h-1zM87 11h1v1h-1zM78 12h1v1h-1zM78 13h1v1h-1zM79 16h1v1h-1zM78 18h3v1h-3zM87 18h1v1h-1zM80 19h1v1h-1zM86 19h1v1h-1zM80 20h2v1h-2zM84 20h1v1h-1zM82 21h4v1h-4zM83 22h1v1h-1zM97 67h1v1h-1zM98 71h1v1h-1zM94 72h2v1h-2zM98 72h1v1h-1zM95 73h1v1h-1zM97 73h3v1h-3zM95 74h5v1h-5zM95 75h2v1h-2zM98 75h1v1h-1zM95 76h1v1h-1zM99 76h1v1h-1zM94 77h1v1h-1zM99 77h1v1h-1zM94 78h1v1h-1zM96 78h3v1h-3zM92 79h3v1h-3zM96 79h2v1h-2zM99 79h1v1h-1zM92 80h1v1h-1zM97 80h3v1h-3zM97 81h1v1h-1zM92 82h2v1h-2zM94 83h1v1h-1zM94 84h1v1h-1zM94 85h1v1h-1zM97 85h1v1h-1zM99 85h1v1h-1zM93 95h1v1h-1zM99 95h1v1h-1zM92 96h4v1h-4zM97 96h1v1h-1zM99 96h1v1h-1zM91 97h5v1h-5zM99 97h1v1h-1zM89 98h1v1h-1zM92 98h2v1h-2zM99 98h1v1h-1zM89 99h4v1h-4zM94 99h1v1h-1zM98 99h1v1h-1z"/><path fill="#8fff49" d="M86 0h1v1h-1zM84 1h1v1h-1zM86 1h1v1h-1zM10 2h1v1h-1zM84 2h1v1h-1zM87 2h1v1h-1zM84 3h2v1h-2zM87 3h1v1h-1zM86 4h1v1h-1zM11 5h1v1h-1zM86 5h2v1h-2zM10 6h1v1h-1zM85 6h2v1h-2zM5 7h1v1h-1zM10 7h1v1h-1zM88 7h1v1h-1zM5 8h1v1h-1zM7 8h1v1h-1zM9 8h1v1h-1zM83 8h1v1h-1zM88 8h1v1h-1zM1 9h1v1h-1zM82 9h1v1h-1zM80 10h1v1h-1zM85 10h2v1h-2zM79 11h1v1h-1zM86 11h1v1h-1zM79 12h1v1h-1zM79 13h1v1h-1zM79 14h1v1h-1zM79 15h1v1h-1zM79 17h1v1h-1zM86 18h1v1h-1zM84 19h1v1h-1zM82 20h1v1h-1zM85 20h1v1h-1zM97 69h1v1h-1zM96 71h2v1h-2zM96 72h2v1h-2zM96 73h1v1h-1zM97 75h1v1h-1zM96 76h3v1h-3zM96 77h3v1h-3zM95 78h1v1h-1zM95 79h1v1h-1zM93 80h1v1h-1zM95 80h1v1h-1zM92 81h5v1h-5zM99 81h1v1h-1zM95 82h3v1h-3zM95 83h1v1h-1zM97 83h1v1h-1zM95 84h5v1h-5zM95 85h2v1h-2zM93 99h1v1h-1z"/><path fill="#c6f034" d="M90 0h1v1h-1zM89 1h1v1h-1zM80 2h1v1h-1zM89 2h1v1h-1zM79 3h1v1h-1zM90 3h1v1h-1zM79 4h1v1h-1zM18 5h2v1h-2zM79 5h1v1h-1zM89 5h1v1h-1zM19 6h1v1h-1zM79 6h2v1h-2zM91 6h1v1h-1zM19 7h1v1h-1zM13 8h1v1h-1zM19 8h1v1h-1zM80 8h1v1h-1zM91 8h1v1h-1zM4 9h1v1h-1zM12 9h1v1h-1zM19 9h1v1h-1zM11 10h2v1h-2zM8 11h3v1h-3zM13 11h1v1h-1zM77 11h1v1h-1zM0 12h1v1h-1zM6 12h2v1h-2zM17 12h1v1h-1zM77 12h1v1h-1zM91 12h1v1h-1zM5 13h1v1h-1zM16 13h1v1h-1zM91 13h1v1h-1zM2 14h1v1h-1zM4 14h1v1h-1zM77 14h1v1h-1zM2 15h1v1h-1zM77 16h1v1h-1zM89 17h1v1h-1zM88 19h1v1h-1zM87 21h1v1h-1zM80 22h1v1h-1zM86 22h1v1h-1zM77 23h1v1h-1zM80 23h2v1h-2zM84 23h1v1h-1zM86 23h1v1h-1zM81 24h1v1h-1zM84 24h1v1h-1zM86 40h1v1h-1zM85 41h4v1h-4zM90 41h1v1h-1zM92 41h2v1h-2zM84 42h2v1h-2zM88 42h2v1h-2zM92 42h2v1h-2zM85 43h1v1h-1zM86 44h1v1h-1zM92 44h2v1h-2zM90 45h3v1h-3zM88 46h2v1h-2zM97 60h1v1h-1zM96 61h2v1h-2zM97 62h2v1h-2zM95 63h1v1h-1zM97 63h3v1h-3zM94 64h4v1h-4zM93 65h1v1h-1zM97 65h1v1h-1zM93 66h3v1h-3zM95 67h1v1h-1zM91 68h1v1h-1zM91 69h1v1h-1zM93 71h1v1h-1zM92 73h2v1h-2zM92 74h1v1h-1zM90 75h2v1h-2zM93 75h1v1h-1zM90 76h2v1h-2zM89 77h3v1h-3zM87 78h1v1h-1zM89 78h1v1h-1zM92 78h1v1h-1zM87 79h3v1h-3zM87 80h1v1h-1zM87 81h1v1h-1zM87 82h1v1h-1zM89 82h1v1h-1zM89 83h3v1h-3zM91 84h2v1h-2zM91 85h1v1h-1zM91 86h1v1h-1zM90 87h2v1h-2zM91 88h3v1h-3zM99 88h1v1h-1zM90 89h1v1h-1zM94 89h1v1h-1zM99 89h1v1h-1zM95 90h1v1h-1zM91 91h1v1h-1zM90 92h1v1h-1zM92 92h3v1h-3zM97 92h1v1h-1zM90 93h2v1h-2zM99 93h1v1h-1zM88 94h2v1h-2zM91 94h1v1h-1zM87 95h1v1h-1zM85 96h2v1h-2zM85 97h1v1h-1zM55 98h2v1h-2zM85 98h1v1h-1zM55 99h2v1h-2zM83 99h3v1h-3z"/><path fill="#dde037" d="M91 0h1v1h-1zM91 1h1v1h-1zM78 2h1v1h-1zM90 2h1v1h-1zM46 3h2v1h-2zM78 3h1v1h-1zM20 4h1v1h-1zM47 4h1v1h-1zM44 5h1v1h-1zM92 5h1v1h-1zM42 6h1v1h-1zM45 6h1v1h-1zM78 6h1v1h-1zM93 6h1v1h-1zM21 7h1v1h-1zM92 7h2v1h-2zM20 8h2v1h-2zM78 8h1v1h-1zM20 9h1v1h-1zM77 9h1v1h-1zM21 10h1v1h-1zM27 10h1v1h-1zM77 10h1v1h-1zM92 10h1v1h-1zM12 11h1v1h-1zM20 11h2v1h-2zM13 12h1v1h-1zM19 12h1v1h-1zM76 12h1v1h-1zM7 13h1v1h-1zM9 13h1v1h-1zM11 13h1v1h-1zM76 13h1v1h-1zM92 13h1v1h-1zM0 14h1v1h-1zM7 14h2v1h-2zM10 14h6v1h-6zM76 14h1v1h-1zM1 15h1v1h-1zM5 15h1v1h-1zM2 16h2v1h-2zM76 17h1v1h-1zM76 18h1v1h-1zM89 19h1v1h-1zM88 21h1v1h-1zM90 21h1v1h-1zM85 24h1v1h-1zM87 24h2v1h-2zM84 25h1v1h-1zM82 26h1v1h-1zM96 34h1v1h-1zM86 38h1v1h-1zM89 38h1v1h-1zM92 38h1v1h-1zM84 39h1v1h-1zM88 39h2v1h-2zM91 39h3v1h-3zM84 40h1v1h-1zM88 40h1v1h-1zM93 40h1v1h-1zM83 41h2v1h-2zM94 41h1v1h-1zM83 42h1v1h-1zM94 42h1v1h-1zM94 43h1v1h-1zM86 45h1v1h-1zM87 46h1v1h-1zM91 46h1v1h-1zM88 47h1v1h-1zM91 47h1v1h-1zM96 47h1v1h-1zM93 59h1v1h-1zM96 59h2v1h-2zM92 60h3v1h-3zM98 60h1v1h-1zM92 61h2v1h-2zM92 62h2v1h-2zM95 62h1v1h-1zM99 62h1v1h-1zM91 63h2v1h-2zM91 64h1v1h-1zM93 64h1v1h-1zM91 65h1v1h-1zM90 68h1v1h-1zM90 69h1v1h-1zM90 70h1v1h-1zM90 71h2v1h-2zM90 72h2v1h-2zM90 73h2v1h-2zM89 74h2v1h-2zM87 76h3v1h-3zM86 78h1v1h-1zM88 78h1v1h-1zM86 82h1v1h-1zM0 83h1v1h-1zM87 83h2v1h-2zM0 84h1v1h-1zM89 86h1v1h-1zM89 87h1v1h-1zM89 88h1v1h-1zM88 90h1v1h-1zM88 91h2v1h-2zM93 91h1v1h-1zM88 92h1v1h-1zM87 93h1v1h-1zM56 95h1v1h-1zM56 96h2v1h-2zM83 96h2v1h-2zM57 97h1v1h-1zM84 97h1v1h-1zM58 98h1v1h-1zM84 98h1v1h-1zM82 99h1v1h-1z"/><path fill="#e7d739" d="M92 0h1v1h-1zM47 1h1v1h-1zM78 1h1v1h-1zM46 2h1v1h-1zM20 3h1v1h-1zM77 3h1v1h-1zM93 3h1v1h-1zM77 4h1v1h-1zM92 4h2v1h-2zM46 5h1v1h-1zM77 5h1v1h-1zM93 5h2v1h-2zM22 6h1v1h-1zM44 6h1v1h-1zM46 6h1v1h-1zM77 6h1v1h-1zM94 6h1v1h-1zM22 7h1v1h-1zM27 7h1v1h-1zM40 7h3v1h-3zM78 7h1v1h-1zM27 8h1v1h-1zM92 8h2v1h-2zM21 9h2v1h-2zM26 9h2v1h-2zM36 9h1v1h-1zM92 9h1v1h-1zM23 10h1v1h-1zM26 10h1v1h-1zM93 10h1v1h-1zM22 11h1v1h-1zM33 11h1v1h-1zM20 12h4v1h-4zM32 12h2v1h-2zM93 12h1v1h-1zM18 13h2v1h-2zM75 13h1v1h-1zM6 14h1v1h-1zM9 14h1v1h-1zM16 14h1v1h-1zM92 14h1v1h-1zM0 15h1v1h-1zM6 15h1v1h-1zM11 15h1v1h-1zM76 15h1v1h-1zM92 15h1v1h-1zM1 16h1v1h-1zM4 16h2v1h-2zM76 16h1v1h-1zM1 17h4v1h-4zM90 18h1v1h-1zM76 19h1v1h-1zM89 20h2v1h-2zM1 21h1v1h-1zM76 21h1v1h-1zM89 21h1v1h-1zM89 22h2v1h-2zM92 22h1v1h-1zM88 23h2v1h-2zM86 24h1v1h-1zM80 25h1v1h-1zM85 25h1v1h-1zM81 26h1v1h-1zM83 26h2v1h-2zM79 27h1v1h-1zM83 27h1v1h-1zM98 28h1v1h-1zM98 29h1v1h-1zM97 30h1v1h-1zM96 32h2v1h-2zM96 33h2v1h-2zM81 34h1v1h-1zM97 34h1v1h-1zM96 35h1v1h-1zM90 37h1v1h-1zM83 38h3v1h-3zM87 38h1v1h-1zM90 38h2v1h-2zM93 38h1v1h-1zM95 38h1v1h-1zM83 39h1v1h-1zM82 40h2v1h-2zM94 40h1v1h-1zM82 41h1v1h-1zM82 42h1v1h-1zM82 43h1v1h-1zM83 44h2v1h-2zM85 45h1v1h-1zM86 46h1v1h-1zM96 46h1v1h-1zM89 47h1v1h-1zM87 48h2v1h-2zM90 48h1v1h-1zM88 49h1v1h-1zM95 58h1v1h-1zM92 59h1v1h-1zM94 59h1v1h-1zM98 59h2v1h-2zM99 60h1v1h-1zM90 62h2v1h-2zM90 63h1v1h-1zM90 64h1v1h-1zM90 65h1v1h-1zM90 66h1v1h-1zM90 67h1v1h-1zM89 69h1v1h-1zM89 70h1v1h-1zM88 71h1v1h-1zM89 72h1v1h-1zM88 73h2v1h-2zM87 74h2v1h-2zM87 75h3v1h-3zM86 77h1v1h-1zM85 78h1v1h-1zM85 80h1v1h-1zM85 81h1v1h-1zM85 82h1v1h-1zM86 83h1v1h-1zM87 84h1v1h-1zM0 85h1v1h-1zM87 85h3v1h-3zM88 87h1v1h-1zM88 89h1v1h-1zM87 90h1v1h-1zM87 91h1v1h-1zM87 92h1v1h-1zM86 93h1v1h-1zM57 95h1v1h-1zM85 95h1v1h-1zM58 96h1v1h-1zM82 97h1v1h-1zM82 98h1v1h-1zM48 99h1v1h-1zM58 99h1v1h-1zM81 99h1v1h-1z"/><path fill="#80ff53" d="M9 1h1v1h-1zM5 5h1v1h-1zM10 5h1v1h-1zM5 6h1v1h-1zM87 6h1v1h-1zM9 7h1v1h-1zM84 7h4v1h-4zM84 8h1v1h-1zM86 8h2v1h-2zM84 9h1v1h-1zM86 9h1v1h-1zM85 11h1v1h-1zM80 14h1v1h-1zM85 18h1v1h-1zM81 19h2v1h-2zM85 19h1v1h-1zM83 20h1v1h-1zM94 80h1v1h-1zM98 81h1v1h-1zM94 82h1v1h-1zM96 83h1v1h-1z"/><path fill="#fea130" d="M53 1h1v1h-1zM53 2h1v1h-1zM75 2h1v1h-1zM27 3h1v1h-1zM75 3h1v1h-1zM27 4h2v1h-2zM51 4h1v1h-1zM53 4h1v1h-1zM75 4h1v1h-1zM35 5h1v1h-1zM50 5h1v1h-1zM50 6h1v1h-1zM75 7h1v1h-1zM74 8h1v1h-1zM44 9h1v1h-1zM46 9h3v1h-3zM44 10h1v1h-1zM74 10h1v1h-1zM41 11h1v1h-1zM43 11h1v1h-1zM73 11h1v1h-1zM39 12h2v1h-2zM43 12h1v1h-1zM28 13h2v1h-2zM73 13h1v1h-1zM26 14h3v1h-3zM30 14h1v1h-1zM36 14h1v1h-1zM99 14h1v1h-1zM23 15h2v1h-2zM29 15h1v1h-1zM31 15h1v1h-1zM73 15h1v1h-1zM98 15h2v1h-2zM14 16h1v1h-1zM20 16h3v1h-3zM29 16h5v1h-5zM74 16h1v1h-1zM97 16h1v1h-1zM11 17h2v1h-2zM14 17h4v1h-4zM31 17h2v1h-2zM74 17h1v1h-1zM95 17h2v1h-2zM8 18h1v1h-1zM93 18h1v1h-1zM5 19h3v1h-3zM75 19h1v1h-1zM93 19h2v1h-2zM5 20h1v1h-1zM94 20h1v1h-1zM4 22h1v1h-1zM3 23h1v1h-1zM3 24h1v1h-1zM96 24h1v1h-1zM3 25h1v1h-1zM97 25h1v1h-1zM3 26h1v1h-1zM2 27h1v1h-1zM93 27h1v1h-1zM2 28h1v1h-1zM0 29h3v1h-3zM1 30h1v1h-1zM2 31h2v1h-2zM76 31h2v1h-2zM0 32h2v1h-2zM91 32h1v1h-1zM92 33h1v1h-1zM90 34h1v1h-1zM79 36h1v1h-1zM79 37h1v1h-1zM79 38h1v1h-1zM80 41h1v1h-1zM81 45h1v1h-1zM82 47h1v1h-1zM99 49h1v1h-1zM99 50h1v1h-1zM97 51h1v1h-1zM97 52h1v1h-1zM97 53h3v1h-3zM89 54h2v1h-2zM88 55h2v1h-2zM99 55h1v1h-1zM90 56h1v1h-1zM90 57h1v1h-1zM89 58h2v1h-2zM7 62h2v1h-2zM86 62h2v1h-2zM7 63h1v1h-1zM87 63h1v1h-1zM87 64h1v1h-1zM87 65h1v1h-1zM87 67h1v1h-1zM0 68h1v1h-1zM0 69h1v1h-1zM2 69h2v1h-2zM5 69h1v1h-1zM2 70h2v1h-2zM86 70h1v1h-1zM84 72h2v1h-2zM84 73h2v1h-2zM10 75h1v1h-1zM0 76h1v1h-1zM84 76h1v1h-1zM2 77h2v1h-2zM1 78h2v1h-2zM78 78h2v1h-2zM81 78h1v1h-1zM83 78h1v1h-1zM1 79h3v1h-3zM12 79h1v1h-1zM18 79h2v1h-2zM77 79h4v1h-4zM82 79h1v1h-1zM2 80h1v1h-1zM13 80h1v1h-1zM15 80h1v1h-1zM17 80h1v1h-1zM77 80h2v1h-2zM81 80h1v1h-1zM5 81h1v1h-1zM10 81h2v1h-2zM14 81h1v1h-1zM17 81h2v1h-2zM72 81h1v1h-1zM80 81h2v1h-2zM5 82h1v1h-1zM8 82h2v1h-2zM11 82h3v1h-3zM15 82h5v1h-5zM76 82h1v1h-1zM78 82h5v1h-5zM6 83h3v1h-3zM11 83h1v1h-1zM13 83h1v1h-1zM15 83h5v1h-5zM76 83h1v1h-1zM79 83h4v1h-4zM4 84h1v1h-1zM7 84h1v1h-1zM17 84h1v1h-1zM19 84h1v1h-1zM79 84h1v1h-1zM82 84h1v1h-1zM4 85h5v1h-5zM16 85h1v1h-1zM19 85h1v1h-1zM80 85h1v1h-1zM82 85h1v1h-1zM3 86h3v1h-3zM7 86h1v1h-1zM20 86h1v1h-1zM4 87h2v1h-2zM20 87h1v1h-1zM4 88h1v1h-1zM6 88h1v1h-1zM11 88h3v1h-3zM20 88h2v1h-2zM5 89h4v1h-4zM12 89h2v1h-2zM80 89h2v1h-2zM8 90h2v1h-2zM12 90h2v1h-2zM21 90h1v1h-1zM81 90h2v1h-2zM6 91h2v1h-2zM11 91h1v1h-1zM22 91h1v1h-1zM50 91h1v1h-1zM53 91h1v1h-1zM55 91h1v1h-1zM57 91h1v1h-1zM77 91h1v1h-1zM79 91h3v1h-3zM7 92h3v1h-3zM20 92h1v1h-1zM58 92h1v1h-1zM78 92h1v1h-1zM80 92h1v1h-1zM7 93h3v1h-3zM20 93h1v1h-1zM47 93h1v1h-1zM60 93h2v1h-2zM76 93h1v1h-1zM8 94h1v1h-1zM59 94h1v1h-1zM62 94h1v1h-1zM74 94h2v1h-2zM8 95h3v1h-3zM15 95h1v1h-1zM18 95h2v1h-2zM63 95h1v1h-1zM74 95h2v1h-2zM2 96h2v1h-2zM5 96h1v1h-1zM9 96h2v1h-2zM15 96h3v1h-3zM19 96h1v1h-1zM75 96h1v1h-1zM2 97h3v1h-3zM11 97h1v1h-1zM13 97h1v1h-1zM15 97h1v1h-1zM46 97h1v1h-1zM64 97h1v1h-1zM75 97h1v1h-1zM3 98h1v1h-1zM5 98h1v1h-1zM7 98h1v1h-1zM9 98h1v1h-1zM11 98h1v1h-1zM64 98h1v1h-1zM75 98h1v1h-1zM3 99h5v1h-5zM11 99h1v1h-1zM15 99h2v1h-2z"/><path fill="#fdae35" d="M96 1h4v1h-4zM97 2h3v1h-3zM51 3h3v1h-3zM98 3h2v1h-2zM50 4h1v1h-1zM52 4h1v1h-1zM98 4h2v1h-2zM27 5h1v1h-1zM29 5h1v1h-1zM32 5h3v1h-3zM75 5h1v1h-1zM98 5h2v1h-2zM75 6h1v1h-1zM46 8h2v1h-2zM49 8h1v1h-1zM75 8h1v1h-1zM75 9h1v1h-1zM97 9h1v1h-1zM42 10h2v1h-2zM75 10h1v1h-1zM40 11h1v1h-1zM42 11h1v1h-1zM74 11h1v1h-1zM96 11h3v1h-3zM27 12h4v1h-4zM38 12h1v1h-1zM42 12h1v1h-1zM73 12h1v1h-1zM97 12h2v1h-2zM27 13h1v1h-1zM30 13h1v1h-1zM37 13h1v1h-1zM97 13h1v1h-1zM99 13h1v1h-1zM35 14h1v1h-1zM98 14h1v1h-1zM22 15h1v1h-1zM32 15h3v1h-3zM74 15h1v1h-1zM97 15h1v1h-1zM12 16h1v1h-1zM15 16h1v1h-1zM17 16h3v1h-3zM93 16h1v1h-1zM96 16h1v1h-1zM9 17h1v1h-1zM13 17h1v1h-1zM94 17h1v1h-1zM6 18h1v1h-1zM4 21h1v1h-1zM94 21h1v1h-1zM94 22h1v1h-1zM94 23h1v1h-1zM95 24h1v1h-1zM1 25h2v1h-2zM95 25h2v1h-2zM2 26h1v1h-1zM94 26h1v1h-1zM96 26h2v1h-2zM99 26h1v1h-1zM1 27h1v1h-1zM92 27h1v1h-1zM94 27h3v1h-3zM1 28h1v1h-1zM92 28h3v1h-3zM80 29h1v1h-1zM93 29h3v1h-3zM0 30h1v1h-1zM2 30h1v1h-1zM92 30h3v1h-3zM0 31h2v1h-2zM79 31h1v1h-1zM91 31h4v1h-4zM79 32h1v1h-1zM90 32h1v1h-1zM92 32h2v1h-2zM87 33h2v1h-2zM91 33h1v1h-1zM93 33h2v1h-2zM86 34h2v1h-2zM91 34h1v1h-1zM79 35h1v1h-1zM84 35h2v1h-2zM91 35h1v1h-1zM97 38h1v1h-1zM97 39h2v1h-2zM80 40h1v1h-1zM80 42h1v1h-1zM80 43h1v1h-1zM81 44h1v1h-1zM82 45h1v1h-1zM82 46h2v1h-2zM83 47h1v1h-1zM99 47h1v1h-1zM84 48h1v1h-1zM98 48h2v1h-2zM98 50h1v1h-1zM96 51h1v1h-1zM90 53h2v1h-2zM96 53h1v1h-1zM88 54h1v1h-1zM91 54h1v1h-1zM95 54h5v1h-5zM91 55h7v1h-7zM91 56h3v1h-3zM95 56h3v1h-3zM99 56h1v1h-1zM91 57h1v1h-1zM90 59h1v1h-1zM89 60h1v1h-1zM88 61h2v1h-2zM88 63h1v1h-1zM87 66h1v1h-1zM2 68h1v1h-1zM87 68h1v1h-1zM87 69h1v1h-1zM86 71h1v1h-1zM84 75h1v1h-1zM0 77h2v1h-2zM83 77h1v1h-1zM3 78h1v1h-1zM4 79h1v1h-1zM81 79h1v1h-1zM83 79h1v1h-1zM3 80h2v1h-2zM79 80h2v1h-2zM82 80h1v1h-1zM0 81h1v1h-1zM3 81h2v1h-2zM13 81h1v1h-1zM76 81h4v1h-4zM82 81h2v1h-2zM3 82h2v1h-2zM10 82h1v1h-1zM14 82h1v1h-1zM2 83h1v1h-1zM4 83h2v1h-2zM10 83h1v1h-1zM12 83h1v1h-1zM14 83h1v1h-1zM78 83h1v1h-1zM3 84h1v1h-1zM5 84h1v1h-1zM8 84h1v1h-1zM10 84h1v1h-1zM12 84h5v1h-5zM18 84h1v1h-1zM17 85h2v1h-2zM83 85h1v1h-1zM8 86h2v1h-2zM14 86h1v1h-1zM18 86h2v1h-2zM3 87h1v1h-1zM7 87h2v1h-2zM11 87h1v1h-1zM13 87h1v1h-1zM17 87h3v1h-3zM82 87h1v1h-1zM2 88h2v1h-2zM5 88h1v1h-1zM7 88h1v1h-1zM10 88h1v1h-1zM14 88h3v1h-3zM19 88h1v1h-1zM82 88h1v1h-1zM4 89h1v1h-1zM9 89h3v1h-3zM14 89h2v1h-2zM20 89h2v1h-2zM4 90h1v1h-1zM6 90h1v1h-1zM10 90h2v1h-2zM14 90h2v1h-2zM79 90h1v1h-1zM83 90h1v1h-1zM5 91h1v1h-1zM8 91h3v1h-3zM12 91h1v1h-1zM20 91h1v1h-1zM49 91h1v1h-1zM82 91h2v1h-2zM5 92h1v1h-1zM10 92h3v1h-3zM48 92h1v1h-1zM56 92h1v1h-1zM79 92h1v1h-1zM81 92h4v1h-4zM6 93h1v1h-1zM10 93h1v1h-1zM19 93h1v1h-1zM58 93h2v1h-2zM77 93h3v1h-3zM84 93h1v1h-1zM7 94h1v1h-1zM10 94h1v1h-1zM18 94h2v1h-2zM47 94h1v1h-1zM60 94h2v1h-2zM79 94h2v1h-2zM3 95h2v1h-2zM14 95h1v1h-1zM16 95h2v1h-2zM47 95h1v1h-1zM61 95h2v1h-2zM80 95h1v1h-1zM4 96h1v1h-1zM6 96h3v1h-3zM11 96h1v1h-1zM14 96h1v1h-1zM47 96h1v1h-1zM63 96h1v1h-1zM1 97h1v1h-1zM6 97h3v1h-3zM10 97h1v1h-1zM12 97h1v1h-1zM14 97h1v1h-1zM47 97h1v1h-1zM76 97h1v1h-1zM0 98h1v1h-1zM2 98h1v1h-1zM6 98h1v1h-1zM12 98h4v1h-4zM76 98h2v1h-2zM0 99h3v1h-3zM12 99h1v1h-1zM62 99h1v1h-1zM64 99h1v1h-1zM77 99h2v1h-2z"/><path fill="#18d9c8" d="M7 2h2v1h-2zM6 3h3v1h-3zM6 4h2v1h-2zM84 12h1v1h-1z"/><path fill="#6dfe62" d="M9 2h1v1h-1zM6 7h3v1h-3zM85 8h1v1h-1zM83 9h1v1h-1zM85 9h1v1h-1zM81 10h1v1h-1zM84 10h1v1h-1zM80 11h1v1h-1zM84 11h1v1h-1zM80 12h1v1h-1zM80 13h1v1h-1zM80 15h1v1h-1zM80 16h1v1h-1zM80 17h2v1h-2zM81 18h1v1h-1zM83 18h1v1h-1zM83 19h1v1h-1zM98 82h1v1h-1zM98 83h2v1h-2z"/><path fill="#35f394" d="M9 3h2v1h-2zM82 11h1v1h-1zM82 17h1v1h-1z"/><path fill="#1bd0d5" d="M8 4h1v1h-1z"/><path fill="#27eea4" d="M9 4h1v1h-1zM87 12h1v1h-1zM84 13h1v1h-1z"/><path fill="#1de7b2" d="M10 4h1v1h-1zM85 12h2v1h-2zM85 13h3v1h-3zM84 15h3v1h-3zM87 17h1v1h-1z"/><path fill="#59fb73" d="M6 5h2v1h-2zM9 5h1v1h-1zM6 6h4v1h-4zM82 10h2v1h-2zM81 11h1v1h-1zM81 14h1v1h-1zM81 15h1v1h-1zM82 18h1v1h-1zM84 18h1v1h-1zM99 82h1v1h-1z"/><path fill="#46f884" d="M8 5h1v1h-1zM83 11h1v1h-1zM81 12h3v1h-3zM81 13h1v1h-1zM81 16h1v1h-1zM83 17h1v1h-1z"/><path fill="#b91e02" d="M66 5h1v1h-1zM63 7h1v1h-1zM62 9h1v1h-1zM68 12h1v1h-1zM61 13h1v1h-1zM67 13h1v1h-1zM57 14h1v1h-1zM63 14h1v1h-1zM25 15h1v1h-1zM57 15h2v1h-2zM64 15h3v1h-3zM25 16h1v1h-1zM48 16h1v1h-1zM54 16h1v1h-1zM59 16h1v1h-1zM61 16h1v1h-1zM63 16h1v1h-1zM66 16h1v1h-1zM63 17h4v1h-4zM45 18h3v1h-3zM53 18h1v1h-1zM55 18h1v1h-1zM60 18h1v1h-1zM62 18h1v1h-1zM64 18h2v1h-2zM42 19h3v1h-3zM46 19h1v1h-1zM53 19h3v1h-3zM59 19h5v1h-5zM42 20h3v1h-3zM53 20h2v1h-2zM59 20h1v1h-1zM61 20h1v1h-1zM63 20h1v1h-1zM65 20h2v1h-2zM38 21h1v1h-1zM41 21h2v1h-2zM52 21h1v1h-1zM54 21h1v1h-1zM60 21h1v1h-1zM63 21h1v1h-1zM19 22h1v1h-1zM39 22h3v1h-3zM52 22h1v1h-1zM60 22h1v1h-1zM62 22h2v1h-2zM20 23h1v1h-1zM38 23h1v1h-1zM61 23h4v1h-4zM20 24h1v1h-1zM36 24h1v1h-1zM62 24h4v1h-4zM18 25h1v1h-1zM20 25h3v1h-3zM35 25h2v1h-2zM62 25h1v1h-1zM64 25h2v1h-2zM18 26h1v1h-1zM21 26h2v1h-2zM56 26h2v1h-2zM63 26h1v1h-1zM66 26h2v1h-2zM18 27h1v1h-1zM21 27h2v1h-2zM34 27h2v1h-2zM46 27h1v1h-1zM64 27h1v1h-1zM68 27h3v1h-3zM19 28h2v1h-2zM25 28h1v1h-1zM33 28h2v1h-2zM37 28h3v1h-3zM45 28h1v1h-1zM69 28h3v1h-3zM32 29h2v1h-2zM38 29h6v1h-6zM68 29h1v1h-1zM70 29h1v1h-1zM22 30h2v1h-2zM34 30h2v1h-2zM39 30h2v1h-2zM72 30h1v1h-1zM21 31h3v1h-3zM32 31h1v1h-1zM34 31h1v1h-1zM39 31h1v1h-1zM72 31h1v1h-1zM20 32h1v1h-1zM24 32h1v1h-1zM30 32h3v1h-3zM34 32h2v1h-2zM70 32h1v1h-1zM17 33h1v1h-1zM19 33h1v1h-1zM25 33h1v1h-1zM35 33h1v1h-1zM69 33h2v1h-2zM72 33h1v1h-1zM25 34h2v1h-2zM28 34h2v1h-2zM37 34h1v1h-1zM71 34h2v1h-2zM16 35h2v1h-2zM19 35h3v1h-3zM27 35h2v1h-2zM33 35h2v1h-2zM37 35h4v1h-4zM71 35h1v1h-1zM15 36h3v1h-3zM19 36h1v1h-1zM30 36h3v1h-3zM39 36h1v1h-1zM71 36h1v1h-1zM17 37h1v1h-1zM30 37h3v1h-3zM34 37h1v1h-1zM38 37h2v1h-2zM71 37h2v1h-2zM17 38h1v1h-1zM30 38h2v1h-2zM34 38h1v1h-1zM36 38h1v1h-1zM16 39h1v1h-1zM13 40h1v1h-1zM73 40h1v1h-1zM8 41h4v1h-4zM13 41h1v1h-1zM28 41h1v1h-1zM73 41h1v1h-1zM9 42h1v1h-1zM11 42h1v1h-1zM13 42h1v1h-1zM24 42h1v1h-1zM14 43h3v1h-3zM24 43h2v1h-2zM16 44h1v1h-1zM24 44h2v1h-2zM75 44h1v1h-1zM26 45h1v1h-1zM76 45h1v1h-1zM11 46h2v1h-2zM14 46h2v1h-2zM19 46h2v1h-2zM25 46h1v1h-1zM77 46h1v1h-1zM3 47h1v1h-1zM11 47h2v1h-2zM14 47h1v1h-1zM18 47h2v1h-2zM21 47h1v1h-1zM24 47h1v1h-1zM26 47h1v1h-1zM3 48h1v1h-1zM12 48h4v1h-4zM21 48h1v1h-1zM78 48h1v1h-1zM22 49h1v1h-1zM26 49h1v1h-1zM79 49h1v1h-1zM23 50h1v1h-1zM80 50h1v1h-1zM23 51h3v1h-3zM25 52h1v1h-1zM24 53h2v1h-2zM24 54h1v1h-1zM82 54h1v1h-1zM24 55h1v1h-1zM19 56h1v1h-1zM23 56h2v1h-2zM81 56h1v1h-1zM19 57h1v1h-1zM22 57h1v1h-1zM20 58h2v1h-2zM24 58h3v1h-3zM80 58h1v1h-1zM20 59h3v1h-3zM24 59h1v1h-1zM26 59h2v1h-2zM29 59h1v1h-1zM80 59h2v1h-2zM20 60h1v1h-1zM22 60h3v1h-3zM80 60h1v1h-1zM19 61h1v1h-1zM25 61h1v1h-1zM29 61h1v1h-1zM32 61h1v1h-1zM29 62h1v1h-1zM80 62h1v1h-1zM30 64h1v1h-1zM33 64h2v1h-2zM80 64h1v1h-1zM33 65h1v1h-1zM74 65h1v1h-1zM78 65h1v1h-1zM34 66h1v1h-1zM34 67h1v1h-1zM74 67h1v1h-1zM34 68h1v1h-1zM73 68h1v1h-1zM76 68h1v1h-1zM36 69h1v1h-1zM69 69h4v1h-4zM76 69h1v1h-1zM43 70h1v1h-1zM66 70h2v1h-2zM37 71h1v1h-1zM41 71h2v1h-2zM44 71h2v1h-2zM66 71h1v1h-1zM37 72h3v1h-3zM41 72h1v1h-1zM44 72h2v1h-2zM48 72h1v1h-1zM65 72h1v1h-1zM40 73h1v1h-1zM43 73h1v1h-1zM64 74h1v1h-1zM43 75h2v1h-2zM62 75h1v1h-1zM41 76h1v1h-1zM43 76h3v1h-3zM63 76h1v1h-1zM36 77h4v1h-4zM41 77h3v1h-3zM45 77h1v1h-1zM35 78h3v1h-3zM40 78h2v1h-2zM44 78h1v1h-1zM46 78h1v1h-1zM35 79h3v1h-3zM40 79h1v1h-1zM43 79h2v1h-2zM33 80h4v1h-4zM38 80h2v1h-2zM44 80h1v1h-1zM47 80h1v1h-1zM31 81h2v1h-2zM35 81h2v1h-2zM39 81h3v1h-3zM43 81h2v1h-2zM47 81h1v1h-1zM63 81h1v1h-1zM32 82h2v1h-2zM35 82h2v1h-2zM41 82h2v1h-2zM47 82h1v1h-1zM63 82h1v1h-1zM32 83h5v1h-5zM38 83h1v1h-1zM40 83h1v1h-1zM47 83h1v1h-1zM56 83h8v1h-8zM41 84h2v1h-2zM50 84h1v1h-1zM59 84h2v1h-2zM62 84h2v1h-2zM32 85h1v1h-1zM34 85h1v1h-1zM41 85h2v1h-2zM45 85h1v1h-1zM47 85h1v1h-1zM50 85h3v1h-3zM54 85h1v1h-1zM32 86h1v1h-1zM34 86h1v1h-1zM42 86h3v1h-3zM52 86h1v1h-1zM30 87h2v1h-2zM42 87h3v1h-3zM39 89h2v1h-2zM43 89h1v1h-1zM39 90h4v1h-4zM40 91h1v1h-1z"/><path fill="#18e0bd" d="M82 13h2v1h-2zM82 14h6v1h-6zM82 15h2v1h-2zM82 16h6v1h-6zM84 17h3v1h-3z"/><path fill="#af1801" d="M49 16h3v1h-3zM56 16h3v1h-3zM64 16h1v1h-1zM47 17h6v1h-6zM55 17h4v1h-4zM48 18h1v1h-1zM50 18h3v1h-3zM54 18h1v1h-1zM58 18h2v1h-2zM49 19h1v1h-1zM52 19h1v1h-1zM56 19h1v1h-1zM64 19h1v1h-1zM45 20h2v1h-2zM48 20h1v1h-1zM51 20h2v1h-2zM55 20h2v1h-2zM60 20h1v1h-1zM43 21h1v1h-1zM45 21h1v1h-1zM51 21h1v1h-1zM55 21h1v1h-1zM18 22h1v1h-1zM42 22h2v1h-2zM51 22h1v1h-1zM53 22h2v1h-2zM19 23h1v1h-1zM41 23h2v1h-2zM52 23h2v1h-2zM60 23h1v1h-1zM19 24h1v1h-1zM37 24h1v1h-1zM54 24h3v1h-3zM60 24h2v1h-2zM19 25h1v1h-1zM38 25h1v1h-1zM55 25h4v1h-4zM61 25h1v1h-1zM63 25h1v1h-1zM19 26h1v1h-1zM35 26h3v1h-3zM39 26h1v1h-1zM43 26h2v1h-2zM48 26h1v1h-1zM55 26h1v1h-1zM58 26h1v1h-1zM61 26h2v1h-2zM65 26h1v1h-1zM19 27h2v1h-2zM36 27h6v1h-6zM44 27h2v1h-2zM56 27h2v1h-2zM62 27h2v1h-2zM67 27h1v1h-1zM35 28h2v1h-2zM40 28h5v1h-5zM46 28h1v1h-1zM62 28h1v1h-1zM66 28h3v1h-3zM35 29h2v1h-2zM44 29h2v1h-2zM65 29h3v1h-3zM69 29h1v1h-1zM36 30h2v1h-2zM41 30h3v1h-3zM65 30h1v1h-1zM67 30h1v1h-1zM69 30h3v1h-3zM35 31h1v1h-1zM37 31h2v1h-2zM40 31h2v1h-2zM67 31h1v1h-1zM70 31h2v1h-2zM23 32h1v1h-1zM33 32h1v1h-1zM39 32h1v1h-1zM67 32h3v1h-3zM71 32h1v1h-1zM20 33h1v1h-1zM30 33h4v1h-4zM36 33h2v1h-2zM39 33h1v1h-1zM68 33h1v1h-1zM71 33h1v1h-1zM20 34h2v1h-2zM24 34h1v1h-1zM31 34h1v1h-1zM33 34h4v1h-4zM38 34h3v1h-3zM69 34h1v1h-1zM22 35h3v1h-3zM26 35h1v1h-1zM29 35h4v1h-4zM41 35h1v1h-1zM70 35h1v1h-1zM18 36h1v1h-1zM20 36h3v1h-3zM29 36h1v1h-1zM40 36h1v1h-1zM69 36h1v1h-1zM19 37h4v1h-4zM29 37h1v1h-1zM40 37h2v1h-2zM68 37h1v1h-1zM21 38h1v1h-1zM23 38h1v1h-1zM29 38h1v1h-1zM35 38h1v1h-1zM38 38h2v1h-2zM71 38h2v1h-2zM15 39h1v1h-1zM17 39h1v1h-1zM21 39h1v1h-1zM29 39h3v1h-3zM33 39h4v1h-4zM38 39h1v1h-1zM72 39h1v1h-1zM14 40h2v1h-2zM22 40h2v1h-2zM27 40h3v1h-3zM33 40h1v1h-1zM35 40h1v1h-1zM72 40h1v1h-1zM14 41h1v1h-1zM21 41h4v1h-4zM26 41h2v1h-2zM72 41h1v1h-1zM10 42h1v1h-1zM14 42h3v1h-3zM20 42h1v1h-1zM22 42h1v1h-1zM25 42h5v1h-5zM73 42h1v1h-1zM17 43h1v1h-1zM27 43h2v1h-2zM73 43h1v1h-1zM17 44h2v1h-2zM23 44h1v1h-1zM26 44h1v1h-1zM28 44h2v1h-2zM74 44h1v1h-1zM16 45h5v1h-5zM22 45h1v1h-1zM24 45h2v1h-2zM27 45h3v1h-3zM75 45h1v1h-1zM17 46h2v1h-2zM21 46h1v1h-1zM24 46h1v1h-1zM26 46h2v1h-2zM76 46h1v1h-1zM13 47h1v1h-1zM16 47h2v1h-2zM22 47h1v1h-1zM25 47h1v1h-1zM22 48h5v1h-5zM23 49h3v1h-3zM27 49h1v1h-1zM24 50h4v1h-4zM26 51h1v1h-1zM80 51h1v1h-1zM26 52h1v1h-1zM81 52h1v1h-1zM39 53h1v1h-1zM41 53h1v1h-1zM25 54h1v1h-1zM40 54h1v1h-1zM80 55h2v1h-2zM80 56h1v1h-1zM20 57h2v1h-2zM23 57h2v1h-2zM26 57h2v1h-2zM79 57h2v1h-2zM22 58h1v1h-1zM27 58h1v1h-1zM79 58h1v1h-1zM23 59h1v1h-1zM28 59h1v1h-1zM30 60h2v1h-2zM30 61h2v1h-2zM38 61h1v1h-1zM78 61h3v1h-3zM30 62h1v1h-1zM39 62h1v1h-1zM79 62h1v1h-1zM30 63h1v1h-1zM32 63h2v1h-2zM37 63h2v1h-2zM80 63h1v1h-1zM32 64h1v1h-1zM35 64h2v1h-2zM74 64h2v1h-2zM79 64h1v1h-1zM34 65h3v1h-3zM35 66h1v1h-1zM73 66h3v1h-3zM77 66h1v1h-1zM35 67h1v1h-1zM75 67h1v1h-1zM35 68h2v1h-2zM72 68h1v1h-1zM75 68h1v1h-1zM55 69h1v1h-1zM68 69h1v1h-1zM37 70h2v1h-2zM41 70h2v1h-2zM46 70h1v1h-1zM38 71h1v1h-1zM40 71h1v1h-1zM46 71h1v1h-1zM48 71h1v1h-1zM65 71h1v1h-1zM46 72h1v1h-1zM64 72h1v1h-1zM44 73h3v1h-3zM63 73h2v1h-2zM44 74h2v1h-2zM61 74h3v1h-3zM42 75h1v1h-1zM61 75h1v1h-1zM63 75h1v1h-1zM61 76h1v1h-1zM46 77h2v1h-2zM38 78h1v1h-1zM43 78h1v1h-1zM47 78h1v1h-1zM63 78h1v1h-1zM39 79h1v1h-1zM41 79h2v1h-2zM47 79h1v1h-1zM63 79h1v1h-1zM41 80h3v1h-3zM60 80h2v1h-2zM63 80h1v1h-1zM33 81h1v1h-1zM42 81h1v1h-1zM57 81h3v1h-3zM61 81h2v1h-2zM34 82h1v1h-1zM48 82h1v1h-1zM56 82h7v1h-7zM41 83h2v1h-2zM48 83h3v1h-3zM54 83h1v1h-1zM46 84h1v1h-1zM52 84h4v1h-4zM61 84h1v1h-1zM43 85h1v1h-1zM61 85h1v1h-1zM31 86h1v1h-1zM32 87h2v1h-2z"/><path fill="#a11201" d="M49 18h1v1h-1zM56 18h2v1h-2zM47 19h2v1h-2zM50 19h2v1h-2zM57 19h2v1h-2zM47 20h1v1h-1zM49 20h2v1h-2zM57 20h2v1h-2zM44 21h1v1h-1zM46 21h1v1h-1zM48 21h3v1h-3zM56 21h1v1h-1zM58 21h2v1h-2zM44 22h1v1h-1zM55 22h1v1h-1zM57 22h1v1h-1zM59 22h1v1h-1zM39 23h2v1h-2zM43 23h2v1h-2zM54 23h3v1h-3zM59 23h1v1h-1zM38 24h4v1h-4zM43 24h2v1h-2zM46 24h1v1h-1zM48 24h1v1h-1zM51 24h1v1h-1zM57 24h3v1h-3zM37 25h1v1h-1zM39 25h4v1h-4zM45 25h3v1h-3zM54 25h1v1h-1zM59 25h2v1h-2zM20 26h1v1h-1zM38 26h1v1h-1zM40 26h3v1h-3zM45 26h3v1h-3zM50 26h1v1h-1zM54 26h1v1h-1zM60 26h1v1h-1zM64 26h1v1h-1zM42 27h2v1h-2zM47 27h1v1h-1zM55 27h1v1h-1zM58 27h3v1h-3zM65 27h2v1h-2zM47 28h2v1h-2zM55 28h1v1h-1zM57 28h1v1h-1zM61 28h1v1h-1zM63 28h3v1h-3zM46 29h1v1h-1zM62 29h1v1h-1zM64 29h1v1h-1zM71 29h1v1h-1zM38 30h1v1h-1zM66 30h1v1h-1zM68 30h1v1h-1zM36 31h1v1h-1zM42 31h1v1h-1zM66 31h1v1h-1zM68 31h2v1h-2zM21 32h2v1h-2zM36 32h3v1h-3zM40 32h1v1h-1zM66 32h1v1h-1zM21 33h3v1h-3zM34 33h1v1h-1zM38 33h1v1h-1zM40 33h3v1h-3zM65 33h2v1h-2zM22 34h2v1h-2zM30 34h1v1h-1zM32 34h1v1h-1zM41 34h1v1h-1zM65 34h1v1h-1zM67 34h2v1h-2zM25 35h1v1h-1zM42 35h1v1h-1zM68 35h2v1h-2zM23 36h1v1h-1zM25 36h4v1h-4zM41 36h2v1h-2zM67 36h1v1h-1zM70 36h1v1h-1zM18 37h1v1h-1zM23 37h2v1h-2zM27 37h2v1h-2zM42 37h1v1h-1zM62 37h1v1h-1zM69 37h2v1h-2zM18 38h3v1h-3zM22 38h1v1h-1zM27 38h2v1h-2zM67 38h4v1h-4zM18 39h2v1h-2zM22 39h4v1h-4zM28 39h1v1h-1zM32 39h1v1h-1zM37 39h1v1h-1zM60 39h2v1h-2zM65 39h3v1h-3zM71 39h1v1h-1zM16 40h3v1h-3zM20 40h2v1h-2zM24 40h1v1h-1zM26 40h1v1h-1zM30 40h1v1h-1zM32 40h1v1h-1zM34 40h1v1h-1zM36 40h2v1h-2zM64 40h1v1h-1zM66 40h3v1h-3zM70 40h2v1h-2zM17 41h2v1h-2zM20 41h1v1h-1zM25 41h1v1h-1zM29 41h3v1h-3zM61 41h1v1h-1zM63 41h1v1h-1zM66 41h1v1h-1zM17 42h3v1h-3zM21 42h1v1h-1zM23 42h1v1h-1zM30 42h1v1h-1zM72 42h1v1h-1zM18 43h6v1h-6zM26 43h1v1h-1zM29 43h2v1h-2zM71 43h2v1h-2zM19 44h3v1h-3zM30 44h1v1h-1zM32 44h1v1h-1zM72 44h2v1h-2zM21 45h1v1h-1zM23 45h1v1h-1zM30 45h1v1h-1zM64 45h1v1h-1zM73 45h2v1h-2zM16 46h1v1h-1zM22 46h2v1h-2zM28 46h2v1h-2zM64 46h1v1h-1zM23 47h1v1h-1zM27 47h2v1h-2zM77 47h1v1h-1zM27 48h2v1h-2zM78 49h1v1h-1zM28 50h1v1h-1zM79 50h1v1h-1zM27 51h2v1h-2zM27 52h3v1h-3zM40 52h2v1h-2zM80 52h1v1h-1zM26 53h4v1h-4zM34 53h3v1h-3zM38 53h1v1h-1zM40 53h1v1h-1zM42 53h1v1h-1zM79 53h1v1h-1zM82 53h1v1h-1zM26 54h1v1h-1zM28 54h2v1h-2zM33 54h2v1h-2zM39 54h1v1h-1zM81 54h1v1h-1zM25 55h3v1h-3zM33 55h2v1h-2zM36 55h1v1h-1zM39 55h3v1h-3zM25 56h1v1h-1zM27 56h3v1h-3zM33 56h2v1h-2zM36 56h1v1h-1zM79 56h1v1h-1zM25 57h1v1h-1zM28 57h1v1h-1zM30 57h1v1h-1zM35 57h1v1h-1zM78 57h1v1h-1zM28 58h3v1h-3zM34 58h3v1h-3zM38 58h1v1h-1zM78 58h1v1h-1zM30 59h3v1h-3zM34 59h1v1h-1zM38 59h2v1h-2zM44 59h1v1h-1zM46 59h1v1h-1zM78 59h2v1h-2zM32 60h2v1h-2zM35 60h1v1h-1zM39 60h1v1h-1zM43 60h3v1h-3zM78 60h2v1h-2zM33 61h1v1h-1zM37 61h1v1h-1zM43 61h1v1h-1zM31 62h8v1h-8zM44 62h1v1h-1zM77 62h2v1h-2zM31 63h1v1h-1zM34 63h3v1h-3zM40 63h2v1h-2zM65 63h1v1h-1zM73 63h1v1h-1zM75 63h5v1h-5zM37 64h1v1h-1zM42 64h1v1h-1zM65 64h1v1h-1zM72 64h2v1h-2zM76 64h3v1h-3zM37 65h1v1h-1zM72 65h2v1h-2zM75 65h3v1h-3zM36 66h1v1h-1zM76 66h1v1h-1zM73 67h1v1h-1zM76 67h1v1h-1zM37 68h2v1h-2zM54 68h1v1h-1zM71 68h1v1h-1zM37 69h3v1h-3zM54 69h1v1h-1zM65 69h1v1h-1zM39 70h2v1h-2zM44 70h2v1h-2zM48 70h1v1h-1zM53 70h1v1h-1zM65 70h1v1h-1zM39 71h1v1h-1zM49 71h4v1h-4zM54 71h2v1h-2zM64 71h1v1h-1zM47 72h1v1h-1zM49 72h2v1h-2zM63 72h1v1h-1zM47 73h2v1h-2zM59 73h4v1h-4zM46 74h1v1h-1zM50 74h1v1h-1zM60 74h1v1h-1zM45 75h2v1h-2zM60 75h1v1h-1zM46 76h2v1h-2zM62 76h1v1h-1zM48 77h1v1h-1zM61 77h2v1h-2zM42 78h1v1h-1zM48 78h2v1h-2zM61 78h2v1h-2zM38 79h1v1h-1zM48 79h2v1h-2zM60 79h3v1h-3zM48 80h2v1h-2zM56 80h4v1h-4zM62 80h1v1h-1zM48 81h2v1h-2zM55 81h2v1h-2zM60 81h1v1h-1zM49 82h2v1h-2zM55 82h1v1h-1zM51 83h1v1h-1zM55 83h1v1h-1zM51 84h1v1h-1z"/><path fill="#920b01" d="M47 21h1v1h-1zM57 21h1v1h-1zM45 22h3v1h-3zM49 22h2v1h-2zM56 22h1v1h-1zM45 23h3v1h-3zM49 23h3v1h-3zM57 23h2v1h-2zM42 24h1v1h-1zM45 24h1v1h-1zM47 24h1v1h-1zM49 24h2v1h-2zM52 24h2v1h-2zM43 25h2v1h-2zM48 25h2v1h-2zM51 25h3v1h-3zM49 26h1v1h-1zM51 26h2v1h-2zM59 26h1v1h-1zM48 27h2v1h-2zM51 27h1v1h-1zM54 27h1v1h-1zM61 27h1v1h-1zM54 28h1v1h-1zM56 28h1v1h-1zM58 28h3v1h-3zM47 29h1v1h-1zM51 29h1v1h-1zM55 29h2v1h-2zM63 29h1v1h-1zM44 30h4v1h-4zM64 30h1v1h-1zM43 31h1v1h-1zM45 31h1v1h-1zM57 31h1v1h-1zM65 31h1v1h-1zM41 32h1v1h-1zM43 32h1v1h-1zM65 32h1v1h-1zM64 33h1v1h-1zM67 33h1v1h-1zM42 34h2v1h-2zM63 34h2v1h-2zM66 34h1v1h-1zM43 35h1v1h-1zM45 35h1v1h-1zM66 35h2v1h-2zM24 36h1v1h-1zM43 36h2v1h-2zM63 36h1v1h-1zM65 36h2v1h-2zM68 36h1v1h-1zM26 37h1v1h-1zM43 37h1v1h-1zM61 37h1v1h-1zM63 37h1v1h-1zM65 37h3v1h-3zM24 38h1v1h-1zM26 38h1v1h-1zM40 38h1v1h-1zM42 38h1v1h-1zM60 38h7v1h-7zM20 39h1v1h-1zM26 39h2v1h-2zM39 39h1v1h-1zM59 39h1v1h-1zM62 39h3v1h-3zM68 39h3v1h-3zM19 40h1v1h-1zM25 40h1v1h-1zM31 40h1v1h-1zM59 40h4v1h-4zM65 40h1v1h-1zM69 40h1v1h-1zM15 41h2v1h-2zM19 41h1v1h-1zM32 41h5v1h-5zM59 41h2v1h-2zM64 41h2v1h-2zM67 41h1v1h-1zM69 41h1v1h-1zM71 41h1v1h-1zM31 42h1v1h-1zM33 42h2v1h-2zM36 42h1v1h-1zM62 42h4v1h-4zM67 42h1v1h-1zM70 42h2v1h-2zM31 43h3v1h-3zM64 43h1v1h-1zM69 43h2v1h-2zM22 44h1v1h-1zM27 44h1v1h-1zM31 44h1v1h-1zM33 44h1v1h-1zM63 44h1v1h-1zM70 44h2v1h-2zM31 45h1v1h-1zM63 45h1v1h-1zM65 45h1v1h-1zM70 45h2v1h-2zM30 46h1v1h-1zM63 46h1v1h-1zM65 46h1v1h-1zM72 46h4v1h-4zM29 47h1v1h-1zM62 47h2v1h-2zM63 48h1v1h-1zM77 48h1v1h-1zM28 49h5v1h-5zM29 50h4v1h-4zM29 51h3v1h-3zM34 51h4v1h-4zM79 51h1v1h-1zM30 52h2v1h-2zM33 52h7v1h-7zM79 52h1v1h-1zM30 53h1v1h-1zM37 53h1v1h-1zM80 53h2v1h-2zM27 54h1v1h-1zM30 54h2v1h-2zM35 54h3v1h-3zM41 54h2v1h-2zM79 54h2v1h-2zM29 55h4v1h-4zM35 55h1v1h-1zM37 55h2v1h-2zM79 55h1v1h-1zM26 56h1v1h-1zM31 56h1v1h-1zM35 56h1v1h-1zM37 56h2v1h-2zM40 56h2v1h-2zM64 56h1v1h-1zM66 56h1v1h-1zM78 56h1v1h-1zM29 57h1v1h-1zM32 57h1v1h-1zM34 57h1v1h-1zM36 57h3v1h-3zM31 58h1v1h-1zM33 58h1v1h-1zM37 58h1v1h-1zM39 58h1v1h-1zM33 59h1v1h-1zM35 59h3v1h-3zM42 59h2v1h-2zM45 59h1v1h-1zM34 60h1v1h-1zM36 60h3v1h-3zM42 60h1v1h-1zM46 60h1v1h-1zM34 61h2v1h-2zM39 61h1v1h-1zM41 61h2v1h-2zM44 61h2v1h-2zM65 61h1v1h-1zM72 61h2v1h-2zM76 61h2v1h-2zM40 62h4v1h-4zM65 62h2v1h-2zM68 62h1v1h-1zM73 62h3v1h-3zM39 63h1v1h-1zM42 63h2v1h-2zM66 63h1v1h-1zM71 63h2v1h-2zM74 63h1v1h-1zM38 64h4v1h-4zM44 64h1v1h-1zM58 64h4v1h-4zM71 64h1v1h-1zM38 65h4v1h-4zM58 65h3v1h-3zM71 65h1v1h-1zM37 66h1v1h-1zM41 66h1v1h-1zM58 66h2v1h-2zM71 66h2v1h-2zM36 67h5v1h-5zM53 67h1v1h-1zM55 67h1v1h-1zM71 67h2v1h-2zM39 68h1v1h-1zM53 68h1v1h-1zM55 68h2v1h-2zM69 68h2v1h-2zM40 69h6v1h-6zM47 69h7v1h-7zM56 69h1v1h-1zM47 70h1v1h-1zM49 70h4v1h-4zM54 70h4v1h-4zM47 71h1v1h-1zM53 71h1v1h-1zM56 71h2v1h-2zM63 71h1v1h-1zM51 72h11v1h-11zM49 73h2v1h-2zM52 73h5v1h-5zM47 74h3v1h-3zM51 74h2v1h-2zM55 74h1v1h-1zM47 75h1v1h-1zM49 75h1v1h-1zM49 77h1v1h-1zM60 77h1v1h-1zM59 78h2v1h-2zM50 79h1v1h-1zM55 79h4v1h-4zM50 80h1v1h-1zM54 80h2v1h-2zM50 81h1v1h-1zM54 81h1v1h-1zM51 82h1v1h-1zM53 82h2v1h-2zM53 83h1v1h-1z"/><path fill="#810602" d="M48 22h1v1h-1zM58 22h1v1h-1zM48 23h1v1h-1zM50 25h1v1h-1zM53 26h1v1h-1zM50 28h2v1h-2zM53 28h1v1h-1zM48 29h2v1h-2zM54 29h1v1h-1zM57 29h5v1h-5zM48 30h2v1h-2zM54 30h4v1h-4zM63 30h1v1h-1zM44 31h1v1h-1zM46 31h2v1h-2zM55 31h2v1h-2zM58 31h1v1h-1zM62 31h1v1h-1zM64 31h1v1h-1zM42 32h1v1h-1zM44 32h2v1h-2zM47 32h1v1h-1zM57 32h3v1h-3zM63 32h2v1h-2zM43 33h1v1h-1zM45 33h1v1h-1zM57 33h2v1h-2zM62 33h2v1h-2zM44 34h2v1h-2zM58 34h1v1h-1zM44 35h1v1h-1zM47 35h1v1h-1zM57 35h2v1h-2zM61 35h5v1h-5zM46 36h1v1h-1zM58 36h5v1h-5zM64 36h1v1h-1zM25 37h1v1h-1zM44 37h2v1h-2zM59 37h2v1h-2zM64 37h1v1h-1zM41 38h1v1h-1zM43 38h1v1h-1zM45 38h2v1h-2zM58 38h2v1h-2zM40 39h1v1h-1zM42 39h1v1h-1zM38 40h1v1h-1zM63 40h1v1h-1zM62 41h1v1h-1zM68 41h1v1h-1zM70 41h1v1h-1zM32 42h1v1h-1zM35 42h1v1h-1zM59 42h3v1h-3zM66 42h1v1h-1zM68 42h2v1h-2zM35 43h1v1h-1zM61 43h3v1h-3zM65 43h1v1h-1zM67 43h1v1h-1zM34 44h1v1h-1zM61 44h2v1h-2zM64 44h2v1h-2zM32 45h2v1h-2zM59 45h1v1h-1zM66 45h1v1h-1zM69 45h1v1h-1zM72 45h1v1h-1zM31 46h2v1h-2zM61 46h2v1h-2zM69 46h3v1h-3zM30 47h1v1h-1zM59 47h3v1h-3zM64 47h2v1h-2zM72 47h1v1h-1zM75 47h2v1h-2zM29 48h3v1h-3zM61 48h2v1h-2zM33 49h2v1h-2zM33 50h1v1h-1zM35 50h1v1h-1zM78 50h1v1h-1zM32 51h2v1h-2zM38 51h1v1h-1zM40 51h2v1h-2zM43 51h1v1h-1zM32 52h1v1h-1zM42 52h1v1h-1zM78 52h1v1h-1zM31 53h3v1h-3zM32 54h1v1h-1zM38 54h1v1h-1zM67 54h1v1h-1zM78 54h1v1h-1zM28 55h1v1h-1zM42 55h1v1h-1zM65 55h1v1h-1zM77 55h2v1h-2zM30 56h1v1h-1zM32 56h1v1h-1zM39 56h1v1h-1zM49 56h1v1h-1zM65 56h1v1h-1zM31 57h1v1h-1zM33 57h1v1h-1zM39 57h3v1h-3zM47 57h3v1h-3zM64 57h2v1h-2zM77 57h1v1h-1zM32 58h1v1h-1zM40 58h1v1h-1zM42 58h6v1h-6zM64 58h1v1h-1zM77 58h1v1h-1zM40 59h2v1h-2zM47 59h1v1h-1zM77 59h1v1h-1zM40 60h2v1h-2zM62 60h1v1h-1zM64 60h2v1h-2zM69 60h3v1h-3zM74 60h1v1h-1zM76 60h2v1h-2zM36 61h1v1h-1zM40 61h1v1h-1zM46 61h1v1h-1zM63 61h2v1h-2zM67 61h2v1h-2zM71 61h1v1h-1zM74 61h2v1h-2zM45 62h1v1h-1zM61 62h1v1h-1zM63 62h2v1h-2zM67 62h1v1h-1zM71 62h2v1h-2zM76 62h1v1h-1zM44 63h1v1h-1zM59 63h6v1h-6zM67 63h4v1h-4zM43 64h1v1h-1zM64 64h1v1h-1zM42 65h2v1h-2zM54 65h2v1h-2zM57 65h1v1h-1zM61 65h1v1h-1zM64 65h2v1h-2zM38 66h3v1h-3zM42 66h2v1h-2zM51 66h7v1h-7zM60 66h1v1h-1zM62 66h2v1h-2zM41 67h1v1h-1zM46 67h1v1h-1zM51 67h2v1h-2zM54 67h1v1h-1zM56 67h4v1h-4zM40 68h6v1h-6zM47 68h1v1h-1zM49 68h4v1h-4zM57 68h1v1h-1zM64 68h1v1h-1zM46 69h1v1h-1zM57 69h3v1h-3zM64 69h1v1h-1zM58 70h2v1h-2zM64 70h1v1h-1zM58 71h2v1h-2zM62 72h1v1h-1zM51 73h1v1h-1zM57 73h2v1h-2zM53 74h2v1h-2zM56 74h2v1h-2zM59 74h1v1h-1zM48 75h1v1h-1zM50 75h4v1h-4zM56 75h4v1h-4zM48 76h3v1h-3zM57 76h1v1h-1zM59 76h2v1h-2zM50 77h1v1h-1zM56 77h4v1h-4zM50 78h1v1h-1zM56 78h3v1h-3zM54 79h1v1h-1zM59 79h1v1h-1zM51 80h1v1h-1zM53 80h1v1h-1zM51 81h3v1h-3zM52 82h1v1h-1zM52 83h1v1h-1z"/><path fill="#7a0403" d="M50 27h1v1h-1zM52 27h2v1h-2zM49 28h1v1h-1zM52 28h1v1h-1zM50 29h1v1h-1zM52 29h2v1h-2zM50 30h4v1h-4zM58 30h5v1h-5zM48 31h7v1h-7zM59 31h3v1h-3zM63 31h1v1h-1zM46 32h1v1h-1zM48 32h9v1h-9zM60 32h3v1h-3zM44 33h1v1h-1zM46 33h11v1h-11zM59 33h3v1h-3zM46 34h12v1h-12zM59 34h4v1h-4zM46 35h1v1h-1zM48 35h9v1h-9zM59 35h2v1h-2zM45 36h1v1h-1zM47 36h11v1h-11zM46 37h13v1h-13zM25 38h1v1h-1zM44 38h1v1h-1zM47 38h11v1h-11zM41 39h1v1h-1zM43 39h16v1h-16zM39 40h20v1h-20zM37 41h22v1h-22zM37 42h22v1h-22zM34 43h1v1h-1zM36 43h25v1h-25zM66 43h1v1h-1zM68 43h1v1h-1zM35 44h26v1h-26zM66 44h4v1h-4zM34 45h25v1h-25zM60 45h3v1h-3zM67 45h2v1h-2zM33 46h28v1h-28zM66 46h3v1h-3zM31 47h28v1h-28zM66 47h6v1h-6zM73 47h2v1h-2zM32 48h29v1h-29zM64 48h13v1h-13zM35 49h43v1h-43zM34 50h1v1h-1zM36 50h42v1h-42zM39 51h1v1h-1zM42 51h1v1h-1zM44 51h35v1h-35zM43 52h35v1h-35zM43 53h36v1h-36zM43 54h24v1h-24zM68 54h10v1h-10zM43 55h22v1h-22zM66 55h11v1h-11zM42 56h7v1h-7zM50 56h14v1h-14zM67 56h11v1h-11zM42 57h5v1h-5zM50 57h14v1h-14zM66 57h11v1h-11zM41 58h1v1h-1zM48 58h16v1h-16zM65 58h12v1h-12zM48 59h29v1h-29zM47 60h15v1h-15zM63 60h1v1h-1zM66 60h3v1h-3zM72 60h2v1h-2zM75 60h1v1h-1zM47 61h16v1h-16zM66 61h1v1h-1zM69 61h2v1h-2zM46 62h15v1h-15zM62 62h1v1h-1zM69 62h2v1h-2zM45 63h14v1h-14zM45 64h13v1h-13zM62 64h2v1h-2zM44 65h10v1h-10zM56 65h1v1h-1zM62 65h2v1h-2zM44 66h7v1h-7zM61 66h1v1h-1zM64 66h2v1h-2zM42 67h4v1h-4zM47 67h4v1h-4zM60 67h6v1h-6zM46 68h1v1h-1zM48 68h1v1h-1zM58 68h6v1h-6zM60 69h3v1h-3zM60 70h2v1h-2zM60 71h3v1h-3zM58 74h1v1h-1zM54 75h2v1h-2zM51 76h6v1h-6zM58 76h1v1h-1zM51 77h5v1h-5zM51 78h5v1h-5zM51 79h3v1h-3zM52 80h1v1h-1z"/></g>
<rect x="1412.6" y="1398.9" width="744.8" height="744.9" fill="none" stroke="#000" stroke-width="2.9"/>
<rect x="2169.9" y="1398.9" width="73.3" height="744.9" fill="url(#tg)"/>
<rect x="2169.9" y="1398.9" width="73.3" height="744.9" fill="none" stroke="#000" stroke-width="2.9"/>
<path d="M1399.3 1403.9h13.3M1399.3 2143.8h13.3M1417.2 2143.8v13.3M2157.4 2143.8v13.3M2243.2 2016.1h13.3M2243.2 1803.27h13.3M2243.2 1590.45h13.3" stroke="#000" stroke-width="2.9" fill="none"/>
<g font-size="45.83" letter-spacing="1"><text x="1388.9" y="1419.9" text-anchor="end">-2.4°N</text><text x="1388.9" y="2159.8" text-anchor="end">-4.9°N</text><text x="1417.2" y="2200.8" text-anchor="middle">32.0°E</text><text x="2154.4" y="2200.8" text-anchor="middle">35.4°E</text><text x="2265.1" y="2033.8">15</text><text x="2265.1" y="1820.97">20</text><text x="2265.1" y="1608.15">25</text></g>
<g font-size="55"><text x="1782.3" y="1376.7" text-anchor="middle"><tspan font-style="italic">T</tspan><tspan font-style="italic" font-size="37.6" dy="9.5">downscaled</tspan><tspan dy="-9.5"></tspan></text><text x="2204.1" y="1376.7" text-anchor="middle">°C</text></g>
<text x="1331.5" y="1316.3" font-size="66.7" font-weight="bold">D</text>
<g transform="translate(216.9 2609.8) scale(7.39)" shape-rendering="crispEdges"><path fill="#b9f635" d="M0 0h1v1h-1zM8 0h1v1h-1zM56 0h6v1h-6zM63 0h1v1h-1zM65 0h2v1h-2zM8 1h1v1h-1zM58 1h1v1h-1zM60 1h1v1h-1zM62 1h3v1h-3zM66 1h1v1h-1zM0 2h2v1h-2zM8 2h1v1h-1zM14 2h1v1h-1zM64 2h3v1h-3zM0 3h1v1h-1zM11 3h1v1h-1zM66 3h3v1h-3zM3 4h1v1h-1zM7 4h3v1h-3zM11 4h2v1h-2zM62 4h1v1h-1zM1 5h1v1h-1zM4 5h2v1h-2zM11 5h2v1h-2zM61 5h1v1h-1zM66 5h2v1h-2zM0 6h2v1h-2zM4 6h1v1h-1zM12 6h2v1h-2zM61 6h1v1h-1zM66 6h1v1h-1zM0 7h3v1h-3zM5 7h1v1h-1zM16 7h1v1h-1zM61 7h1v1h-1zM65 7h2v1h-2zM1 8h3v1h-3zM15 8h2v1h-2zM30 8h1v1h-1zM60 8h2v1h-2zM65 8h1v1h-1zM1 9h2v1h-2zM13 9h1v1h-1zM15 9h1v1h-1zM64 9h3v1h-3zM0 10h1v1h-1zM2 10h2v1h-2zM12 10h1v1h-1zM64 10h2v1h-2zM8 11h2v1h-2zM12 11h1v1h-1zM57 11h2v1h-2zM64 11h2v1h-2zM3 12h3v1h-3zM8 12h3v1h-3zM57 12h1v1h-1zM65 12h1v1h-1zM9 13h1v1h-1zM13 13h1v1h-1zM9 14h1v1h-1zM14 14h1v1h-1zM57 14h2v1h-2zM65 14h3v1h-3zM4 15h1v1h-1zM9 15h3v1h-3zM13 15h1v1h-1zM56 15h3v1h-3zM67 15h1v1h-1zM0 16h1v1h-1zM5 16h1v1h-1zM10 16h1v1h-1zM12 16h2v1h-2zM57 16h1v1h-1zM59 16h1v1h-1zM67 16h2v1h-2zM0 17h2v1h-2zM4 17h2v1h-2zM13 17h3v1h-3zM57 17h2v1h-2zM60 17h1v1h-1zM3 18h1v1h-1zM12 18h3v1h-3zM57 18h5v1h-5zM67 18h1v1h-1zM12 19h2v1h-2zM58 19h1v1h-1zM60 19h1v1h-1zM18 20h1v1h-1zM63 20h4v1h-4zM61 21h3v1h-3zM15 22h3v1h-3zM62 22h1v1h-1zM21 23h1v1h-1zM23 23h1v1h-1zM61 23h3v1h-3zM20 24h2v1h-2zM24 24h1v1h-1zM61 24h1v1h-1zM20 25h1v1h-1zM22 25h2v1h-2zM62 25h1v1h-1zM19 26h2v1h-2zM62 26h1v1h-1zM64 26h1v1h-1zM20 27h1v1h-1zM27 28h1v1h-1zM65 28h1v1h-1zM19 29h2v1h-2zM27 29h1v1h-1zM63 29h1v1h-1zM20 30h1v1h-1zM22 30h2v1h-2zM25 30h3v1h-3zM63 30h1v1h-1zM21 31h1v1h-1zM25 31h1v1h-1zM27 31h3v1h-3zM64 31h1v1h-1zM20 32h1v1h-1zM22 32h3v1h-3zM18 33h1v1h-1zM21 33h6v1h-6zM28 33h1v1h-1zM65 33h1v1h-1zM17 34h2v1h-2zM22 34h1v1h-1zM25 34h1v1h-1zM28 34h1v1h-1zM17 35h1v1h-1zM22 35h1v1h-1zM24 35h2v1h-2zM66 35h1v1h-1zM10 36h2v1h-2zM13 36h1v1h-1zM15 36h1v1h-1zM22 36h3v1h-3zM66 36h1v1h-1zM0 37h1v1h-1zM3 37h1v1h-1zM6 37h1v1h-1zM8 37h3v1h-3zM22 37h1v1h-1zM1 38h3v1h-3zM6 38h1v1h-1zM9 38h1v1h-1zM68 38h1v1h-1zM2 39h4v1h-4zM8 39h1v1h-1zM10 39h1v1h-1zM3 40h1v1h-1zM5 40h3v1h-3zM9 40h1v1h-1zM11 40h1v1h-1zM7 41h3v1h-3zM7 42h1v1h-1zM9 42h2v1h-2zM71 42h1v1h-1zM6 43h2v1h-2zM72 43h2v1h-2zM6 44h1v1h-1zM75 45h1v1h-1zM2 46h1v1h-1zM4 46h2v1h-2zM22 46h1v1h-1zM77 46h1v1h-1zM0 47h1v1h-1zM2 47h1v1h-1zM87 47h1v1h-1zM0 48h3v1h-3zM85 48h1v1h-1zM97 48h1v1h-1zM1 49h3v1h-3zM79 49h2v1h-2zM83 49h1v1h-1zM96 49h1v1h-1zM98 49h1v1h-1zM1 50h2v1h-2zM5 50h1v1h-1zM7 50h1v1h-1zM95 50h4v1h-4zM3 51h2v1h-2zM6 51h1v1h-1zM1 52h3v1h-3zM3 53h1v1h-1zM7 53h1v1h-1zM3 54h2v1h-2zM6 54h2v1h-2zM2 55h1v1h-1zM0 56h1v1h-1zM4 56h1v1h-1zM93 56h2v1h-2zM4 57h2v1h-2zM93 57h1v1h-1zM99 57h1v1h-1zM4 58h2v1h-2zM7 58h1v1h-1zM93 58h1v1h-1zM95 58h1v1h-1zM3 59h3v1h-3zM26 59h1v1h-1zM93 59h2v1h-2zM4 60h2v1h-2zM16 60h1v1h-1zM27 60h1v1h-1zM93 60h1v1h-1zM6 61h1v1h-1zM11 61h2v1h-2zM15 61h2v1h-2zM22 61h1v1h-1zM93 61h1v1h-1zM2 62h1v1h-1zM6 62h1v1h-1zM11 62h1v1h-1zM13 62h1v1h-1zM16 62h1v1h-1zM22 62h1v1h-1zM88 62h5v1h-5zM0 63h1v1h-1zM3 63h1v1h-1zM18 63h2v1h-2zM21 63h3v1h-3zM88 63h2v1h-2zM1 64h3v1h-3zM14 64h1v1h-1zM16 64h1v1h-1zM22 64h1v1h-1zM87 64h2v1h-2zM0 65h1v1h-1zM2 65h1v1h-1zM12 65h3v1h-3zM16 65h1v1h-1zM22 65h1v1h-1zM5 66h4v1h-4zM12 66h2v1h-2zM22 66h3v1h-3zM5 67h4v1h-4zM23 67h2v1h-2zM6 68h2v1h-2zM12 68h1v1h-1zM21 68h1v1h-1zM25 68h3v1h-3zM86 68h1v1h-1zM4 69h5v1h-5zM10 69h1v1h-1zM13 69h1v1h-1zM16 69h1v1h-1zM20 69h4v1h-4zM25 69h1v1h-1zM4 70h1v1h-1zM6 70h1v1h-1zM15 70h1v1h-1zM17 70h1v1h-1zM25 70h2v1h-2zM5 71h2v1h-2zM25 71h2v1h-2zM31 71h1v1h-1zM45 71h1v1h-1zM83 71h1v1h-1zM5 72h2v1h-2zM27 72h1v1h-1zM29 72h2v1h-2zM32 72h1v1h-1zM44 72h1v1h-1zM68 72h1v1h-1zM70 72h1v1h-1zM83 72h1v1h-1zM12 73h1v1h-1zM27 73h2v1h-2zM30 73h4v1h-4zM44 73h1v1h-1zM66 73h2v1h-2zM71 73h2v1h-2zM11 74h4v1h-4zM29 74h1v1h-1zM31 74h3v1h-3zM72 74h1v1h-1zM81 74h1v1h-1zM12 75h1v1h-1zM15 75h2v1h-2zM29 75h2v1h-2zM68 75h1v1h-1zM74 75h1v1h-1zM78 75h2v1h-2zM13 76h1v1h-1zM16 76h2v1h-2zM21 76h1v1h-1zM28 76h4v1h-4zM67 76h2v1h-2zM74 76h1v1h-1zM76 76h1v1h-1zM78 76h1v1h-1zM13 77h2v1h-2zM16 77h1v1h-1zM29 77h1v1h-1zM39 77h1v1h-1zM41 77h1v1h-1zM66 77h1v1h-1zM13 78h4v1h-4zM26 78h3v1h-3zM30 78h1v1h-1zM33 78h1v1h-1zM40 78h4v1h-4zM66 78h1v1h-1zM15 79h1v1h-1zM22 79h1v1h-1zM27 79h1v1h-1zM30 79h3v1h-3zM37 79h2v1h-2zM41 79h3v1h-3zM65 79h1v1h-1zM21 80h3v1h-3zM25 80h3v1h-3zM31 80h2v1h-2zM36 80h3v1h-3zM40 80h1v1h-1zM65 80h1v1h-1zM22 81h1v1h-1zM25 81h2v1h-2zM34 81h1v1h-1zM36 81h2v1h-2zM39 81h1v1h-1zM42 81h1v1h-1zM65 81h3v1h-3zM19 82h2v1h-2zM22 82h1v1h-1zM26 82h1v1h-1zM31 82h2v1h-2zM37 82h3v1h-3zM41 82h2v1h-2zM68 82h1v1h-1zM0 83h2v1h-2zM19 83h2v1h-2zM25 83h2v1h-2zM31 83h2v1h-2zM36 83h1v1h-1zM39 83h3v1h-3zM20 84h2v1h-2zM27 84h1v1h-1zM30 84h3v1h-3zM35 84h2v1h-2zM38 84h2v1h-2zM68 84h1v1h-1zM70 84h1v1h-1zM76 84h1v1h-1zM35 85h4v1h-4zM76 85h2v1h-2zM30 86h1v1h-1zM35 86h1v1h-1zM38 86h2v1h-2zM68 86h2v1h-2zM71 86h1v1h-1zM3 87h1v1h-1zM35 87h1v1h-1zM37 87h4v1h-4zM67 87h5v1h-5zM35 88h1v1h-1zM37 88h3v1h-3zM66 88h1v1h-1zM68 88h1v1h-1zM71 88h1v1h-1zM4 89h1v1h-1zM35 89h1v1h-1zM37 89h1v1h-1zM66 89h5v1h-5zM3 90h3v1h-3zM35 90h2v1h-2zM66 90h5v1h-5zM2 91h5v1h-5zM70 91h1v1h-1zM2 92h3v1h-3zM37 92h1v1h-1zM67 92h1v1h-1zM70 92h2v1h-2zM37 93h1v1h-1zM71 93h1v1h-1zM73 93h1v1h-1zM29 94h1v1h-1zM38 94h1v1h-1zM67 94h1v1h-1zM69 94h1v1h-1zM40 95h2v1h-2zM67 95h1v1h-1zM70 95h3v1h-3zM17 96h1v1h-1zM39 96h1v1h-1zM42 96h1v1h-1zM66 96h2v1h-2zM72 96h1v1h-1zM38 97h2v1h-2zM41 97h2v1h-2zM67 97h1v1h-1zM38 98h1v1h-1zM40 98h2v1h-2zM67 98h1v1h-1zM36 99h2v1h-2zM41 99h1v1h-1zM64 99h1v1h-1zM68 99h1v1h-1z"/><path fill="#9ffd3f" d="M2 0h1v1h-1zM13 0h1v1h-1zM67 0h1v1h-1zM1 1h1v1h-1zM2 2h1v1h-1zM68 2h1v1h-1zM6 3h1v1h-1zM63 3h1v1h-1zM5 4h2v1h-2zM63 4h1v1h-1zM68 4h1v1h-1zM0 5h1v1h-1zM63 5h1v1h-1zM68 5h1v1h-1zM8 6h3v1h-3zM62 6h1v1h-1zM64 6h1v1h-1zM8 7h3v1h-3zM5 8h1v1h-1zM8 8h2v1h-2zM4 9h3v1h-3zM8 9h2v1h-2zM11 9h1v1h-1zM67 9h2v1h-2zM67 10h1v1h-1zM6 11h1v1h-1zM66 11h1v1h-1zM8 13h1v1h-1zM66 13h2v1h-2zM7 14h1v1h-1zM68 14h1v1h-1zM6 15h1v1h-1zM7 16h1v1h-1zM9 16h1v1h-1zM69 16h1v1h-1zM7 17h2v1h-2zM10 17h1v1h-1zM68 17h1v1h-1zM8 18h2v1h-2zM11 18h1v1h-1zM68 18h1v1h-1zM0 19h5v1h-5zM9 19h1v1h-1zM10 21h4v1h-4zM67 21h1v1h-1zM65 22h2v1h-2zM15 23h1v1h-1zM64 23h1v1h-1zM66 23h2v1h-2zM66 25h1v1h-1zM66 26h1v1h-1zM17 27h2v1h-2zM66 27h1v1h-1zM18 28h1v1h-1zM66 28h1v1h-1zM17 29h1v1h-1zM67 29h2v1h-2zM16 30h1v1h-1zM19 30h1v1h-1zM69 30h1v1h-1zM17 31h2v1h-2zM67 31h5v1h-5zM17 32h1v1h-1zM66 32h2v1h-2zM69 32h1v1h-1zM17 33h1v1h-1zM68 33h2v1h-2zM71 33h1v1h-1zM66 34h2v1h-2zM3 35h1v1h-1zM5 35h1v1h-1zM8 35h1v1h-1zM12 35h3v1h-3zM0 36h6v1h-6zM7 36h2v1h-2zM67 36h2v1h-2zM69 38h1v1h-1zM1 40h2v1h-2zM71 40h2v1h-2zM2 41h1v1h-1zM72 41h1v1h-1zM2 42h2v1h-2zM2 43h1v1h-1zM74 43h1v1h-1zM93 43h1v1h-1zM95 43h1v1h-1zM1 44h4v1h-4zM75 44h1v1h-1zM93 44h1v1h-1zM0 45h3v1h-3zM76 45h1v1h-1zM85 47h2v1h-2zM90 47h2v1h-2zM80 48h1v1h-1zM92 48h1v1h-1zM96 48h1v1h-1zM98 48h1v1h-1zM81 49h1v1h-1zM2 56h2v1h-2zM0 57h1v1h-1zM2 57h1v1h-1zM1 58h2v1h-2zM98 58h2v1h-2zM2 59h1v1h-1zM95 59h1v1h-1zM97 59h1v1h-1zM1 60h1v1h-1zM4 61h1v1h-1zM94 61h1v1h-1zM11 63h1v1h-1zM92 63h1v1h-1zM5 64h2v1h-2zM8 64h1v1h-1zM12 64h1v1h-1zM20 64h1v1h-1zM89 64h1v1h-1zM5 65h1v1h-1zM8 65h4v1h-4zM18 65h2v1h-2zM2 66h1v1h-1zM10 66h1v1h-1zM17 66h3v1h-3zM21 66h1v1h-1zM1 67h1v1h-1zM4 67h1v1h-1zM10 67h1v1h-1zM20 67h1v1h-1zM88 67h1v1h-1zM1 68h2v1h-2zM87 68h1v1h-1zM2 69h1v1h-1zM1 70h2v1h-2zM7 70h1v1h-1zM9 70h1v1h-1zM12 70h2v1h-2zM18 70h1v1h-1zM2 71h1v1h-1zM7 71h2v1h-2zM10 71h3v1h-3zM16 71h1v1h-1zM19 71h2v1h-2zM84 71h1v1h-1zM10 72h1v1h-1zM12 72h2v1h-2zM16 72h1v1h-1zM21 72h2v1h-2zM84 72h1v1h-1zM3 73h1v1h-1zM8 73h4v1h-4zM15 73h2v1h-2zM21 73h1v1h-1zM24 73h2v1h-2zM70 73h1v1h-1zM4 74h2v1h-2zM8 74h1v1h-1zM20 74h3v1h-3zM24 74h3v1h-3zM83 74h1v1h-1zM4 75h6v1h-6zM11 75h1v1h-1zM18 75h2v1h-2zM22 75h5v1h-5zM72 75h1v1h-1zM5 76h1v1h-1zM7 76h1v1h-1zM9 76h1v1h-1zM18 76h1v1h-1zM23 76h1v1h-1zM25 76h2v1h-2zM69 76h5v1h-5zM80 76h3v1h-3zM1 77h1v1h-1zM3 77h1v1h-1zM10 77h1v1h-1zM18 77h2v1h-2zM24 77h1v1h-1zM26 77h1v1h-1zM68 77h1v1h-1zM70 77h2v1h-2zM73 77h2v1h-2zM78 77h1v1h-1zM0 78h1v1h-1zM7 78h1v1h-1zM9 78h3v1h-3zM67 78h3v1h-3zM71 78h2v1h-2zM78 78h1v1h-1zM7 79h1v1h-1zM10 79h4v1h-4zM16 79h2v1h-2zM19 79h2v1h-2zM67 79h5v1h-5zM73 79h2v1h-2zM77 79h2v1h-2zM0 80h2v1h-2zM8 80h2v1h-2zM15 80h3v1h-3zM19 80h1v1h-1zM33 80h1v1h-1zM67 80h3v1h-3zM72 80h2v1h-2zM75 80h1v1h-1zM78 80h1v1h-1zM2 81h1v1h-1zM8 81h2v1h-2zM24 81h1v1h-1zM33 81h1v1h-1zM69 81h2v1h-2zM72 81h2v1h-2zM2 82h1v1h-1zM7 82h3v1h-3zM16 82h3v1h-3zM23 82h1v1h-1zM33 82h1v1h-1zM35 82h2v1h-2zM70 82h2v1h-2zM73 82h1v1h-1zM76 82h3v1h-3zM3 83h2v1h-2zM6 83h3v1h-3zM10 83h1v1h-1zM12 83h1v1h-1zM17 83h2v1h-2zM22 83h1v1h-1zM24 83h1v1h-1zM35 83h1v1h-1zM70 83h1v1h-1zM72 83h1v1h-1zM75 83h1v1h-1zM78 83h1v1h-1zM4 84h2v1h-2zM11 84h2v1h-2zM22 84h3v1h-3zM74 84h2v1h-2zM78 84h1v1h-1zM0 85h1v1h-1zM5 85h1v1h-1zM7 85h3v1h-3zM12 85h1v1h-1zM19 85h1v1h-1zM21 85h5v1h-5zM69 85h1v1h-1zM71 85h1v1h-1zM73 85h1v1h-1zM75 85h1v1h-1zM5 86h1v1h-1zM7 86h2v1h-2zM12 86h1v1h-1zM20 86h2v1h-2zM24 86h2v1h-2zM32 86h1v1h-1zM37 86h1v1h-1zM73 86h2v1h-2zM76 86h2v1h-2zM2 87h1v1h-1zM5 87h1v1h-1zM8 87h2v1h-2zM11 87h1v1h-1zM23 87h2v1h-2zM26 87h1v1h-1zM31 87h3v1h-3zM73 87h1v1h-1zM4 88h3v1h-3zM8 88h4v1h-4zM23 88h2v1h-2zM26 88h2v1h-2zM30 88h5v1h-5zM1 89h1v1h-1zM7 89h2v1h-2zM17 89h1v1h-1zM22 89h2v1h-2zM25 89h1v1h-1zM27 89h1v1h-1zM32 89h1v1h-1zM34 89h1v1h-1zM73 89h1v1h-1zM0 90h1v1h-1zM2 90h1v1h-1zM13 90h2v1h-2zM17 90h1v1h-1zM24 90h2v1h-2zM27 90h1v1h-1zM34 90h1v1h-1zM72 90h1v1h-1zM74 90h1v1h-1zM12 91h2v1h-2zM24 91h1v1h-1zM26 91h3v1h-3zM72 91h2v1h-2zM76 91h1v1h-1zM5 92h1v1h-1zM11 92h1v1h-1zM13 92h2v1h-2zM16 92h1v1h-1zM26 92h1v1h-1zM28 92h1v1h-1zM72 92h2v1h-2zM75 92h1v1h-1zM4 93h4v1h-4zM10 93h4v1h-4zM15 93h1v1h-1zM27 93h3v1h-3zM35 93h1v1h-1zM1 94h1v1h-1zM4 94h2v1h-2zM9 94h1v1h-1zM12 94h4v1h-4zM17 94h5v1h-5zM28 94h1v1h-1zM36 94h1v1h-1zM74 94h1v1h-1zM2 95h1v1h-1zM5 95h5v1h-5zM12 95h5v1h-5zM20 95h3v1h-3zM29 95h1v1h-1zM37 95h1v1h-1zM73 95h1v1h-1zM0 96h1v1h-1zM4 96h1v1h-1zM9 96h3v1h-3zM14 96h3v1h-3zM36 96h2v1h-2zM69 96h2v1h-2zM73 96h1v1h-1zM0 97h1v1h-1zM6 97h10v1h-10zM19 97h1v1h-1zM36 97h1v1h-1zM69 97h1v1h-1zM71 97h1v1h-1zM10 98h2v1h-2zM14 98h2v1h-2zM26 98h3v1h-3zM69 98h4v1h-4zM9 99h2v1h-2zM18 99h2v1h-2zM22 99h2v1h-2zM28 99h1v1h-1zM35 99h1v1h-1zM66 99h1v1h-1zM69 99h1v1h-1zM72 99h1v1h-1z"/><path fill="#6dfe62" d="M5 0h2v1h-2zM71 0h1v1h-1zM70 1h1v1h-1zM70 2h2v1h-2zM69 5h1v1h-1zM69 6h1v1h-1zM69 7h1v1h-1zM69 8h1v1h-1zM70 9h1v1h-1zM70 11h1v1h-1zM70 14h1v1h-1zM70 15h1v1h-1zM69 18h1v1h-1zM69 19h1v1h-1zM0 21h1v1h-1zM4 21h1v1h-1zM7 21h1v1h-1zM12 22h1v1h-1zM69 22h1v1h-1zM12 23h2v1h-2zM69 23h1v1h-1zM14 24h1v1h-1zM69 24h1v1h-1zM15 25h1v1h-1zM68 25h2v1h-2zM69 26h1v1h-1zM69 27h3v1h-3zM15 28h1v1h-1zM71 29h1v1h-1zM15 30h1v1h-1zM15 32h1v1h-1zM7 33h2v1h-2zM15 33h1v1h-1zM0 34h1v1h-1zM2 34h2v1h-2zM5 34h1v1h-1zM12 34h1v1h-1zM72 34h1v1h-1zM69 35h1v1h-1zM71 35h1v1h-1zM70 36h1v1h-1zM71 37h2v1h-2zM72 39h2v1h-2zM73 40h1v1h-1zM92 40h2v1h-2zM93 41h2v1h-2zM75 42h1v1h-1zM91 42h2v1h-2zM91 43h1v1h-1zM77 44h1v1h-1zM91 45h1v1h-1zM99 45h1v1h-1zM84 46h1v1h-1zM90 46h1v1h-1zM80 47h3v1h-3zM96 60h4v1h-4zM90 65h1v1h-1zM89 67h1v1h-1zM87 70h1v1h-1zM87 71h1v1h-1zM0 73h2v1h-2zM85 74h1v1h-1zM84 75h1v1h-1zM83 76h1v1h-1zM83 77h1v1h-1zM82 78h1v1h-1zM3 79h1v1h-1zM18 79h1v1h-1zM81 79h1v1h-1zM83 79h1v1h-1zM81 80h1v1h-1zM80 81h1v1h-1zM12 82h1v1h-1zM15 82h1v1h-1zM80 84h1v1h-1zM16 85h2v1h-2zM18 86h1v1h-1zM79 86h1v1h-1zM16 87h1v1h-1zM76 88h1v1h-1zM79 88h1v1h-1zM79 89h1v1h-1zM80 90h1v1h-1zM21 91h1v1h-1zM78 91h2v1h-2zM20 92h1v1h-1zM22 92h1v1h-1zM77 92h1v1h-1zM21 93h1v1h-1zM33 93h1v1h-1zM77 93h1v1h-1zM33 94h2v1h-2zM76 94h1v1h-1zM32 95h1v1h-1zM27 96h1v1h-1zM31 96h1v1h-1zM33 96h2v1h-2zM75 96h1v1h-1zM31 97h1v1h-1zM33 97h1v1h-1zM4 98h1v1h-1zM31 98h3v1h-3zM5 99h2v1h-2zM31 99h2v1h-2zM75 99h1v1h-1z"/><path fill="#8fff49" d="M7 0h1v1h-1zM68 0h1v1h-1zM7 1h1v1h-1zM68 1h1v1h-1zM3 2h1v1h-1zM6 2h1v1h-1zM69 2h1v1h-1zM4 3h2v1h-2zM64 5h1v1h-1zM63 6h1v1h-1zM68 6h1v1h-1zM68 7h1v1h-1zM68 8h1v1h-1zM4 10h2v1h-2zM69 10h1v1h-1zM67 11h1v1h-1zM66 12h3v1h-3zM68 13h1v1h-1zM69 17h1v1h-1zM6 19h3v1h-3zM68 19h1v1h-1zM1 20h2v1h-2zM4 20h1v1h-1zM8 20h1v1h-1zM68 20h1v1h-1zM9 21h1v1h-1zM66 21h1v1h-1zM14 22h1v1h-1zM67 22h1v1h-1zM65 24h1v1h-1zM67 24h2v1h-2zM67 25h1v1h-1zM67 26h1v1h-1zM16 28h1v1h-1zM68 28h1v1h-1zM16 29h1v1h-1zM70 30h2v1h-2zM16 31h1v1h-1zM70 32h2v1h-2zM16 33h1v1h-1zM70 33h1v1h-1zM15 34h1v1h-1zM68 34h3v1h-3zM2 35h1v1h-1zM4 35h1v1h-1zM6 35h2v1h-2zM9 35h3v1h-3zM68 35h1v1h-1zM69 37h1v1h-1zM71 39h1v1h-1zM0 40h1v1h-1zM0 41h2v1h-2zM73 41h1v1h-1zM95 41h1v1h-1zM1 42h1v1h-1zM74 42h1v1h-1zM93 42h1v1h-1zM0 43h2v1h-2zM3 43h1v1h-1zM75 43h1v1h-1zM94 43h1v1h-1zM0 44h1v1h-1zM92 44h1v1h-1zM92 45h2v1h-2zM0 46h1v1h-1zM86 46h2v1h-2zM92 46h1v1h-1zM96 46h1v1h-1zM79 47h1v1h-1zM83 47h2v1h-2zM89 47h1v1h-1zM92 47h1v1h-1zM96 47h2v1h-2zM81 48h2v1h-2zM1 59h1v1h-1zM96 59h1v1h-1zM0 60h1v1h-1zM95 60h1v1h-1zM94 62h1v1h-1zM7 63h2v1h-2zM93 63h1v1h-1zM9 64h2v1h-2zM90 64h1v1h-1zM89 65h1v1h-1zM11 69h1v1h-1zM86 69h1v1h-1zM0 70h1v1h-1zM85 70h2v1h-2zM0 71h2v1h-2zM9 71h1v1h-1zM13 71h1v1h-1zM85 71h1v1h-1zM1 72h2v1h-2zM8 72h2v1h-2zM18 72h3v1h-3zM17 73h4v1h-4zM84 73h1v1h-1zM2 74h2v1h-2zM9 74h1v1h-1zM18 74h2v1h-2zM1 75h3v1h-3zM83 75h1v1h-1zM0 76h2v1h-2zM3 76h2v1h-2zM6 76h1v1h-1zM24 76h1v1h-1zM2 77h1v1h-1zM4 77h4v1h-4zM9 77h1v1h-1zM23 77h1v1h-1zM69 77h1v1h-1zM79 77h4v1h-4zM1 78h1v1h-1zM3 78h1v1h-1zM6 78h1v1h-1zM8 78h1v1h-1zM18 78h2v1h-2zM70 78h1v1h-1zM74 78h1v1h-1zM79 78h1v1h-1zM0 79h3v1h-3zM4 79h1v1h-1zM6 79h1v1h-1zM8 79h2v1h-2zM75 79h2v1h-2zM79 79h1v1h-1zM2 80h1v1h-1zM4 80h4v1h-4zM10 80h5v1h-5zM18 80h1v1h-1zM74 80h1v1h-1zM77 80h1v1h-1zM79 80h1v1h-1zM6 81h2v1h-2zM10 81h1v1h-1zM15 81h1v1h-1zM18 81h1v1h-1zM71 81h1v1h-1zM74 81h5v1h-5zM3 82h2v1h-2zM6 82h1v1h-1zM11 82h1v1h-1zM72 82h1v1h-1zM74 82h2v1h-2zM79 82h1v1h-1zM5 83h1v1h-1zM11 83h1v1h-1zM13 83h1v1h-1zM16 83h1v1h-1zM71 83h1v1h-1zM73 83h2v1h-2zM79 83h1v1h-1zM13 84h1v1h-1zM72 84h2v1h-2zM79 84h1v1h-1zM4 85h1v1h-1zM6 85h1v1h-1zM13 85h2v1h-2zM18 85h1v1h-1zM74 85h1v1h-1zM79 85h1v1h-1zM1 86h1v1h-1zM6 86h1v1h-1zM13 86h1v1h-1zM19 86h1v1h-1zM22 86h2v1h-2zM33 86h1v1h-1zM75 86h1v1h-1zM0 87h2v1h-2zM6 87h2v1h-2zM15 87h1v1h-1zM19 87h4v1h-4zM2 88h1v1h-1zM7 88h1v1h-1zM12 88h4v1h-4zM20 88h3v1h-3zM73 88h2v1h-2zM77 88h1v1h-1zM0 89h1v1h-1zM9 89h2v1h-2zM12 89h5v1h-5zM19 89h2v1h-2zM26 89h1v1h-1zM30 89h2v1h-2zM33 89h1v1h-1zM74 89h4v1h-4zM8 90h1v1h-1zM12 90h1v1h-1zM15 90h2v1h-2zM19 90h1v1h-1zM22 90h1v1h-1zM26 90h1v1h-1zM28 90h1v1h-1zM30 90h4v1h-4zM73 90h1v1h-1zM76 90h2v1h-2zM8 91h1v1h-1zM11 91h1v1h-1zM14 91h6v1h-6zM22 91h2v1h-2zM25 91h1v1h-1zM29 91h1v1h-1zM32 91h3v1h-3zM8 92h1v1h-1zM10 92h1v1h-1zM12 92h1v1h-1zM15 92h1v1h-1zM18 92h1v1h-1zM23 92h1v1h-1zM25 92h1v1h-1zM27 92h1v1h-1zM29 92h2v1h-2zM33 92h3v1h-3zM76 92h1v1h-1zM8 93h1v1h-1zM14 93h1v1h-1zM16 93h4v1h-4zM22 93h1v1h-1zM24 93h3v1h-3zM30 93h2v1h-2zM75 93h1v1h-1zM0 94h1v1h-1zM3 94h1v1h-1zM6 94h2v1h-2zM16 94h1v1h-1zM22 94h6v1h-6zM75 94h1v1h-1zM1 95h1v1h-1zM3 95h1v1h-1zM23 95h2v1h-2zM26 95h1v1h-1zM28 95h1v1h-1zM36 95h1v1h-1zM69 95h1v1h-1zM74 95h2v1h-2zM1 96h3v1h-3zM12 96h2v1h-2zM20 96h1v1h-1zM23 96h2v1h-2zM29 96h1v1h-1zM4 97h2v1h-2zM22 97h6v1h-6zM29 97h1v1h-1zM35 97h1v1h-1zM73 97h1v1h-1zM3 98h1v1h-1zM7 98h1v1h-1zM12 98h2v1h-2zM19 98h3v1h-3zM24 98h1v1h-1zM29 98h1v1h-1zM35 98h1v1h-1zM1 99h1v1h-1zM7 99h2v1h-2zM12 99h3v1h-3zM20 99h2v1h-2zM29 99h1v1h-1zM34 99h1v1h-1zM70 99h2v1h-2zM73 99h1v1h-1z"/><path fill="#d2e935" d="M9 0h1v1h-1zM9 2h2v1h-2zM30 2h4v1h-4zM57 2h1v1h-1zM59 2h2v1h-2zM19 3h2v1h-2zM30 3h5v1h-5zM57 3h2v1h-2zM18 4h1v1h-1zM30 4h1v1h-1zM32 4h1v1h-1zM60 4h1v1h-1zM13 5h1v1h-1zM18 5h1v1h-1zM29 5h4v1h-4zM59 5h1v1h-1zM17 6h1v1h-1zM19 6h2v1h-2zM23 6h1v1h-1zM30 6h1v1h-1zM53 6h1v1h-1zM58 6h2v1h-2zM17 7h1v1h-1zM19 7h1v1h-1zM21 7h1v1h-1zM29 7h1v1h-1zM52 7h1v1h-1zM56 7h3v1h-3zM17 8h3v1h-3zM21 8h2v1h-2zM29 8h1v1h-1zM33 8h1v1h-1zM53 8h4v1h-4zM17 9h2v1h-2zM22 9h2v1h-2zM29 9h1v1h-1zM33 9h1v1h-1zM53 9h3v1h-3zM60 9h1v1h-1zM62 9h1v1h-1zM15 10h2v1h-2zM18 10h1v1h-1zM20 10h2v1h-2zM30 10h2v1h-2zM53 10h3v1h-3zM60 10h1v1h-1zM62 10h2v1h-2zM0 11h1v1h-1zM13 11h1v1h-1zM17 11h5v1h-5zM33 11h1v1h-1zM53 11h3v1h-3zM60 11h1v1h-1zM62 11h1v1h-1zM0 12h1v1h-1zM2 12h1v1h-1zM14 12h3v1h-3zM18 12h3v1h-3zM32 12h1v1h-1zM54 12h2v1h-2zM62 12h1v1h-1zM0 13h2v1h-2zM14 13h1v1h-1zM21 13h1v1h-1zM32 13h2v1h-2zM56 13h1v1h-1zM61 13h2v1h-2zM1 14h1v1h-1zM3 14h1v1h-1zM12 14h1v1h-1zM16 14h1v1h-1zM54 14h2v1h-2zM60 14h1v1h-1zM1 15h3v1h-3zM15 15h3v1h-3zM42 15h2v1h-2zM54 15h1v1h-1zM64 15h1v1h-1zM2 16h1v1h-1zM16 16h2v1h-2zM45 16h1v1h-1zM54 16h1v1h-1zM63 16h2v1h-2zM66 16h1v1h-1zM3 17h1v1h-1zM16 17h1v1h-1zM48 17h2v1h-2zM55 17h1v1h-1zM63 17h3v1h-3zM18 18h1v1h-1zM54 18h1v1h-1zM56 18h1v1h-1zM63 18h1v1h-1zM65 18h2v1h-2zM22 19h1v1h-1zM31 19h3v1h-3zM55 19h1v1h-1zM57 19h1v1h-1zM21 20h2v1h-2zM30 20h4v1h-4zM20 21h2v1h-2zM30 21h1v1h-1zM32 21h2v1h-2zM50 21h1v1h-1zM57 21h1v1h-1zM59 21h2v1h-2zM18 22h3v1h-3zM24 22h1v1h-1zM30 22h1v1h-1zM34 22h1v1h-1zM52 22h2v1h-2zM57 22h1v1h-1zM59 22h2v1h-2zM32 23h2v1h-2zM36 23h1v1h-1zM51 23h1v1h-1zM53 23h3v1h-3zM34 24h3v1h-3zM52 24h1v1h-1zM54 24h3v1h-3zM59 24h2v1h-2zM29 25h1v1h-1zM50 25h1v1h-1zM53 25h4v1h-4zM60 25h1v1h-1zM23 26h2v1h-2zM41 26h1v1h-1zM54 26h2v1h-2zM61 26h1v1h-1zM22 27h1v1h-1zM26 27h2v1h-2zM40 27h1v1h-1zM43 27h1v1h-1zM47 27h2v1h-2zM51 27h3v1h-3zM55 27h2v1h-2zM63 27h1v1h-1zM22 28h1v1h-1zM24 28h3v1h-3zM28 28h1v1h-1zM39 28h2v1h-2zM43 28h2v1h-2zM46 28h3v1h-3zM62 28h1v1h-1zM23 29h1v1h-1zM47 29h1v1h-1zM52 29h2v1h-2zM55 29h1v1h-1zM62 29h1v1h-1zM31 30h1v1h-1zM41 30h1v1h-1zM43 30h1v1h-1zM46 30h1v1h-1zM52 30h1v1h-1zM55 30h2v1h-2zM58 30h1v1h-1zM32 31h1v1h-1zM34 31h1v1h-1zM41 31h3v1h-3zM47 31h1v1h-1zM53 31h1v1h-1zM56 31h3v1h-3zM63 31h1v1h-1zM31 32h3v1h-3zM36 32h1v1h-1zM41 32h1v1h-1zM58 32h2v1h-2zM30 33h3v1h-3zM34 33h1v1h-1zM36 33h1v1h-1zM58 33h3v1h-3zM64 33h1v1h-1zM30 34h2v1h-2zM35 34h1v1h-1zM38 34h1v1h-1zM42 34h1v1h-1zM59 34h1v1h-1zM62 34h2v1h-2zM29 35h3v1h-3zM35 35h3v1h-3zM39 35h1v1h-1zM41 35h1v1h-1zM60 35h1v1h-1zM64 35h1v1h-1zM16 36h5v1h-5zM27 36h1v1h-1zM29 36h1v1h-1zM36 36h1v1h-1zM38 36h1v1h-1zM41 36h1v1h-1zM44 36h1v1h-1zM11 37h3v1h-3zM15 37h1v1h-1zM17 37h5v1h-5zM23 37h5v1h-5zM40 37h1v1h-1zM12 38h1v1h-1zM14 38h1v1h-1zM16 38h4v1h-4zM21 38h1v1h-1zM23 38h2v1h-2zM27 38h2v1h-2zM34 38h2v1h-2zM67 38h1v1h-1zM12 39h1v1h-1zM14 39h3v1h-3zM18 39h2v1h-2zM22 39h1v1h-1zM26 39h1v1h-1zM14 40h5v1h-5zM24 40h1v1h-1zM26 40h1v1h-1zM68 40h1v1h-1zM12 41h1v1h-1zM16 41h1v1h-1zM18 41h1v1h-1zM23 41h4v1h-4zM67 41h3v1h-3zM13 42h2v1h-2zM16 42h1v1h-1zM22 42h3v1h-3zM69 42h1v1h-1zM11 43h3v1h-3zM16 43h1v1h-1zM19 43h1v1h-1zM22 43h1v1h-1zM24 43h1v1h-1zM11 44h1v1h-1zM13 44h1v1h-1zM20 44h1v1h-1zM22 44h2v1h-2zM71 44h1v1h-1zM7 45h5v1h-5zM13 45h1v1h-1zM24 45h4v1h-4zM30 45h1v1h-1zM7 46h3v1h-3zM11 46h4v1h-4zM19 46h2v1h-2zM24 46h5v1h-5zM30 46h1v1h-1zM73 46h1v1h-1zM6 47h3v1h-3zM12 47h1v1h-1zM19 47h1v1h-1zM23 47h2v1h-2zM28 47h3v1h-3zM75 47h1v1h-1zM77 47h1v1h-1zM7 48h2v1h-2zM10 48h3v1h-3zM19 48h5v1h-5zM76 48h1v1h-1zM86 48h2v1h-2zM6 49h1v1h-1zM10 49h3v1h-3zM37 49h1v1h-1zM44 49h2v1h-2zM78 49h1v1h-1zM85 49h2v1h-2zM8 50h3v1h-3zM35 50h1v1h-1zM37 50h1v1h-1zM80 50h1v1h-1zM82 50h1v1h-1zM84 50h1v1h-1zM9 51h1v1h-1zM34 51h1v1h-1zM36 51h1v1h-1zM98 51h2v1h-2zM34 52h3v1h-3zM92 52h3v1h-3zM96 52h2v1h-2zM34 53h3v1h-3zM94 53h1v1h-1zM98 53h1v1h-1zM0 54h2v1h-2zM8 54h1v1h-1zM34 54h3v1h-3zM92 54h1v1h-1zM94 54h1v1h-1zM98 54h1v1h-1zM0 55h1v1h-1zM7 55h2v1h-2zM36 55h1v1h-1zM91 55h3v1h-3zM96 55h1v1h-1zM8 56h1v1h-1zM91 56h1v1h-1zM95 56h4v1h-4zM8 57h1v1h-1zM14 57h2v1h-2zM17 57h1v1h-1zM26 57h2v1h-2zM33 57h1v1h-1zM91 57h1v1h-1zM95 57h3v1h-3zM8 58h1v1h-1zM11 58h1v1h-1zM17 58h1v1h-1zM25 58h1v1h-1zM32 58h3v1h-3zM92 58h1v1h-1zM11 59h1v1h-1zM13 59h1v1h-1zM15 59h1v1h-1zM18 59h1v1h-1zM24 59h2v1h-2zM28 59h1v1h-1zM32 59h3v1h-3zM92 59h1v1h-1zM14 60h1v1h-1zM17 60h5v1h-5zM23 60h1v1h-1zM88 60h2v1h-2zM92 60h1v1h-1zM18 61h1v1h-1zM25 61h1v1h-1zM28 61h1v1h-1zM87 61h3v1h-3zM91 61h2v1h-2zM17 62h2v1h-2zM25 62h4v1h-4zM86 62h1v1h-1zM24 63h1v1h-1zM24 64h1v1h-1zM24 65h1v1h-1zM27 65h1v1h-1zM27 66h2v1h-2zM42 66h2v1h-2zM14 67h2v1h-2zM27 67h1v1h-1zM33 67h1v1h-1zM41 67h1v1h-1zM43 67h2v1h-2zM84 67h1v1h-1zM14 68h2v1h-2zM28 68h2v1h-2zM32 68h1v1h-1zM42 68h2v1h-2zM82 68h2v1h-2zM15 69h1v1h-1zM28 69h1v1h-1zM31 69h3v1h-3zM35 69h1v1h-1zM42 69h3v1h-3zM82 69h1v1h-1zM29 70h3v1h-3zM42 70h3v1h-3zM46 70h2v1h-2zM67 70h2v1h-2zM82 70h1v1h-1zM29 71h1v1h-1zM33 71h2v1h-2zM43 71h1v1h-1zM47 71h1v1h-1zM72 71h1v1h-1zM82 71h1v1h-1zM36 72h3v1h-3zM46 72h2v1h-2zM65 72h1v1h-1zM71 72h4v1h-4zM81 72h1v1h-1zM34 73h3v1h-3zM38 73h1v1h-1zM41 73h2v1h-2zM46 73h1v1h-1zM74 73h2v1h-2zM80 73h1v1h-1zM35 74h1v1h-1zM37 74h1v1h-1zM39 74h1v1h-1zM45 74h1v1h-1zM65 74h1v1h-1zM75 74h1v1h-1zM77 74h1v1h-1zM38 75h6v1h-6zM65 75h2v1h-2zM76 75h2v1h-2zM33 76h3v1h-3zM43 76h1v1h-1zM15 77h1v1h-1zM32 77h2v1h-2zM35 77h3v1h-3zM43 77h2v1h-2zM64 77h2v1h-2zM34 78h3v1h-3zM44 78h1v1h-1zM64 78h1v1h-1zM40 79h1v1h-1zM63 80h2v1h-2zM27 81h1v1h-1zM63 81h2v1h-2zM44 82h2v1h-2zM63 82h2v1h-2zM43 83h2v1h-2zM66 83h2v1h-2zM43 84h1v1h-1zM66 84h2v1h-2zM67 85h1v1h-1zM40 86h1v1h-1zM64 86h1v1h-1zM66 86h1v1h-1zM41 87h2v1h-2zM66 87h1v1h-1zM42 88h2v1h-2zM63 88h2v1h-2zM39 89h1v1h-1zM63 89h2v1h-2zM39 90h1v1h-1zM64 90h1v1h-1zM39 91h1v1h-1zM66 91h1v1h-1zM42 92h1v1h-1zM66 92h1v1h-1zM69 92h1v1h-1zM40 93h3v1h-3zM62 93h1v1h-1zM66 93h1v1h-1zM65 94h2v1h-2zM43 95h1v1h-1zM64 95h1v1h-1zM43 96h1v1h-1zM43 97h1v1h-1zM43 98h1v1h-1zM63 98h1v1h-1z"/><path fill="#acfb38" d="M14 0h1v1h-1zM64 0h1v1h-1zM0 1h1v1h-1zM2 1h1v1h-1zM13 1h2v1h-2zM61 1h1v1h-1zM65 1h1v1h-1zM67 1h1v1h-1zM7 2h1v1h-1zM12 2h2v1h-2zM63 2h1v1h-1zM67 2h1v1h-1zM3 3h1v1h-1zM7 3h1v1h-1zM9 3h1v1h-1zM12 3h1v1h-1zM62 3h1v1h-1zM64 3h2v1h-2zM4 4h1v1h-1zM64 4h4v1h-4zM6 5h5v1h-5zM62 5h1v1h-1zM65 5h1v1h-1zM5 6h3v1h-3zM11 6h1v1h-1zM65 6h1v1h-1zM67 6h1v1h-1zM3 7h2v1h-2zM6 7h2v1h-2zM11 7h3v1h-3zM62 7h3v1h-3zM67 7h1v1h-1zM4 8h1v1h-1zM6 8h2v1h-2zM10 8h5v1h-5zM66 8h2v1h-2zM3 9h1v1h-1zM7 9h1v1h-1zM10 9h1v1h-1zM12 9h1v1h-1zM1 10h1v1h-1zM6 10h6v1h-6zM66 10h1v1h-1zM3 11h3v1h-3zM7 11h1v1h-1zM10 11h2v1h-2zM6 12h2v1h-2zM11 12h1v1h-1zM5 13h3v1h-3zM11 13h1v1h-1zM65 13h1v1h-1zM5 14h2v1h-2zM8 14h1v1h-1zM10 14h1v1h-1zM0 15h1v1h-1zM5 15h1v1h-1zM7 15h2v1h-2zM12 15h1v1h-1zM68 15h2v1h-2zM6 16h1v1h-1zM8 16h1v1h-1zM11 16h1v1h-1zM6 17h1v1h-1zM9 17h1v1h-1zM11 17h2v1h-2zM59 17h1v1h-1zM0 18h3v1h-3zM4 18h4v1h-4zM10 18h1v1h-1zM5 19h1v1h-1zM10 19h2v1h-2zM67 19h1v1h-1zM9 20h6v1h-6zM67 20h1v1h-1zM14 21h1v1h-1zM64 21h2v1h-2zM63 22h2v1h-2zM16 23h1v1h-1zM65 23h1v1h-1zM16 24h2v1h-2zM22 24h2v1h-2zM63 24h2v1h-2zM66 24h1v1h-1zM19 25h1v1h-1zM21 25h1v1h-1zM63 25h3v1h-3zM65 26h1v1h-1zM19 27h1v1h-1zM65 27h1v1h-1zM17 28h1v1h-1zM19 28h2v1h-2zM18 29h1v1h-1zM64 29h3v1h-3zM17 30h2v1h-2zM64 30h5v1h-5zM19 31h1v1h-1zM65 31h2v1h-2zM18 32h1v1h-1zM65 32h1v1h-1zM68 32h1v1h-1zM66 33h2v1h-2zM16 34h1v1h-1zM23 34h2v1h-2zM15 35h2v1h-2zM23 35h1v1h-1zM67 35h1v1h-1zM6 36h1v1h-1zM9 36h1v1h-1zM1 37h2v1h-2zM4 37h2v1h-2zM7 37h1v1h-1zM68 37h1v1h-1zM0 38h1v1h-1zM4 38h2v1h-2zM0 39h2v1h-2zM7 39h1v1h-1zM69 39h2v1h-2zM4 40h1v1h-1zM8 40h1v1h-1zM10 40h1v1h-1zM70 40h1v1h-1zM3 41h4v1h-4zM71 41h1v1h-1zM4 42h3v1h-3zM72 42h1v1h-1zM4 43h2v1h-2zM5 44h1v1h-1zM74 44h1v1h-1zM3 45h3v1h-3zM1 46h1v1h-1zM3 46h1v1h-1zM75 46h1v1h-1zM78 46h1v1h-1zM1 47h1v1h-1zM88 47h1v1h-1zM79 48h1v1h-1zM83 48h2v1h-2zM89 48h3v1h-3zM99 48h1v1h-1zM4 49h1v1h-1zM82 49h1v1h-1zM95 49h1v1h-1zM97 49h1v1h-1zM0 51h2v1h-2zM7 51h1v1h-1zM4 52h1v1h-1zM7 52h1v1h-1zM4 53h1v1h-1zM5 54h1v1h-1zM3 55h1v1h-1zM1 56h1v1h-1zM1 57h1v1h-1zM3 57h1v1h-1zM94 57h1v1h-1zM3 58h1v1h-1zM94 58h1v1h-1zM96 58h2v1h-2zM2 60h2v1h-2zM94 60h1v1h-1zM0 61h4v1h-4zM5 61h1v1h-1zM3 62h3v1h-3zM9 62h2v1h-2zM12 62h1v1h-1zM14 62h2v1h-2zM93 62h1v1h-1zM4 63h3v1h-3zM9 63h2v1h-2zM12 63h5v1h-5zM90 63h2v1h-2zM4 64h1v1h-1zM7 64h1v1h-1zM11 64h1v1h-1zM13 64h1v1h-1zM17 64h3v1h-3zM21 64h1v1h-1zM3 65h2v1h-2zM6 65h2v1h-2zM17 65h1v1h-1zM20 65h2v1h-2zM88 65h1v1h-1zM0 66h2v1h-2zM3 66h2v1h-2zM9 66h1v1h-1zM11 66h1v1h-1zM20 66h1v1h-1zM87 66h2v1h-2zM0 67h1v1h-1zM2 67h2v1h-2zM9 67h1v1h-1zM11 67h2v1h-2zM17 67h3v1h-3zM21 67h2v1h-2zM26 67h1v1h-1zM87 67h1v1h-1zM0 68h1v1h-1zM3 68h2v1h-2zM8 68h4v1h-4zM17 68h4v1h-4zM0 69h2v1h-2zM3 69h1v1h-1zM9 69h1v1h-1zM12 69h1v1h-1zM17 69h3v1h-3zM84 69h2v1h-2zM3 70h1v1h-1zM5 70h1v1h-1zM8 70h1v1h-1zM10 70h2v1h-2zM14 70h1v1h-1zM16 70h1v1h-1zM19 70h5v1h-5zM84 70h1v1h-1zM3 71h1v1h-1zM14 71h2v1h-2zM17 71h2v1h-2zM21 71h4v1h-4zM3 72h2v1h-2zM7 72h1v1h-1zM11 72h1v1h-1zM14 72h2v1h-2zM17 72h1v1h-1zM23 72h4v1h-4zM31 72h1v1h-1zM33 72h1v1h-1zM67 72h1v1h-1zM4 73h4v1h-4zM13 73h2v1h-2zM22 73h2v1h-2zM26 73h1v1h-1zM83 73h1v1h-1zM6 74h2v1h-2zM10 74h1v1h-1zM15 74h3v1h-3zM23 74h1v1h-1zM27 74h2v1h-2zM66 74h3v1h-3zM70 74h2v1h-2zM73 74h1v1h-1zM82 74h1v1h-1zM10 75h1v1h-1zM17 75h1v1h-1zM20 75h2v1h-2zM27 75h1v1h-1zM67 75h1v1h-1zM69 75h3v1h-3zM73 75h1v1h-1zM80 75h3v1h-3zM8 76h1v1h-1zM10 76h3v1h-3zM19 76h2v1h-2zM22 76h1v1h-1zM27 76h1v1h-1zM75 76h1v1h-1zM79 76h1v1h-1zM0 77h1v1h-1zM8 77h1v1h-1zM11 77h2v1h-2zM17 77h1v1h-1zM20 77h3v1h-3zM25 77h1v1h-1zM27 77h2v1h-2zM67 77h1v1h-1zM72 77h1v1h-1zM75 77h3v1h-3zM12 78h1v1h-1zM17 78h1v1h-1zM20 78h6v1h-6zM73 78h1v1h-1zM75 78h3v1h-3zM14 79h1v1h-1zM21 79h1v1h-1zM23 79h4v1h-4zM66 79h1v1h-1zM72 79h1v1h-1zM20 80h1v1h-1zM24 80h1v1h-1zM41 80h1v1h-1zM66 80h1v1h-1zM70 80h2v1h-2zM0 81h2v1h-2zM19 81h2v1h-2zM23 81h1v1h-1zM31 81h2v1h-2zM35 81h1v1h-1zM38 81h1v1h-1zM40 81h2v1h-2zM68 81h1v1h-1zM0 82h2v1h-2zM21 82h1v1h-1zM24 82h2v1h-2zM34 82h1v1h-1zM40 82h1v1h-1zM69 82h1v1h-1zM2 83h1v1h-1zM9 83h1v1h-1zM21 83h1v1h-1zM23 83h1v1h-1zM33 83h2v1h-2zM37 83h1v1h-1zM69 83h1v1h-1zM76 83h2v1h-2zM0 84h4v1h-4zM6 84h5v1h-5zM19 84h1v1h-1zM25 84h2v1h-2zM33 84h2v1h-2zM37 84h1v1h-1zM69 84h1v1h-1zM71 84h1v1h-1zM1 85h3v1h-3zM10 85h2v1h-2zM20 85h1v1h-1zM26 85h2v1h-2zM30 85h5v1h-5zM39 85h1v1h-1zM70 85h1v1h-1zM72 85h1v1h-1zM78 85h1v1h-1zM2 86h3v1h-3zM9 86h3v1h-3zM26 86h2v1h-2zM31 86h1v1h-1zM34 86h1v1h-1zM70 86h1v1h-1zM72 86h1v1h-1zM4 87h1v1h-1zM10 87h1v1h-1zM12 87h1v1h-1zM25 87h1v1h-1zM27 87h1v1h-1zM30 87h1v1h-1zM34 87h1v1h-1zM36 87h1v1h-1zM72 87h1v1h-1zM3 88h1v1h-1zM25 88h1v1h-1zM36 88h1v1h-1zM69 88h1v1h-1zM72 88h1v1h-1zM2 89h1v1h-1zM5 89h2v1h-2zM24 89h1v1h-1zM72 89h1v1h-1zM1 90h1v1h-1zM6 90h2v1h-2zM23 90h1v1h-1zM71 90h1v1h-1zM75 90h1v1h-1zM0 91h2v1h-2zM7 91h1v1h-1zM35 91h3v1h-3zM71 91h1v1h-1zM74 91h2v1h-2zM0 92h1v1h-1zM6 92h2v1h-2zM36 92h1v1h-1zM74 92h1v1h-1zM0 93h4v1h-4zM36 93h1v1h-1zM72 93h1v1h-1zM74 93h1v1h-1zM2 94h1v1h-1zM8 94h1v1h-1zM10 94h2v1h-2zM37 94h1v1h-1zM68 94h1v1h-1zM71 94h3v1h-3zM0 95h1v1h-1zM4 95h1v1h-1zM10 95h2v1h-2zM17 95h3v1h-3zM38 95h1v1h-1zM68 95h1v1h-1zM5 96h4v1h-4zM18 96h2v1h-2zM38 96h1v1h-1zM40 96h2v1h-2zM68 96h1v1h-1zM71 96h1v1h-1zM16 97h3v1h-3zM37 97h1v1h-1zM40 97h1v1h-1zM66 97h1v1h-1zM68 97h1v1h-1zM70 97h1v1h-1zM72 97h1v1h-1zM8 98h2v1h-2zM16 98h3v1h-3zM25 98h1v1h-1zM36 98h2v1h-2zM65 98h2v1h-2zM68 98h1v1h-1zM11 99h1v1h-1zM15 99h3v1h-3zM24 99h4v1h-4zM65 99h1v1h-1zM67 99h1v1h-1z"/><path fill="#fe932a" d="M47 0h2v1h-2zM47 1h1v1h-1zM24 14h1v1h-1zM28 15h1v1h-1zM27 16h2v1h-2zM25 17h1v1h-1zM24 18h1v1h-1zM23 20h1v1h-1zM22 22h1v1h-1zM58 47h4v1h-4zM59 48h2v1h-2zM62 48h1v1h-1zM59 49h5v1h-5zM58 50h2v1h-2zM61 50h2v1h-2zM58 51h1v1h-1zM60 51h2v1h-2zM69 51h2v1h-2zM57 52h2v1h-2zM66 52h3v1h-3zM70 52h1v1h-1zM65 53h3v1h-3zM70 53h1v1h-1zM63 54h1v1h-1zM65 54h5v1h-5zM61 55h6v1h-6zM68 55h1v1h-1zM70 55h1v1h-1zM61 56h1v1h-1zM63 56h4v1h-4zM69 56h2v1h-2zM72 56h1v1h-1zM62 57h5v1h-5zM72 57h1v1h-1zM59 58h1v1h-1zM61 58h4v1h-4zM66 58h1v1h-1zM73 58h1v1h-1zM59 59h3v1h-3zM64 59h3v1h-3zM68 59h1v1h-1zM70 59h1v1h-1zM72 59h2v1h-2zM47 60h2v1h-2zM58 60h2v1h-2zM62 60h5v1h-5zM69 60h5v1h-5zM46 61h1v1h-1zM48 61h1v1h-1zM57 61h2v1h-2zM65 61h1v1h-1zM68 61h2v1h-2zM72 61h2v1h-2zM46 62h1v1h-1zM48 62h1v1h-1zM56 62h2v1h-2zM65 62h1v1h-1zM67 62h4v1h-4zM46 63h1v1h-1zM56 63h1v1h-1zM59 63h1v1h-1zM64 63h1v1h-1zM66 63h1v1h-1zM58 64h1v1h-1zM62 64h1v1h-1zM71 64h1v1h-1zM51 65h2v1h-2zM58 65h4v1h-4zM52 66h2v1h-2zM59 66h3v1h-3zM52 67h1v1h-1zM61 67h3v1h-3zM60 68h2v1h-2zM57 69h2v1h-2zM60 69h1v1h-1zM62 69h1v1h-1zM57 70h3v1h-3zM56 71h1v1h-1zM58 71h1v1h-1zM58 73h1v1h-1zM52 78h2v1h-2zM52 79h2v1h-2zM53 80h1v1h-1zM53 81h1v1h-1zM53 91h1v1h-1zM56 91h1v1h-1zM56 92h2v1h-2zM56 93h2v1h-2zM56 94h2v1h-2zM56 95h2v1h-2zM56 96h1v1h-1zM56 98h2v1h-2zM49 99h1v1h-1zM55 99h2v1h-2z"/><path fill="#fea130" d="M49 0h1v1h-1zM46 1h1v1h-1zM46 2h4v1h-4zM46 3h4v1h-4zM45 4h1v1h-1zM47 4h2v1h-2zM46 5h1v1h-1zM46 6h1v1h-1zM45 7h2v1h-2zM45 8h2v1h-2zM44 9h2v1h-2zM24 10h1v1h-1zM23 11h1v1h-1zM24 13h2v1h-2zM25 14h1v1h-1zM24 15h1v1h-1zM27 15h1v1h-1zM29 16h1v1h-1zM27 17h1v1h-1zM25 18h1v1h-1zM23 19h2v1h-2zM24 20h1v1h-1zM22 23h1v1h-1zM57 45h1v1h-1zM56 46h2v1h-2zM62 46h1v1h-1zM57 47h1v1h-1zM62 47h1v1h-1zM61 48h1v1h-1zM58 49h1v1h-1zM51 50h1v1h-1zM57 50h1v1h-1zM60 50h1v1h-1zM63 50h2v1h-2zM50 51h2v1h-2zM56 51h2v1h-2zM59 51h1v1h-1zM62 51h2v1h-2zM65 51h1v1h-1zM67 51h2v1h-2zM71 51h1v1h-1zM56 52h1v1h-1zM59 52h2v1h-2zM63 52h3v1h-3zM69 52h1v1h-1zM71 52h3v1h-3zM58 53h2v1h-2zM63 53h2v1h-2zM69 53h1v1h-1zM71 53h2v1h-2zM60 54h3v1h-3zM64 54h1v1h-1zM70 54h2v1h-2zM74 54h1v1h-1zM60 55h1v1h-1zM69 55h1v1h-1zM71 55h2v1h-2zM60 56h1v1h-1zM71 56h1v1h-1zM73 56h1v1h-1zM59 57h3v1h-3zM73 57h2v1h-2zM60 58h1v1h-1zM74 58h1v1h-1zM48 59h1v1h-1zM58 59h1v1h-1zM62 59h2v1h-2zM74 59h1v1h-1zM43 60h4v1h-4zM49 60h1v1h-1zM56 60h2v1h-2zM44 61h2v1h-2zM49 61h1v1h-1zM52 61h1v1h-1zM55 61h2v1h-2zM71 61h1v1h-1zM74 61h1v1h-1zM45 62h1v1h-1zM49 62h1v1h-1zM51 62h5v1h-5zM71 62h1v1h-1zM73 62h1v1h-1zM45 63h1v1h-1zM47 63h1v1h-1zM49 63h1v1h-1zM54 63h2v1h-2zM57 63h2v1h-2zM65 63h1v1h-1zM67 63h2v1h-2zM71 63h2v1h-2zM76 63h1v1h-1zM54 64h1v1h-1zM57 64h1v1h-1zM63 64h2v1h-2zM72 64h1v1h-1zM76 64h1v1h-1zM53 65h1v1h-1zM57 65h1v1h-1zM62 65h2v1h-2zM65 65h1v1h-1zM75 65h1v1h-1zM51 66h1v1h-1zM54 66h2v1h-2zM57 66h2v1h-2zM63 66h1v1h-1zM75 66h1v1h-1zM51 67h1v1h-1zM54 67h7v1h-7zM52 68h5v1h-5zM63 68h1v1h-1zM51 69h1v1h-1zM53 69h1v1h-1zM55 69h2v1h-2zM59 69h1v1h-1zM61 69h1v1h-1zM55 70h2v1h-2zM60 70h1v1h-1zM57 71h1v1h-1zM59 71h1v1h-1zM57 72h3v1h-3zM56 73h2v1h-2zM57 74h2v1h-2zM52 77h1v1h-1zM54 77h1v1h-1zM51 78h1v1h-1zM54 78h1v1h-1zM50 79h2v1h-2zM54 79h1v1h-1zM51 80h1v1h-1zM51 81h2v1h-2zM51 82h1v1h-1zM56 90h1v1h-1zM51 91h1v1h-1zM55 91h1v1h-1zM57 91h1v1h-1zM58 92h1v1h-1zM58 93h1v1h-1zM58 94h1v1h-1zM58 95h1v1h-1zM57 96h1v1h-1zM56 97h1v1h-1zM54 98h2v1h-2zM47 99h1v1h-1zM57 99h1v1h-1z"/><path fill="#faba39" d="M50 0h2v1h-2zM51 2h1v1h-1zM50 3h1v1h-1zM50 4h1v1h-1zM48 5h1v1h-1zM38 6h1v1h-1zM47 6h1v1h-1zM42 7h1v1h-1zM48 7h1v1h-1zM40 8h2v1h-2zM43 8h1v1h-1zM47 8h1v1h-1zM24 9h1v1h-1zM38 9h2v1h-2zM42 9h2v1h-2zM47 9h1v1h-1zM27 10h1v1h-1zM37 10h1v1h-1zM40 10h1v1h-1zM42 10h3v1h-3zM46 10h1v1h-1zM26 11h1v1h-1zM42 11h5v1h-5zM26 12h2v1h-2zM43 12h1v1h-1zM46 12h1v1h-1zM47 13h1v1h-1zM29 14h1v1h-1zM30 15h1v1h-1zM34 15h1v1h-1zM36 15h1v1h-1zM24 16h1v1h-1zM30 16h2v1h-2zM33 16h1v1h-1zM35 16h2v1h-2zM38 16h1v1h-1zM24 17h1v1h-1zM28 17h2v1h-2zM37 17h2v1h-2zM39 18h1v1h-1zM26 19h2v1h-2zM38 19h2v1h-2zM40 20h1v1h-1zM39 22h3v1h-3zM61 39h1v1h-1zM55 40h1v1h-1zM55 42h1v1h-1zM57 42h1v1h-1zM61 42h1v1h-1zM54 44h1v1h-1zM61 44h1v1h-1zM62 45h1v1h-1zM34 46h1v1h-1zM54 46h1v1h-1zM64 46h2v1h-2zM54 47h1v1h-1zM65 47h1v1h-1zM54 48h1v1h-1zM65 48h1v1h-1zM70 48h1v1h-1zM49 49h1v1h-1zM52 49h5v1h-5zM69 49h3v1h-3zM48 50h1v1h-1zM52 50h2v1h-2zM55 50h2v1h-2zM66 50h3v1h-3zM72 50h2v1h-2zM48 51h1v1h-1zM54 51h2v1h-2zM73 51h2v1h-2zM42 52h1v1h-1zM44 52h1v1h-1zM48 52h1v1h-1zM50 52h1v1h-1zM53 52h3v1h-3zM74 52h1v1h-1zM81 52h1v1h-1zM24 53h1v1h-1zM42 53h1v1h-1zM46 53h3v1h-3zM50 53h1v1h-1zM56 53h1v1h-1zM77 53h2v1h-2zM81 53h1v1h-1zM20 54h2v1h-2zM24 54h1v1h-1zM47 54h6v1h-6zM76 54h2v1h-2zM79 54h2v1h-2zM82 54h1v1h-1zM18 55h3v1h-3zM22 55h3v1h-3zM48 55h2v1h-2zM51 55h2v1h-2zM57 55h2v1h-2zM78 55h6v1h-6zM20 56h1v1h-1zM49 56h3v1h-3zM57 56h2v1h-2zM76 56h3v1h-3zM80 56h2v1h-2zM87 56h1v1h-1zM42 57h1v1h-1zM49 57h1v1h-1zM57 57h1v1h-1zM76 57h1v1h-1zM78 57h1v1h-1zM80 57h5v1h-5zM87 57h1v1h-1zM42 58h2v1h-2zM45 58h3v1h-3zM49 58h2v1h-2zM56 58h1v1h-1zM75 58h2v1h-2zM79 58h2v1h-2zM82 58h3v1h-3zM42 59h1v1h-1zM50 59h1v1h-1zM52 59h1v1h-1zM54 59h2v1h-2zM77 59h1v1h-1zM80 59h2v1h-2zM84 59h1v1h-1zM41 60h1v1h-1zM51 60h4v1h-4zM76 60h1v1h-1zM81 60h4v1h-4zM41 61h1v1h-1zM75 61h1v1h-1zM82 61h1v1h-1zM41 62h1v1h-1zM77 62h1v1h-1zM82 62h2v1h-2zM74 63h1v1h-1zM77 63h2v1h-2zM83 63h1v1h-1zM46 64h1v1h-1zM48 64h3v1h-3zM73 64h1v1h-1zM49 65h1v1h-1zM71 65h2v1h-2zM76 65h2v1h-2zM49 66h1v1h-1zM74 66h1v1h-1zM77 66h1v1h-1zM50 67h1v1h-1zM65 67h1v1h-1zM75 67h1v1h-1zM77 67h1v1h-1zM76 68h3v1h-3zM51 70h2v1h-2zM54 70h1v1h-1zM51 71h5v1h-5zM60 71h2v1h-2zM51 72h1v1h-1zM54 72h1v1h-1zM52 73h1v1h-1zM60 73h2v1h-2zM52 74h1v1h-1zM54 74h1v1h-1zM61 74h2v1h-2zM53 75h2v1h-2zM56 75h1v1h-1zM59 75h3v1h-3zM56 76h1v1h-1zM50 77h1v1h-1zM55 77h2v1h-2zM56 78h1v1h-1zM49 79h1v1h-1zM56 79h1v1h-1zM56 80h1v1h-1zM50 81h1v1h-1zM54 81h3v1h-3zM50 82h1v1h-1zM54 82h1v1h-1zM56 82h1v1h-1zM51 83h8v1h-8zM54 84h2v1h-2zM57 84h1v1h-1zM59 84h1v1h-1zM50 85h6v1h-6zM57 85h1v1h-1zM50 86h2v1h-2zM53 86h1v1h-1zM57 86h1v1h-1zM49 87h1v1h-1zM52 87h2v1h-2zM50 88h6v1h-6zM55 89h2v1h-2zM58 89h1v1h-1zM50 90h1v1h-1zM58 90h1v1h-1zM48 91h1v1h-1zM50 91h1v1h-1zM59 91h1v1h-1zM48 92h2v1h-2zM59 92h1v1h-1zM49 93h2v1h-2zM48 94h1v1h-1zM50 94h1v1h-1zM59 94h1v1h-1zM48 95h3v1h-3zM59 95h1v1h-1zM46 96h1v1h-1zM48 96h1v1h-1zM47 97h2v1h-2zM58 97h2v1h-2zM46 98h2v1h-2zM49 98h1v1h-1zM45 99h1v1h-1zM59 99h1v1h-1z"/><path fill="#f5c53a" d="M52 0h1v1h-1zM51 1h2v1h-2zM52 2h1v1h-1zM51 3h1v1h-1zM49 4h1v1h-1zM51 4h1v1h-1zM42 6h1v1h-1zM48 6h1v1h-1zM38 7h4v1h-4zM39 8h1v1h-1zM40 9h1v1h-1zM46 9h1v1h-1zM49 9h1v1h-1zM26 10h1v1h-1zM38 10h2v1h-2zM41 10h1v1h-1zM47 10h1v1h-1zM25 11h1v1h-1zM38 11h4v1h-4zM47 11h1v1h-1zM23 12h2v1h-2zM28 12h1v1h-1zM40 12h3v1h-3zM44 12h2v1h-2zM47 12h2v1h-2zM28 13h2v1h-2zM46 13h1v1h-1zM48 13h1v1h-1zM23 14h1v1h-1zM36 14h1v1h-1zM47 14h2v1h-2zM23 15h1v1h-1zM32 15h2v1h-2zM35 15h1v1h-1zM39 15h1v1h-1zM23 16h1v1h-1zM32 16h1v1h-1zM34 16h1v1h-1zM37 16h1v1h-1zM39 16h1v1h-1zM30 17h2v1h-2zM39 17h2v1h-2zM28 18h1v1h-1zM37 18h1v1h-1zM25 19h1v1h-1zM28 19h1v1h-1zM37 19h1v1h-1zM41 19h2v1h-2zM44 19h1v1h-1zM26 20h1v1h-1zM37 20h3v1h-3zM41 20h5v1h-5zM37 21h1v1h-1zM40 21h6v1h-6zM38 22h1v1h-1zM43 22h1v1h-1zM47 22h1v1h-1zM38 23h3v1h-3zM47 23h1v1h-1zM32 27h2v1h-2zM62 38h2v1h-2zM44 39h1v1h-1zM50 39h1v1h-1zM62 39h2v1h-2zM43 40h1v1h-1zM50 40h1v1h-1zM53 40h2v1h-2zM60 40h2v1h-2zM63 40h1v1h-1zM54 41h3v1h-3zM43 42h1v1h-1zM54 42h1v1h-1zM56 42h1v1h-1zM58 42h2v1h-2zM32 43h1v1h-1zM44 43h1v1h-1zM54 43h2v1h-2zM59 43h3v1h-3zM32 44h2v1h-2zM43 44h1v1h-1zM59 44h2v1h-2zM62 44h2v1h-2zM35 45h1v1h-1zM53 45h1v1h-1zM60 45h1v1h-1zM63 45h3v1h-3zM33 46h1v1h-1zM33 47h1v1h-1zM50 47h1v1h-1zM52 47h1v1h-1zM66 47h1v1h-1zM70 47h1v1h-1zM49 48h4v1h-4zM69 48h1v1h-1zM48 49h1v1h-1zM66 49h3v1h-3zM72 49h1v1h-1zM23 50h2v1h-2zM29 50h1v1h-1zM54 50h1v1h-1zM74 50h1v1h-1zM16 51h1v1h-1zM28 51h1v1h-1zM30 51h1v1h-1zM43 51h2v1h-2zM53 51h1v1h-1zM75 51h1v1h-1zM14 52h2v1h-2zM20 52h1v1h-1zM28 52h2v1h-2zM43 52h1v1h-1zM47 52h1v1h-1zM52 52h1v1h-1zM75 52h3v1h-3zM79 52h2v1h-2zM13 53h2v1h-2zM17 53h7v1h-7zM25 53h2v1h-2zM43 53h1v1h-1zM49 53h1v1h-1zM51 53h2v1h-2zM75 53h2v1h-2zM79 53h2v1h-2zM82 53h2v1h-2zM18 54h2v1h-2zM22 54h1v1h-1zM25 54h2v1h-2zM41 54h3v1h-3zM46 54h1v1h-1zM56 54h1v1h-1zM78 54h1v1h-1zM81 54h1v1h-1zM83 54h1v1h-1zM17 55h1v1h-1zM21 55h1v1h-1zM25 55h1v1h-1zM42 55h3v1h-3zM46 55h2v1h-2zM55 55h1v1h-1zM18 56h2v1h-2zM21 56h4v1h-4zM40 56h5v1h-5zM46 56h2v1h-2zM52 56h2v1h-2zM55 56h2v1h-2zM79 56h1v1h-1zM83 56h1v1h-1zM86 56h1v1h-1zM21 57h3v1h-3zM40 57h1v1h-1zM43 57h6v1h-6zM50 57h3v1h-3zM56 57h1v1h-1zM77 57h1v1h-1zM79 57h1v1h-1zM85 57h2v1h-2zM44 58h1v1h-1zM51 58h5v1h-5zM77 58h2v1h-2zM85 58h4v1h-4zM40 59h2v1h-2zM51 59h1v1h-1zM53 59h1v1h-1zM76 59h1v1h-1zM78 59h2v1h-2zM40 60h1v1h-1zM77 60h1v1h-1zM80 60h1v1h-1zM85 60h1v1h-1zM40 61h1v1h-1zM76 61h6v1h-6zM38 62h1v1h-1zM40 62h1v1h-1zM78 62h1v1h-1zM80 62h2v1h-2zM84 62h1v1h-1zM39 63h4v1h-4zM79 63h1v1h-1zM81 63h2v1h-2zM38 64h1v1h-1zM43 64h2v1h-2zM78 64h1v1h-1zM81 64h1v1h-1zM32 65h1v1h-1zM46 65h2v1h-2zM73 65h1v1h-1zM78 65h1v1h-1zM48 66h1v1h-1zM72 66h2v1h-2zM78 66h1v1h-1zM74 67h1v1h-1zM78 67h1v1h-1zM39 68h1v1h-1zM50 68h1v1h-1zM75 68h1v1h-1zM77 69h2v1h-2zM49 70h2v1h-2zM50 71h1v1h-1zM62 71h1v1h-1zM49 72h2v1h-2zM52 72h2v1h-2zM62 72h1v1h-1zM51 73h1v1h-1zM54 73h1v1h-1zM62 73h1v1h-1zM53 74h1v1h-1zM60 74h1v1h-1zM51 75h2v1h-2zM62 75h2v1h-2zM48 76h1v1h-1zM50 76h2v1h-2zM59 76h4v1h-4zM49 78h1v1h-1zM48 79h1v1h-1zM48 80h2v1h-2zM49 81h1v1h-1zM47 82h3v1h-3zM55 82h1v1h-1zM57 82h4v1h-4zM49 83h1v1h-1zM59 83h2v1h-2zM50 84h4v1h-4zM60 84h1v1h-1zM58 85h1v1h-1zM60 85h1v1h-1zM49 86h1v1h-1zM52 86h1v1h-1zM54 86h3v1h-3zM50 87h2v1h-2zM54 87h3v1h-3zM57 88h2v1h-2zM50 89h2v1h-2zM57 89h1v1h-1zM59 89h1v1h-1zM46 90h1v1h-1zM48 90h2v1h-2zM59 90h1v1h-1zM49 91h1v1h-1zM60 91h1v1h-1zM47 92h1v1h-1zM47 93h2v1h-2zM49 94h1v1h-1zM47 95h1v1h-1zM47 96h1v1h-1zM49 96h1v1h-1zM46 97h1v1h-1zM49 97h1v1h-1zM45 98h1v1h-1zM60 99h1v1h-1z"/><path fill="#eecf3a" d="M53 0h1v1h-1zM53 1h2v1h-2zM53 2h2v1h-2zM52 3h1v1h-1zM54 3h1v1h-1zM53 4h1v1h-1zM55 4h1v1h-1zM49 5h2v1h-2zM55 5h1v1h-1zM36 6h2v1h-2zM39 6h1v1h-1zM49 6h1v1h-1zM37 7h1v1h-1zM35 8h1v1h-1zM38 8h1v1h-1zM48 8h2v1h-2zM26 9h2v1h-2zM36 9h2v1h-2zM48 9h1v1h-1zM25 10h1v1h-1zM49 10h2v1h-2zM28 11h1v1h-1zM37 11h1v1h-1zM22 12h1v1h-1zM29 12h2v1h-2zM37 12h2v1h-2zM49 12h1v1h-1zM23 13h1v1h-1zM30 13h1v1h-1zM41 13h1v1h-1zM44 13h2v1h-2zM49 13h3v1h-3zM22 14h1v1h-1zM30 14h1v1h-1zM33 14h3v1h-3zM37 14h4v1h-4zM46 14h1v1h-1zM49 14h3v1h-3zM19 15h1v1h-1zM22 15h1v1h-1zM31 15h1v1h-1zM37 15h2v1h-2zM40 15h1v1h-1zM46 15h3v1h-3zM50 15h2v1h-2zM20 16h1v1h-1zM22 16h1v1h-1zM40 16h1v1h-1zM22 17h2v1h-2zM32 17h2v1h-2zM35 17h2v1h-2zM41 17h2v1h-2zM29 18h2v1h-2zM36 18h1v1h-1zM40 18h4v1h-4zM40 19h1v1h-1zM43 19h1v1h-1zM45 19h1v1h-1zM49 19h1v1h-1zM27 20h2v1h-2zM36 20h1v1h-1zM48 20h1v1h-1zM46 21h3v1h-3zM37 22h1v1h-1zM42 22h1v1h-1zM44 22h3v1h-3zM41 23h2v1h-2zM48 23h1v1h-1zM39 24h3v1h-3zM44 24h3v1h-3zM48 24h1v1h-1zM45 25h1v1h-1zM32 26h5v1h-5zM59 26h1v1h-1zM31 27h1v1h-1zM34 27h2v1h-2zM58 27h1v1h-1zM60 27h1v1h-1zM33 28h4v1h-4zM58 28h3v1h-3zM50 29h1v1h-1zM37 30h1v1h-1zM50 30h1v1h-1zM39 31h1v1h-1zM45 31h1v1h-1zM51 33h1v1h-1zM55 33h1v1h-1zM51 34h2v1h-2zM50 35h1v1h-1zM52 35h2v1h-2zM55 35h1v1h-1zM56 36h1v1h-1zM62 36h1v1h-1zM29 37h1v1h-1zM31 37h1v1h-1zM50 37h1v1h-1zM62 37h1v1h-1zM43 38h1v1h-1zM49 38h5v1h-5zM59 38h1v1h-1zM61 38h1v1h-1zM64 38h1v1h-1zM31 39h2v1h-2zM42 39h2v1h-2zM46 39h1v1h-1zM49 39h1v1h-1zM51 39h2v1h-2zM54 39h3v1h-3zM59 39h2v1h-2zM64 39h2v1h-2zM29 40h1v1h-1zM32 40h2v1h-2zM44 40h4v1h-4zM49 40h1v1h-1zM51 40h2v1h-2zM56 40h1v1h-1zM59 40h1v1h-1zM62 40h1v1h-1zM64 40h1v1h-1zM29 41h2v1h-2zM34 41h3v1h-3zM42 41h3v1h-3zM48 41h1v1h-1zM50 41h1v1h-1zM52 41h2v1h-2zM57 41h7v1h-7zM27 42h1v1h-1zM29 42h1v1h-1zM31 42h4v1h-4zM44 42h1v1h-1zM50 42h1v1h-1zM53 42h1v1h-1zM60 42h1v1h-1zM62 42h1v1h-1zM28 43h1v1h-1zM33 43h3v1h-3zM41 43h1v1h-1zM43 43h1v1h-1zM45 43h1v1h-1zM48 43h2v1h-2zM52 43h1v1h-1zM62 43h1v1h-1zM64 43h1v1h-1zM34 44h2v1h-2zM42 44h1v1h-1zM44 44h3v1h-3zM48 44h1v1h-1zM50 44h1v1h-1zM53 44h1v1h-1zM64 44h3v1h-3zM68 44h1v1h-1zM32 45h3v1h-3zM36 45h1v1h-1zM42 45h6v1h-6zM50 45h2v1h-2zM66 45h2v1h-2zM69 45h1v1h-1zM16 46h1v1h-1zM35 46h1v1h-1zM42 46h1v1h-1zM47 46h7v1h-7zM66 46h4v1h-4zM14 47h1v1h-1zM16 47h1v1h-1zM32 47h1v1h-1zM34 47h1v1h-1zM47 47h1v1h-1zM49 47h1v1h-1zM51 47h1v1h-1zM53 47h1v1h-1zM69 47h1v1h-1zM31 48h3v1h-3zM40 48h1v1h-1zM48 48h1v1h-1zM53 48h1v1h-1zM66 48h3v1h-3zM71 48h3v1h-3zM15 49h2v1h-2zM25 49h2v1h-2zM28 49h1v1h-1zM33 49h1v1h-1zM41 49h2v1h-2zM47 49h1v1h-1zM73 49h3v1h-3zM14 50h4v1h-4zM22 50h1v1h-1zM27 50h2v1h-2zM30 50h3v1h-3zM39 50h1v1h-1zM41 50h1v1h-1zM43 50h2v1h-2zM47 50h1v1h-1zM75 50h2v1h-2zM15 51h1v1h-1zM17 51h2v1h-2zM20 51h1v1h-1zM22 51h6v1h-6zM29 51h1v1h-1zM39 51h4v1h-4zM45 51h3v1h-3zM77 51h3v1h-3zM81 51h1v1h-1zM12 52h2v1h-2zM16 52h4v1h-4zM21 52h7v1h-7zM30 52h1v1h-1zM40 52h2v1h-2zM45 52h2v1h-2zM78 52h1v1h-1zM82 52h2v1h-2zM15 53h2v1h-2zM30 53h2v1h-2zM40 53h2v1h-2zM44 53h2v1h-2zM54 53h2v1h-2zM11 54h4v1h-4zM16 54h2v1h-2zM29 54h1v1h-1zM31 54h1v1h-1zM39 54h2v1h-2zM44 54h1v1h-1zM53 54h3v1h-3zM84 54h1v1h-1zM12 55h3v1h-3zM26 55h1v1h-1zM39 55h3v1h-3zM45 55h1v1h-1zM53 55h2v1h-2zM56 55h1v1h-1zM88 55h1v1h-1zM12 56h1v1h-1zM17 56h1v1h-1zM25 56h1v1h-1zM32 56h1v1h-1zM39 56h1v1h-1zM45 56h1v1h-1zM48 56h1v1h-1zM54 56h1v1h-1zM84 56h2v1h-2zM88 56h1v1h-1zM18 57h3v1h-3zM24 57h1v1h-1zM39 57h1v1h-1zM53 57h3v1h-3zM88 57h1v1h-1zM21 58h3v1h-3zM39 58h3v1h-3zM89 58h1v1h-1zM39 59h1v1h-1zM85 59h4v1h-4zM38 60h2v1h-2zM78 60h2v1h-2zM30 61h1v1h-1zM36 61h4v1h-4zM84 61h2v1h-2zM30 62h4v1h-4zM35 62h3v1h-3zM39 62h1v1h-1zM79 62h1v1h-1zM85 62h1v1h-1zM30 63h3v1h-3zM34 63h2v1h-2zM38 63h1v1h-1zM43 63h1v1h-1zM80 63h1v1h-1zM84 63h1v1h-1zM28 64h1v1h-1zM30 64h1v1h-1zM32 64h1v1h-1zM34 64h1v1h-1zM39 64h4v1h-4zM79 64h2v1h-2zM82 64h2v1h-2zM31 65h1v1h-1zM38 65h2v1h-2zM44 65h2v1h-2zM79 65h1v1h-1zM82 65h2v1h-2zM32 66h1v1h-1zM37 66h2v1h-2zM40 66h1v1h-1zM47 66h1v1h-1zM71 66h1v1h-1zM84 66h1v1h-1zM36 67h4v1h-4zM47 67h3v1h-3zM79 67h1v1h-1zM37 68h2v1h-2zM49 68h1v1h-1zM74 68h1v1h-1zM79 68h1v1h-1zM36 69h3v1h-3zM49 69h2v1h-2zM64 69h2v1h-2zM69 69h1v1h-1zM76 69h1v1h-1zM79 69h1v1h-1zM37 70h2v1h-2zM75 70h5v1h-5zM37 71h1v1h-1zM39 71h1v1h-1zM49 71h1v1h-1zM48 72h1v1h-1zM49 73h2v1h-2zM53 73h1v1h-1zM63 73h1v1h-1zM50 74h2v1h-2zM63 74h1v1h-1zM46 75h1v1h-1zM50 75h1v1h-1zM64 75h1v1h-1zM46 76h2v1h-2zM49 76h1v1h-1zM63 76h1v1h-1zM46 77h4v1h-4zM59 77h5v1h-5zM46 78h3v1h-3zM59 78h2v1h-2zM46 79h1v1h-1zM61 79h1v1h-1zM47 80h1v1h-1zM60 80h1v1h-1zM47 81h2v1h-2zM59 81h3v1h-3zM48 83h1v1h-1zM50 83h1v1h-1zM49 84h1v1h-1zM61 84h2v1h-2zM43 85h1v1h-1zM49 85h1v1h-1zM59 85h1v1h-1zM61 85h1v1h-1zM48 86h1v1h-1zM58 86h1v1h-1zM60 86h2v1h-2zM48 87h1v1h-1zM57 87h3v1h-3zM48 88h2v1h-2zM56 88h1v1h-1zM59 88h1v1h-1zM47 89h3v1h-3zM60 89h1v1h-1zM45 90h1v1h-1zM47 90h1v1h-1zM60 90h1v1h-1zM41 91h1v1h-1zM46 91h2v1h-2zM61 91h1v1h-1zM46 92h1v1h-1zM60 92h1v1h-1zM60 93h1v1h-1zM46 94h2v1h-2zM60 94h1v1h-1zM46 95h1v1h-1zM60 95h1v1h-1zM45 97h1v1h-1zM60 97h2v1h-2zM60 98h1v1h-1zM44 99h1v1h-1zM61 99h1v1h-1z"/><path fill="#dde037" d="M54 0h2v1h-2zM9 1h1v1h-1zM55 1h1v1h-1zM29 2h1v1h-1zM56 2h1v1h-1zM27 3h1v1h-1zM59 3h1v1h-1zM26 4h4v1h-4zM33 4h1v1h-1zM57 4h1v1h-1zM59 4h1v1h-1zM33 5h1v1h-1zM35 5h1v1h-1zM51 5h3v1h-3zM18 6h1v1h-1zM26 6h4v1h-4zM32 6h2v1h-2zM35 6h1v1h-1zM50 6h3v1h-3zM18 7h1v1h-1zM20 7h1v1h-1zM27 7h2v1h-2zM32 7h3v1h-3zM51 7h1v1h-1zM53 7h1v1h-1zM55 7h1v1h-1zM20 8h1v1h-1zM23 8h1v1h-1zM28 8h1v1h-1zM50 8h3v1h-3zM58 8h1v1h-1zM20 9h2v1h-2zM28 9h1v1h-1zM52 9h1v1h-1zM22 10h2v1h-2zM29 10h1v1h-1zM34 10h2v1h-2zM52 10h1v1h-1zM61 10h1v1h-1zM16 11h1v1h-1zM30 11h1v1h-1zM34 11h1v1h-1zM61 11h1v1h-1zM17 12h1v1h-1zM31 12h1v1h-1zM33 12h2v1h-2zM51 12h3v1h-3zM2 13h2v1h-2zM16 13h1v1h-1zM18 13h2v1h-2zM34 13h1v1h-1zM52 13h2v1h-2zM2 14h1v1h-1zM20 14h1v1h-1zM42 14h1v1h-1zM44 14h1v1h-1zM52 14h2v1h-2zM41 15h1v1h-1zM44 15h1v1h-1zM42 16h3v1h-3zM47 16h4v1h-4zM52 16h2v1h-2zM17 17h1v1h-1zM21 17h1v1h-1zM44 17h2v1h-2zM47 17h1v1h-1zM50 17h5v1h-5zM17 18h1v1h-1zM19 18h1v1h-1zM22 18h1v1h-1zM44 18h1v1h-1zM46 18h4v1h-4zM51 18h3v1h-3zM21 19h1v1h-1zM29 19h2v1h-2zM34 19h2v1h-2zM47 19h2v1h-2zM51 19h4v1h-4zM29 20h1v1h-1zM34 20h1v1h-1zM50 20h8v1h-8zM24 21h1v1h-1zM31 21h1v1h-1zM34 21h2v1h-2zM49 21h1v1h-1zM52 21h5v1h-5zM58 21h1v1h-1zM31 22h3v1h-3zM35 22h2v1h-2zM50 22h1v1h-1zM54 22h3v1h-3zM58 22h1v1h-1zM49 23h2v1h-2zM58 23h1v1h-1zM32 24h2v1h-2zM37 24h1v1h-1zM50 24h1v1h-1zM53 24h1v1h-1zM57 24h2v1h-2zM31 25h1v1h-1zM35 25h2v1h-2zM43 25h1v1h-1zM48 25h2v1h-2zM51 25h2v1h-2zM57 25h3v1h-3zM29 26h2v1h-2zM39 26h2v1h-2zM42 26h2v1h-2zM47 26h4v1h-4zM52 26h2v1h-2zM56 26h1v1h-1zM60 26h1v1h-1zM23 27h3v1h-3zM28 27h2v1h-2zM37 27h3v1h-3zM49 27h1v1h-1zM61 27h1v1h-1zM23 28h1v1h-1zM29 28h2v1h-2zM38 28h1v1h-1zM45 28h1v1h-1zM51 28h2v1h-2zM55 28h2v1h-2zM29 29h4v1h-4zM39 29h1v1h-1zM43 29h1v1h-1zM45 29h2v1h-2zM51 29h1v1h-1zM56 29h2v1h-2zM61 29h1v1h-1zM32 30h1v1h-1zM39 30h2v1h-2zM44 30h2v1h-2zM47 30h1v1h-1zM54 30h1v1h-1zM57 30h1v1h-1zM59 30h1v1h-1zM61 30h2v1h-2zM35 31h2v1h-2zM38 31h1v1h-1zM40 31h1v1h-1zM50 31h1v1h-1zM52 31h1v1h-1zM54 31h2v1h-2zM59 31h4v1h-4zM34 32h1v1h-1zM37 32h3v1h-3zM42 32h1v1h-1zM44 32h1v1h-1zM46 32h1v1h-1zM48 32h1v1h-1zM50 32h3v1h-3zM56 32h2v1h-2zM60 32h1v1h-1zM62 32h1v1h-1zM33 33h1v1h-1zM37 33h3v1h-3zM41 33h5v1h-5zM56 33h2v1h-2zM63 33h1v1h-1zM32 34h3v1h-3zM40 34h1v1h-1zM44 34h2v1h-2zM58 34h1v1h-1zM60 34h2v1h-2zM32 35h1v1h-1zM34 35h1v1h-1zM38 35h1v1h-1zM40 35h1v1h-1zM42 35h2v1h-2zM45 35h1v1h-1zM54 35h1v1h-1zM56 35h1v1h-1zM59 35h1v1h-1zM62 35h1v1h-1zM28 36h1v1h-1zM30 36h2v1h-2zM35 36h1v1h-1zM37 36h1v1h-1zM39 36h2v1h-2zM43 36h1v1h-1zM47 36h1v1h-1zM52 36h1v1h-1zM54 36h1v1h-1zM58 36h1v1h-1zM60 36h1v1h-1zM63 36h1v1h-1zM14 37h1v1h-1zM28 37h1v1h-1zM30 37h1v1h-1zM33 37h3v1h-3zM37 37h2v1h-2zM41 37h2v1h-2zM45 37h2v1h-2zM54 37h3v1h-3zM58 37h2v1h-2zM64 37h2v1h-2zM13 38h1v1h-1zM20 38h1v1h-1zM22 38h1v1h-1zM26 38h1v1h-1zM29 38h2v1h-2zM33 38h1v1h-1zM36 38h2v1h-2zM40 38h1v1h-1zM42 38h1v1h-1zM58 38h1v1h-1zM66 38h1v1h-1zM13 39h1v1h-1zM20 39h2v1h-2zM24 39h2v1h-2zM27 39h1v1h-1zM29 39h1v1h-1zM34 39h3v1h-3zM40 39h2v1h-2zM67 39h1v1h-1zM12 40h2v1h-2zM20 40h1v1h-1zM22 40h2v1h-2zM25 40h1v1h-1zM27 40h1v1h-1zM30 40h1v1h-1zM34 40h1v1h-1zM40 40h1v1h-1zM42 40h1v1h-1zM66 40h2v1h-2zM13 41h3v1h-3zM17 41h1v1h-1zM21 41h2v1h-2zM37 41h1v1h-1zM66 41h1v1h-1zM12 42h1v1h-1zM15 42h1v1h-1zM17 42h2v1h-2zM20 42h2v1h-2zM25 42h2v1h-2zM39 42h2v1h-2zM47 42h1v1h-1zM66 42h3v1h-3zM15 43h1v1h-1zM17 43h2v1h-2zM20 43h2v1h-2zM25 43h1v1h-1zM30 43h1v1h-1zM37 43h1v1h-1zM65 43h2v1h-2zM70 43h1v1h-1zM8 44h1v1h-1zM12 44h1v1h-1zM14 44h3v1h-3zM21 44h1v1h-1zM24 44h2v1h-2zM29 44h3v1h-3zM37 44h2v1h-2zM40 44h1v1h-1zM70 44h1v1h-1zM14 45h2v1h-2zM20 45h1v1h-1zM23 45h1v1h-1zM28 45h2v1h-2zM37 45h4v1h-4zM70 45h1v1h-1zM72 45h2v1h-2zM10 46h1v1h-1zM15 46h1v1h-1zM31 46h1v1h-1zM38 46h3v1h-3zM13 47h1v1h-1zM25 47h3v1h-3zM36 47h2v1h-2zM39 47h2v1h-2zM43 47h3v1h-3zM76 47h1v1h-1zM13 48h1v1h-1zM18 48h1v1h-1zM24 48h1v1h-1zM26 48h1v1h-1zM28 48h2v1h-2zM34 48h6v1h-6zM42 48h2v1h-2zM45 48h3v1h-3zM75 48h1v1h-1zM77 48h1v1h-1zM13 49h1v1h-1zM20 49h2v1h-2zM23 49h1v1h-1zM35 49h2v1h-2zM38 49h1v1h-1zM46 49h1v1h-1zM77 49h1v1h-1zM87 49h1v1h-1zM11 50h3v1h-3zM34 50h1v1h-1zM45 50h1v1h-1zM79 50h1v1h-1zM10 51h3v1h-3zM33 51h1v1h-1zM37 51h2v1h-2zM83 51h1v1h-1zM10 52h1v1h-1zM33 52h1v1h-1zM37 52h1v1h-1zM95 52h1v1h-1zM98 52h2v1h-2zM9 53h2v1h-2zM33 53h1v1h-1zM37 53h1v1h-1zM91 53h2v1h-2zM96 53h2v1h-2zM99 53h1v1h-1zM9 54h1v1h-1zM37 54h1v1h-1zM89 54h3v1h-3zM96 54h2v1h-2zM9 55h2v1h-2zM28 55h1v1h-1zM34 55h2v1h-2zM37 55h1v1h-1zM90 55h1v1h-1zM97 55h1v1h-1zM9 56h2v1h-2zM15 56h2v1h-2zM27 56h2v1h-2zM31 56h1v1h-1zM34 56h3v1h-3zM90 56h1v1h-1zM9 57h3v1h-3zM16 57h1v1h-1zM30 57h1v1h-1zM32 57h1v1h-1zM34 57h4v1h-4zM9 58h2v1h-2zM12 58h3v1h-3zM28 58h1v1h-1zM30 58h2v1h-2zM35 58h2v1h-2zM90 58h2v1h-2zM20 59h1v1h-1zM35 59h2v1h-2zM89 59h1v1h-1zM91 59h1v1h-1zM22 60h1v1h-1zM29 60h1v1h-1zM33 60h1v1h-1zM35 60h1v1h-1zM87 60h1v1h-1zM90 60h2v1h-2zM29 61h1v1h-1zM35 61h1v1h-1zM86 61h1v1h-1zM90 61h1v1h-1zM19 62h1v1h-1zM25 63h3v1h-3zM25 64h2v1h-2zM29 64h1v1h-1zM35 64h1v1h-1zM25 65h2v1h-2zM34 65h3v1h-3zM42 65h2v1h-2zM29 66h1v1h-1zM35 66h1v1h-1zM41 66h1v1h-1zM44 66h1v1h-1zM80 66h2v1h-2zM28 67h2v1h-2zM34 67h2v1h-2zM40 67h1v1h-1zM80 67h4v1h-4zM33 68h1v1h-1zM35 68h1v1h-1zM41 68h1v1h-1zM44 68h2v1h-2zM73 68h1v1h-1zM80 68h2v1h-2zM29 69h1v1h-1zM34 69h1v1h-1zM41 69h1v1h-1zM45 69h1v1h-1zM47 69h1v1h-1zM71 69h2v1h-2zM80 69h2v1h-2zM33 70h2v1h-2zM41 70h1v1h-1zM45 70h1v1h-1zM66 70h1v1h-1zM69 70h1v1h-1zM72 70h2v1h-2zM81 70h1v1h-1zM35 71h2v1h-2zM38 71h1v1h-1zM41 71h2v1h-2zM65 71h1v1h-1zM73 71h3v1h-3zM80 71h2v1h-2zM35 72h1v1h-1zM39 72h2v1h-2zM75 72h2v1h-2zM79 72h2v1h-2zM39 73h2v1h-2zM47 73h1v1h-1zM76 73h3v1h-3zM36 74h1v1h-1zM40 74h2v1h-2zM46 74h2v1h-2zM76 74h1v1h-1zM36 75h2v1h-2zM44 75h1v1h-1zM36 76h3v1h-3zM44 76h1v1h-1zM65 76h1v1h-1zM34 77h1v1h-1zM45 77h1v1h-1zM61 78h1v1h-1zM63 78h1v1h-1zM45 79h1v1h-1zM60 79h1v1h-1zM62 79h2v1h-2zM44 80h2v1h-2zM44 81h2v1h-2zM62 81h1v1h-1zM46 82h1v1h-1zM45 83h1v1h-1zM63 83h3v1h-3zM42 84h1v1h-1zM44 84h3v1h-3zM65 84h1v1h-1zM41 85h2v1h-2zM44 85h2v1h-2zM47 85h1v1h-1zM66 85h1v1h-1zM46 86h1v1h-1zM65 86h1v1h-1zM43 87h5v1h-5zM63 87h3v1h-3zM41 88h1v1h-1zM44 88h2v1h-2zM61 88h2v1h-2zM40 89h3v1h-3zM62 89h1v1h-1zM40 90h1v1h-1zM44 90h1v1h-1zM61 90h1v1h-1zM63 90h1v1h-1zM40 91h1v1h-1zM43 91h2v1h-2zM62 91h3v1h-3zM40 92h2v1h-2zM43 92h3v1h-3zM62 92h1v1h-1zM65 92h1v1h-1zM39 93h1v1h-1zM43 93h2v1h-2zM64 93h2v1h-2zM43 94h2v1h-2zM61 94h2v1h-2zM64 94h1v1h-1zM44 95h1v1h-1zM61 95h3v1h-3zM65 95h1v1h-1zM44 96h1v1h-1zM64 96h1v1h-1zM44 97h1v1h-1zM62 97h2v1h-2zM62 98h1v1h-1zM43 99h1v1h-1zM63 99h1v1h-1z"/><path fill="#c6f034" d="M62 0h1v1h-1zM56 1h2v1h-2zM59 1h1v1h-1zM11 2h1v1h-1zM58 2h1v1h-1zM61 2h2v1h-2zM8 3h1v1h-1zM10 3h1v1h-1zM60 3h2v1h-2zM10 4h1v1h-1zM15 4h1v1h-1zM19 4h2v1h-2zM31 4h1v1h-1zM61 4h1v1h-1zM14 5h1v1h-1zM19 5h2v1h-2zM24 5h1v1h-1zM60 5h1v1h-1zM14 6h1v1h-1zM21 6h2v1h-2zM24 6h1v1h-1zM31 6h1v1h-1zM60 6h1v1h-1zM14 7h2v1h-2zM22 7h2v1h-2zM30 7h2v1h-2zM54 7h1v1h-1zM59 7h2v1h-2zM0 8h1v1h-1zM31 8h2v1h-2zM57 8h1v1h-1zM59 8h1v1h-1zM62 8h3v1h-3zM0 9h1v1h-1zM14 9h1v1h-1zM16 9h1v1h-1zM19 9h1v1h-1zM30 9h3v1h-3zM56 9h4v1h-4zM61 9h1v1h-1zM63 9h1v1h-1zM13 10h2v1h-2zM17 10h1v1h-1zM19 10h1v1h-1zM32 10h2v1h-2zM56 10h4v1h-4zM1 11h2v1h-2zM14 11h2v1h-2zM31 11h2v1h-2zM56 11h1v1h-1zM59 11h1v1h-1zM63 11h1v1h-1zM1 12h1v1h-1zM12 12h2v1h-2zM56 12h1v1h-1zM58 12h4v1h-4zM63 12h2v1h-2zM4 13h1v1h-1zM10 13h1v1h-1zM12 13h1v1h-1zM15 13h1v1h-1zM54 13h2v1h-2zM57 13h4v1h-4zM63 13h2v1h-2zM0 14h1v1h-1zM4 14h1v1h-1zM11 14h1v1h-1zM13 14h1v1h-1zM15 14h1v1h-1zM56 14h1v1h-1zM59 14h1v1h-1zM61 14h4v1h-4zM14 15h1v1h-1zM55 15h1v1h-1zM59 15h5v1h-5zM65 15h2v1h-2zM1 16h1v1h-1zM3 16h2v1h-2zM14 16h2v1h-2zM55 16h2v1h-2zM58 16h1v1h-1zM60 16h3v1h-3zM65 16h1v1h-1zM2 17h1v1h-1zM56 17h1v1h-1zM61 17h2v1h-2zM66 17h2v1h-2zM15 18h2v1h-2zM55 18h1v1h-1zM62 18h1v1h-1zM64 18h1v1h-1zM14 19h4v1h-4zM56 19h1v1h-1zM59 19h1v1h-1zM61 19h6v1h-6zM15 20h3v1h-3zM58 20h5v1h-5zM15 21h5v1h-5zM23 21h1v1h-1zM51 21h1v1h-1zM21 22h1v1h-1zM23 22h1v1h-1zM51 22h1v1h-1zM61 22h1v1h-1zM17 23h1v1h-1zM20 23h1v1h-1zM34 23h2v1h-2zM52 23h1v1h-1zM56 23h2v1h-2zM59 23h2v1h-2zM31 24h1v1h-1zM51 24h1v1h-1zM62 24h1v1h-1zM24 25h1v1h-1zM61 25h1v1h-1zM21 26h2v1h-2zM63 26h1v1h-1zM21 27h1v1h-1zM41 27h2v1h-2zM54 27h1v1h-1zM62 27h1v1h-1zM64 27h1v1h-1zM21 28h1v1h-1zM41 28h2v1h-2zM53 28h2v1h-2zM63 28h2v1h-2zM21 29h2v1h-2zM24 29h3v1h-3zM28 29h1v1h-1zM40 29h3v1h-3zM54 29h1v1h-1zM21 30h1v1h-1zM24 30h1v1h-1zM28 30h3v1h-3zM42 30h1v1h-1zM53 30h1v1h-1zM20 31h1v1h-1zM22 31h3v1h-3zM26 31h1v1h-1zM30 31h2v1h-2zM19 32h1v1h-1zM21 32h1v1h-1zM25 32h6v1h-6zM63 32h2v1h-2zM19 33h2v1h-2zM27 33h1v1h-1zM29 33h1v1h-1zM35 33h1v1h-1zM19 34h3v1h-3zM26 34h2v1h-2zM29 34h1v1h-1zM36 34h2v1h-2zM64 34h2v1h-2zM18 35h4v1h-4zM26 35h3v1h-3zM65 35h1v1h-1zM12 36h1v1h-1zM14 36h1v1h-1zM21 36h1v1h-1zM25 36h2v1h-2zM64 36h2v1h-2zM16 37h1v1h-1zM36 37h1v1h-1zM66 37h2v1h-2zM7 38h2v1h-2zM10 38h2v1h-2zM15 38h1v1h-1zM25 38h1v1h-1zM6 39h1v1h-1zM9 39h1v1h-1zM11 39h1v1h-1zM17 39h1v1h-1zM68 39h1v1h-1zM69 40h1v1h-1zM10 41h2v1h-2zM70 41h1v1h-1zM8 42h1v1h-1zM11 42h1v1h-1zM70 42h1v1h-1zM8 43h3v1h-3zM14 43h1v1h-1zM23 43h1v1h-1zM71 43h1v1h-1zM7 44h1v1h-1zM9 44h2v1h-2zM72 44h2v1h-2zM6 45h1v1h-1zM12 45h1v1h-1zM21 45h2v1h-2zM74 45h1v1h-1zM6 46h1v1h-1zM21 46h1v1h-1zM23 46h1v1h-1zM29 46h1v1h-1zM74 46h1v1h-1zM76 46h1v1h-1zM3 47h3v1h-3zM10 47h2v1h-2zM20 47h3v1h-3zM78 47h1v1h-1zM3 48h4v1h-4zM44 48h1v1h-1zM78 48h1v1h-1zM88 48h1v1h-1zM0 49h1v1h-1zM5 49h1v1h-1zM7 49h3v1h-3zM84 49h1v1h-1zM99 49h1v1h-1zM0 50h1v1h-1zM4 50h1v1h-1zM6 50h1v1h-1zM36 50h1v1h-1zM81 50h1v1h-1zM83 50h1v1h-1zM99 50h1v1h-1zM8 51h1v1h-1zM35 51h1v1h-1zM94 51h4v1h-4zM0 52h1v1h-1zM8 52h2v1h-2zM0 53h3v1h-3zM8 53h1v1h-1zM93 53h1v1h-1zM2 54h1v1h-1zM93 54h1v1h-1zM99 54h1v1h-1zM1 55h1v1h-1zM4 55h3v1h-3zM94 55h2v1h-2zM98 55h2v1h-2zM5 56h3v1h-3zM92 56h1v1h-1zM99 56h1v1h-1zM6 57h2v1h-2zM92 57h1v1h-1zM98 57h1v1h-1zM6 58h1v1h-1zM15 58h2v1h-2zM26 58h2v1h-2zM6 59h1v1h-1zM12 59h1v1h-1zM14 59h1v1h-1zM16 59h2v1h-2zM27 59h1v1h-1zM6 60h1v1h-1zM11 60h3v1h-3zM15 60h1v1h-1zM24 60h3v1h-3zM28 60h1v1h-1zM10 61h1v1h-1zM13 61h2v1h-2zM17 61h1v1h-1zM20 61h2v1h-2zM23 61h2v1h-2zM26 61h2v1h-2zM0 62h2v1h-2zM20 62h2v1h-2zM23 62h2v1h-2zM87 62h1v1h-1zM1 63h2v1h-2zM17 63h1v1h-1zM20 63h1v1h-1zM86 63h2v1h-2zM0 64h1v1h-1zM15 64h1v1h-1zM23 64h1v1h-1zM86 64h1v1h-1zM1 65h1v1h-1zM15 65h1v1h-1zM23 65h1v1h-1zM87 65h1v1h-1zM14 66h3v1h-3zM25 66h2v1h-2zM13 67h1v1h-1zM16 67h1v1h-1zM25 67h1v1h-1zM42 67h1v1h-1zM5 68h1v1h-1zM13 68h1v1h-1zM16 68h1v1h-1zM22 68h3v1h-3zM84 68h2v1h-2zM14 69h1v1h-1zM24 69h1v1h-1zM26 69h2v1h-2zM83 69h1v1h-1zM24 70h1v1h-1zM27 70h2v1h-2zM32 70h1v1h-1zM83 70h1v1h-1zM4 71h1v1h-1zM27 71h2v1h-2zM30 71h1v1h-1zM32 71h1v1h-1zM44 71h1v1h-1zM46 71h1v1h-1zM66 71h3v1h-3zM71 71h1v1h-1zM28 72h1v1h-1zM34 72h1v1h-1zM42 72h2v1h-2zM45 72h1v1h-1zM66 72h1v1h-1zM82 72h1v1h-1zM29 73h1v1h-1zM37 73h1v1h-1zM43 73h1v1h-1zM45 73h1v1h-1zM73 73h1v1h-1zM79 73h1v1h-1zM81 73h2v1h-2zM30 74h1v1h-1zM34 74h1v1h-1zM38 74h1v1h-1zM42 74h3v1h-3zM74 74h1v1h-1zM78 74h3v1h-3zM13 75h2v1h-2zM28 75h1v1h-1zM31 75h5v1h-5zM75 75h1v1h-1zM14 76h2v1h-2zM32 76h1v1h-1zM39 76h4v1h-4zM66 76h1v1h-1zM77 76h1v1h-1zM30 77h2v1h-2zM38 77h1v1h-1zM40 77h1v1h-1zM42 77h1v1h-1zM31 78h2v1h-2zM37 78h3v1h-3zM65 78h1v1h-1zM33 79h4v1h-4zM39 79h1v1h-1zM64 79h1v1h-1zM34 80h2v1h-2zM39 80h1v1h-1zM42 80h2v1h-2zM21 81h1v1h-1zM30 81h1v1h-1zM43 81h1v1h-1zM27 82h1v1h-1zM43 82h1v1h-1zM65 82h3v1h-3zM27 83h1v1h-1zM38 83h1v1h-1zM42 83h1v1h-1zM68 83h1v1h-1zM40 84h2v1h-2zM77 84h1v1h-1zM40 85h1v1h-1zM68 85h1v1h-1zM36 86h1v1h-1zM41 86h1v1h-1zM67 86h1v1h-1zM40 88h1v1h-1zM65 88h1v1h-1zM67 88h1v1h-1zM70 88h1v1h-1zM3 89h1v1h-1zM36 89h1v1h-1zM38 89h1v1h-1zM65 89h1v1h-1zM71 89h1v1h-1zM37 90h2v1h-2zM65 90h1v1h-1zM38 91h1v1h-1zM65 91h1v1h-1zM67 91h3v1h-3zM1 92h1v1h-1zM38 92h2v1h-2zM68 92h1v1h-1zM38 93h1v1h-1zM63 93h1v1h-1zM67 93h4v1h-4zM39 94h4v1h-4zM70 94h1v1h-1zM39 95h1v1h-1zM42 95h1v1h-1zM66 95h1v1h-1zM65 96h1v1h-1zM64 97h2v1h-2zM39 98h1v1h-1zM42 98h1v1h-1zM64 98h1v1h-1zM38 99h3v1h-3zM42 99h1v1h-1z"/><path fill="#80ff53" d="M69 0h1v1h-1zM5 1h2v1h-2zM69 1h1v1h-1zM4 2h2v1h-2zM69 3h1v1h-1zM69 4h1v1h-1zM69 9h1v1h-1zM68 10h1v1h-1zM70 10h1v1h-1zM68 11h2v1h-2zM69 12h1v1h-1zM69 13h1v1h-1zM69 14h1v1h-1zM70 16h1v1h-1zM0 20h1v1h-1zM3 20h1v1h-1zM5 20h3v1h-3zM8 21h1v1h-1zM68 21h1v1h-1zM11 22h1v1h-1zM13 22h1v1h-1zM68 22h1v1h-1zM14 23h1v1h-1zM68 23h1v1h-1zM15 24h1v1h-1zM68 26h1v1h-1zM16 27h1v1h-1zM67 27h2v1h-2zM67 28h1v1h-1zM69 28h2v1h-2zM15 29h1v1h-1zM69 29h2v1h-2zM15 31h1v1h-1zM72 31h1v1h-1zM16 32h1v1h-1zM72 32h1v1h-1zM72 33h1v1h-1zM6 34h3v1h-3zM10 34h2v1h-2zM14 34h1v1h-1zM71 34h1v1h-1zM0 35h2v1h-2zM70 35h1v1h-1zM69 36h1v1h-1zM70 37h1v1h-1zM70 38h2v1h-2zM74 41h1v1h-1zM0 42h1v1h-1zM73 42h1v1h-1zM94 42h2v1h-2zM92 43h1v1h-1zM76 44h1v1h-1zM91 44h1v1h-1zM99 44h1v1h-1zM77 45h2v1h-2zM79 46h1v1h-1zM83 46h1v1h-1zM85 46h1v1h-1zM88 46h2v1h-2zM91 46h1v1h-1zM97 46h3v1h-3zM98 47h2v1h-2zM0 58h1v1h-1zM0 59h1v1h-1zM98 59h2v1h-2zM95 61h1v1h-1zM91 64h2v1h-2zM89 66h1v1h-1zM88 68h1v1h-1zM87 69h2v1h-2zM86 71h1v1h-1zM0 72h1v1h-1zM85 72h1v1h-1zM2 73h1v1h-1zM85 73h1v1h-1zM1 74h1v1h-1zM84 74h1v1h-1zM0 75h1v1h-1zM2 76h1v1h-1zM2 78h1v1h-1zM4 78h2v1h-2zM80 78h2v1h-2zM5 79h1v1h-1zM80 79h1v1h-1zM3 80h1v1h-1zM76 80h1v1h-1zM80 80h1v1h-1zM3 81h3v1h-3zM11 81h4v1h-4zM16 81h2v1h-2zM79 81h1v1h-1zM5 82h1v1h-1zM10 82h1v1h-1zM13 82h2v1h-2zM14 83h2v1h-2zM80 83h1v1h-1zM14 84h5v1h-5zM15 85h1v1h-1zM80 85h1v1h-1zM0 86h1v1h-1zM14 86h3v1h-3zM78 86h1v1h-1zM13 87h2v1h-2zM18 87h1v1h-1zM74 87h5v1h-5zM0 88h2v1h-2zM16 88h4v1h-4zM75 88h1v1h-1zM78 88h1v1h-1zM11 89h1v1h-1zM18 89h1v1h-1zM21 89h1v1h-1zM28 89h1v1h-1zM78 89h1v1h-1zM9 90h3v1h-3zM18 90h1v1h-1zM20 90h2v1h-2zM29 90h1v1h-1zM78 90h2v1h-2zM9 91h2v1h-2zM20 91h1v1h-1zM30 91h2v1h-2zM77 91h1v1h-1zM9 92h1v1h-1zM17 92h1v1h-1zM19 92h1v1h-1zM21 92h1v1h-1zM24 92h1v1h-1zM31 92h2v1h-2zM9 93h1v1h-1zM20 93h1v1h-1zM23 93h1v1h-1zM34 93h1v1h-1zM76 93h1v1h-1zM35 94h1v1h-1zM25 95h1v1h-1zM27 95h1v1h-1zM31 95h1v1h-1zM35 95h1v1h-1zM21 96h2v1h-2zM25 96h2v1h-2zM28 96h1v1h-1zM35 96h1v1h-1zM74 96h1v1h-1zM1 97h3v1h-3zM20 97h2v1h-2zM28 97h1v1h-1zM34 97h1v1h-1zM74 97h1v1h-1zM0 98h3v1h-3zM5 98h2v1h-2zM22 98h2v1h-2zM34 98h1v1h-1zM73 98h2v1h-2zM0 99h1v1h-1zM2 99h3v1h-3zM33 99h1v1h-1zM74 99h1v1h-1z"/><path fill="#59fb73" d="M70 0h1v1h-1zM71 1h2v1h-2zM70 3h1v1h-1zM70 4h1v1h-1zM70 6h1v1h-1zM70 8h1v1h-1zM70 12h1v1h-1zM70 13h1v1h-1zM70 17h1v1h-1zM1 21h3v1h-3zM5 21h2v1h-2zM69 21h1v1h-1zM7 22h1v1h-1zM10 23h1v1h-1zM14 25h1v1h-1zM70 25h1v1h-1zM15 26h1v1h-1zM70 26h2v1h-2zM15 27h1v1h-1zM72 27h1v1h-1zM71 28h2v1h-2zM72 29h1v1h-1zM87 29h1v1h-1zM14 30h1v1h-1zM72 30h1v1h-1zM6 33h1v1h-1zM14 33h1v1h-1zM1 34h1v1h-1zM4 34h1v1h-1zM9 34h1v1h-1zM13 34h1v1h-1zM71 36h1v1h-1zM73 36h1v1h-1zM72 38h2v1h-2zM74 40h1v1h-1zM94 40h2v1h-2zM75 41h1v1h-1zM91 41h2v1h-2zM76 42h1v1h-1zM76 43h1v1h-1zM79 45h1v1h-1zM85 45h3v1h-3zM89 45h2v1h-2zM80 46h2v1h-2zM96 61h1v1h-1zM95 62h1v1h-1zM94 63h1v1h-1zM93 64h1v1h-1zM91 65h2v1h-2zM89 68h1v1h-1zM88 70h1v1h-1zM86 72h2v1h-2zM86 73h1v1h-1zM0 74h1v1h-1zM84 76h1v1h-1zM84 77h1v1h-1zM83 78h2v1h-2zM82 79h1v1h-1zM82 80h1v1h-1zM81 81h1v1h-1zM80 82h2v1h-2zM81 83h1v1h-1zM81 84h1v1h-1zM17 86h1v1h-1zM80 86h1v1h-1zM17 87h1v1h-1zM79 87h2v1h-2zM80 88h1v1h-1zM80 89h1v1h-1zM81 90h1v1h-1zM80 91h1v1h-1zM78 92h2v1h-2zM32 93h1v1h-1zM34 95h1v1h-1zM76 95h1v1h-1zM32 96h1v1h-1zM32 97h1v1h-1zM75 97h1v1h-1zM75 98h1v1h-1z"/><path fill="#46f884" d="M72 0h1v1h-1zM72 2h1v1h-1zM71 3h2v1h-2zM70 5h1v1h-1zM71 9h1v1h-1zM71 10h1v1h-1zM71 11h1v1h-1zM71 12h1v1h-1zM71 14h1v1h-1zM71 15h1v1h-1zM71 16h1v1h-1zM98 16h2v1h-2zM99 17h1v1h-1zM70 18h1v1h-1zM70 19h1v1h-1zM69 20h1v1h-1zM70 21h1v1h-1zM0 22h2v1h-2zM6 22h1v1h-1zM8 22h1v1h-1zM99 22h1v1h-1zM1 23h1v1h-1zM8 23h2v1h-2zM70 23h1v1h-1zM13 24h1v1h-1zM70 24h1v1h-1zM71 25h1v1h-1zM72 26h2v1h-2zM73 27h1v1h-1zM86 29h1v1h-1zM87 30h1v1h-1zM14 31h1v1h-1zM73 31h1v1h-1zM1 32h3v1h-3zM5 32h1v1h-1zM14 32h1v1h-1zM73 32h1v1h-1zM0 33h6v1h-6zM9 33h4v1h-4zM73 34h1v1h-1zM72 35h2v1h-2zM72 36h1v1h-1zM73 37h1v1h-1zM74 38h1v1h-1zM74 39h1v1h-1zM91 40h1v1h-1zM77 42h1v1h-1zM77 43h1v1h-1zM90 43h1v1h-1zM78 44h1v1h-1zM90 44h1v1h-1zM80 45h1v1h-1zM83 45h2v1h-2zM88 45h1v1h-1zM82 46h1v1h-1zM97 61h3v1h-3zM90 66h1v1h-1zM89 69h1v1h-1zM88 71h1v1h-1zM87 73h1v1h-1zM86 74h1v1h-1zM85 75h1v1h-1zM85 76h1v1h-1zM83 80h1v1h-1zM82 81h2v1h-2zM81 89h1v1h-1zM81 91h1v1h-1zM80 92h1v1h-1zM78 93h1v1h-1zM77 94h1v1h-1zM76 96h1v1h-1zM76 97h1v1h-1zM76 99h1v1h-1z"/><path fill="#27eea4" d="M73 0h1v1h-1zM92 2h1v1h-1zM91 3h1v1h-1zM91 4h1v1h-1zM91 5h2v1h-2zM92 6h1v1h-1zM71 7h1v1h-1zM72 11h1v1h-1zM72 12h1v1h-1zM98 14h1v1h-1zM96 15h1v1h-1zM98 15h1v1h-1zM96 16h2v1h-2zM95 17h1v1h-1zM97 17h1v1h-1zM71 18h2v1h-2zM96 18h2v1h-2zM99 18h1v1h-1zM71 19h1v1h-1zM96 19h4v1h-4zM97 20h3v1h-3zM71 21h2v1h-2zM96 21h3v1h-3zM72 22h1v1h-1zM94 22h1v1h-1zM97 22h2v1h-2zM0 23h1v1h-1zM2 23h1v1h-1zM72 23h1v1h-1zM97 23h3v1h-3zM0 24h1v1h-1zM5 24h2v1h-2zM10 24h2v1h-2zM72 24h1v1h-1zM73 25h1v1h-1zM86 27h1v1h-1zM88 28h1v1h-1zM88 29h1v1h-1zM0 31h1v1h-1zM86 31h1v1h-1zM89 31h1v1h-1zM12 32h1v1h-1zM74 32h1v1h-1zM87 32h3v1h-3zM86 33h2v1h-2zM93 35h1v1h-1zM74 36h1v1h-1zM89 36h1v1h-1zM94 36h1v1h-1zM74 37h1v1h-1zM90 37h1v1h-1zM75 38h1v1h-1zM90 38h1v1h-1zM76 40h1v1h-1zM77 41h1v1h-1zM79 41h1v1h-1zM79 42h1v1h-1zM89 42h1v1h-1zM80 44h3v1h-3zM85 44h2v1h-2zM88 44h1v1h-1zM96 62h1v1h-1zM98 62h1v1h-1zM90 68h1v1h-1zM89 70h1v1h-1zM89 71h1v1h-1zM89 72h1v1h-1zM88 73h1v1h-1zM88 74h1v1h-1zM86 76h1v1h-1zM85 78h1v1h-1zM85 79h1v1h-1zM85 80h1v1h-1zM84 81h1v1h-1zM83 82h1v1h-1zM82 83h2v1h-2zM83 84h1v1h-1zM82 87h2v1h-2zM83 88h1v1h-1zM82 92h1v1h-1zM78 94h1v1h-1zM78 95h1v1h-1zM77 97h1v1h-1zM77 98h1v1h-1z"/><path fill="#18e0bd" d="M74 0h1v1h-1zM85 0h1v1h-1zM90 0h2v1h-2zM93 0h1v1h-1zM90 1h1v1h-1zM90 2h1v1h-1zM90 3h1v1h-1zM73 4h2v1h-2zM89 4h1v1h-1zM90 5h1v1h-1zM73 6h1v1h-1zM90 6h1v1h-1zM93 6h1v1h-1zM73 7h1v1h-1zM91 7h1v1h-1zM93 7h1v1h-1zM93 9h1v1h-1zM73 12h1v1h-1zM96 13h1v1h-1zM98 13h2v1h-2zM93 14h1v1h-1zM95 14h1v1h-1zM93 15h1v1h-1zM93 16h1v1h-1zM93 17h1v1h-1zM95 18h1v1h-1zM73 19h1v1h-1zM73 20h2v1h-2zM74 21h1v1h-1zM74 22h1v1h-1zM96 22h1v1h-1zM73 23h1v1h-1zM74 24h1v1h-1zM1 25h1v1h-1zM5 26h1v1h-1zM12 26h1v1h-1zM2 27h1v1h-1zM13 27h1v1h-1zM89 27h1v1h-1zM2 28h1v1h-1zM5 28h1v1h-1zM13 28h1v1h-1zM84 28h2v1h-2zM89 28h1v1h-1zM85 29h1v1h-1zM89 29h1v1h-1zM89 30h2v1h-2zM10 31h2v1h-2zM85 31h1v1h-1zM90 31h1v1h-1zM90 32h1v1h-1zM85 33h1v1h-1zM92 33h1v1h-1zM85 34h3v1h-3zM86 35h2v1h-2zM75 36h1v1h-1zM85 36h1v1h-1zM76 37h1v1h-1zM86 37h2v1h-2zM76 38h1v1h-1zM88 38h1v1h-1zM76 39h2v1h-2zM88 39h1v1h-1zM79 40h1v1h-1zM88 41h1v1h-1zM84 42h1v1h-1zM88 42h1v1h-1zM80 43h1v1h-1zM87 43h1v1h-1zM96 63h1v1h-1zM98 63h2v1h-2zM95 64h1v1h-1zM94 65h1v1h-1zM93 66h1v1h-1zM92 67h2v1h-2zM91 69h1v1h-1zM91 70h1v1h-1zM90 72h1v1h-1zM90 73h1v1h-1zM90 74h2v1h-2zM89 75h3v1h-3zM88 76h3v1h-3zM88 77h2v1h-2zM87 78h3v1h-3zM86 79h1v1h-1zM85 81h1v1h-1zM85 82h1v1h-1zM84 83h1v1h-1zM86 83h2v1h-2zM84 84h2v1h-2zM84 85h1v1h-1zM87 85h2v1h-2zM84 86h1v1h-1zM86 86h2v1h-2zM85 88h1v1h-1zM87 89h1v1h-1zM84 90h1v1h-1zM86 90h3v1h-3zM85 91h2v1h-2zM88 91h1v1h-1zM90 91h1v1h-1zM86 92h2v1h-2zM89 92h2v1h-2zM83 93h2v1h-2zM88 93h2v1h-2zM92 93h1v1h-1zM82 94h1v1h-1zM84 94h1v1h-1zM86 94h1v1h-1zM88 94h4v1h-4zM81 95h4v1h-4zM90 95h1v1h-1zM80 97h2v1h-2zM81 98h2v1h-2zM81 99h1v1h-1z"/><path fill="#1bd0d5" d="M75 0h1v1h-1zM75 1h1v1h-1zM75 3h1v1h-1zM77 3h1v1h-1zM75 4h1v1h-1zM75 5h1v1h-1zM76 6h1v1h-1zM75 7h1v1h-1zM94 7h2v1h-2zM91 8h2v1h-2zM95 8h1v1h-1zM92 9h1v1h-1zM95 9h1v1h-1zM97 9h1v1h-1zM90 12h1v1h-1zM94 12h1v1h-1zM90 13h1v1h-1zM93 13h3v1h-3zM73 14h1v1h-1zM90 14h2v1h-2zM73 15h1v1h-1zM73 16h1v1h-1zM73 17h1v1h-1zM74 18h1v1h-1zM20 20h1v1h-1zM5 22h1v1h-1zM0 26h2v1h-2zM84 26h1v1h-1zM1 27h1v1h-1zM83 27h1v1h-1zM83 28h1v1h-1zM12 29h1v1h-1zM84 29h1v1h-1zM12 31h1v1h-1zM77 31h1v1h-1zM76 32h1v1h-1zM84 32h1v1h-1zM84 33h1v1h-1zM83 34h2v1h-2zM75 35h1v1h-1zM84 35h1v1h-1zM76 36h1v1h-1zM82 36h2v1h-2zM81 37h3v1h-3zM79 38h3v1h-3zM86 38h1v1h-1zM83 39h1v1h-1zM85 39h3v1h-3zM82 40h3v1h-3zM86 40h2v1h-2zM82 41h4v1h-4zM87 41h1v1h-1zM81 42h2v1h-2zM86 42h1v1h-1zM96 64h2v1h-2zM99 64h1v1h-1zM94 66h1v1h-1zM94 67h1v1h-1zM93 68h2v1h-2zM93 69h1v1h-1zM92 71h1v1h-1zM91 72h1v1h-1zM91 73h2v1h-2zM92 75h1v1h-1zM91 76h1v1h-1zM88 79h3v1h-3zM89 80h2v1h-2zM86 81h1v1h-1zM88 82h1v1h-1zM88 83h2v1h-2zM89 84h1v1h-1zM89 85h1v1h-1zM88 86h1v1h-1zM89 87h1v1h-1zM87 88h3v1h-3zM88 89h4v1h-4zM91 90h2v1h-2zM92 91h1v1h-1zM93 93h1v1h-1zM92 94h2v1h-2zM85 95h1v1h-1zM86 96h2v1h-2zM91 96h1v1h-1zM85 97h1v1h-1zM88 97h2v1h-2zM84 98h1v1h-1zM84 99h1v1h-1zM86 99h2v1h-2z"/><path fill="#22c5e2" d="M76 0h1v1h-1zM79 0h1v1h-1zM76 1h4v1h-4zM77 2h3v1h-3zM76 3h1v1h-1zM76 4h1v1h-1zM78 4h1v1h-1zM76 5h2v1h-2zM75 6h1v1h-1zM77 6h1v1h-1zM74 8h2v1h-2zM96 8h1v1h-1zM74 9h2v1h-2zM91 9h1v1h-1zM74 10h1v1h-1zM91 10h2v1h-2zM74 11h1v1h-1zM74 12h1v1h-1zM91 12h3v1h-3zM74 13h1v1h-1zM74 17h1v1h-1zM75 18h1v1h-1zM75 19h1v1h-1zM75 20h1v1h-1zM1 28h1v1h-1zM0 29h2v1h-2zM3 29h2v1h-2zM82 29h2v1h-2zM1 30h1v1h-1zM77 30h1v1h-1zM84 30h1v1h-1zM83 33h1v1h-1zM76 34h1v1h-1zM76 35h3v1h-3zM82 35h2v1h-2zM77 37h1v1h-1zM80 37h1v1h-1zM78 38h1v1h-1zM85 40h1v1h-1zM86 41h1v1h-1zM98 64h1v1h-1zM95 66h1v1h-1zM95 67h1v1h-1zM94 69h1v1h-1zM93 70h1v1h-1zM92 72h1v1h-1zM92 74h2v1h-2zM94 75h1v1h-1zM92 76h1v1h-1zM91 77h2v1h-2zM91 78h1v1h-1zM91 79h2v1h-2zM88 80h1v1h-1zM91 80h2v1h-2zM94 80h1v1h-1zM87 81h3v1h-3zM91 81h1v1h-1zM89 82h1v1h-1zM91 82h1v1h-1zM90 83h1v1h-1zM89 86h1v1h-1zM90 88h1v1h-1zM99 89h1v1h-1zM93 90h1v1h-1zM98 90h2v1h-2zM85 96h1v1h-1zM92 96h2v1h-2zM86 97h2v1h-2zM90 97h1v1h-1zM85 98h1v1h-1zM87 98h2v1h-2z"/><path fill="#2ab9ee" d="M77 0h2v1h-2zM78 3h2v1h-2zM77 4h1v1h-1zM80 4h1v1h-1zM78 5h1v1h-1zM80 5h1v1h-1zM78 6h3v1h-3zM76 7h1v1h-1zM80 7h1v1h-1zM77 8h1v1h-1zM80 8h1v1h-1zM97 8h1v1h-1zM79 9h1v1h-1zM75 10h1v1h-1zM75 11h1v1h-1zM91 11h2v1h-2zM75 12h1v1h-1zM74 14h1v1h-1zM78 14h1v1h-1zM78 15h1v1h-1zM78 16h1v1h-1zM75 17h1v1h-1zM76 20h1v1h-1zM84 23h1v1h-1zM84 24h1v1h-1zM84 25h1v1h-1zM96 25h1v1h-1zM83 26h1v1h-1zM81 28h2v1h-2zM80 29h2v1h-2zM0 30h1v1h-1zM3 30h1v1h-1zM78 30h1v1h-1zM82 30h1v1h-1zM78 31h1v1h-1zM84 31h1v1h-1zM77 32h1v1h-1zM83 32h1v1h-1zM82 33h1v1h-1zM99 33h1v1h-1zM77 34h1v1h-1zM82 34h1v1h-1zM79 35h1v1h-1zM77 36h1v1h-1zM79 36h3v1h-3zM78 37h2v1h-2zM96 65h1v1h-1zM95 69h1v1h-1zM94 70h1v1h-1zM93 71h1v1h-1zM93 73h1v1h-1zM93 75h1v1h-1zM97 75h1v1h-1zM93 76h1v1h-1zM99 76h1v1h-1zM93 77h1v1h-1zM92 78h4v1h-4zM93 79h2v1h-2zM93 80h1v1h-1zM90 81h1v1h-1zM92 81h2v1h-2zM90 82h1v1h-1zM92 82h1v1h-1zM91 83h1v1h-1zM93 83h1v1h-1zM90 84h2v1h-2zM94 84h1v1h-1zM96 84h1v1h-1zM90 85h2v1h-2zM95 85h1v1h-1zM90 86h1v1h-1zM90 87h1v1h-1zM91 88h1v1h-1zM92 89h1v1h-1zM94 90h1v1h-1zM95 91h1v1h-1zM98 91h2v1h-2zM94 92h1v1h-1zM94 93h1v1h-1zM98 93h1v1h-1zM94 94h4v1h-4zM94 95h2v1h-2zM94 96h2v1h-2zM91 97h1v1h-1zM86 98h1v1h-1zM89 98h2v1h-2zM88 99h1v1h-1z"/><path fill="#1de7b2" d="M83 0h1v1h-1zM92 0h1v1h-1zM74 1h1v1h-1zM91 1h2v1h-2zM74 2h1v1h-1zM91 2h1v1h-1zM93 2h1v1h-1zM73 3h2v1h-2zM93 3h1v1h-1zM72 4h1v1h-1zM90 4h1v1h-1zM92 4h2v1h-2zM72 5h2v1h-2zM93 5h1v1h-1zM72 6h1v1h-1zM91 6h1v1h-1zM72 7h1v1h-1zM92 7h1v1h-1zM72 8h1v1h-1zM72 9h1v1h-1zM72 13h1v1h-1zM97 13h1v1h-1zM72 14h1v1h-1zM96 14h2v1h-2zM99 14h1v1h-1zM72 15h1v1h-1zM94 15h2v1h-2zM72 16h1v1h-1zM94 16h2v1h-2zM72 17h1v1h-1zM94 17h1v1h-1zM96 17h1v1h-1zM93 18h2v1h-2zM72 19h1v1h-1zM94 19h2v1h-2zM94 20h3v1h-3zM73 21h1v1h-1zM95 21h1v1h-1zM73 22h1v1h-1zM95 22h1v1h-1zM74 23h1v1h-1zM96 23h1v1h-1zM1 24h2v1h-2zM73 24h1v1h-1zM0 25h1v1h-1zM12 25h1v1h-1zM13 26h1v1h-1zM86 26h1v1h-1zM85 27h1v1h-1zM87 27h2v1h-2zM85 30h1v1h-1zM86 32h1v1h-1zM91 32h1v1h-1zM74 33h1v1h-1zM88 33h4v1h-4zM74 34h1v1h-1zM88 34h2v1h-2zM93 34h1v1h-1zM74 35h1v1h-1zM88 35h2v1h-2zM87 36h2v1h-2zM75 37h1v1h-1zM88 37h2v1h-2zM89 38h1v1h-1zM89 39h1v1h-1zM77 40h2v1h-2zM89 40h1v1h-1zM78 41h1v1h-1zM89 41h1v1h-1zM80 42h1v1h-1zM79 43h1v1h-1zM83 43h2v1h-2zM88 43h2v1h-2zM92 66h1v1h-1zM91 67h1v1h-1zM91 68h1v1h-1zM90 69h1v1h-1zM90 70h1v1h-1zM90 71h1v1h-1zM89 73h1v1h-1zM89 74h1v1h-1zM87 75h2v1h-2zM87 76h1v1h-1zM86 77h2v1h-2zM86 78h1v1h-1zM84 82h1v1h-1zM86 84h2v1h-2zM83 85h1v1h-1zM85 85h2v1h-2zM83 86h1v1h-1zM85 86h1v1h-1zM84 87h3v1h-3zM84 88h1v1h-1zM83 89h3v1h-3zM83 90h1v1h-1zM85 90h1v1h-1zM83 91h2v1h-2zM83 92h3v1h-3zM88 92h1v1h-1zM91 92h2v1h-2zM79 93h1v1h-1zM81 93h2v1h-2zM87 93h1v1h-1zM90 93h2v1h-2zM79 94h3v1h-3zM83 94h1v1h-1zM79 95h2v1h-2zM79 96h1v1h-1zM81 96h1v1h-1zM78 97h2v1h-2zM78 98h3v1h-3zM77 99h1v1h-1zM79 99h2v1h-2z"/><path fill="#18d9c8" d="M84 0h1v1h-1zM86 0h1v1h-1zM89 0h1v1h-1zM89 1h1v1h-1zM93 1h1v1h-1zM75 2h2v1h-2zM89 2h1v1h-1zM89 3h1v1h-1zM74 5h1v1h-1zM89 5h1v1h-1zM74 6h1v1h-1zM74 7h1v1h-1zM73 8h1v1h-1zM93 8h2v1h-2zM73 9h1v1h-1zM94 9h1v1h-1zM96 9h1v1h-1zM73 10h1v1h-1zM98 10h1v1h-1zM73 11h1v1h-1zM95 12h1v1h-1zM73 13h1v1h-1zM91 13h2v1h-2zM92 14h1v1h-1zM94 14h1v1h-1zM73 18h1v1h-1zM74 19h1v1h-1zM2 22h3v1h-3zM96 24h4v1h-4zM85 25h2v1h-2zM85 26h1v1h-1zM5 27h1v1h-1zM84 27h1v1h-1zM13 29h1v1h-1zM90 29h1v1h-1zM12 30h2v1h-2zM13 31h1v1h-1zM75 31h2v1h-2zM91 31h1v1h-1zM75 32h1v1h-1zM85 32h1v1h-1zM75 34h1v1h-1zM85 35h1v1h-1zM84 36h1v1h-1zM86 36h1v1h-1zM84 37h2v1h-2zM77 38h1v1h-1zM82 38h4v1h-4zM87 38h1v1h-1zM78 39h5v1h-5zM84 39h1v1h-1zM80 40h2v1h-2zM88 40h1v1h-1zM80 41h2v1h-2zM83 42h1v1h-1zM85 42h1v1h-1zM87 42h1v1h-1zM81 43h2v1h-2zM85 43h2v1h-2zM97 63h1v1h-1zM95 65h1v1h-1zM92 68h1v1h-1zM92 69h1v1h-1zM92 70h1v1h-1zM91 71h1v1h-1zM90 77h1v1h-1zM90 78h1v1h-1zM87 79h1v1h-1zM86 80h2v1h-2zM86 82h2v1h-2zM85 83h1v1h-1zM87 87h2v1h-2zM86 88h1v1h-1zM86 89h1v1h-1zM89 90h2v1h-2zM87 91h1v1h-1zM89 91h1v1h-1zM91 91h1v1h-1zM93 91h1v1h-1zM93 92h1v1h-1zM85 93h2v1h-2zM85 94h1v1h-1zM87 94h1v1h-1zM86 95h4v1h-4zM91 95h3v1h-3zM82 96h3v1h-3zM88 96h3v1h-3zM82 97h3v1h-3zM83 98h1v1h-1zM78 99h1v1h-1zM82 99h2v1h-2zM85 99h1v1h-1z"/><path fill="#fc8423" d="M48 1h1v1h-1zM22 21h1v1h-1zM68 53h1v1h-1zM67 55h1v1h-1zM62 56h1v1h-1zM67 56h2v1h-2zM68 57h2v1h-2zM65 58h1v1h-1zM67 58h1v1h-1zM69 58h1v1h-1zM72 58h1v1h-1zM69 59h1v1h-1zM71 59h1v1h-1zM60 60h2v1h-2zM67 60h2v1h-2zM47 61h1v1h-1zM59 61h2v1h-2zM66 61h2v1h-2zM70 61h1v1h-1zM47 62h1v1h-1zM58 62h2v1h-2zM64 62h1v1h-1zM66 62h1v1h-1zM62 63h2v1h-2zM69 63h1v1h-1zM59 64h3v1h-3zM62 66h1v1h-1zM62 68h1v1h-1zM52 80h1v1h-1z"/><path fill="#fdae35" d="M49 1h2v1h-2zM50 2h1v1h-1zM44 4h1v1h-1zM46 4h1v1h-1zM44 5h2v1h-2zM47 5h1v1h-1zM44 6h2v1h-2zM43 7h2v1h-2zM47 7h1v1h-1zM42 8h1v1h-1zM44 8h1v1h-1zM25 9h1v1h-1zM41 9h1v1h-1zM45 10h1v1h-1zM27 11h1v1h-1zM26 13h2v1h-2zM26 14h3v1h-3zM26 15h1v1h-1zM29 15h1v1h-1zM26 18h2v1h-2zM38 18h1v1h-1zM38 21h2v1h-2zM56 43h3v1h-3zM55 44h4v1h-4zM54 45h3v1h-3zM58 45h2v1h-2zM61 45h1v1h-1zM55 46h1v1h-1zM58 46h4v1h-4zM63 46h1v1h-1zM55 47h2v1h-2zM63 47h2v1h-2zM55 48h4v1h-4zM63 48h2v1h-2zM50 49h2v1h-2zM57 49h1v1h-1zM64 49h2v1h-2zM49 50h2v1h-2zM65 50h1v1h-1zM69 50h3v1h-3zM49 51h1v1h-1zM52 51h1v1h-1zM64 51h1v1h-1zM66 51h1v1h-1zM72 51h1v1h-1zM49 52h1v1h-1zM51 52h1v1h-1zM61 52h2v1h-2zM57 53h1v1h-1zM60 53h3v1h-3zM73 53h2v1h-2zM23 54h1v1h-1zM57 54h3v1h-3zM72 54h2v1h-2zM75 54h1v1h-1zM50 55h1v1h-1zM59 55h1v1h-1zM73 55h5v1h-5zM59 56h1v1h-1zM74 56h2v1h-2zM82 56h1v1h-1zM58 57h1v1h-1zM75 57h1v1h-1zM48 58h1v1h-1zM57 58h2v1h-2zM81 58h1v1h-1zM43 59h5v1h-5zM49 59h1v1h-1zM56 59h2v1h-2zM75 59h1v1h-1zM82 59h2v1h-2zM42 60h1v1h-1zM50 60h1v1h-1zM55 60h1v1h-1zM74 60h2v1h-2zM42 61h2v1h-2zM50 61h2v1h-2zM53 61h2v1h-2zM83 61h1v1h-1zM42 62h3v1h-3zM50 62h1v1h-1zM72 62h1v1h-1zM74 62h3v1h-3zM44 63h1v1h-1zM48 63h1v1h-1zM50 63h4v1h-4zM73 63h1v1h-1zM75 63h1v1h-1zM45 64h1v1h-1zM47 64h1v1h-1zM51 64h3v1h-3zM55 64h2v1h-2zM65 64h1v1h-1zM74 64h2v1h-2zM77 64h1v1h-1zM50 65h1v1h-1zM54 65h3v1h-3zM64 65h1v1h-1zM74 65h1v1h-1zM50 66h1v1h-1zM56 66h1v1h-1zM64 66h2v1h-2zM76 66h1v1h-1zM53 67h1v1h-1zM64 67h1v1h-1zM76 67h1v1h-1zM51 68h1v1h-1zM57 68h3v1h-3zM64 68h1v1h-1zM52 69h1v1h-1zM54 69h1v1h-1zM53 70h1v1h-1zM61 70h1v1h-1zM55 72h2v1h-2zM60 72h2v1h-2zM55 73h1v1h-1zM59 73h1v1h-1zM55 74h2v1h-2zM59 74h1v1h-1zM55 75h1v1h-1zM52 76h4v1h-4zM51 77h1v1h-1zM53 77h1v1h-1zM50 78h1v1h-1zM55 78h1v1h-1zM55 79h1v1h-1zM50 80h1v1h-1zM54 80h2v1h-2zM52 82h2v1h-2zM56 84h1v1h-1zM58 84h1v1h-1zM56 85h1v1h-1zM51 90h1v1h-1zM55 90h1v1h-1zM57 90h1v1h-1zM58 91h1v1h-1zM50 92h1v1h-1zM59 93h1v1h-1zM58 96h2v1h-2zM57 97h1v1h-1zM48 98h1v1h-1zM58 98h2v1h-2zM46 99h1v1h-1zM48 99h1v1h-1zM58 99h1v1h-1z"/><path fill="#35f394" d="M73 1h1v1h-1zM73 2h1v1h-1zM92 3h1v1h-1zM71 4h1v1h-1zM71 5h1v1h-1zM71 6h1v1h-1zM70 7h1v1h-1zM71 8h1v1h-1zM72 10h1v1h-1zM71 13h1v1h-1zM97 15h1v1h-1zM99 15h1v1h-1zM71 17h1v1h-1zM98 17h1v1h-1zM98 18h1v1h-1zM70 20h3v1h-3zM94 21h1v1h-1zM99 21h1v1h-1zM70 22h2v1h-2zM6 23h2v1h-2zM71 23h1v1h-1zM12 24h1v1h-1zM71 24h1v1h-1zM13 25h1v1h-1zM72 25h1v1h-1zM14 26h1v1h-1zM14 27h1v1h-1zM14 28h1v1h-1zM73 28h1v1h-1zM86 28h2v1h-2zM14 29h1v1h-1zM73 29h1v1h-1zM73 30h1v1h-1zM86 30h1v1h-1zM88 30h1v1h-1zM1 31h2v1h-2zM87 31h2v1h-2zM0 32h1v1h-1zM9 32h1v1h-1zM13 32h1v1h-1zM13 33h1v1h-1zM73 33h1v1h-1zM93 36h1v1h-1zM75 39h1v1h-1zM90 39h1v1h-1zM75 40h1v1h-1zM90 40h1v1h-1zM76 41h1v1h-1zM90 41h1v1h-1zM78 42h1v1h-1zM90 42h1v1h-1zM78 43h1v1h-1zM79 44h1v1h-1zM83 44h2v1h-2zM87 44h1v1h-1zM89 44h1v1h-1zM81 45h2v1h-2zM97 62h1v1h-1zM99 62h1v1h-1zM95 63h1v1h-1zM94 64h1v1h-1zM93 65h1v1h-1zM91 66h1v1h-1zM90 67h1v1h-1zM88 72h1v1h-1zM87 74h1v1h-1zM86 75h1v1h-1zM85 77h1v1h-1zM84 79h1v1h-1zM84 80h1v1h-1zM82 82h1v1h-1zM82 84h1v1h-1zM81 85h2v1h-2zM81 86h2v1h-2zM81 87h1v1h-1zM81 88h2v1h-2zM82 89h1v1h-1zM82 90h1v1h-1zM82 91h1v1h-1zM81 92h1v1h-1zM80 93h1v1h-1zM77 95h1v1h-1zM77 96h2v1h-2zM76 98h1v1h-1z"/><path fill="#e7d739" d="M28 2h1v1h-1zM55 2h1v1h-1zM28 3h2v1h-2zM53 3h1v1h-1zM55 3h2v1h-2zM34 4h1v1h-1zM52 4h1v1h-1zM54 4h1v1h-1zM56 4h1v1h-1zM58 4h1v1h-1zM26 5h3v1h-3zM34 5h1v1h-1zM54 5h1v1h-1zM56 5h3v1h-3zM34 6h1v1h-1zM54 6h4v1h-4zM35 7h2v1h-2zM49 7h2v1h-2zM27 8h1v1h-1zM34 8h1v1h-1zM36 8h2v1h-2zM34 9h2v1h-2zM50 9h2v1h-2zM28 10h1v1h-1zM36 10h1v1h-1zM48 10h1v1h-1zM51 10h1v1h-1zM22 11h1v1h-1zM29 11h1v1h-1zM35 11h2v1h-2zM48 11h5v1h-5zM21 12h1v1h-1zM35 12h2v1h-2zM39 12h1v1h-1zM50 12h1v1h-1zM17 13h1v1h-1zM20 13h1v1h-1zM22 13h1v1h-1zM31 13h1v1h-1zM35 13h6v1h-6zM42 13h2v1h-2zM17 14h3v1h-3zM21 14h1v1h-1zM31 14h2v1h-2zM41 14h1v1h-1zM43 14h1v1h-1zM45 14h1v1h-1zM18 15h1v1h-1zM20 15h2v1h-2zM45 15h1v1h-1zM49 15h1v1h-1zM52 15h2v1h-2zM18 16h2v1h-2zM21 16h1v1h-1zM41 16h1v1h-1zM46 16h1v1h-1zM51 16h1v1h-1zM18 17h3v1h-3zM34 17h1v1h-1zM43 17h1v1h-1zM46 17h1v1h-1zM20 18h2v1h-2zM23 18h1v1h-1zM31 18h5v1h-5zM45 18h1v1h-1zM50 18h1v1h-1zM36 19h1v1h-1zM46 19h1v1h-1zM50 19h1v1h-1zM25 20h1v1h-1zM35 20h1v1h-1zM46 20h2v1h-2zM49 20h1v1h-1zM36 21h1v1h-1zM48 22h2v1h-2zM37 23h1v1h-1zM43 23h4v1h-4zM38 24h1v1h-1zM42 24h2v1h-2zM47 24h1v1h-1zM49 24h1v1h-1zM32 25h3v1h-3zM37 25h6v1h-6zM44 25h1v1h-1zM46 25h2v1h-2zM31 26h1v1h-1zM37 26h2v1h-2zM44 26h3v1h-3zM51 26h1v1h-1zM57 26h2v1h-2zM30 27h1v1h-1zM36 27h1v1h-1zM44 27h3v1h-3zM50 27h1v1h-1zM57 27h1v1h-1zM59 27h1v1h-1zM31 28h2v1h-2zM37 28h1v1h-1zM49 28h2v1h-2zM57 28h1v1h-1zM61 28h1v1h-1zM33 29h6v1h-6zM44 29h1v1h-1zM48 29h2v1h-2zM58 29h3v1h-3zM33 30h4v1h-4zM38 30h1v1h-1zM48 30h2v1h-2zM51 30h1v1h-1zM60 30h1v1h-1zM33 31h1v1h-1zM37 31h1v1h-1zM44 31h1v1h-1zM46 31h1v1h-1zM48 31h2v1h-2zM51 31h1v1h-1zM35 32h1v1h-1zM40 32h1v1h-1zM43 32h1v1h-1zM45 32h1v1h-1zM47 32h1v1h-1zM49 32h1v1h-1zM53 32h3v1h-3zM61 32h1v1h-1zM40 33h1v1h-1zM46 33h5v1h-5zM52 33h3v1h-3zM61 33h2v1h-2zM39 34h1v1h-1zM41 34h1v1h-1zM43 34h1v1h-1zM46 34h5v1h-5zM53 34h5v1h-5zM33 35h1v1h-1zM44 35h1v1h-1zM46 35h4v1h-4zM51 35h1v1h-1zM57 35h2v1h-2zM61 35h1v1h-1zM63 35h1v1h-1zM32 36h3v1h-3zM42 36h1v1h-1zM45 36h2v1h-2zM48 36h4v1h-4zM53 36h1v1h-1zM55 36h1v1h-1zM57 36h1v1h-1zM59 36h1v1h-1zM61 36h1v1h-1zM32 37h1v1h-1zM39 37h1v1h-1zM43 37h2v1h-2zM47 37h3v1h-3zM51 37h3v1h-3zM57 37h1v1h-1zM60 37h2v1h-2zM63 37h1v1h-1zM31 38h2v1h-2zM38 38h2v1h-2zM41 38h1v1h-1zM44 38h5v1h-5zM54 38h4v1h-4zM60 38h1v1h-1zM65 38h1v1h-1zM23 39h1v1h-1zM28 39h1v1h-1zM30 39h1v1h-1zM33 39h1v1h-1zM37 39h3v1h-3zM45 39h1v1h-1zM47 39h2v1h-2zM53 39h1v1h-1zM57 39h2v1h-2zM66 39h1v1h-1zM19 40h1v1h-1zM21 40h1v1h-1zM28 40h1v1h-1zM31 40h1v1h-1zM35 40h5v1h-5zM41 40h1v1h-1zM48 40h1v1h-1zM57 40h2v1h-2zM65 40h1v1h-1zM19 41h2v1h-2zM27 41h2v1h-2zM31 41h3v1h-3zM38 41h4v1h-4zM45 41h3v1h-3zM49 41h1v1h-1zM51 41h1v1h-1zM64 41h2v1h-2zM19 42h1v1h-1zM28 42h1v1h-1zM30 42h1v1h-1zM35 42h4v1h-4zM41 42h2v1h-2zM45 42h2v1h-2zM48 42h2v1h-2zM51 42h2v1h-2zM63 42h3v1h-3zM26 43h2v1h-2zM29 43h1v1h-1zM31 43h1v1h-1zM36 43h1v1h-1zM38 43h3v1h-3zM42 43h1v1h-1zM46 43h2v1h-2zM50 43h2v1h-2zM53 43h1v1h-1zM63 43h1v1h-1zM67 43h3v1h-3zM17 44h3v1h-3zM26 44h3v1h-3zM36 44h1v1h-1zM39 44h1v1h-1zM41 44h1v1h-1zM47 44h1v1h-1zM49 44h1v1h-1zM51 44h2v1h-2zM67 44h1v1h-1zM69 44h1v1h-1zM16 45h4v1h-4zM31 45h1v1h-1zM41 45h1v1h-1zM48 45h2v1h-2zM52 45h1v1h-1zM68 45h1v1h-1zM71 45h1v1h-1zM17 46h2v1h-2zM32 46h1v1h-1zM36 46h2v1h-2zM41 46h1v1h-1zM43 46h4v1h-4zM70 46h3v1h-3zM15 47h1v1h-1zM17 47h2v1h-2zM31 47h1v1h-1zM35 47h1v1h-1zM38 47h1v1h-1zM41 47h2v1h-2zM46 47h1v1h-1zM48 47h1v1h-1zM67 47h2v1h-2zM71 47h4v1h-4zM14 48h4v1h-4zM25 48h1v1h-1zM27 48h1v1h-1zM30 48h1v1h-1zM41 48h1v1h-1zM74 48h1v1h-1zM14 49h1v1h-1zM17 49h3v1h-3zM22 49h1v1h-1zM24 49h1v1h-1zM27 49h1v1h-1zM29 49h4v1h-4zM34 49h1v1h-1zM39 49h2v1h-2zM43 49h1v1h-1zM76 49h1v1h-1zM18 50h4v1h-4zM25 50h2v1h-2zM33 50h1v1h-1zM38 50h1v1h-1zM40 50h1v1h-1zM42 50h1v1h-1zM46 50h1v1h-1zM77 50h2v1h-2zM13 51h2v1h-2zM19 51h1v1h-1zM21 51h1v1h-1zM31 51h2v1h-2zM76 51h1v1h-1zM80 51h1v1h-1zM82 51h1v1h-1zM84 51h1v1h-1zM11 52h1v1h-1zM31 52h2v1h-2zM38 52h2v1h-2zM11 53h2v1h-2zM27 53h3v1h-3zM32 53h1v1h-1zM38 53h2v1h-2zM53 53h1v1h-1zM90 53h1v1h-1zM95 53h1v1h-1zM10 54h1v1h-1zM15 54h1v1h-1zM27 54h2v1h-2zM30 54h1v1h-1zM32 54h2v1h-2zM38 54h1v1h-1zM45 54h1v1h-1zM88 54h1v1h-1zM95 54h1v1h-1zM11 55h1v1h-1zM15 55h2v1h-2zM27 55h1v1h-1zM29 55h5v1h-5zM38 55h1v1h-1zM84 55h1v1h-1zM89 55h1v1h-1zM11 56h1v1h-1zM13 56h2v1h-2zM26 56h1v1h-1zM29 56h2v1h-2zM33 56h1v1h-1zM37 56h2v1h-2zM89 56h1v1h-1zM12 57h2v1h-2zM25 57h1v1h-1zM28 57h2v1h-2zM31 57h1v1h-1zM38 57h1v1h-1zM41 57h1v1h-1zM89 57h2v1h-2zM18 58h3v1h-3zM24 58h1v1h-1zM29 58h1v1h-1zM37 58h2v1h-2zM19 59h1v1h-1zM21 59h3v1h-3zM29 59h3v1h-3zM37 59h2v1h-2zM90 59h1v1h-1zM30 60h3v1h-3zM34 60h1v1h-1zM36 60h2v1h-2zM86 60h1v1h-1zM19 61h1v1h-1zM31 61h4v1h-4zM29 62h1v1h-1zM34 62h1v1h-1zM28 63h2v1h-2zM33 63h1v1h-1zM36 63h2v1h-2zM85 63h1v1h-1zM27 64h1v1h-1zM31 64h1v1h-1zM33 64h1v1h-1zM36 64h2v1h-2zM84 64h2v1h-2zM28 65h3v1h-3zM33 65h1v1h-1zM37 65h1v1h-1zM40 65h2v1h-2zM48 65h1v1h-1zM80 65h2v1h-2zM84 65h1v1h-1zM30 66h2v1h-2zM33 66h2v1h-2zM36 66h1v1h-1zM39 66h1v1h-1zM45 66h2v1h-2zM79 66h1v1h-1zM82 66h2v1h-2zM30 67h3v1h-3zM45 67h2v1h-2zM71 67h3v1h-3zM30 68h2v1h-2zM34 68h1v1h-1zM36 68h1v1h-1zM40 68h1v1h-1zM46 68h3v1h-3zM69 68h4v1h-4zM30 69h1v1h-1zM39 69h2v1h-2zM46 69h1v1h-1zM48 69h1v1h-1zM68 69h1v1h-1zM70 69h1v1h-1zM73 69h3v1h-3zM35 70h2v1h-2zM39 70h2v1h-2zM48 70h1v1h-1zM64 70h2v1h-2zM71 70h1v1h-1zM74 70h1v1h-1zM80 70h1v1h-1zM40 71h1v1h-1zM48 71h1v1h-1zM76 71h4v1h-4zM41 72h1v1h-1zM77 72h2v1h-2zM48 73h1v1h-1zM64 73h1v1h-1zM48 74h2v1h-2zM64 74h1v1h-1zM45 75h1v1h-1zM47 75h3v1h-3zM45 76h1v1h-1zM64 76h1v1h-1zM45 78h1v1h-1zM62 78h1v1h-1zM44 79h1v1h-1zM47 79h1v1h-1zM46 80h1v1h-1zM61 80h2v1h-2zM46 81h1v1h-1zM61 82h2v1h-2zM46 83h2v1h-2zM61 83h2v1h-2zM47 84h2v1h-2zM63 84h2v1h-2zM46 85h1v1h-1zM48 85h1v1h-1zM62 85h4v1h-4zM42 86h4v1h-4zM47 86h1v1h-1zM59 86h1v1h-1zM62 86h2v1h-2zM60 87h3v1h-3zM46 88h2v1h-2zM60 88h1v1h-1zM43 89h4v1h-4zM61 89h1v1h-1zM41 90h3v1h-3zM62 90h1v1h-1zM42 91h1v1h-1zM45 91h1v1h-1zM61 92h1v1h-1zM63 92h2v1h-2zM45 93h2v1h-2zM61 93h1v1h-1zM45 94h1v1h-1zM63 94h1v1h-1zM45 95h1v1h-1zM45 96h1v1h-1zM60 96h4v1h-4zM44 98h1v1h-1zM61 98h1v1h-1zM62 99h1v1h-1z"/><path fill="#33adf7" d="M79 4h1v1h-1zM79 5h1v1h-1zM77 7h3v1h-3zM96 7h2v1h-2zM76 8h1v1h-1zM79 8h1v1h-1zM76 9h1v1h-1zM80 9h1v1h-1zM76 11h1v1h-1zM76 12h1v1h-1zM74 15h2v1h-2zM74 16h2v1h-2zM76 17h3v1h-3zM76 18h2v1h-2zM18 19h1v1h-1zM76 19h1v1h-1zM78 19h1v1h-1zM77 20h1v1h-1zM10 22h1v1h-1zM77 23h1v1h-1zM99 25h1v1h-1zM81 27h2v1h-2zM78 28h1v1h-1zM2 29h1v1h-1zM77 29h3v1h-3zM2 30h1v1h-1zM4 30h1v1h-1zM79 30h3v1h-3zM83 30h1v1h-1zM79 31h1v1h-1zM82 31h2v1h-2zM82 32h1v1h-1zM99 32h1v1h-1zM78 33h1v1h-1zM79 34h3v1h-3zM80 35h2v1h-2zM78 36h1v1h-1zM97 65h3v1h-3zM96 66h1v1h-1zM96 67h1v1h-1zM95 68h1v1h-1zM95 70h2v1h-2zM94 71h1v1h-1zM96 71h1v1h-1zM93 72h1v1h-1zM99 72h1v1h-1zM97 73h3v1h-3zM94 74h2v1h-2zM97 74h3v1h-3zM96 75h1v1h-1zM98 75h2v1h-2zM94 76h5v1h-5zM94 77h3v1h-3zM98 77h1v1h-1zM95 79h1v1h-1zM95 80h1v1h-1zM94 81h2v1h-2zM93 82h2v1h-2zM92 83h1v1h-1zM94 83h1v1h-1zM92 84h2v1h-2zM95 84h1v1h-1zM92 85h3v1h-3zM96 85h2v1h-2zM92 86h1v1h-1zM91 87h1v1h-1zM99 88h1v1h-1zM93 89h2v1h-2zM97 89h2v1h-2zM96 90h2v1h-2zM96 91h1v1h-1zM95 92h2v1h-2zM98 92h2v1h-2zM97 93h1v1h-1zM99 93h1v1h-1zM98 94h1v1h-1zM96 95h1v1h-1zM98 95h2v1h-2zM92 97h1v1h-1zM89 99h1v1h-1z"/><path fill="#3ba0fd" d="M78 8h1v1h-1zM77 9h2v1h-2zM76 10h2v1h-2zM77 11h1v1h-1zM78 18h1v1h-1zM77 19h1v1h-1zM79 21h1v1h-1zM9 22h1v1h-1zM79 22h1v1h-1zM83 22h1v1h-1zM78 23h1v1h-1zM83 23h1v1h-1zM77 24h1v1h-1zM83 24h1v1h-1zM2 25h1v1h-1zM83 25h1v1h-1zM4 26h1v1h-1zM82 26h1v1h-1zM3 27h2v1h-2zM80 27h1v1h-1zM3 28h2v1h-2zM79 28h2v1h-2zM80 31h2v1h-2zM79 32h1v1h-1zM81 32h1v1h-1zM80 33h2v1h-2zM97 66h1v1h-1zM96 68h1v1h-1zM96 69h1v1h-1zM95 71h1v1h-1zM97 71h1v1h-1zM99 71h1v1h-1zM94 72h5v1h-5zM94 73h3v1h-3zM96 74h1v1h-1zM95 75h1v1h-1zM97 77h1v1h-1zM99 77h1v1h-1zM96 78h2v1h-2zM96 79h2v1h-2zM96 80h1v1h-1zM95 82h2v1h-2zM95 83h2v1h-2zM97 84h1v1h-1zM98 85h1v1h-1zM91 86h1v1h-1zM93 86h6v1h-6zM92 87h2v1h-2zM97 87h3v1h-3zM92 88h3v1h-3zM97 88h2v1h-2zM95 89h2v1h-2zM95 90h1v1h-1zM97 91h1v1h-1zM97 92h1v1h-1zM95 93h1v1h-1zM99 94h1v1h-1zM97 95h1v1h-1zM96 96h4v1h-4zM93 97h2v1h-2zM91 98h1v1h-1zM94 98h1v1h-1zM90 99h1v1h-1z"/><path fill="#f05b12" d="M25 15h1v1h-1zM25 16h1v1h-1z"/><path fill="#4687fb" d="M76 15h1v1h-1zM76 16h1v1h-1zM82 19h1v1h-1zM19 20h1v1h-1zM80 21h3v1h-3zM82 22h1v1h-1zM81 23h1v1h-1zM81 24h2v1h-2zM79 25h4v1h-4zM2 26h1v1h-1zM99 26h1v1h-1zM10 29h2v1h-2zM97 29h2v1h-2zM10 30h1v1h-1zM98 30h1v1h-1zM98 68h1v1h-1zM98 69h2v1h-2zM97 70h1v1h-1zM99 70h1v1h-1zM98 79h1v1h-1zM98 80h2v1h-2zM97 82h1v1h-1zM97 83h1v1h-1zM99 85h1v1h-1zM96 88h1v1h-1zM98 97h1v1h-1zM95 98h2v1h-2zM92 99h2v1h-2z"/><path fill="#4294ff" d="M77 15h1v1h-1zM77 16h1v1h-1zM78 20h1v1h-1zM83 21h1v1h-1zM80 22h2v1h-2zM5 23h1v1h-1zM80 23h1v1h-1zM82 23h1v1h-1zM78 24h1v1h-1zM80 24h1v1h-1zM3 25h2v1h-2zM3 26h1v1h-1zM79 26h3v1h-3zM96 26h1v1h-1zM78 27h2v1h-2zM99 29h1v1h-1zM97 30h1v1h-1zM99 30h1v1h-1zM99 31h1v1h-1zM80 32h1v1h-1zM98 66h2v1h-2zM97 67h2v1h-2zM97 68h1v1h-1zM97 69h1v1h-1zM98 71h1v1h-1zM98 78h1v1h-1zM99 79h1v1h-1zM97 80h1v1h-1zM96 81h2v1h-2zM99 86h1v1h-1zM94 87h3v1h-3zM95 88h1v1h-1zM96 93h1v1h-1zM95 97h2v1h-2zM92 98h2v1h-2zM91 99h1v1h-1zM94 99h3v1h-3z"/><path fill="#4771e9" d="M19 19h1v1h-1zM81 19h1v1h-1zM81 20h1v1h-1zM9 24h1v1h-1zM97 27h3v1h-3zM98 28h1v1h-1zM98 82h1v1h-1zM99 84h1v1h-1zM98 98h1v1h-1zM98 99h1v1h-1z"/><path fill="#467df4" d="M20 19h1v1h-1zM82 20h1v1h-1zM97 28h1v1h-1zM99 28h1v1h-1zM11 30h1v1h-1zM99 67h1v1h-1zM99 68h1v1h-1zM98 70h1v1h-1zM98 81h1v1h-1zM98 83h1v1h-1zM98 84h1v1h-1zM97 97h1v1h-1zM99 97h1v1h-1zM97 98h1v1h-1zM99 98h1v1h-1zM97 99h1v1h-1zM99 99h1v1h-1z"/><path fill="#30123b" d="M80 19h1v1h-1zM80 20h1v1h-1zM3 24h1v1h-1zM98 25h1v1h-1zM97 26h2v1h-2zM94 34h1v1h-1zM99 82h1v1h-1z"/><path fill="#4664da" d="M3 23h1v1h-1zM4 24h1v1h-1zM99 83h1v1h-1z"/><path fill="#351e58" d="M4 23h1v1h-1zM99 81h1v1h-1z"/><path fill="#4249b1" d="M5 25h1v1h-1zM12 28h1v1h-1zM94 35h1v1h-1z"/><path fill="#3a2d79" d="M97 25h1v1h-1zM96 27h1v1h-1zM96 28h1v1h-1zM98 31h1v1h-1z"/><path fill="#4456c7" d="M12 27h1v1h-1zM92 32h1v1h-1z"/><path fill="#f9751d" d="M67 57h1v1h-1zM70 57h2v1h-2zM68 58h1v1h-1zM70 58h2v1h-2zM67 59h1v1h-1zM61 61h1v1h-1zM63 61h2v1h-2zM60 62h1v1h-1zM62 62h2v1h-2zM60 63h2v1h-2z"/><path fill="#f56918" d="M62 61h1v1h-1zM61 62h1v1h-1z"/></g>
<rect x="216.9" y="2609.8" width="744.8" height="744.9" fill="none" stroke="#000" stroke-width="2.9"/>
<rect x="974.2" y="2609.8" width="73.3" height="744.9" fill="url(#tg)"/>
<rect x="974.2" y="2609.8" width="73.3" height="744.9" fill="none" stroke="#000" stroke-width="2.9"/>
<path d="M203.6 2614.8h13.3M203.6 3354.7h13.3M221.5 3354.7v13.3M961.7 3354.7v13.3M1047.5 3227h13.3M1047.5 3014.17h13.3M1047.5 2801.35h13.3" stroke="#000" stroke-width="2.9" fill="none"/>
<g font-size="45.83" letter-spacing="1"><text x="193.2" y="2630.8" text-anchor="end">-2.4°N</text><text x="193.2" y="3370.7" text-anchor="end">-4.9°N</text><text x="221.5" y="3411.7" text-anchor="middle">32.0°E</text><text x="958.7" y="3411.7" text-anchor="middle">35.4°E</text><text x="1069.4" y="3244.7">15</text><text x="1069.4" y="3031.87">20</text><text x="1069.4" y="2819.05">25</text></g>
<g font-size="55"><text x="589.3" y="2587.6" text-anchor="middle"><tspan font-style="italic">T</tspan><tspan font-style="italic" font-size="37.6" dy="9.5">SEVIRI</tspan><tspan dy="-9.5"> (21.0±2.5°C)</tspan></text><text x="1008.4" y="2587.6" text-anchor="middle">°C</text></g>
<text x="135.8" y="2527.2" font-size="66.7" font-weight="bold">E</text>
<g transform="translate(1412.6 2609.8) scale(7.39)" shape-rendering="crispEdges"><path fill="#b9f635" d="M0 0h1v1h-1zM0 1h1v1h-1zM4 2h1v1h-1zM10 3h1v1h-1zM5 4h1v1h-1zM10 4h1v1h-1zM12 4h1v1h-1zM1 5h1v1h-1zM5 5h2v1h-2zM9 5h1v1h-1zM13 5h1v1h-1zM0 6h2v1h-2zM5 6h6v1h-6zM12 6h1v1h-1zM1 7h2v1h-2zM7 7h2v1h-2zM10 7h3v1h-3zM1 8h1v1h-1zM3 8h2v1h-2zM8 8h1v1h-1zM10 8h1v1h-1zM12 8h1v1h-1zM17 8h1v1h-1zM3 9h1v1h-1zM7 9h2v1h-2zM10 9h1v1h-1zM0 10h2v1h-2zM7 10h2v1h-2zM14 10h3v1h-3zM1 11h1v1h-1zM6 11h1v1h-1zM12 11h2v1h-2zM64 11h1v1h-1zM5 12h2v1h-2zM11 12h1v1h-1zM1 13h2v1h-2zM4 13h1v1h-1zM11 13h1v1h-1zM14 13h1v1h-1zM71 13h1v1h-1zM0 14h4v1h-4zM12 14h1v1h-1zM14 14h1v1h-1zM1 15h3v1h-3zM11 15h4v1h-4zM16 15h2v1h-2zM19 15h1v1h-1zM21 15h1v1h-1zM37 15h2v1h-2zM4 16h1v1h-1zM7 16h1v1h-1zM9 16h1v1h-1zM11 16h2v1h-2zM16 16h2v1h-2zM20 16h1v1h-1zM23 16h1v1h-1zM39 16h1v1h-1zM6 17h2v1h-2zM11 17h1v1h-1zM18 17h1v1h-1zM24 17h1v1h-1zM5 18h1v1h-1zM10 18h1v1h-1zM0 19h1v1h-1zM4 19h1v1h-1zM16 19h1v1h-1zM30 19h1v1h-1zM0 20h2v1h-2zM3 20h2v1h-2zM10 20h3v1h-3zM70 20h1v1h-1zM0 21h4v1h-4zM13 21h1v1h-1zM15 21h1v1h-1zM17 21h1v1h-1zM54 21h1v1h-1zM68 21h1v1h-1zM0 22h1v1h-1zM2 22h1v1h-1zM18 22h1v1h-1zM44 22h1v1h-1zM0 23h1v1h-1zM12 23h1v1h-1zM14 23h1v1h-1zM18 23h2v1h-2zM44 23h1v1h-1zM68 23h1v1h-1zM14 24h1v1h-1zM20 24h1v1h-1zM58 24h1v1h-1zM42 25h1v1h-1zM69 25h1v1h-1zM1 26h1v1h-1zM14 26h1v1h-1zM69 26h1v1h-1zM14 27h1v1h-1zM70 28h1v1h-1zM15 29h2v1h-2zM24 29h1v1h-1zM14 30h1v1h-1zM16 30h3v1h-3zM16 31h1v1h-1zM18 31h2v1h-2zM23 31h2v1h-2zM35 31h1v1h-1zM64 31h1v1h-1zM22 32h1v1h-1zM35 32h1v1h-1zM34 33h2v1h-2zM26 37h1v1h-1zM67 37h1v1h-1zM8 38h1v1h-1zM26 38h1v1h-1zM1 39h1v1h-1zM6 39h2v1h-2zM9 39h1v1h-1zM23 39h1v1h-1zM25 39h2v1h-2zM1 40h1v1h-1zM6 40h2v1h-2zM11 40h2v1h-2zM25 40h2v1h-2zM1 41h3v1h-3zM5 41h1v1h-1zM7 41h5v1h-5zM16 41h1v1h-1zM24 41h1v1h-1zM2 42h1v1h-1zM4 42h1v1h-1zM6 42h3v1h-3zM10 42h1v1h-1zM12 42h1v1h-1zM14 42h2v1h-2zM26 42h1v1h-1zM0 43h3v1h-3zM13 43h1v1h-1zM15 43h1v1h-1zM24 43h2v1h-2zM3 44h1v1h-1zM20 44h3v1h-3zM25 44h1v1h-1zM98 45h2v1h-2zM97 46h3v1h-3zM96 47h4v1h-4zM99 48h1v1h-1zM1 53h1v1h-1zM0 55h2v1h-2zM4 55h1v1h-1zM0 56h1v1h-1zM2 56h1v1h-1zM93 56h1v1h-1zM97 56h1v1h-1zM5 57h1v1h-1zM10 57h1v1h-1zM94 57h2v1h-2zM98 57h1v1h-1zM4 58h2v1h-2zM11 58h1v1h-1zM94 58h1v1h-1zM1 59h1v1h-1zM95 59h1v1h-1zM0 60h1v1h-1zM2 60h1v1h-1zM4 60h2v1h-2zM8 60h1v1h-1zM10 60h1v1h-1zM12 60h1v1h-1zM95 60h1v1h-1zM3 61h3v1h-3zM11 61h2v1h-2zM14 61h1v1h-1zM92 61h1v1h-1zM2 62h2v1h-2zM6 62h1v1h-1zM8 62h1v1h-1zM14 62h1v1h-1zM17 62h1v1h-1zM28 62h1v1h-1zM30 62h3v1h-3zM0 63h3v1h-3zM11 63h1v1h-1zM15 63h1v1h-1zM17 63h2v1h-2zM27 63h2v1h-2zM33 63h1v1h-1zM91 63h1v1h-1zM0 64h2v1h-2zM8 64h1v1h-1zM10 64h4v1h-4zM16 64h2v1h-2zM89 64h1v1h-1zM9 65h2v1h-2zM13 65h3v1h-3zM17 65h1v1h-1zM88 65h1v1h-1zM6 66h1v1h-1zM8 66h1v1h-1zM10 66h2v1h-2zM13 66h1v1h-1zM19 66h1v1h-1zM33 66h1v1h-1zM6 67h1v1h-1zM12 67h1v1h-1zM20 67h1v1h-1zM87 67h1v1h-1zM7 68h2v1h-2zM13 68h1v1h-1zM34 68h1v1h-1zM7 69h2v1h-2zM12 69h3v1h-3zM86 69h1v1h-1zM5 70h2v1h-2zM8 70h1v1h-1zM34 70h1v1h-1zM84 70h1v1h-1zM6 71h2v1h-2zM9 71h1v1h-1zM15 71h1v1h-1zM8 72h1v1h-1zM81 72h2v1h-2zM8 73h1v1h-1zM16 73h1v1h-1zM19 73h1v1h-1zM34 73h1v1h-1zM82 73h1v1h-1zM16 74h1v1h-1zM34 74h1v1h-1zM67 74h1v1h-1zM15 75h1v1h-1zM24 75h1v1h-1zM34 75h1v1h-1zM79 75h2v1h-2zM20 76h1v1h-1zM23 76h1v1h-1zM34 76h1v1h-1zM68 76h1v1h-1zM79 76h1v1h-1zM3 77h1v1h-1zM15 77h1v1h-1zM69 77h1v1h-1zM71 77h1v1h-1zM74 77h2v1h-2zM78 77h1v1h-1zM2 78h1v1h-1zM6 78h3v1h-3zM10 78h1v1h-1zM15 78h2v1h-2zM26 78h1v1h-1zM30 78h2v1h-2zM34 78h1v1h-1zM69 78h1v1h-1zM72 78h2v1h-2zM79 78h1v1h-1zM1 79h1v1h-1zM5 79h1v1h-1zM16 79h2v1h-2zM19 79h1v1h-1zM31 79h1v1h-1zM34 79h1v1h-1zM69 79h4v1h-4zM0 80h1v1h-1zM16 80h1v1h-1zM19 80h2v1h-2zM23 80h1v1h-1zM28 80h2v1h-2zM31 80h3v1h-3zM70 80h3v1h-3zM1 81h1v1h-1zM3 81h2v1h-2zM9 81h2v1h-2zM22 81h1v1h-1zM29 81h4v1h-4zM74 81h1v1h-1zM78 81h1v1h-1zM1 82h1v1h-1zM5 82h1v1h-1zM9 82h1v1h-1zM31 82h3v1h-3zM71 82h1v1h-1zM73 82h2v1h-2zM77 82h1v1h-1zM2 83h3v1h-3zM10 83h1v1h-1zM15 83h1v1h-1zM22 83h1v1h-1zM32 83h1v1h-1zM71 83h1v1h-1zM7 84h1v1h-1zM9 84h1v1h-1zM69 84h1v1h-1zM72 84h1v1h-1zM74 84h4v1h-4zM0 85h1v1h-1zM6 85h3v1h-3zM22 85h2v1h-2zM70 85h1v1h-1zM72 85h2v1h-2zM76 85h1v1h-1zM0 86h1v1h-1zM6 86h2v1h-2zM22 86h1v1h-1zM69 86h5v1h-5zM75 86h1v1h-1zM1 87h1v1h-1zM67 87h1v1h-1zM1 88h2v1h-2zM12 88h1v1h-1zM23 88h2v1h-2zM68 88h1v1h-1zM2 89h1v1h-1zM11 89h1v1h-1zM22 89h2v1h-2zM35 89h2v1h-2zM67 89h2v1h-2zM1 90h3v1h-3zM21 90h1v1h-1zM68 90h1v1h-1zM77 90h2v1h-2zM0 91h1v1h-1zM4 91h1v1h-1zM22 91h2v1h-2zM69 91h1v1h-1zM1 92h6v1h-6zM22 92h2v1h-2zM33 92h1v1h-1zM67 92h4v1h-4zM5 93h3v1h-3zM25 93h1v1h-1zM33 93h1v1h-1zM66 93h3v1h-3zM73 93h2v1h-2zM4 94h2v1h-2zM24 94h3v1h-3zM28 94h2v1h-2zM32 94h1v1h-1zM70 94h3v1h-3zM74 94h1v1h-1zM2 95h2v1h-2zM5 95h2v1h-2zM21 95h2v1h-2zM25 95h1v1h-1zM29 95h1v1h-1zM65 95h2v1h-2zM69 95h2v1h-2zM3 96h4v1h-4zM30 96h1v1h-1zM40 96h1v1h-1zM65 96h1v1h-1zM67 96h1v1h-1zM69 96h2v1h-2zM0 97h1v1h-1zM2 97h6v1h-6zM27 97h3v1h-3zM65 97h4v1h-4zM3 98h1v1h-1zM5 98h3v1h-3zM14 98h1v1h-1zM26 98h1v1h-1zM29 98h1v1h-1zM66 98h1v1h-1zM68 98h1v1h-1zM2 99h2v1h-2zM6 99h1v1h-1zM8 99h1v1h-1zM15 99h1v1h-1zM26 99h2v1h-2zM33 99h1v1h-1zM64 99h2v1h-2zM70 99h1v1h-1z"/><path fill="#c6f034" d="M2 0h1v1h-1zM64 0h1v1h-1zM1 1h1v1h-1zM1 2h2v1h-2zM11 2h1v1h-1zM4 3h1v1h-1zM11 3h1v1h-1zM4 4h1v1h-1zM11 4h1v1h-1zM10 5h3v1h-3zM14 5h1v1h-1zM4 6h1v1h-1zM11 6h1v1h-1zM13 6h2v1h-2zM0 7h1v1h-1zM3 7h3v1h-3zM9 7h1v1h-1zM13 7h2v1h-2zM16 7h1v1h-1zM0 8h1v1h-1zM2 8h1v1h-1zM9 8h1v1h-1zM11 8h1v1h-1zM18 8h1v1h-1zM0 9h2v1h-2zM6 9h1v1h-1zM9 9h1v1h-1zM15 9h3v1h-3zM9 10h1v1h-1zM11 10h1v1h-1zM13 10h1v1h-1zM7 11h3v1h-3zM11 11h1v1h-1zM15 11h1v1h-1zM7 12h2v1h-2zM15 12h2v1h-2zM6 13h2v1h-2zM9 13h1v1h-1zM16 13h1v1h-1zM21 13h2v1h-2zM4 14h4v1h-4zM10 14h1v1h-1zM15 14h3v1h-3zM19 14h3v1h-3zM0 15h1v1h-1zM4 15h2v1h-2zM9 15h2v1h-2zM15 15h1v1h-1zM18 15h1v1h-1zM20 15h1v1h-1zM22 15h1v1h-1zM39 15h1v1h-1zM2 16h2v1h-2zM5 16h2v1h-2zM10 16h1v1h-1zM13 16h3v1h-3zM18 16h2v1h-2zM2 17h1v1h-1zM5 17h1v1h-1zM12 17h2v1h-2zM15 17h2v1h-2zM34 17h1v1h-1zM0 18h1v1h-1zM3 18h1v1h-1zM11 18h2v1h-2zM16 18h1v1h-1zM1 19h1v1h-1zM3 19h1v1h-1zM14 19h2v1h-2zM28 19h1v1h-1zM2 20h1v1h-1zM15 20h1v1h-1zM71 20h1v1h-1zM12 21h1v1h-1zM16 21h1v1h-1zM45 21h1v1h-1zM52 21h2v1h-2zM69 21h2v1h-2zM12 22h1v1h-1zM15 22h3v1h-3zM52 22h5v1h-5zM15 23h1v1h-1zM55 23h1v1h-1zM69 23h1v1h-1zM15 24h1v1h-1zM19 24h1v1h-1zM21 24h1v1h-1zM44 24h1v1h-1zM57 24h1v1h-1zM69 24h1v1h-1zM15 25h2v1h-2zM23 25h1v1h-1zM40 25h2v1h-2zM43 25h1v1h-1zM16 26h1v1h-1zM58 27h1v1h-1zM70 27h1v1h-1zM15 28h2v1h-2zM24 28h1v1h-1zM18 29h3v1h-3zM61 29h1v1h-1zM19 30h5v1h-5zM35 30h1v1h-1zM62 30h2v1h-2zM20 31h1v1h-1zM22 31h1v1h-1zM66 37h1v1h-1zM2 40h1v1h-1zM99 40h1v1h-1zM6 41h1v1h-1zM12 41h1v1h-1zM3 42h1v1h-1zM5 42h1v1h-1zM9 42h1v1h-1zM11 42h1v1h-1zM16 42h1v1h-1zM27 42h1v1h-1zM3 43h2v1h-2zM8 43h2v1h-2zM14 43h1v1h-1zM16 43h3v1h-3zM27 43h1v1h-1zM0 44h3v1h-3zM8 44h1v1h-1zM14 44h1v1h-1zM18 44h2v1h-2zM99 44h1v1h-1zM0 45h1v1h-1zM3 45h1v1h-1zM20 45h3v1h-3zM4 46h1v1h-1zM0 47h2v1h-2zM1 49h2v1h-2zM1 50h1v1h-1zM3 51h1v1h-1zM0 52h1v1h-1zM2 52h1v1h-1zM9 52h1v1h-1zM0 53h1v1h-1zM2 53h2v1h-2zM8 53h1v1h-1zM0 54h1v1h-1zM4 54h1v1h-1zM98 56h1v1h-1zM11 57h1v1h-1zM93 57h1v1h-1zM6 58h1v1h-1zM8 58h1v1h-1zM93 58h1v1h-1zM6 59h6v1h-6zM93 59h2v1h-2zM1 60h1v1h-1zM3 60h1v1h-1zM6 60h2v1h-2zM9 60h1v1h-1zM11 60h1v1h-1zM13 60h2v1h-2zM16 60h1v1h-1zM93 60h2v1h-2zM0 61h3v1h-3zM6 61h5v1h-5zM15 61h1v1h-1zM18 61h1v1h-1zM33 61h1v1h-1zM93 61h2v1h-2zM0 62h2v1h-2zM7 62h1v1h-1zM9 62h2v1h-2zM15 62h2v1h-2zM18 62h1v1h-1zM29 62h1v1h-1zM33 62h1v1h-1zM92 62h1v1h-1zM8 63h3v1h-3zM16 63h1v1h-1zM25 63h1v1h-1zM90 63h1v1h-1zM9 64h1v1h-1zM15 64h1v1h-1zM18 64h1v1h-1zM88 64h1v1h-1zM11 65h1v1h-1zM16 65h1v1h-1zM18 65h2v1h-2zM33 65h1v1h-1zM12 66h1v1h-1zM14 66h2v1h-2zM18 66h1v1h-1zM34 66h1v1h-1zM7 67h1v1h-1zM13 67h1v1h-1zM18 67h2v1h-2zM34 67h1v1h-1zM85 68h3v1h-3zM6 69h1v1h-1zM15 69h1v1h-1zM19 69h1v1h-1zM22 69h1v1h-1zM34 69h1v1h-1zM85 69h1v1h-1zM7 70h1v1h-1zM15 70h1v1h-1zM20 70h1v1h-1zM83 70h1v1h-1zM8 71h1v1h-1zM26 71h1v1h-1zM79 71h1v1h-1zM82 71h2v1h-2zM16 72h1v1h-1zM21 72h1v1h-1zM35 72h1v1h-1zM78 72h2v1h-2zM17 73h2v1h-2zM79 73h3v1h-3zM17 74h2v1h-2zM20 74h3v1h-3zM68 74h1v1h-1zM16 75h1v1h-1zM20 75h2v1h-2zM23 75h1v1h-1zM67 75h1v1h-1zM69 75h1v1h-1zM21 76h2v1h-2zM67 76h1v1h-1zM69 76h3v1h-3zM74 76h1v1h-1zM78 76h1v1h-1zM22 77h3v1h-3zM34 77h1v1h-1zM67 77h2v1h-2zM72 77h1v1h-1zM17 78h3v1h-3zM21 78h2v1h-2zM24 78h2v1h-2zM35 78h1v1h-1zM71 78h1v1h-1zM74 78h1v1h-1zM78 78h1v1h-1zM6 79h4v1h-4zM18 79h1v1h-1zM21 79h5v1h-5zM35 79h1v1h-1zM68 79h1v1h-1zM73 79h1v1h-1zM78 79h1v1h-1zM5 80h1v1h-1zM9 80h1v1h-1zM18 80h1v1h-1zM21 80h2v1h-2zM24 80h1v1h-1zM26 80h1v1h-1zM34 80h1v1h-1zM69 80h1v1h-1zM73 80h2v1h-2zM78 80h1v1h-1zM5 81h1v1h-1zM8 81h1v1h-1zM23 81h1v1h-1zM33 81h1v1h-1zM70 81h1v1h-1zM73 81h1v1h-1zM75 81h2v1h-2zM4 82h1v1h-1zM6 82h3v1h-3zM23 82h1v1h-1zM30 82h1v1h-1zM69 82h2v1h-2zM75 82h1v1h-1zM5 83h5v1h-5zM23 83h1v1h-1zM31 83h1v1h-1zM33 83h1v1h-1zM70 83h1v1h-1zM74 83h1v1h-1zM76 83h2v1h-2zM5 84h2v1h-2zM8 84h1v1h-1zM31 84h4v1h-4zM67 84h1v1h-1zM70 84h1v1h-1zM67 85h3v1h-3zM71 85h1v1h-1zM75 85h1v1h-1zM77 85h1v1h-1zM23 86h1v1h-1zM67 86h2v1h-2zM23 87h2v1h-2zM34 87h1v1h-1zM0 88h1v1h-1zM33 88h1v1h-1zM67 88h1v1h-1zM1 89h1v1h-1zM21 89h1v1h-1zM24 89h1v1h-1zM0 90h1v1h-1zM22 90h3v1h-3zM67 90h1v1h-1zM1 91h2v1h-2zM66 91h2v1h-2zM0 92h1v1h-1zM24 92h2v1h-2zM65 92h2v1h-2zM24 93h1v1h-1zM26 93h4v1h-4zM32 93h1v1h-1zM65 93h1v1h-1zM69 93h1v1h-1zM31 94h1v1h-1zM64 94h2v1h-2zM67 94h3v1h-3zM4 95h1v1h-1zM26 95h3v1h-3zM67 95h1v1h-1zM27 96h3v1h-3zM41 96h2v1h-2zM66 96h1v1h-1zM40 97h1v1h-1zM64 97h1v1h-1zM1 98h2v1h-2zM64 98h1v1h-1zM7 99h1v1h-1z"/><path fill="#8fff49" d="M5 0h1v1h-1zM8 0h1v1h-1zM6 1h2v1h-2zM9 1h1v1h-1zM6 2h1v1h-1zM8 2h1v1h-1zM67 10h1v1h-1zM68 11h1v1h-1zM67 12h2v1h-2zM69 13h1v1h-1zM69 14h1v1h-1zM65 16h1v1h-1zM21 17h1v1h-1zM23 18h1v1h-1zM8 19h1v1h-1zM39 19h1v1h-1zM6 20h2v1h-2zM26 20h1v1h-1zM66 20h2v1h-2zM20 21h2v1h-2zM23 21h1v1h-1zM6 22h1v1h-1zM8 22h1v1h-1zM66 22h1v1h-1zM4 23h2v1h-2zM7 23h1v1h-1zM66 23h1v1h-1zM4 24h1v1h-1zM10 24h1v1h-1zM31 24h1v1h-1zM3 25h2v1h-2zM6 25h1v1h-1zM59 25h1v1h-1zM9 27h1v1h-1zM2 28h2v1h-2zM10 28h2v1h-2zM63 28h2v1h-2zM67 28h1v1h-1zM2 29h1v1h-1zM73 29h1v1h-1zM11 30h1v1h-1zM10 31h2v1h-2zM12 32h1v1h-1zM16 32h1v1h-1zM33 32h1v1h-1zM2 33h2v1h-2zM14 33h1v1h-1zM16 33h1v1h-1zM32 33h1v1h-1zM2 34h1v1h-1zM4 34h1v1h-1zM1 35h1v1h-1zM5 35h1v1h-1zM18 35h2v1h-2zM0 36h2v1h-2zM6 36h1v1h-1zM21 36h4v1h-4zM4 37h2v1h-2zM7 37h1v1h-1zM9 37h1v1h-1zM23 37h2v1h-2zM4 38h1v1h-1zM14 38h1v1h-1zM97 38h1v1h-1zM98 59h1v1h-1zM97 60h2v1h-2zM4 63h1v1h-1zM93 63h1v1h-1zM89 65h1v1h-1zM0 66h1v1h-1zM2 66h1v1h-1zM89 66h1v1h-1zM1 67h1v1h-1zM0 68h2v1h-2zM32 68h1v1h-1zM88 68h1v1h-1zM0 69h1v1h-1zM2 69h2v1h-2zM10 69h1v1h-1zM32 69h1v1h-1zM1 70h3v1h-3zM32 70h1v1h-1zM87 70h1v1h-1zM2 71h1v1h-1zM12 71h1v1h-1zM31 71h1v1h-1zM33 71h1v1h-1zM85 71h1v1h-1zM10 72h3v1h-3zM14 72h1v1h-1zM85 72h1v1h-1zM2 73h2v1h-2zM83 73h1v1h-1zM10 74h1v1h-1zM14 74h1v1h-1zM27 74h2v1h-2zM30 74h1v1h-1zM32 74h1v1h-1zM83 74h1v1h-1zM6 75h1v1h-1zM10 75h2v1h-2zM32 75h1v1h-1zM83 75h1v1h-1zM5 76h1v1h-1zM12 76h2v1h-2zM29 76h1v1h-1zM11 77h2v1h-2zM27 77h3v1h-3zM12 78h1v1h-1zM83 78h1v1h-1zM14 79h1v1h-1zM80 79h1v1h-1zM80 80h1v1h-1zM80 81h1v1h-1zM79 82h1v1h-1zM20 83h1v1h-1zM12 84h1v1h-1zM20 84h1v1h-1zM11 85h1v1h-1zM13 85h1v1h-1zM15 85h1v1h-1zM80 85h1v1h-1zM13 86h2v1h-2zM16 86h1v1h-1zM13 87h2v1h-2zM5 88h1v1h-1zM8 88h1v1h-1zM14 88h1v1h-1zM18 88h1v1h-1zM71 88h1v1h-1zM73 88h1v1h-1zM81 88h1v1h-1zM8 89h1v1h-1zM14 89h1v1h-1zM17 89h2v1h-2zM71 89h2v1h-2zM74 89h1v1h-1zM17 90h1v1h-1zM72 90h2v1h-2zM16 91h1v1h-1zM18 91h1v1h-1zM36 91h1v1h-1zM73 91h1v1h-1zM81 91h1v1h-1zM13 92h1v1h-1zM16 92h1v1h-1zM79 92h3v1h-3zM12 93h2v1h-2zM15 93h1v1h-1zM22 93h1v1h-1zM78 93h1v1h-1zM11 94h1v1h-1zM16 94h1v1h-1zM8 95h2v1h-2zM14 95h1v1h-1zM33 95h1v1h-1zM35 95h1v1h-1zM8 96h2v1h-2zM12 96h3v1h-3zM16 96h3v1h-3zM76 96h2v1h-2zM9 97h1v1h-1zM13 97h1v1h-1zM16 97h1v1h-1zM18 97h2v1h-2zM25 97h1v1h-1zM76 97h1v1h-1zM12 98h1v1h-1zM20 98h1v1h-1zM31 98h2v1h-2zM71 98h1v1h-1zM10 99h1v1h-1zM12 99h1v1h-1zM20 99h1v1h-1zM22 99h1v1h-1zM74 99h1v1h-1z"/><path fill="#80ff53" d="M6 0h2v1h-2zM66 0h1v1h-1zM7 2h1v1h-1zM7 3h1v1h-1zM68 13h1v1h-1zM66 16h3v1h-3zM22 17h1v1h-1zM68 17h1v1h-1zM21 18h2v1h-2zM65 18h2v1h-2zM21 19h2v1h-2zM66 19h2v1h-2zM8 20h1v1h-1zM21 20h2v1h-2zM25 20h1v1h-1zM24 21h1v1h-1zM26 21h1v1h-1zM29 21h1v1h-1zM7 22h1v1h-1zM23 22h1v1h-1zM42 22h1v1h-1zM6 23h1v1h-1zM8 23h1v1h-1zM5 24h2v1h-2zM66 24h1v1h-1zM5 25h1v1h-1zM60 25h1v1h-1zM5 26h2v1h-2zM66 27h2v1h-2zM4 28h1v1h-1zM62 28h1v1h-1zM65 28h2v1h-2zM9 29h2v1h-2zM0 30h4v1h-4zM10 30h1v1h-1zM3 32h1v1h-1zM10 32h2v1h-2zM1 33h1v1h-1zM12 33h2v1h-2zM15 33h1v1h-1zM0 34h2v1h-2zM5 34h1v1h-1zM15 34h3v1h-3zM0 35h1v1h-1zM6 35h1v1h-1zM9 35h3v1h-3zM5 36h1v1h-1zM9 36h1v1h-1zM15 37h1v1h-1zM21 37h2v1h-2zM95 37h1v1h-1zM98 38h2v1h-2zM99 60h1v1h-1zM97 61h2v1h-2zM95 62h2v1h-2zM94 63h1v1h-1zM92 64h1v1h-1zM91 65h1v1h-1zM90 66h1v1h-1zM0 67h1v1h-1zM88 69h1v1h-1zM31 70h1v1h-1zM32 71h1v1h-1zM86 71h1v1h-1zM13 72h1v1h-1zM10 73h4v1h-4zM84 73h1v1h-1zM12 74h2v1h-2zM29 74h1v1h-1zM12 75h2v1h-2zM27 75h1v1h-1zM30 75h1v1h-1zM27 76h2v1h-2zM30 76h1v1h-1zM83 76h1v1h-1zM82 79h2v1h-2zM81 80h2v1h-2zM81 81h1v1h-1zM80 83h2v1h-2zM81 85h1v1h-1zM80 86h1v1h-1zM72 88h1v1h-1zM80 88h1v1h-1zM15 89h1v1h-1zM73 89h1v1h-1zM82 89h1v1h-1zM14 90h3v1h-3zM71 90h1v1h-1zM82 90h1v1h-1zM15 91h1v1h-1zM17 91h1v1h-1zM82 91h1v1h-1zM14 92h2v1h-2zM14 93h1v1h-1zM79 93h3v1h-3zM12 94h4v1h-4zM77 94h2v1h-2zM80 94h1v1h-1zM10 95h4v1h-4zM15 95h1v1h-1zM17 95h1v1h-1zM78 95h2v1h-2zM10 96h2v1h-2zM78 96h2v1h-2zM10 97h1v1h-1zM12 97h1v1h-1zM77 97h2v1h-2zM10 98h2v1h-2zM75 98h1v1h-1zM80 98h1v1h-1zM11 99h1v1h-1zM75 99h1v1h-1z"/><path fill="#9ffd3f" d="M9 0h1v1h-1zM65 0h1v1h-1zM5 1h1v1h-1zM9 2h1v1h-1zM0 3h1v1h-1zM6 3h1v1h-1zM8 3h2v1h-2zM6 4h2v1h-2zM0 5h1v1h-1zM3 10h2v1h-2zM64 10h1v1h-1zM66 10h1v1h-1zM2 11h3v1h-3zM14 11h1v1h-1zM67 11h1v1h-1zM0 12h1v1h-1zM4 12h1v1h-1zM13 12h1v1h-1zM65 12h2v1h-2zM69 12h1v1h-1zM13 13h1v1h-1zM70 13h1v1h-1zM70 14h1v1h-1zM65 17h1v1h-1zM7 18h2v1h-2zM6 19h2v1h-2zM9 19h1v1h-1zM65 19h1v1h-1zM68 19h1v1h-1zM5 20h1v1h-1zM9 20h1v1h-1zM17 20h2v1h-2zM27 20h3v1h-3zM65 20h1v1h-1zM68 20h1v1h-1zM5 21h4v1h-4zM18 21h2v1h-2zM64 21h4v1h-4zM4 22h2v1h-2zM19 22h1v1h-1zM21 22h1v1h-1zM41 22h1v1h-1zM43 22h1v1h-1zM2 23h2v1h-2zM9 23h1v1h-1zM41 23h3v1h-3zM2 24h2v1h-2zM67 24h1v1h-1zM2 25h1v1h-1zM2 26h1v1h-1zM12 26h1v1h-1zM0 27h3v1h-3zM10 27h1v1h-1zM0 28h2v1h-2zM9 28h1v1h-1zM12 28h2v1h-2zM68 28h1v1h-1zM0 29h2v1h-2zM3 29h1v1h-1zM11 29h1v1h-1zM13 29h2v1h-2zM64 29h1v1h-1zM12 30h1v1h-1zM34 30h1v1h-1zM64 30h1v1h-1zM12 31h1v1h-1zM25 31h1v1h-1zM34 31h1v1h-1zM13 32h1v1h-1zM34 32h1v1h-1zM33 33h1v1h-1zM3 34h1v1h-1zM18 34h1v1h-1zM24 34h1v1h-1zM2 35h3v1h-3zM25 35h1v1h-1zM2 36h3v1h-3zM1 37h3v1h-3zM6 37h1v1h-1zM8 37h1v1h-1zM2 38h2v1h-2zM5 38h3v1h-3zM15 38h1v1h-1zM22 38h2v1h-2zM96 38h1v1h-1zM4 39h1v1h-1zM14 39h1v1h-1zM22 39h1v1h-1zM96 39h1v1h-1zM99 39h1v1h-1zM0 41h1v1h-1zM22 41h2v1h-2zM24 42h2v1h-2zM23 43h1v1h-1zM2 55h1v1h-1zM0 57h1v1h-1zM4 57h1v1h-1zM1 58h2v1h-2zM96 58h2v1h-2zM0 59h1v1h-1zM97 59h1v1h-1zM96 60h1v1h-1zM96 61h1v1h-1zM94 62h1v1h-1zM5 63h1v1h-1zM2 64h1v1h-1zM4 64h3v1h-3zM91 64h1v1h-1zM0 65h4v1h-4zM5 65h1v1h-1zM90 65h1v1h-1zM1 66h1v1h-1zM3 66h1v1h-1zM88 66h1v1h-1zM3 67h1v1h-1zM9 67h1v1h-1zM2 68h2v1h-2zM10 68h1v1h-1zM1 69h1v1h-1zM4 69h1v1h-1zM11 69h1v1h-1zM31 69h1v1h-1zM11 70h3v1h-3zM33 70h1v1h-1zM86 70h1v1h-1zM1 71h1v1h-1zM3 71h2v1h-2zM10 71h2v1h-2zM13 71h1v1h-1zM0 72h6v1h-6zM33 72h1v1h-1zM84 72h1v1h-1zM0 73h2v1h-2zM4 73h3v1h-3zM14 73h2v1h-2zM33 73h1v1h-1zM1 74h1v1h-1zM3 74h7v1h-7zM15 74h1v1h-1zM33 74h1v1h-1zM0 75h1v1h-1zM3 75h3v1h-3zM7 75h3v1h-3zM14 75h1v1h-1zM26 75h1v1h-1zM6 76h1v1h-1zM8 76h2v1h-2zM11 76h1v1h-1zM14 76h1v1h-1zM26 76h1v1h-1zM32 76h1v1h-1zM2 77h1v1h-1zM4 77h1v1h-1zM6 77h1v1h-1zM9 77h2v1h-2zM13 77h2v1h-2zM26 77h1v1h-1zM80 77h1v1h-1zM82 77h2v1h-2zM0 78h1v1h-1zM4 78h1v1h-1zM11 78h1v1h-1zM14 78h1v1h-1zM28 78h1v1h-1zM80 78h2v1h-2zM3 79h2v1h-2zM12 79h2v1h-2zM81 79h1v1h-1zM11 80h3v1h-3zM13 81h1v1h-1zM79 81h1v1h-1zM11 82h2v1h-2zM19 82h1v1h-1zM12 83h3v1h-3zM17 83h3v1h-3zM21 83h1v1h-1zM11 84h1v1h-1zM13 84h2v1h-2zM16 84h4v1h-4zM21 84h1v1h-1zM78 84h3v1h-3zM2 85h1v1h-1zM12 85h1v1h-1zM14 85h1v1h-1zM16 85h3v1h-3zM20 85h1v1h-1zM74 85h1v1h-1zM79 85h1v1h-1zM2 86h1v1h-1zM4 86h1v1h-1zM9 86h4v1h-4zM15 86h1v1h-1zM78 86h2v1h-2zM2 87h4v1h-4zM9 87h2v1h-2zM15 87h4v1h-4zM72 87h3v1h-3zM76 87h1v1h-1zM79 87h2v1h-2zM3 88h2v1h-2zM6 88h2v1h-2zM9 88h2v1h-2zM13 88h1v1h-1zM15 88h3v1h-3zM19 88h2v1h-2zM70 88h1v1h-1zM74 88h2v1h-2zM79 88h1v1h-1zM5 89h3v1h-3zM9 89h1v1h-1zM13 89h1v1h-1zM19 89h2v1h-2zM80 89h2v1h-2zM6 90h4v1h-4zM13 90h1v1h-1zM18 90h1v1h-1zM36 90h2v1h-2zM69 90h2v1h-2zM74 90h3v1h-3zM79 90h3v1h-3zM13 91h1v1h-1zM19 91h1v1h-1zM72 91h1v1h-1zM74 91h1v1h-1zM76 91h2v1h-2zM79 91h2v1h-2zM7 92h2v1h-2zM11 92h2v1h-2zM19 92h2v1h-2zM77 92h2v1h-2zM9 93h1v1h-1zM11 93h1v1h-1zM16 93h3v1h-3zM20 93h2v1h-2zM35 93h1v1h-1zM77 93h1v1h-1zM8 94h3v1h-3zM17 94h1v1h-1zM19 94h1v1h-1zM35 94h1v1h-1zM0 95h2v1h-2zM7 95h1v1h-1zM16 95h1v1h-1zM18 95h3v1h-3zM23 95h1v1h-1zM32 95h1v1h-1zM34 95h1v1h-1zM77 95h1v1h-1zM1 96h1v1h-1zM15 96h1v1h-1zM19 96h1v1h-1zM24 96h2v1h-2zM31 96h4v1h-4zM75 96h1v1h-1zM15 97h1v1h-1zM17 97h1v1h-1zM20 97h2v1h-2zM23 97h1v1h-1zM32 97h1v1h-1zM70 97h6v1h-6zM9 98h1v1h-1zM17 98h3v1h-3zM21 98h5v1h-5zM72 98h3v1h-3zM16 99h1v1h-1zM18 99h2v1h-2zM21 99h1v1h-1zM23 99h1v1h-1zM31 99h2v1h-2zM71 99h2v1h-2z"/><path fill="#dde037" d="M13 0h1v1h-1zM63 0h1v1h-1zM13 1h2v1h-2zM28 2h4v1h-4zM27 3h4v1h-4zM30 4h3v1h-3zM24 5h1v1h-1zM30 5h1v1h-1zM32 5h1v1h-1zM17 6h3v1h-3zM22 6h1v1h-1zM30 6h3v1h-3zM19 7h4v1h-4zM32 7h1v1h-1zM20 8h2v1h-2zM32 8h1v1h-1zM20 9h3v1h-3zM36 9h1v1h-1zM59 9h1v1h-1zM18 10h1v1h-1zM21 10h3v1h-3zM32 10h2v1h-2zM35 10h1v1h-1zM18 11h2v1h-2zM22 11h1v1h-1zM33 11h1v1h-1zM35 11h1v1h-1zM19 12h2v1h-2zM22 12h1v1h-1zM33 12h2v1h-2zM18 13h1v1h-1zM35 13h2v1h-2zM8 14h1v1h-1zM18 14h1v1h-1zM23 14h1v1h-1zM39 14h1v1h-1zM41 14h1v1h-1zM42 15h1v1h-1zM24 16h1v1h-1zM0 17h1v1h-1zM46 20h1v1h-1zM50 20h1v1h-1zM46 21h1v1h-1zM46 22h1v1h-1zM50 23h2v1h-2zM17 24h1v1h-1zM19 25h4v1h-4zM44 25h1v1h-1zM53 25h2v1h-2zM17 26h2v1h-2zM42 26h1v1h-1zM54 26h1v1h-1zM17 27h3v1h-3zM56 27h1v1h-1zM19 28h2v1h-2zM22 28h1v1h-1zM57 28h1v1h-1zM21 29h1v1h-1zM59 29h2v1h-2zM61 30h1v1h-1zM63 32h2v1h-2zM64 33h1v1h-1zM35 34h1v1h-1zM64 36h1v1h-1zM65 37h1v1h-1zM65 38h1v1h-1zM69 40h1v1h-1zM10 44h1v1h-1zM12 44h1v1h-1zM27 44h1v1h-1zM9 45h1v1h-1zM14 45h2v1h-2zM19 45h1v1h-1zM24 45h1v1h-1zM5 46h1v1h-1zM21 46h2v1h-2zM4 47h4v1h-4zM3 48h3v1h-3zM3 49h1v1h-1zM5 49h1v1h-1zM0 50h1v1h-1zM4 50h2v1h-2zM7 50h1v1h-1zM1 51h1v1h-1zM4 51h4v1h-4zM9 51h2v1h-2zM13 51h1v1h-1zM73 51h1v1h-1zM4 52h3v1h-3zM10 52h1v1h-1zM12 52h2v1h-2zM11 53h1v1h-1zM5 54h2v1h-2zM9 54h5v1h-5zM6 55h1v1h-1zM8 55h4v1h-4zM14 55h1v1h-1zM6 56h1v1h-1zM8 56h1v1h-1zM13 56h1v1h-1zM13 57h1v1h-1zM13 58h3v1h-3zM17 58h1v1h-1zM16 59h1v1h-1zM81 59h2v1h-2zM15 60h1v1h-1zM25 60h5v1h-5zM21 61h3v1h-3zM34 61h1v1h-1zM89 61h1v1h-1zM34 63h1v1h-1zM84 63h1v1h-1zM85 64h1v1h-1zM34 65h1v1h-1zM84 65h1v1h-1zM84 66h1v1h-1zM84 67h1v1h-1zM83 68h1v1h-1zM17 69h2v1h-2zM80 69h2v1h-2zM83 69h1v1h-1zM35 70h1v1h-1zM79 70h2v1h-2zM17 71h2v1h-2zM35 71h1v1h-1zM67 71h1v1h-1zM77 71h2v1h-2zM17 72h2v1h-2zM66 72h1v1h-1zM76 73h1v1h-1zM66 74h1v1h-1zM74 74h2v1h-2zM18 75h1v1h-1zM71 75h1v1h-1zM74 75h1v1h-1zM76 75h1v1h-1zM17 76h1v1h-1zM35 76h1v1h-1zM66 76h1v1h-1zM77 76h1v1h-1zM17 77h2v1h-2zM35 77h1v1h-1zM76 77h1v1h-1zM66 78h1v1h-1zM75 78h1v1h-1zM77 78h1v1h-1zM66 79h1v1h-1zM76 79h1v1h-1zM7 80h1v1h-1zM65 80h2v1h-2zM77 80h1v1h-1zM26 81h1v1h-1zM65 81h4v1h-4zM26 82h1v1h-1zM29 82h1v1h-1zM35 82h2v1h-2zM66 82h2v1h-2zM36 83h2v1h-2zM65 83h1v1h-1zM67 83h1v1h-1zM24 84h1v1h-1zM35 84h2v1h-2zM38 84h1v1h-1zM65 84h2v1h-2zM64 85h1v1h-1zM65 86h1v1h-1zM65 87h2v1h-2zM26 88h1v1h-1zM31 88h1v1h-1zM26 89h2v1h-2zM26 90h1v1h-1zM30 90h3v1h-3zM65 90h1v1h-1zM26 91h2v1h-2zM29 91h2v1h-2zM32 91h1v1h-1zM63 91h1v1h-1zM26 92h1v1h-1zM30 92h1v1h-1zM46 93h1v1h-1zM64 93h1v1h-1zM63 94h1v1h-1zM43 95h1v1h-1zM41 97h2v1h-2zM42 98h1v1h-1zM63 98h1v1h-1zM42 99h1v1h-1zM63 99h1v1h-1z"/><path fill="#e7d739" d="M14 0h1v1h-1zM62 1h1v1h-1zM32 2h1v1h-1zM62 2h1v1h-1zM31 3h2v1h-2zM60 3h3v1h-3zM26 4h1v1h-1zM29 4h1v1h-1zM33 4h1v1h-1zM62 4h1v1h-1zM18 5h1v1h-1zM20 5h1v1h-1zM27 5h1v1h-1zM29 5h1v1h-1zM33 5h1v1h-1zM20 6h2v1h-2zM23 6h2v1h-2zM33 6h1v1h-1zM23 7h1v1h-1zM30 7h2v1h-2zM33 7h2v1h-2zM59 7h1v1h-1zM22 8h1v1h-1zM31 8h1v1h-1zM34 8h2v1h-2zM23 9h1v1h-1zM32 9h4v1h-4zM20 10h1v1h-1zM36 10h1v1h-1zM32 11h1v1h-1zM36 11h1v1h-1zM23 12h1v1h-1zM35 12h2v1h-2zM8 13h1v1h-1zM19 13h1v1h-1zM23 13h1v1h-1zM32 13h2v1h-2zM37 13h2v1h-2zM32 14h1v1h-1zM40 14h1v1h-1zM42 14h1v1h-1zM24 15h1v1h-1zM41 15h1v1h-1zM31 17h1v1h-1zM33 17h1v1h-1zM30 18h2v1h-2zM49 19h1v1h-1zM49 20h1v1h-1zM47 21h2v1h-2zM49 22h2v1h-2zM46 23h1v1h-1zM49 23h1v1h-1zM50 24h2v1h-2zM53 24h1v1h-1zM45 25h1v1h-1zM48 25h4v1h-4zM19 26h1v1h-1zM23 26h1v1h-1zM44 26h1v1h-1zM20 27h2v1h-2zM23 27h1v1h-1zM42 27h3v1h-3zM23 28h1v1h-1zM35 28h1v1h-1zM41 28h1v1h-1zM44 28h1v1h-1zM56 28h1v1h-1zM35 29h1v1h-1zM56 29h3v1h-3zM60 30h1v1h-1zM64 34h1v1h-1zM64 35h1v1h-1zM64 37h1v1h-1zM68 40h1v1h-1zM69 41h1v1h-1zM10 45h1v1h-1zM12 45h2v1h-2zM25 45h2v1h-2zM71 45h1v1h-1zM18 46h3v1h-3zM8 47h1v1h-1zM71 47h1v1h-1zM6 48h2v1h-2zM71 48h1v1h-1zM4 49h1v1h-1zM7 49h1v1h-1zM9 49h1v1h-1zM6 50h1v1h-1zM8 50h3v1h-3zM11 51h2v1h-2zM14 51h1v1h-1zM72 51h1v1h-1zM11 52h1v1h-1zM14 52h1v1h-1zM12 53h3v1h-3zM13 55h1v1h-1zM15 55h1v1h-1zM14 56h1v1h-1zM14 57h1v1h-1zM16 57h2v1h-2zM16 58h1v1h-1zM18 58h2v1h-2zM18 59h3v1h-3zM26 59h1v1h-1zM83 59h1v1h-1zM19 60h3v1h-3zM23 60h2v1h-2zM30 60h3v1h-3zM81 60h1v1h-1zM34 62h1v1h-1zM87 62h2v1h-2zM85 63h1v1h-1zM34 64h1v1h-1zM84 64h1v1h-1zM86 64h2v1h-2zM78 66h1v1h-1zM35 67h1v1h-1zM83 67h1v1h-1zM35 68h1v1h-1zM82 68h1v1h-1zM35 69h1v1h-1zM82 69h1v1h-1zM36 70h1v1h-1zM71 70h1v1h-1zM36 71h1v1h-1zM66 71h1v1h-1zM70 71h1v1h-1zM75 71h1v1h-1zM36 72h1v1h-1zM71 72h1v1h-1zM76 72h2v1h-2zM36 73h1v1h-1zM65 73h1v1h-1zM72 73h1v1h-1zM75 73h1v1h-1zM36 74h1v1h-1zM65 74h1v1h-1zM71 74h3v1h-3zM76 74h2v1h-2zM36 75h1v1h-1zM45 75h2v1h-2zM65 75h1v1h-1zM75 75h1v1h-1zM45 76h2v1h-2zM65 76h1v1h-1zM76 76h1v1h-1zM65 77h2v1h-2zM36 78h1v1h-1zM45 78h1v1h-1zM64 78h2v1h-2zM36 79h2v1h-2zM39 79h1v1h-1zM65 79h1v1h-1zM36 80h5v1h-5zM27 81h1v1h-1zM36 81h1v1h-1zM38 81h3v1h-3zM25 82h1v1h-1zM28 82h1v1h-1zM39 82h1v1h-1zM65 82h1v1h-1zM25 83h1v1h-1zM29 83h1v1h-1zM35 83h1v1h-1zM38 83h2v1h-2zM64 83h1v1h-1zM66 83h1v1h-1zM25 84h1v1h-1zM29 84h1v1h-1zM37 84h1v1h-1zM64 84h1v1h-1zM25 85h1v1h-1zM25 86h1v1h-1zM64 86h1v1h-1zM26 87h2v1h-2zM30 87h1v1h-1zM27 88h4v1h-4zM65 88h1v1h-1zM29 89h2v1h-2zM63 89h1v1h-1zM65 89h1v1h-1zM27 90h3v1h-3zM62 90h3v1h-3zM28 91h1v1h-1zM31 91h1v1h-1zM62 91h1v1h-1zM31 92h1v1h-1zM62 92h2v1h-2zM48 93h1v1h-1zM63 93h1v1h-1zM44 95h1v1h-1zM62 95h1v1h-1zM43 96h1v1h-1zM62 96h1v1h-1zM43 97h1v1h-1zM62 97h1v1h-1zM43 98h1v1h-1zM43 99h1v1h-1z"/><path fill="#f56918" d="M47 0h1v1h-1zM49 0h1v1h-1zM47 2h1v1h-1zM50 2h1v1h-1zM47 3h3v1h-3zM44 8h1v1h-1zM24 14h1v1h-1zM24 18h1v1h-1zM62 47h1v1h-1zM62 49h1v1h-1zM60 53h2v1h-2zM34 55h1v1h-1zM38 55h2v1h-2zM43 55h1v1h-1zM45 55h1v1h-1zM60 55h3v1h-3zM33 56h1v1h-1zM35 56h1v1h-1zM42 56h1v1h-1zM46 56h1v1h-1zM61 56h2v1h-2zM34 57h3v1h-3zM38 57h2v1h-2zM48 57h1v1h-1zM61 57h2v1h-2zM37 58h2v1h-2zM40 58h2v1h-2zM48 58h1v1h-1zM69 58h1v1h-1zM41 59h1v1h-1zM65 59h1v1h-1zM51 60h2v1h-2zM58 60h3v1h-3zM65 60h1v1h-1zM54 61h1v1h-1zM58 61h1v1h-1zM64 61h1v1h-1zM41 62h1v1h-1zM54 62h2v1h-2zM58 62h1v1h-1zM60 62h1v1h-1zM65 62h1v1h-1zM42 63h1v1h-1zM44 63h1v1h-1zM52 63h4v1h-4zM59 63h2v1h-2zM65 63h1v1h-1zM42 64h3v1h-3zM52 64h1v1h-1zM54 64h1v1h-1zM59 64h4v1h-4zM64 64h2v1h-2zM44 65h1v1h-1zM51 65h2v1h-2zM58 65h2v1h-2zM43 66h1v1h-1zM50 66h1v1h-1zM53 66h1v1h-1zM44 67h2v1h-2zM50 67h1v1h-1zM44 68h5v1h-5zM44 69h1v1h-1zM52 69h1v1h-1zM58 74h1v1h-1zM53 75h2v1h-2zM56 75h2v1h-2zM54 76h2v1h-2zM55 77h1v1h-1zM56 95h1v1h-1zM56 97h2v1h-2z"/><path fill="#f05b12" d="M48 0h1v1h-1zM47 1h1v1h-1zM49 1h1v1h-1zM48 2h1v1h-1zM25 14h1v1h-1zM34 56h1v1h-1zM37 56h1v1h-1zM39 56h3v1h-3zM43 56h2v1h-2zM63 56h1v1h-1zM37 57h1v1h-1zM40 57h2v1h-2zM43 57h1v1h-1zM47 57h1v1h-1zM64 57h1v1h-1zM39 58h1v1h-1zM61 58h1v1h-1zM64 58h1v1h-1zM49 59h1v1h-1zM61 59h1v1h-1zM41 60h1v1h-1zM50 60h1v1h-1zM61 60h1v1h-1zM64 60h1v1h-1zM41 61h1v1h-1zM52 61h2v1h-2zM59 61h2v1h-2zM65 61h1v1h-1zM53 62h1v1h-1zM59 62h1v1h-1zM64 62h1v1h-1zM43 63h1v1h-1zM45 63h1v1h-1zM51 63h1v1h-1zM61 63h2v1h-2zM64 63h1v1h-1zM46 64h1v1h-1zM51 64h1v1h-1zM63 64h1v1h-1zM45 65h2v1h-2zM49 65h2v1h-2zM45 66h1v1h-1zM48 66h2v1h-2zM46 67h1v1h-1zM48 67h2v1h-2z"/><path fill="#fc8423" d="M50 0h1v1h-1zM51 2h2v1h-2zM45 4h2v1h-2zM48 4h2v1h-2zM45 5h3v1h-3zM49 5h1v1h-1zM45 6h1v1h-1zM47 6h1v1h-1zM43 7h1v1h-1zM47 7h1v1h-1zM51 8h2v1h-2zM24 9h2v1h-2zM51 9h2v1h-2zM44 10h1v1h-1zM25 18h1v1h-1zM47 33h1v1h-1zM47 34h1v1h-1zM44 35h2v1h-2zM43 36h3v1h-3zM53 36h1v1h-1zM43 37h5v1h-5zM51 37h1v1h-1zM53 37h3v1h-3zM35 38h1v1h-1zM43 38h2v1h-2zM46 38h2v1h-2zM51 38h4v1h-4zM56 38h1v1h-1zM43 39h4v1h-4zM52 39h3v1h-3zM58 39h2v1h-2zM61 39h1v1h-1zM43 40h1v1h-1zM52 40h3v1h-3zM60 40h1v1h-1zM38 41h2v1h-2zM42 41h2v1h-2zM37 42h1v1h-1zM42 42h3v1h-3zM51 42h1v1h-1zM43 43h1v1h-1zM51 43h1v1h-1zM46 44h2v1h-2zM60 44h3v1h-3zM37 45h1v1h-1zM61 45h3v1h-3zM61 46h1v1h-1zM61 47h1v1h-1zM63 47h1v1h-1zM60 48h1v1h-1zM62 48h1v1h-1zM64 48h1v1h-1zM33 49h1v1h-1zM60 49h1v1h-1zM63 49h2v1h-2zM32 50h1v1h-1zM59 50h1v1h-1zM61 50h1v1h-1zM64 50h1v1h-1zM22 51h1v1h-1zM60 51h2v1h-2zM59 52h2v1h-2zM67 52h2v1h-2zM22 53h3v1h-3zM59 53h1v1h-1zM65 53h1v1h-1zM32 54h4v1h-4zM37 54h1v1h-1zM39 54h2v1h-2zM43 54h1v1h-1zM22 55h1v1h-1zM31 55h2v1h-2zM42 55h1v1h-1zM49 55h1v1h-1zM54 55h2v1h-2zM69 55h1v1h-1zM49 56h4v1h-4zM54 56h2v1h-2zM69 56h1v1h-1zM32 57h1v1h-1zM52 57h6v1h-6zM34 58h1v1h-1zM50 58h5v1h-5zM56 58h1v1h-1zM58 58h1v1h-1zM36 59h1v1h-1zM51 59h1v1h-1zM53 59h5v1h-5zM59 59h1v1h-1zM39 60h1v1h-1zM74 60h1v1h-1zM38 61h1v1h-1zM40 62h1v1h-1zM57 62h1v1h-1zM72 62h1v1h-1zM40 63h1v1h-1zM56 63h3v1h-3zM71 63h1v1h-1zM73 63h2v1h-2zM40 64h1v1h-1zM56 64h2v1h-2zM72 64h2v1h-2zM40 65h2v1h-2zM56 65h2v1h-2zM61 65h1v1h-1zM41 66h2v1h-2zM54 66h1v1h-1zM56 66h1v1h-1zM60 66h5v1h-5zM42 67h1v1h-1zM52 67h1v1h-1zM56 67h2v1h-2zM59 67h2v1h-2zM64 67h1v1h-1zM42 68h2v1h-2zM42 69h1v1h-1zM45 69h2v1h-2zM49 69h1v1h-1zM43 70h5v1h-5zM49 70h2v1h-2zM54 70h1v1h-1zM47 71h3v1h-3zM51 71h2v1h-2zM56 71h1v1h-1zM49 72h1v1h-1zM51 72h3v1h-3zM56 72h3v1h-3zM60 72h1v1h-1zM51 73h6v1h-6zM61 73h1v1h-1zM51 74h1v1h-1zM55 74h2v1h-2zM60 74h1v1h-1zM51 76h1v1h-1zM51 77h1v1h-1zM53 78h1v1h-1zM56 78h1v1h-1zM58 78h2v1h-2zM56 79h3v1h-3zM51 85h1v1h-1zM51 86h1v1h-1zM56 93h3v1h-3zM58 95h1v1h-1zM47 97h1v1h-1zM58 97h1v1h-1zM47 98h1v1h-1zM55 98h3v1h-3zM56 99h2v1h-2z"/><path fill="#fe932a" d="M51 0h1v1h-1zM52 1h1v1h-1zM53 2h1v1h-1zM51 3h2v1h-2zM44 4h1v1h-1zM50 4h2v1h-2zM44 5h1v1h-1zM50 5h1v1h-1zM48 6h4v1h-4zM48 7h7v1h-7zM42 8h1v1h-1zM46 8h1v1h-1zM48 8h2v1h-2zM41 9h3v1h-3zM45 9h2v1h-2zM48 9h3v1h-3zM24 10h1v1h-1zM43 10h1v1h-1zM48 10h1v1h-1zM23 11h1v1h-1zM44 11h1v1h-1zM50 11h1v1h-1zM50 12h1v1h-1zM28 16h1v1h-1zM26 18h2v1h-2zM27 19h1v1h-1zM48 31h1v1h-1zM48 32h1v1h-1zM45 33h2v1h-2zM48 33h2v1h-2zM44 34h3v1h-3zM42 35h2v1h-2zM46 35h1v1h-1zM48 35h2v1h-2zM55 35h1v1h-1zM46 36h2v1h-2zM49 36h1v1h-1zM54 36h3v1h-3zM35 37h1v1h-1zM42 37h1v1h-1zM48 37h1v1h-1zM52 37h1v1h-1zM56 37h3v1h-3zM50 38h1v1h-1zM55 38h1v1h-1zM57 38h5v1h-5zM42 39h1v1h-1zM47 39h1v1h-1zM49 39h1v1h-1zM51 39h1v1h-1zM55 39h3v1h-3zM60 39h1v1h-1zM36 40h3v1h-3zM40 40h3v1h-3zM45 40h1v1h-1zM49 40h1v1h-1zM51 40h1v1h-1zM59 40h1v1h-1zM61 40h1v1h-1zM63 40h1v1h-1zM36 41h2v1h-2zM44 41h2v1h-2zM51 41h2v1h-2zM54 41h1v1h-1zM59 41h3v1h-3zM63 41h1v1h-1zM35 42h1v1h-1zM38 42h4v1h-4zM45 42h1v1h-1zM49 42h2v1h-2zM60 42h7v1h-7zM36 43h7v1h-7zM48 43h2v1h-2zM60 43h3v1h-3zM66 43h2v1h-2zM36 44h5v1h-5zM45 44h1v1h-1zM48 44h3v1h-3zM63 44h1v1h-1zM65 44h3v1h-3zM38 45h1v1h-1zM40 45h2v1h-2zM45 45h1v1h-1zM48 45h2v1h-2zM51 45h1v1h-1zM65 45h1v1h-1zM33 46h1v1h-1zM40 46h2v1h-2zM49 46h1v1h-1zM64 46h1v1h-1zM33 47h1v1h-1zM48 47h1v1h-1zM64 47h1v1h-1zM32 48h2v1h-2zM48 48h1v1h-1zM32 49h1v1h-1zM66 49h1v1h-1zM25 50h1v1h-1zM30 50h2v1h-2zM47 50h1v1h-1zM49 50h3v1h-3zM65 50h1v1h-1zM23 51h1v1h-1zM25 51h2v1h-2zM30 51h2v1h-2zM47 51h4v1h-4zM59 51h1v1h-1zM64 51h1v1h-1zM17 52h1v1h-1zM21 52h4v1h-4zM29 52h4v1h-4zM38 52h3v1h-3zM48 52h2v1h-2zM65 52h2v1h-2zM18 53h4v1h-4zM29 53h1v1h-1zM31 53h1v1h-1zM34 53h1v1h-1zM37 53h1v1h-1zM39 53h4v1h-4zM49 53h1v1h-1zM53 53h2v1h-2zM66 53h2v1h-2zM69 53h2v1h-2zM22 54h2v1h-2zM29 54h1v1h-1zM31 54h1v1h-1zM38 54h1v1h-1zM42 54h1v1h-1zM44 54h2v1h-2zM53 54h2v1h-2zM69 54h1v1h-1zM23 55h1v1h-1zM47 55h2v1h-2zM50 55h4v1h-4zM22 56h3v1h-3zM30 56h3v1h-3zM53 56h1v1h-1zM31 57h1v1h-1zM51 57h1v1h-1zM58 57h1v1h-1zM33 58h1v1h-1zM35 59h1v1h-1zM36 60h1v1h-1zM73 60h1v1h-1zM36 61h2v1h-2zM73 61h2v1h-2zM37 62h3v1h-3zM73 62h2v1h-2zM39 64h1v1h-1zM71 64h1v1h-1zM74 64h1v1h-1zM41 67h1v1h-1zM58 67h1v1h-1zM61 67h3v1h-3zM40 68h2v1h-2zM57 68h2v1h-2zM60 68h1v1h-1zM41 69h1v1h-1zM55 69h3v1h-3zM55 70h2v1h-2zM59 70h1v1h-1zM46 71h1v1h-1zM53 71h3v1h-3zM57 71h2v1h-2zM60 71h1v1h-1zM46 72h3v1h-3zM50 72h1v1h-1zM54 72h2v1h-2zM59 72h1v1h-1zM61 72h2v1h-2zM49 73h2v1h-2zM50 74h1v1h-1zM61 74h1v1h-1zM60 75h1v1h-1zM50 76h1v1h-1zM59 76h1v1h-1zM50 77h1v1h-1zM59 77h1v1h-1zM51 78h2v1h-2zM54 78h2v1h-2zM59 79h1v1h-1zM52 84h1v1h-1zM57 84h1v1h-1zM52 85h3v1h-3zM52 86h2v1h-2zM55 87h1v1h-1zM57 88h1v1h-1zM58 89h1v1h-1zM53 91h1v1h-1zM57 92h1v1h-1zM58 94h1v1h-1zM59 95h1v1h-1zM58 96h1v1h-1zM48 97h1v1h-1zM46 98h1v1h-1zM49 98h1v1h-1zM58 98h2v1h-2zM46 99h1v1h-1zM49 99h1v1h-1zM55 99h1v1h-1zM58 99h2v1h-2z"/><path fill="#fea130" d="M52 0h1v1h-1zM55 0h1v1h-1zM53 1h1v1h-1zM53 3h1v1h-1zM52 4h1v1h-1zM51 5h2v1h-2zM46 6h1v1h-1zM52 6h2v1h-2zM42 7h1v1h-1zM47 8h1v1h-1zM50 8h1v1h-1zM53 8h2v1h-2zM47 9h1v1h-1zM53 9h1v1h-1zM40 10h3v1h-3zM45 10h1v1h-1zM47 10h1v1h-1zM49 10h2v1h-2zM53 10h1v1h-1zM27 11h1v1h-1zM40 11h4v1h-4zM49 11h1v1h-1zM49 12h1v1h-1zM26 13h1v1h-1zM26 14h3v1h-3zM27 15h2v1h-2zM27 16h1v1h-1zM26 19h1v1h-1zM48 30h1v1h-1zM47 31h1v1h-1zM46 32h2v1h-2zM49 32h2v1h-2zM57 32h1v1h-1zM44 33h1v1h-1zM50 33h1v1h-1zM55 33h3v1h-3zM41 34h3v1h-3zM48 34h1v1h-1zM53 34h5v1h-5zM40 35h1v1h-1zM47 35h1v1h-1zM50 35h1v1h-1zM52 35h3v1h-3zM56 35h2v1h-2zM41 36h2v1h-2zM48 36h1v1h-1zM50 36h3v1h-3zM57 36h2v1h-2zM41 37h1v1h-1zM49 37h2v1h-2zM59 37h3v1h-3zM34 38h1v1h-1zM39 38h1v1h-1zM48 38h1v1h-1zM35 39h1v1h-1zM38 39h1v1h-1zM48 39h1v1h-1zM50 39h1v1h-1zM62 39h2v1h-2zM35 40h1v1h-1zM39 40h1v1h-1zM46 40h2v1h-2zM50 40h1v1h-1zM62 40h1v1h-1zM64 40h1v1h-1zM34 41h2v1h-2zM40 41h2v1h-2zM47 41h1v1h-1zM49 41h2v1h-2zM53 41h1v1h-1zM62 41h1v1h-1zM64 41h2v1h-2zM36 42h1v1h-1zM48 42h1v1h-1zM34 43h2v1h-2zM45 43h3v1h-3zM50 43h1v1h-1zM64 43h2v1h-2zM68 43h1v1h-1zM33 44h2v1h-2zM41 44h1v1h-1zM51 44h1v1h-1zM64 44h1v1h-1zM32 45h1v1h-1zM36 45h1v1h-1zM39 45h1v1h-1zM47 45h1v1h-1zM50 45h1v1h-1zM64 45h1v1h-1zM66 45h2v1h-2zM32 46h1v1h-1zM34 46h1v1h-1zM36 46h4v1h-4zM46 46h3v1h-3zM50 46h2v1h-2zM65 46h3v1h-3zM26 47h1v1h-1zM31 47h2v1h-2zM38 47h5v1h-5zM46 47h2v1h-2zM49 47h1v1h-1zM66 47h2v1h-2zM25 48h1v1h-1zM31 48h1v1h-1zM34 48h4v1h-4zM40 48h2v1h-2zM47 48h1v1h-1zM49 48h3v1h-3zM65 48h2v1h-2zM22 49h1v1h-1zM25 49h2v1h-2zM29 49h3v1h-3zM34 49h2v1h-2zM38 49h1v1h-1zM47 49h2v1h-2zM51 49h1v1h-1zM65 49h1v1h-1zM17 50h1v1h-1zM21 50h4v1h-4zM26 50h1v1h-1zM28 50h1v1h-1zM33 50h2v1h-2zM38 50h1v1h-1zM41 50h1v1h-1zM48 50h1v1h-1zM52 50h1v1h-1zM68 50h1v1h-1zM17 51h2v1h-2zM20 51h2v1h-2zM24 51h1v1h-1zM27 51h1v1h-1zM29 51h1v1h-1zM32 51h2v1h-2zM38 51h3v1h-3zM51 51h2v1h-2zM65 51h1v1h-1zM18 52h1v1h-1zM20 52h1v1h-1zM25 52h1v1h-1zM28 52h1v1h-1zM33 52h2v1h-2zM41 52h1v1h-1zM47 52h1v1h-1zM50 52h1v1h-1zM52 52h1v1h-1zM54 52h1v1h-1zM69 52h2v1h-2zM17 53h1v1h-1zM25 53h4v1h-4zM30 53h1v1h-1zM32 53h2v1h-2zM35 53h1v1h-1zM38 53h1v1h-1zM43 53h2v1h-2zM47 53h2v1h-2zM50 53h2v1h-2zM68 53h1v1h-1zM71 53h1v1h-1zM18 54h4v1h-4zM24 54h1v1h-1zM30 54h1v1h-1zM36 54h1v1h-1zM46 54h6v1h-6zM55 54h1v1h-1zM21 55h1v1h-1zM24 55h2v1h-2zM28 55h3v1h-3zM22 57h2v1h-2zM29 57h2v1h-2zM31 58h1v1h-1zM75 59h1v1h-1zM75 60h1v1h-1zM75 61h1v1h-1zM36 62h1v1h-1zM75 62h1v1h-1zM37 63h3v1h-3zM75 63h1v1h-1zM38 64h1v1h-1zM38 65h2v1h-2zM73 65h2v1h-2zM39 66h2v1h-2zM73 66h2v1h-2zM38 67h3v1h-3zM38 68h1v1h-1zM59 68h1v1h-1zM61 68h2v1h-2zM64 68h1v1h-1zM59 69h3v1h-3zM41 70h2v1h-2zM57 70h2v1h-2zM60 70h1v1h-1zM44 71h2v1h-2zM59 71h1v1h-1zM62 71h1v1h-1zM45 72h1v1h-1zM47 73h1v1h-1zM62 73h1v1h-1zM49 74h1v1h-1zM62 74h1v1h-1zM50 75h1v1h-1zM61 75h1v1h-1zM60 77h1v1h-1zM50 78h1v1h-1zM60 78h2v1h-2zM51 79h5v1h-5zM52 80h1v1h-1zM55 80h1v1h-1zM57 80h3v1h-3zM51 81h1v1h-1zM53 82h1v1h-1zM58 82h1v1h-1zM52 83h1v1h-1zM58 83h2v1h-2zM51 84h1v1h-1zM53 84h4v1h-4zM58 84h3v1h-3zM50 85h1v1h-1zM55 85h2v1h-2zM59 85h2v1h-2zM50 86h1v1h-1zM54 86h5v1h-5zM60 86h1v1h-1zM50 87h5v1h-5zM56 87h5v1h-5zM50 88h1v1h-1zM52 88h1v1h-1zM54 88h3v1h-3zM58 88h1v1h-1zM49 89h1v1h-1zM51 89h1v1h-1zM55 89h3v1h-3zM57 90h1v1h-1zM51 91h1v1h-1zM56 91h2v1h-2zM56 92h1v1h-1zM58 92h2v1h-2zM59 93h1v1h-1zM59 94h1v1h-1zM47 96h2v1h-2zM59 96h1v1h-1zM46 97h1v1h-1zM49 97h1v1h-1zM59 97h1v1h-1zM54 98h1v1h-1z"/><path fill="#fdae35" d="M53 0h2v1h-2zM57 0h1v1h-1zM54 1h3v1h-3zM54 2h2v1h-2zM57 2h1v1h-1zM54 3h1v1h-1zM53 4h2v1h-2zM53 5h1v1h-1zM55 5h1v1h-1zM42 6h1v1h-1zM54 6h4v1h-4zM41 7h1v1h-1zM55 7h2v1h-2zM41 8h1v1h-1zM55 8h1v1h-1zM27 9h1v1h-1zM39 9h2v1h-2zM54 9h1v1h-1zM27 10h2v1h-2zM39 10h1v1h-1zM46 10h1v1h-1zM26 11h1v1h-1zM28 11h1v1h-1zM39 11h1v1h-1zM45 11h2v1h-2zM53 11h1v1h-1zM26 12h4v1h-4zM41 12h4v1h-4zM27 13h2v1h-2zM49 13h1v1h-1zM26 15h1v1h-1zM29 16h1v1h-1zM28 17h1v1h-1zM47 30h1v1h-1zM44 31h3v1h-3zM49 31h2v1h-2zM57 31h1v1h-1zM43 32h3v1h-3zM51 32h1v1h-1zM54 32h3v1h-3zM58 32h1v1h-1zM42 33h2v1h-2zM52 33h3v1h-3zM58 33h3v1h-3zM40 34h1v1h-1zM49 34h2v1h-2zM52 34h1v1h-1zM58 34h4v1h-4zM41 35h1v1h-1zM51 35h1v1h-1zM58 35h2v1h-2zM61 35h1v1h-1zM35 36h1v1h-1zM40 36h1v1h-1zM59 36h2v1h-2zM34 37h1v1h-1zM40 37h1v1h-1zM41 38h2v1h-2zM49 38h1v1h-1zM62 38h1v1h-1zM34 39h1v1h-1zM39 39h3v1h-3zM64 39h1v1h-1zM34 40h1v1h-1zM48 40h1v1h-1zM65 40h1v1h-1zM46 41h1v1h-1zM48 41h1v1h-1zM66 41h1v1h-1zM33 42h2v1h-2zM46 42h2v1h-2zM67 42h1v1h-1zM31 43h3v1h-3zM63 43h1v1h-1zM31 44h2v1h-2zM68 44h1v1h-1zM30 45h2v1h-2zM33 45h3v1h-3zM46 45h1v1h-1zM68 45h1v1h-1zM30 46h2v1h-2zM35 46h1v1h-1zM68 46h1v1h-1zM11 47h1v1h-1zM13 47h2v1h-2zM24 47h2v1h-2zM30 47h1v1h-1zM34 47h4v1h-4zM50 47h2v1h-2zM65 47h1v1h-1zM68 47h1v1h-1zM13 48h1v1h-1zM21 48h1v1h-1zM24 48h1v1h-1zM26 48h2v1h-2zM30 48h1v1h-1zM38 48h2v1h-2zM42 48h1v1h-1zM46 48h1v1h-1zM67 48h2v1h-2zM21 49h1v1h-1zM23 49h2v1h-2zM27 49h2v1h-2zM36 49h2v1h-2zM39 49h4v1h-4zM45 49h1v1h-1zM49 49h2v1h-2zM67 49h2v1h-2zM16 50h1v1h-1zM18 50h1v1h-1zM20 50h1v1h-1zM27 50h1v1h-1zM29 50h1v1h-1zM35 50h1v1h-1zM37 50h1v1h-1zM39 50h2v1h-2zM43 50h4v1h-4zM69 50h1v1h-1zM16 51h1v1h-1zM19 51h1v1h-1zM28 51h1v1h-1zM34 51h1v1h-1zM37 51h1v1h-1zM41 51h6v1h-6zM69 51h1v1h-1zM16 52h1v1h-1zM19 52h1v1h-1zM26 52h2v1h-2zM37 52h1v1h-1zM42 52h3v1h-3zM46 52h1v1h-1zM51 52h1v1h-1zM53 52h1v1h-1zM71 52h1v1h-1zM16 53h1v1h-1zM46 53h1v1h-1zM52 53h1v1h-1zM17 54h1v1h-1zM25 54h4v1h-4zM52 54h1v1h-1zM18 55h3v1h-3zM20 56h2v1h-2zM29 56h1v1h-1zM24 57h1v1h-1zM22 58h2v1h-2zM30 58h1v1h-1zM32 58h1v1h-1zM34 59h1v1h-1zM35 60h1v1h-1zM76 60h1v1h-1zM76 61h1v1h-1zM36 64h2v1h-2zM75 64h1v1h-1zM37 65h1v1h-1zM75 65h1v1h-1zM37 66h2v1h-2zM37 67h1v1h-1zM37 68h1v1h-1zM39 68h1v1h-1zM63 68h1v1h-1zM72 68h1v1h-1zM37 69h4v1h-4zM58 69h1v1h-1zM62 69h1v1h-1zM39 70h2v1h-2zM61 70h1v1h-1zM41 71h3v1h-3zM61 71h1v1h-1zM44 72h1v1h-1zM63 72h1v1h-1zM46 73h1v1h-1zM48 73h1v1h-1zM48 74h1v1h-1zM40 75h1v1h-1zM49 75h1v1h-1zM49 76h1v1h-1zM60 76h2v1h-2zM49 78h1v1h-1zM49 79h2v1h-2zM60 79h3v1h-3zM49 80h3v1h-3zM53 80h2v1h-2zM56 80h1v1h-1zM60 80h1v1h-1zM49 81h2v1h-2zM52 81h1v1h-1zM57 81h3v1h-3zM51 82h2v1h-2zM59 82h2v1h-2zM53 83h1v1h-1zM57 83h1v1h-1zM60 83h2v1h-2zM61 84h2v1h-2zM57 85h2v1h-2zM61 85h1v1h-1zM59 86h1v1h-1zM51 88h1v1h-1zM53 88h1v1h-1zM59 88h1v1h-1zM50 89h1v1h-1zM59 89h1v1h-1zM49 90h1v1h-1zM51 90h1v1h-1zM55 90h2v1h-2zM58 90h1v1h-1zM55 91h1v1h-1zM58 91h1v1h-1zM60 94h1v1h-1zM50 95h1v1h-1zM46 96h1v1h-1zM49 96h1v1h-1zM45 98h1v1h-1zM45 99h1v1h-1zM60 99h1v1h-1z"/><path fill="#faba39" d="M56 0h1v1h-1zM58 0h1v1h-1zM60 0h1v1h-1zM57 1h1v1h-1zM56 2h1v1h-1zM55 3h1v1h-1zM55 4h2v1h-2zM54 5h1v1h-1zM57 5h1v1h-1zM37 6h1v1h-1zM39 6h1v1h-1zM27 7h2v1h-2zM39 7h2v1h-2zM57 7h1v1h-1zM27 8h2v1h-2zM38 8h3v1h-3zM56 8h1v1h-1zM26 9h1v1h-1zM55 9h1v1h-1zM26 10h1v1h-1zM29 10h1v1h-1zM38 10h1v1h-1zM54 10h1v1h-1zM29 11h1v1h-1zM38 11h1v1h-1zM54 11h1v1h-1zM30 12h1v1h-1zM39 12h2v1h-2zM45 12h1v1h-1zM29 13h1v1h-1zM44 13h1v1h-1zM54 13h1v1h-1zM29 14h1v1h-1zM29 15h1v1h-1zM30 16h1v1h-1zM27 17h1v1h-1zM29 17h1v1h-1zM47 26h1v1h-1zM47 27h1v1h-1zM49 27h2v1h-2zM45 28h5v1h-5zM46 29h4v1h-4zM51 29h1v1h-1zM38 30h1v1h-1zM44 30h1v1h-1zM46 30h1v1h-1zM49 30h2v1h-2zM38 31h2v1h-2zM41 31h1v1h-1zM43 31h1v1h-1zM51 31h6v1h-6zM58 31h1v1h-1zM42 32h1v1h-1zM52 32h2v1h-2zM59 32h2v1h-2zM40 33h2v1h-2zM51 33h1v1h-1zM61 33h2v1h-2zM51 34h1v1h-1zM62 34h1v1h-1zM60 35h1v1h-1zM62 35h2v1h-2zM61 36h2v1h-2zM62 37h1v1h-1zM40 38h1v1h-1zM63 38h1v1h-1zM33 39h1v1h-1zM65 39h1v1h-1zM66 40h1v1h-1zM31 41h3v1h-3zM68 41h1v1h-1zM31 42h2v1h-2zM68 42h2v1h-2zM30 44h1v1h-1zM35 44h1v1h-1zM69 45h1v1h-1zM12 46h1v1h-1zM26 46h1v1h-1zM69 46h1v1h-1zM12 47h1v1h-1zM15 47h1v1h-1zM27 47h3v1h-3zM69 47h1v1h-1zM10 48h3v1h-3zM14 48h1v1h-1zM18 48h3v1h-3zM22 48h2v1h-2zM28 48h2v1h-2zM69 48h1v1h-1zM15 49h3v1h-3zM19 49h2v1h-2zM46 49h1v1h-1zM19 50h1v1h-1zM36 50h1v1h-1zM42 50h1v1h-1zM35 51h2v1h-2zM70 51h1v1h-1zM35 52h2v1h-2zM45 52h1v1h-1zM36 53h1v1h-1zM45 53h1v1h-1zM72 53h1v1h-1zM16 54h1v1h-1zM26 55h1v1h-1zM19 56h1v1h-1zM25 56h1v1h-1zM27 56h2v1h-2zM20 57h2v1h-2zM25 57h4v1h-4zM24 58h1v1h-1zM28 58h1v1h-1zM75 58h1v1h-1zM31 59h1v1h-1zM76 59h1v1h-1zM77 60h1v1h-1zM35 61h1v1h-1zM77 61h1v1h-1zM76 62h3v1h-3zM82 62h1v1h-1zM36 63h1v1h-1zM76 63h1v1h-1zM80 63h1v1h-1zM82 63h1v1h-1zM76 64h1v1h-1zM81 64h2v1h-2zM36 65h1v1h-1zM76 65h1v1h-1zM81 65h2v1h-2zM36 66h1v1h-1zM75 66h2v1h-2zM80 66h2v1h-2zM36 67h1v1h-1zM73 67h3v1h-3zM36 68h1v1h-1zM73 68h1v1h-1zM64 69h2v1h-2zM67 69h1v1h-1zM73 69h1v1h-1zM38 71h3v1h-3zM63 71h1v1h-1zM40 72h1v1h-1zM43 72h1v1h-1zM41 73h2v1h-2zM45 73h1v1h-1zM63 73h1v1h-1zM40 74h1v1h-1zM46 74h1v1h-1zM63 74h1v1h-1zM48 75h1v1h-1zM62 75h2v1h-2zM38 76h3v1h-3zM48 76h1v1h-1zM62 76h1v1h-1zM38 77h1v1h-1zM49 77h1v1h-1zM61 77h2v1h-2zM62 78h2v1h-2zM48 79h1v1h-1zM63 79h1v1h-1zM53 81h2v1h-2zM56 81h1v1h-1zM54 82h2v1h-2zM57 82h1v1h-1zM27 83h1v1h-1zM50 83h2v1h-2zM54 83h3v1h-3zM27 84h1v1h-1zM50 84h1v1h-1zM62 85h1v1h-1zM27 86h1v1h-1zM61 86h2v1h-2zM61 87h2v1h-2zM60 89h1v1h-1zM50 90h1v1h-1zM59 90h1v1h-1zM50 91h1v1h-1zM59 91h1v1h-1zM60 92h1v1h-1zM60 93h1v1h-1zM49 94h2v1h-2zM46 95h4v1h-4zM60 95h1v1h-1zM45 96h1v1h-1zM60 96h1v1h-1zM45 97h1v1h-1zM60 97h2v1h-2zM60 98h1v1h-1zM61 99h1v1h-1z"/><path fill="#f5c53a" d="M59 0h1v1h-1zM61 0h1v1h-1zM58 1h2v1h-2zM61 1h1v1h-1zM33 2h1v1h-1zM58 2h3v1h-3zM19 3h2v1h-2zM56 3h3v1h-3zM19 4h2v1h-2zM57 4h2v1h-2zM35 5h1v1h-1zM56 5h1v1h-1zM27 6h2v1h-2zM35 6h2v1h-2zM38 6h1v1h-1zM58 6h1v1h-1zM29 7h1v1h-1zM36 7h2v1h-2zM58 7h1v1h-1zM29 8h2v1h-2zM37 8h1v1h-1zM57 8h1v1h-1zM28 9h2v1h-2zM37 9h1v1h-1zM56 9h2v1h-2zM55 10h2v1h-2zM25 11h1v1h-1zM30 11h1v1h-1zM55 11h1v1h-1zM38 12h1v1h-1zM54 12h1v1h-1zM30 13h1v1h-1zM39 13h3v1h-3zM43 13h1v1h-1zM31 14h1v1h-1zM43 14h1v1h-1zM54 14h1v1h-1zM30 15h1v1h-1zM30 17h1v1h-1zM48 22h1v1h-1zM48 23h1v1h-1zM46 25h1v1h-1zM46 26h1v1h-1zM48 26h1v1h-1zM52 26h1v1h-1zM45 27h2v1h-2zM48 27h1v1h-1zM53 27h1v1h-1zM43 28h1v1h-1zM51 28h1v1h-1zM53 28h2v1h-2zM36 29h1v1h-1zM43 29h3v1h-3zM52 29h3v1h-3zM39 30h1v1h-1zM41 30h3v1h-3zM45 30h1v1h-1zM51 30h1v1h-1zM53 30h6v1h-6zM40 31h1v1h-1zM42 31h1v1h-1zM59 31h2v1h-2zM40 32h2v1h-2zM61 32h1v1h-1zM63 33h1v1h-1zM63 34h1v1h-1zM35 35h1v1h-1zM63 36h1v1h-1zM33 37h1v1h-1zM32 38h2v1h-2zM32 39h1v1h-1zM31 40h3v1h-3zM67 40h1v1h-1zM67 41h1v1h-1zM70 45h1v1h-1zM10 46h2v1h-2zM13 46h2v1h-2zM24 46h2v1h-2zM27 46h1v1h-1zM10 47h1v1h-1zM22 47h2v1h-2zM15 48h1v1h-1zM17 48h1v1h-1zM11 49h4v1h-4zM18 49h1v1h-1zM12 50h1v1h-1zM15 50h1v1h-1zM15 51h1v1h-1zM72 52h1v1h-1zM16 55h2v1h-2zM27 55h1v1h-1zM17 56h2v1h-2zM19 57h1v1h-1zM75 57h1v1h-1zM21 58h1v1h-1zM29 58h1v1h-1zM76 58h1v1h-1zM22 59h2v1h-2zM32 59h2v1h-2zM77 59h1v1h-1zM34 60h1v1h-1zM82 60h2v1h-2zM79 61h1v1h-1zM82 61h3v1h-3zM35 62h1v1h-1zM79 62h3v1h-3zM83 62h1v1h-1zM77 63h3v1h-3zM81 63h1v1h-1zM83 63h1v1h-1zM35 64h1v1h-1zM79 64h2v1h-2zM80 65h1v1h-1zM77 66h1v1h-1zM82 66h1v1h-1zM76 67h2v1h-2zM81 67h1v1h-1zM74 68h2v1h-2zM77 68h1v1h-1zM79 68h1v1h-1zM36 69h1v1h-1zM66 69h1v1h-1zM72 69h1v1h-1zM74 69h2v1h-2zM37 70h2v1h-2zM64 70h2v1h-2zM72 70h1v1h-1zM74 70h2v1h-2zM37 71h1v1h-1zM64 71h1v1h-1zM72 71h1v1h-1zM74 71h1v1h-1zM38 72h2v1h-2zM41 72h2v1h-2zM64 72h1v1h-1zM37 73h1v1h-1zM39 73h2v1h-2zM43 73h2v1h-2zM64 73h1v1h-1zM38 74h1v1h-1zM41 74h4v1h-4zM47 74h1v1h-1zM64 74h1v1h-1zM39 75h1v1h-1zM41 75h2v1h-2zM47 75h1v1h-1zM41 76h3v1h-3zM63 76h2v1h-2zM41 77h1v1h-1zM48 77h1v1h-1zM63 77h1v1h-1zM38 78h1v1h-1zM47 78h2v1h-2zM43 79h1v1h-1zM45 79h1v1h-1zM47 79h1v1h-1zM61 80h3v1h-3zM55 81h1v1h-1zM60 81h1v1h-1zM63 81h2v1h-2zM56 82h1v1h-1zM62 83h2v1h-2zM26 84h1v1h-1zM26 85h3v1h-3zM26 86h1v1h-1zM28 86h1v1h-1zM28 87h2v1h-2zM63 87h1v1h-1zM60 88h3v1h-3zM64 88h1v1h-1zM62 89h1v1h-1zM48 90h1v1h-1zM60 90h1v1h-1zM48 91h2v1h-2zM60 91h1v1h-1zM49 92h2v1h-2zM50 93h1v1h-1zM61 93h1v1h-1zM46 94h1v1h-1zM48 94h1v1h-1zM61 94h1v1h-1zM61 96h1v1h-1zM44 97h1v1h-1zM44 98h1v1h-1zM61 98h1v1h-1z"/><path fill="#eecf3a" d="M62 0h1v1h-1zM60 1h1v1h-1zM61 2h1v1h-1zM33 3h2v1h-2zM59 3h1v1h-1zM18 4h1v1h-1zM27 4h2v1h-2zM34 4h1v1h-1zM59 4h1v1h-1zM19 5h1v1h-1zM26 5h1v1h-1zM28 5h1v1h-1zM34 5h1v1h-1zM58 5h2v1h-2zM26 6h1v1h-1zM29 6h1v1h-1zM34 6h1v1h-1zM59 6h1v1h-1zM35 7h1v1h-1zM38 7h1v1h-1zM23 8h1v1h-1zM33 8h1v1h-1zM36 8h1v1h-1zM58 8h2v1h-2zM30 9h2v1h-2zM38 9h1v1h-1zM58 9h1v1h-1zM25 10h1v1h-1zM30 10h2v1h-2zM37 10h1v1h-1zM57 10h2v1h-2zM31 11h1v1h-1zM37 11h1v1h-1zM56 11h1v1h-1zM24 12h1v1h-1zM31 12h2v1h-2zM37 12h1v1h-1zM55 12h1v1h-1zM31 13h1v1h-1zM42 13h1v1h-1zM55 13h1v1h-1zM30 14h1v1h-1zM31 15h1v1h-1zM31 16h1v1h-1zM32 17h1v1h-1zM28 18h2v1h-2zM49 21h1v1h-1zM47 22h1v1h-1zM47 23h1v1h-1zM46 24h4v1h-4zM47 25h1v1h-1zM20 26h3v1h-3zM45 26h1v1h-1zM49 26h3v1h-3zM53 26h1v1h-1zM22 27h1v1h-1zM40 27h2v1h-2zM51 27h2v1h-2zM54 27h1v1h-1zM42 28h1v1h-1zM52 28h1v1h-1zM40 29h3v1h-3zM55 29h1v1h-1zM36 30h1v1h-1zM40 30h1v1h-1zM52 30h1v1h-1zM59 30h1v1h-1zM37 31h1v1h-1zM61 31h2v1h-2zM62 32h1v1h-1zM32 37h1v1h-1zM63 37h1v1h-1zM64 38h1v1h-1zM66 39h2v1h-2zM11 45h1v1h-1zM27 45h1v1h-1zM9 46h1v1h-1zM15 46h1v1h-1zM23 46h1v1h-1zM71 46h1v1h-1zM18 47h4v1h-4zM8 48h1v1h-1zM70 48h1v1h-1zM6 49h1v1h-1zM8 49h1v1h-1zM10 49h1v1h-1zM11 50h1v1h-1zM13 50h2v1h-2zM15 52h1v1h-1zM15 53h1v1h-1zM14 54h2v1h-2zM15 56h2v1h-2zM26 56h1v1h-1zM15 57h1v1h-1zM18 57h1v1h-1zM76 57h1v1h-1zM20 58h1v1h-1zM25 58h3v1h-3zM21 59h1v1h-1zM25 59h1v1h-1zM27 59h4v1h-4zM22 60h1v1h-1zM33 60h1v1h-1zM78 60h1v1h-1zM84 60h1v1h-1zM78 61h1v1h-1zM80 61h2v1h-2zM85 61h2v1h-2zM84 62h3v1h-3zM35 63h1v1h-1zM86 63h2v1h-2zM77 64h2v1h-2zM83 64h1v1h-1zM35 65h1v1h-1zM77 65h3v1h-3zM83 65h1v1h-1zM35 66h1v1h-1zM79 66h1v1h-1zM83 66h1v1h-1zM78 67h3v1h-3zM82 67h1v1h-1zM76 68h1v1h-1zM78 68h1v1h-1zM80 68h2v1h-2zM76 69h4v1h-4zM66 70h2v1h-2zM70 70h1v1h-1zM73 70h1v1h-1zM76 70h3v1h-3zM65 71h1v1h-1zM71 71h1v1h-1zM73 71h1v1h-1zM76 71h1v1h-1zM37 72h1v1h-1zM65 72h1v1h-1zM72 72h4v1h-4zM38 73h1v1h-1zM71 73h1v1h-1zM73 73h2v1h-2zM37 74h1v1h-1zM39 74h1v1h-1zM45 74h1v1h-1zM37 75h2v1h-2zM43 75h2v1h-2zM64 75h1v1h-1zM36 76h2v1h-2zM44 76h1v1h-1zM47 76h1v1h-1zM36 77h2v1h-2zM39 77h2v1h-2zM42 77h6v1h-6zM64 77h1v1h-1zM37 78h1v1h-1zM39 78h6v1h-6zM46 78h1v1h-1zM38 79h1v1h-1zM40 79h3v1h-3zM44 79h1v1h-1zM46 79h1v1h-1zM64 79h1v1h-1zM64 80h1v1h-1zM37 81h1v1h-1zM61 81h2v1h-2zM27 82h1v1h-1zM37 82h2v1h-2zM61 82h4v1h-4zM26 83h1v1h-1zM28 83h1v1h-1zM28 84h1v1h-1zM63 84h1v1h-1zM29 85h1v1h-1zM63 85h1v1h-1zM29 86h1v1h-1zM63 86h1v1h-1zM64 87h1v1h-1zM63 88h1v1h-1zM28 89h1v1h-1zM61 89h1v1h-1zM64 89h1v1h-1zM61 90h1v1h-1zM61 91h1v1h-1zM48 92h1v1h-1zM61 92h1v1h-1zM47 93h1v1h-1zM49 93h1v1h-1zM62 93h1v1h-1zM47 94h1v1h-1zM62 94h1v1h-1zM61 95h1v1h-1zM44 96h1v1h-1zM62 98h1v1h-1zM44 99h1v1h-1zM62 99h1v1h-1z"/><path fill="#6dfe62" d="M67 0h2v1h-2zM8 1h1v1h-1zM66 17h2v1h-2zM68 18h1v1h-1zM25 21h1v1h-1zM28 21h1v1h-1zM30 21h1v1h-1zM62 21h1v1h-1zM25 22h1v1h-1zM31 22h1v1h-1zM25 23h2v1h-2zM65 23h1v1h-1zM65 24h1v1h-1zM61 25h1v1h-1zM6 27h1v1h-1zM62 27h1v1h-1zM5 28h1v1h-1zM4 29h1v1h-1zM4 30h1v1h-1zM9 30h1v1h-1zM0 31h4v1h-4zM9 31h1v1h-1zM0 32h3v1h-3zM4 32h1v1h-1zM32 32h1v1h-1zM0 33h1v1h-1zM4 33h2v1h-2zM10 33h2v1h-2zM6 34h1v1h-1zM9 34h6v1h-6zM13 35h5v1h-5zM15 36h1v1h-1zM18 36h1v1h-1zM94 37h1v1h-1zM96 37h1v1h-1zM99 61h1v1h-1zM95 63h1v1h-1zM89 67h1v1h-1zM89 68h1v1h-1zM88 70h1v1h-1zM87 71h1v1h-1zM86 72h1v1h-1zM85 73h1v1h-1zM11 74h1v1h-1zM84 74h1v1h-1zM28 75h2v1h-2zM84 77h1v1h-1zM80 82h2v1h-2zM82 83h1v1h-1zM81 84h2v1h-2zM81 86h1v1h-1zM81 87h1v1h-1zM82 88h1v1h-1zM16 89h1v1h-1zM83 89h1v1h-1zM14 91h1v1h-1zM36 92h1v1h-1zM82 92h2v1h-2zM82 93h1v1h-1zM81 94h1v1h-1zM82 95h1v1h-1zM11 97h1v1h-1zM79 97h2v1h-2zM76 98h1v1h-1zM78 98h2v1h-2zM81 98h3v1h-3zM78 99h6v1h-6z"/><path fill="#59fb73" d="M69 0h1v1h-1zM97 0h1v1h-1zM68 1h1v1h-1zM67 18h1v1h-1zM26 22h5v1h-5zM63 22h1v1h-1zM27 23h1v1h-1zM63 23h1v1h-1zM64 26h1v1h-1zM5 27h1v1h-1zM65 27h1v1h-1zM5 29h1v1h-1zM8 29h1v1h-1zM4 31h2v1h-2zM5 32h1v1h-1zM9 32h1v1h-1zM9 33h1v1h-1zM93 64h1v1h-1zM92 65h1v1h-1zM90 67h1v1h-1zM89 69h1v1h-1zM88 71h1v1h-1zM87 72h1v1h-1zM86 73h1v1h-1zM84 75h1v1h-1zM84 76h1v1h-1zM84 78h1v1h-1zM84 79h1v1h-1zM83 80h1v1h-1zM82 81h1v1h-1zM82 82h1v1h-1zM83 83h1v1h-1zM83 84h1v1h-1zM82 85h1v1h-1zM82 87h1v1h-1zM83 88h1v1h-1zM83 90h1v1h-1zM83 91h1v1h-1zM93 92h1v1h-1zM83 93h1v1h-1zM79 94h1v1h-1zM82 94h2v1h-2zM80 95h2v1h-2zM81 96h2v1h-2zM81 97h3v1h-3zM77 98h1v1h-1zM76 99h1v1h-1zM84 99h1v1h-1z"/><path fill="#46f884" d="M96 0h1v1h-1zM98 0h1v1h-1zM98 1h1v1h-1zM27 21h1v1h-1zM63 24h2v1h-2zM64 25h1v1h-1zM63 27h2v1h-2zM5 30h1v1h-1zM8 30h1v1h-1zM6 31h1v1h-1zM8 31h1v1h-1zM6 33h1v1h-1zM97 62h2v1h-2zM94 64h1v1h-1zM91 66h1v1h-1zM90 68h1v1h-1zM89 70h1v1h-1zM87 73h1v1h-1zM85 74h1v1h-1zM84 80h1v1h-1zM83 82h2v1h-2zM84 83h1v1h-1zM84 84h1v1h-1zM83 85h1v1h-1zM82 86h1v1h-1zM83 87h1v1h-1zM84 90h1v1h-1zM84 91h1v1h-1zM93 91h1v1h-1zM84 92h1v1h-1zM92 92h1v1h-1zM84 93h1v1h-1zM83 96h1v1h-1zM84 97h1v1h-1zM84 98h1v1h-1zM77 99h1v1h-1z"/><path fill="#35f394" d="M99 0h1v1h-1zM96 1h2v1h-2zM99 1h1v1h-1zM97 2h3v1h-3zM7 31h1v1h-1zM6 32h1v1h-1zM85 47h1v1h-1zM99 62h1v1h-1zM96 63h2v1h-2zM95 64h1v1h-1zM91 67h1v1h-1zM89 71h1v1h-1zM88 72h1v1h-1zM88 73h1v1h-1zM86 74h1v1h-1zM85 75h1v1h-1zM85 77h1v1h-1zM85 78h1v1h-1zM83 81h2v1h-2zM85 83h1v1h-1zM85 84h1v1h-1zM84 85h2v1h-2zM83 86h2v1h-2zM84 87h1v1h-1zM84 88h1v1h-1zM84 89h1v1h-1zM91 91h2v1h-2zM85 92h1v1h-1zM91 92h1v1h-1zM85 93h1v1h-1zM92 93h2v1h-2zM84 94h1v1h-1zM83 95h2v1h-2zM84 96h1v1h-1zM85 99h1v1h-1z"/><path fill="#d2e935" d="M2 1h1v1h-1zM63 1h1v1h-1zM3 2h1v1h-1zM12 2h3v1h-3zM3 3h1v1h-1zM12 3h1v1h-1zM63 3h1v1h-1zM3 4h1v1h-1zM15 4h1v1h-1zM63 4h1v1h-1zM4 5h1v1h-1zM31 5h1v1h-1zM15 7h1v1h-1zM17 7h2v1h-2zM13 8h4v1h-4zM19 8h1v1h-1zM11 9h4v1h-4zM18 9h2v1h-2zM10 10h1v1h-1zM12 10h1v1h-1zM17 10h1v1h-1zM19 10h1v1h-1zM34 10h1v1h-1zM10 11h1v1h-1zM16 11h2v1h-2zM20 11h2v1h-2zM34 11h1v1h-1zM9 12h2v1h-2zM17 12h2v1h-2zM21 12h1v1h-1zM10 13h1v1h-1zM17 13h1v1h-1zM20 13h1v1h-1zM9 14h1v1h-1zM22 14h1v1h-1zM37 14h2v1h-2zM6 15h3v1h-3zM23 15h1v1h-1zM40 15h1v1h-1zM0 16h2v1h-2zM8 16h1v1h-1zM34 16h1v1h-1zM40 16h1v1h-1zM1 17h1v1h-1zM3 17h2v1h-2zM14 17h1v1h-1zM1 18h2v1h-2zM4 18h1v1h-1zM13 18h3v1h-3zM46 18h1v1h-1zM2 19h1v1h-1zM29 19h1v1h-1zM46 19h1v1h-1zM14 20h1v1h-1zM45 22h1v1h-1zM51 22h1v1h-1zM69 22h1v1h-1zM16 23h2v1h-2zM45 23h1v1h-1zM52 23h3v1h-3zM56 23h1v1h-1zM16 24h1v1h-1zM18 24h1v1h-1zM45 24h1v1h-1zM54 24h3v1h-3zM17 25h2v1h-2zM55 25h2v1h-2zM15 26h1v1h-1zM41 26h1v1h-1zM43 26h1v1h-1zM56 26h1v1h-1zM15 27h2v1h-2zM57 27h1v1h-1zM17 28h2v1h-2zM21 28h1v1h-1zM58 28h1v1h-1zM72 28h1v1h-1zM17 29h1v1h-1zM22 29h2v1h-2zM21 31h1v1h-1zM36 31h1v1h-1zM63 31h1v1h-1zM66 38h3v1h-3zM68 39h1v1h-1zM5 43h3v1h-3zM10 43h3v1h-3zM4 44h4v1h-4zM9 44h1v1h-1zM11 44h1v1h-1zM13 44h1v1h-1zM24 44h1v1h-1zM26 44h1v1h-1zM1 45h2v1h-2zM4 45h5v1h-5zM23 45h1v1h-1zM0 46h4v1h-4zM6 46h3v1h-3zM2 47h2v1h-2zM0 48h3v1h-3zM0 49h1v1h-1zM2 50h2v1h-2zM0 51h1v1h-1zM2 51h1v1h-1zM8 51h1v1h-1zM74 51h1v1h-1zM1 52h1v1h-1zM3 52h1v1h-1zM7 52h2v1h-2zM4 53h4v1h-4zM9 53h2v1h-2zM7 54h2v1h-2zM5 55h1v1h-1zM7 55h1v1h-1zM12 55h1v1h-1zM5 56h1v1h-1zM7 56h1v1h-1zM9 56h4v1h-4zM99 56h1v1h-1zM6 57h4v1h-4zM12 57h1v1h-1zM99 57h1v1h-1zM7 58h1v1h-1zM9 58h2v1h-2zM12 58h1v1h-1zM12 59h4v1h-4zM17 59h1v1h-1zM17 60h2v1h-2zM92 60h1v1h-1zM16 61h2v1h-2zM19 61h2v1h-2zM24 61h1v1h-1zM27 61h6v1h-6zM90 61h2v1h-2zM19 62h2v1h-2zM89 62h3v1h-3zM88 63h2v1h-2zM19 64h1v1h-1zM20 65h1v1h-1zM87 65h1v1h-1zM16 66h2v1h-2zM20 66h1v1h-1zM14 67h4v1h-4zM14 68h6v1h-6zM84 68h1v1h-1zM16 69h1v1h-1zM20 69h1v1h-1zM84 69h1v1h-1zM16 70h4v1h-4zM22 70h1v1h-1zM25 70h1v1h-1zM81 70h2v1h-2zM16 71h1v1h-1zM19 71h2v1h-2zM25 71h1v1h-1zM80 71h2v1h-2zM19 72h2v1h-2zM24 72h1v1h-1zM67 72h1v1h-1zM80 72h1v1h-1zM20 73h2v1h-2zM35 73h1v1h-1zM66 73h2v1h-2zM77 73h2v1h-2zM19 74h1v1h-1zM35 74h1v1h-1zM69 74h1v1h-1zM78 74h3v1h-3zM17 75h1v1h-1zM19 75h1v1h-1zM22 75h1v1h-1zM35 75h1v1h-1zM66 75h1v1h-1zM68 75h1v1h-1zM70 75h1v1h-1zM77 75h2v1h-2zM16 76h1v1h-1zM18 76h2v1h-2zM75 76h1v1h-1zM16 77h1v1h-1zM19 77h3v1h-3zM77 77h1v1h-1zM20 78h1v1h-1zM23 78h1v1h-1zM67 78h1v1h-1zM76 78h1v1h-1zM20 79h1v1h-1zM26 79h1v1h-1zM67 79h1v1h-1zM74 79h2v1h-2zM77 79h1v1h-1zM6 80h1v1h-1zM8 80h1v1h-1zM25 80h1v1h-1zM35 80h1v1h-1zM67 80h2v1h-2zM75 80h2v1h-2zM6 81h2v1h-2zM24 81h2v1h-2zM28 81h1v1h-1zM34 81h2v1h-2zM69 81h1v1h-1zM77 81h1v1h-1zM24 82h1v1h-1zM34 82h1v1h-1zM68 82h1v1h-1zM24 83h1v1h-1zM30 83h1v1h-1zM34 83h1v1h-1zM68 83h2v1h-2zM23 84h1v1h-1zM30 84h1v1h-1zM68 84h1v1h-1zM71 84h1v1h-1zM24 85h1v1h-1zM34 85h2v1h-2zM65 85h2v1h-2zM24 86h1v1h-1zM34 86h2v1h-2zM66 86h1v1h-1zM25 87h1v1h-1zM25 88h1v1h-1zM32 88h1v1h-1zM66 88h1v1h-1zM0 89h1v1h-1zM25 89h1v1h-1zM31 89h2v1h-2zM66 89h1v1h-1zM25 90h1v1h-1zM33 90h1v1h-1zM66 90h1v1h-1zM24 91h2v1h-2zM33 91h1v1h-1zM64 91h2v1h-2zM27 92h3v1h-3zM32 92h1v1h-1zM64 92h1v1h-1zM30 93h2v1h-2zM27 94h1v1h-1zM30 94h1v1h-1zM63 95h2v1h-2zM63 96h2v1h-2zM63 97h1v1h-1zM0 98h1v1h-1zM41 98h1v1h-1zM0 99h2v1h-2zM41 99h1v1h-1z"/><path fill="#f9751d" d="M46 1h1v1h-1zM50 1h2v1h-2zM46 2h1v1h-1zM49 2h1v1h-1zM46 3h1v1h-1zM50 3h1v1h-1zM47 4h1v1h-1zM48 5h1v1h-1zM44 6h1v1h-1zM44 7h3v1h-3zM43 8h1v1h-1zM45 8h1v1h-1zM44 9h1v1h-1zM24 13h2v1h-2zM25 17h1v1h-1zM23 19h2v1h-2zM23 20h2v1h-2zM45 38h1v1h-1zM44 40h1v1h-1zM62 46h2v1h-2zM61 48h1v1h-1zM63 48h1v1h-1zM61 49h1v1h-1zM60 50h1v1h-1zM62 50h1v1h-1zM62 51h1v1h-1zM61 52h2v1h-2zM62 53h1v1h-1zM41 54h1v1h-1zM60 54h3v1h-3zM33 55h1v1h-1zM35 55h3v1h-3zM40 55h2v1h-2zM44 55h1v1h-1zM46 55h1v1h-1zM36 56h1v1h-1zM38 56h1v1h-1zM47 56h2v1h-2zM56 56h1v1h-1zM60 56h1v1h-1zM33 57h1v1h-1zM49 57h2v1h-2zM69 57h1v1h-1zM35 58h2v1h-2zM49 58h1v1h-1zM55 58h1v1h-1zM57 58h1v1h-1zM37 59h4v1h-4zM50 59h1v1h-1zM52 59h1v1h-1zM58 59h1v1h-1zM69 59h1v1h-1zM37 60h2v1h-2zM40 60h1v1h-1zM53 60h5v1h-5zM69 60h1v1h-1zM39 61h2v1h-2zM55 61h3v1h-3zM56 62h1v1h-1zM70 62h2v1h-2zM41 63h1v1h-1zM72 63h1v1h-1zM41 64h1v1h-1zM45 64h1v1h-1zM53 64h1v1h-1zM55 64h1v1h-1zM58 64h1v1h-1zM42 65h2v1h-2zM53 65h3v1h-3zM60 65h1v1h-1zM62 65h3v1h-3zM44 66h1v1h-1zM51 66h2v1h-2zM55 66h1v1h-1zM57 66h3v1h-3zM43 67h1v1h-1zM51 67h1v1h-1zM53 67h3v1h-3zM49 68h8v1h-8zM43 69h1v1h-1zM47 69h2v1h-2zM50 69h2v1h-2zM53 69h2v1h-2zM48 70h1v1h-1zM51 70h3v1h-3zM50 71h1v1h-1zM57 73h4v1h-4zM52 74h3v1h-3zM57 74h1v1h-1zM59 74h1v1h-1zM51 75h2v1h-2zM55 75h1v1h-1zM58 75h2v1h-2zM52 76h2v1h-2zM56 76h3v1h-3zM52 77h3v1h-3zM56 77h3v1h-3zM57 78h1v1h-1zM56 94h2v1h-2zM57 95h1v1h-1zM56 96h2v1h-2zM48 98h1v1h-1zM47 99h2v1h-2z"/><path fill="#ea4e0d" d="M48 1h1v1h-1zM45 56h1v1h-1zM42 57h1v1h-1zM42 58h2v1h-2zM47 58h1v1h-1zM62 58h2v1h-2zM42 59h1v1h-1zM63 59h2v1h-2zM42 60h1v1h-1zM49 60h1v1h-1zM42 61h1v1h-1zM49 61h3v1h-3zM61 61h2v1h-2zM42 62h3v1h-3zM50 62h1v1h-1zM61 62h3v1h-3zM46 63h2v1h-2zM63 63h1v1h-1zM47 64h4v1h-4zM47 65h2v1h-2zM46 66h2v1h-2zM47 67h1v1h-1z"/><path fill="#4687fb" d="M78 1h1v1h-1zM19 19h1v1h-1zM19 20h2v1h-2zM8 28h1v1h-1zM98 29h2v1h-2z"/><path fill="#2ab9ee" d="M79 1h1v1h-1zM98 7h2v1h-2zM35 15h1v1h-1zM18 18h1v1h-1zM6 28h2v1h-2zM7 30h1v1h-1zM7 33h1v1h-1zM75 34h1v1h-1zM7 35h2v1h-2zM95 66h3v1h-3zM94 67h2v1h-2zM94 68h2v1h-2zM95 69h2v1h-2zM94 72h1v1h-1zM94 73h2v1h-2zM93 74h1v1h-1zM95 74h5v1h-5zM96 75h1v1h-1zM99 75h1v1h-1zM97 77h3v1h-3zM98 78h1v1h-1zM97 80h3v1h-3zM94 81h2v1h-2zM97 81h2v1h-2zM94 82h5v1h-5zM93 83h3v1h-3zM98 83h2v1h-2zM95 84h1v1h-1zM96 85h2v1h-2zM95 86h2v1h-2zM92 87h1v1h-1zM96 87h1v1h-1zM94 88h2v1h-2zM97 88h3v1h-3zM95 89h2v1h-2zM98 89h1v1h-1zM98 91h1v1h-1zM99 92h1v1h-1zM99 93h1v1h-1zM98 94h2v1h-2zM98 95h2v1h-2zM95 96h2v1h-2zM99 96h1v1h-1zM98 97h2v1h-2zM96 98h3v1h-3zM96 99h1v1h-1zM98 99h2v1h-2z"/><path fill="#acfb38" d="M0 2h1v1h-1zM5 2h1v1h-1zM10 2h1v1h-1zM5 3h1v1h-1zM8 4h2v1h-2zM7 5h2v1h-2zM6 7h1v1h-1zM5 8h3v1h-3zM2 9h1v1h-1zM4 9h2v1h-2zM2 10h1v1h-1zM5 10h2v1h-2zM65 10h1v1h-1zM0 11h1v1h-1zM5 11h1v1h-1zM65 11h2v1h-2zM1 12h3v1h-3zM12 12h1v1h-1zM14 12h1v1h-1zM70 12h1v1h-1zM0 13h1v1h-1zM3 13h1v1h-1zM5 13h1v1h-1zM12 13h1v1h-1zM15 13h1v1h-1zM11 14h1v1h-1zM13 14h1v1h-1zM21 16h2v1h-2zM37 16h2v1h-2zM8 17h3v1h-3zM23 17h1v1h-1zM6 18h1v1h-1zM9 18h1v1h-1zM5 19h1v1h-1zM10 19h1v1h-1zM17 19h1v1h-1zM25 19h1v1h-1zM69 19h3v1h-3zM16 20h1v1h-1zM30 20h1v1h-1zM69 20h1v1h-1zM4 21h1v1h-1zM9 21h2v1h-2zM1 22h1v1h-1zM3 22h1v1h-1zM20 22h1v1h-1zM67 22h2v1h-2zM1 23h1v1h-1zM13 23h1v1h-1zM20 23h1v1h-1zM67 23h1v1h-1zM0 24h2v1h-2zM11 24h3v1h-3zM23 24h1v1h-1zM41 24h3v1h-3zM68 24h1v1h-1zM0 25h2v1h-2zM11 25h4v1h-4zM0 26h1v1h-1zM11 26h1v1h-1zM13 26h1v1h-1zM11 27h3v1h-3zM68 27h2v1h-2zM14 28h1v1h-1zM69 28h1v1h-1zM73 28h1v1h-1zM12 29h1v1h-1zM62 29h2v1h-2zM13 30h1v1h-1zM24 30h2v1h-2zM13 31h1v1h-1zM17 31h1v1h-1zM23 32h2v1h-2zM23 33h1v1h-1zM25 36h2v1h-2zM0 37h1v1h-1zM25 37h1v1h-1zM68 37h1v1h-1zM0 38h2v1h-2zM9 38h1v1h-1zM24 38h2v1h-2zM0 39h1v1h-1zM2 39h2v1h-2zM5 39h1v1h-1zM8 39h1v1h-1zM24 39h1v1h-1zM97 39h2v1h-2zM0 40h1v1h-1zM3 40h3v1h-3zM8 40h1v1h-1zM13 40h3v1h-3zM22 40h3v1h-3zM96 40h1v1h-1zM4 41h1v1h-1zM13 41h3v1h-3zM25 41h2v1h-2zM0 42h2v1h-2zM13 42h1v1h-1zM21 42h3v1h-3zM21 43h2v1h-2zM26 43h1v1h-1zM96 45h2v1h-2zM96 46h1v1h-1zM1 54h3v1h-3zM3 55h1v1h-1zM1 56h1v1h-1zM3 56h2v1h-2zM1 57h3v1h-3zM96 57h2v1h-2zM0 58h1v1h-1zM3 58h1v1h-1zM95 58h1v1h-1zM98 58h2v1h-2zM2 59h4v1h-4zM96 59h1v1h-1zM99 59h1v1h-1zM13 61h1v1h-1zM95 61h1v1h-1zM4 62h2v1h-2zM11 62h3v1h-3zM93 62h1v1h-1zM3 63h1v1h-1zM6 63h2v1h-2zM12 63h3v1h-3zM19 63h1v1h-1zM92 63h1v1h-1zM3 64h1v1h-1zM7 64h1v1h-1zM14 64h1v1h-1zM33 64h1v1h-1zM90 64h1v1h-1zM4 65h1v1h-1zM6 65h3v1h-3zM12 65h1v1h-1zM4 66h2v1h-2zM7 66h1v1h-1zM9 66h1v1h-1zM87 66h1v1h-1zM2 67h1v1h-1zM4 67h2v1h-2zM8 67h1v1h-1zM10 67h2v1h-2zM33 67h1v1h-1zM88 67h1v1h-1zM4 68h3v1h-3zM9 68h1v1h-1zM11 68h2v1h-2zM33 68h1v1h-1zM5 69h1v1h-1zM9 69h1v1h-1zM33 69h1v1h-1zM87 69h1v1h-1zM0 70h1v1h-1zM4 70h1v1h-1zM9 70h2v1h-2zM14 70h1v1h-1zM85 70h1v1h-1zM0 71h1v1h-1zM5 71h1v1h-1zM14 71h1v1h-1zM34 71h1v1h-1zM84 71h1v1h-1zM6 72h2v1h-2zM9 72h1v1h-1zM15 72h1v1h-1zM27 72h1v1h-1zM34 72h1v1h-1zM83 72h1v1h-1zM7 73h1v1h-1zM9 73h1v1h-1zM0 74h1v1h-1zM2 74h1v1h-1zM81 74h2v1h-2zM1 75h2v1h-2zM25 75h1v1h-1zM33 75h1v1h-1zM81 75h2v1h-2zM0 76h5v1h-5zM7 76h1v1h-1zM10 76h1v1h-1zM15 76h1v1h-1zM24 76h2v1h-2zM33 76h1v1h-1zM80 76h3v1h-3zM0 77h2v1h-2zM5 77h1v1h-1zM7 77h2v1h-2zM25 77h1v1h-1zM30 77h4v1h-4zM70 77h1v1h-1zM79 77h1v1h-1zM81 77h1v1h-1zM1 78h1v1h-1zM3 78h1v1h-1zM5 78h1v1h-1zM9 78h1v1h-1zM13 78h1v1h-1zM27 78h1v1h-1zM29 78h1v1h-1zM32 78h2v1h-2zM68 78h1v1h-1zM70 78h1v1h-1zM82 78h1v1h-1zM0 79h1v1h-1zM2 79h1v1h-1zM10 79h2v1h-2zM15 79h1v1h-1zM30 79h1v1h-1zM32 79h2v1h-2zM79 79h1v1h-1zM1 80h4v1h-4zM10 80h1v1h-1zM14 80h2v1h-2zM17 80h1v1h-1zM30 80h1v1h-1zM79 80h1v1h-1zM0 81h1v1h-1zM2 81h1v1h-1zM11 81h2v1h-2zM14 81h8v1h-8zM71 81h2v1h-2zM0 82h1v1h-1zM2 82h2v1h-2zM10 82h1v1h-1zM13 82h6v1h-6zM20 82h3v1h-3zM72 82h1v1h-1zM76 82h1v1h-1zM78 82h1v1h-1zM0 83h2v1h-2zM11 83h1v1h-1zM16 83h1v1h-1zM72 83h2v1h-2zM75 83h1v1h-1zM78 83h2v1h-2zM0 84h5v1h-5zM10 84h1v1h-1zM15 84h1v1h-1zM22 84h1v1h-1zM73 84h1v1h-1zM1 85h1v1h-1zM3 85h3v1h-3zM9 85h2v1h-2zM19 85h1v1h-1zM21 85h1v1h-1zM78 85h1v1h-1zM1 86h1v1h-1zM3 86h1v1h-1zM5 86h1v1h-1zM8 86h1v1h-1zM17 86h5v1h-5zM74 86h1v1h-1zM76 86h2v1h-2zM0 87h1v1h-1zM6 87h3v1h-3zM11 87h2v1h-2zM19 87h4v1h-4zM68 87h4v1h-4zM75 87h1v1h-1zM77 87h2v1h-2zM11 88h1v1h-1zM21 88h2v1h-2zM69 88h1v1h-1zM76 88h3v1h-3zM3 89h2v1h-2zM10 89h1v1h-1zM12 89h1v1h-1zM69 89h2v1h-2zM75 89h5v1h-5zM4 90h2v1h-2zM10 90h3v1h-3zM19 90h2v1h-2zM35 90h1v1h-1zM3 91h1v1h-1zM5 91h8v1h-8zM20 91h2v1h-2zM68 91h1v1h-1zM70 91h2v1h-2zM75 91h1v1h-1zM78 91h1v1h-1zM9 92h2v1h-2zM17 92h2v1h-2zM21 92h1v1h-1zM71 92h6v1h-6zM0 93h5v1h-5zM8 93h1v1h-1zM10 93h1v1h-1zM19 93h1v1h-1zM23 93h1v1h-1zM70 93h3v1h-3zM75 93h2v1h-2zM0 94h4v1h-4zM6 94h2v1h-2zM18 94h1v1h-1zM20 94h4v1h-4zM33 94h1v1h-1zM66 94h1v1h-1zM73 94h1v1h-1zM75 94h2v1h-2zM24 95h1v1h-1zM30 95h2v1h-2zM68 95h1v1h-1zM71 95h6v1h-6zM0 96h1v1h-1zM2 96h1v1h-1zM7 96h1v1h-1zM20 96h4v1h-4zM26 96h1v1h-1zM68 96h1v1h-1zM71 96h4v1h-4zM1 97h1v1h-1zM8 97h1v1h-1zM14 97h1v1h-1zM22 97h1v1h-1zM24 97h1v1h-1zM26 97h1v1h-1zM30 97h2v1h-2zM33 97h2v1h-2zM69 97h1v1h-1zM4 98h1v1h-1zM8 98h1v1h-1zM13 98h1v1h-1zM15 98h2v1h-2zM27 98h2v1h-2zM30 98h1v1h-1zM33 98h1v1h-1zM65 98h1v1h-1zM67 98h1v1h-1zM69 98h2v1h-2zM4 99h2v1h-2zM9 99h1v1h-1zM13 99h2v1h-2zM17 99h1v1h-1zM24 99h2v1h-2zM28 99h3v1h-3zM66 99h4v1h-4zM73 99h1v1h-1z"/><path fill="#27eea4" d="M96 2h1v1h-1zM93 3h1v1h-1zM96 3h1v1h-1zM98 3h2v1h-2zM78 35h1v1h-1zM93 65h1v1h-1zM92 66h1v1h-1zM90 69h1v1h-1zM89 72h1v1h-1zM87 74h3v1h-3zM85 76h1v1h-1zM91 78h2v1h-2zM85 79h1v1h-1zM85 80h1v1h-1zM85 81h1v1h-1zM85 82h1v1h-1zM86 83h1v1h-1zM86 84h2v1h-2zM86 85h1v1h-1zM85 86h4v1h-4zM85 88h1v1h-1zM85 89h1v1h-1zM85 90h1v1h-1zM85 91h1v1h-1zM90 92h1v1h-1zM94 92h1v1h-1zM90 93h2v1h-2zM85 94h1v1h-1zM85 95h2v1h-2zM85 96h1v1h-1zM85 97h1v1h-1zM85 98h1v1h-1zM86 99h1v1h-1z"/><path fill="#1de7b2" d="M92 3h1v1h-1zM97 3h1v1h-1zM97 4h1v1h-1zM99 4h1v1h-1zM78 36h1v1h-1zM99 63h1v1h-1zM91 68h1v1h-1zM91 69h1v1h-1zM90 70h2v1h-2zM90 71h1v1h-1zM90 72h2v1h-2zM89 73h2v1h-2zM90 74h1v1h-1zM86 75h3v1h-3zM86 76h1v1h-1zM90 76h1v1h-1zM86 77h1v1h-1zM90 77h3v1h-3zM86 78h1v1h-1zM90 78h1v1h-1zM93 78h1v1h-1zM86 79h1v1h-1zM92 79h1v1h-1zM86 80h1v1h-1zM86 81h1v1h-1zM86 82h1v1h-1zM89 82h1v1h-1zM87 83h2v1h-2zM89 84h1v1h-1zM87 85h2v1h-2zM85 87h5v1h-5zM86 90h1v1h-1zM90 90h4v1h-4zM86 92h1v1h-1zM87 93h1v1h-1zM89 93h1v1h-1zM94 93h2v1h-2zM88 94h1v1h-1zM90 94h3v1h-3zM94 94h1v1h-1zM88 95h3v1h-3zM92 95h1v1h-1zM86 96h4v1h-4zM86 97h2v1h-2zM86 98h1v1h-1z"/><path fill="#18e0bd" d="M96 4h1v1h-1zM98 4h1v1h-1zM98 5h2v1h-2zM77 34h1v1h-1zM86 48h1v1h-1zM98 63h1v1h-1zM96 64h2v1h-2zM94 65h1v1h-1zM92 67h1v1h-1zM92 69h1v1h-1zM92 70h1v1h-1zM91 71h2v1h-2zM91 73h1v1h-1zM89 75h1v1h-1zM87 76h3v1h-3zM92 76h1v1h-1zM87 77h3v1h-3zM93 77h2v1h-2zM87 78h1v1h-1zM89 78h1v1h-1zM94 78h1v1h-1zM87 79h5v1h-5zM94 79h1v1h-1zM87 80h1v1h-1zM89 80h1v1h-1zM87 81h2v1h-2zM87 82h2v1h-2zM89 83h2v1h-2zM90 84h1v1h-1zM89 85h1v1h-1zM89 86h1v1h-1zM86 88h2v1h-2zM89 88h1v1h-1zM86 89h1v1h-1zM89 89h2v1h-2zM86 91h1v1h-1zM88 91h3v1h-3zM87 92h1v1h-1zM89 92h1v1h-1zM95 92h2v1h-2zM86 93h1v1h-1zM88 93h1v1h-1zM86 94h2v1h-2zM89 94h1v1h-1zM93 94h1v1h-1zM87 95h1v1h-1zM91 95h1v1h-1zM90 96h1v1h-1zM88 97h3v1h-3zM87 98h3v1h-3zM91 98h1v1h-1zM87 99h1v1h-1zM90 99h3v1h-3z"/><path fill="#18d9c8" d="M95 5h3v1h-3zM98 6h2v1h-2zM77 32h1v1h-1zM77 35h1v1h-1zM85 48h1v1h-1zM98 64h2v1h-2zM95 65h2v1h-2zM92 68h1v1h-1zM93 69h1v1h-1zM92 72h1v1h-1zM91 74h1v1h-1zM90 75h2v1h-2zM91 76h1v1h-1zM94 76h1v1h-1zM95 77h1v1h-1zM88 78h1v1h-1zM95 78h1v1h-1zM93 79h1v1h-1zM88 80h1v1h-1zM90 80h3v1h-3zM90 81h1v1h-1zM90 82h1v1h-1zM92 83h1v1h-1zM92 84h1v1h-1zM90 85h2v1h-2zM90 86h1v1h-1zM90 87h1v1h-1zM88 88h1v1h-1zM87 89h2v1h-2zM91 89h3v1h-3zM87 90h3v1h-3zM87 91h1v1h-1zM95 91h2v1h-2zM88 92h1v1h-1zM96 93h1v1h-1zM95 94h1v1h-1zM94 95h2v1h-2zM91 96h2v1h-2zM91 97h1v1h-1zM90 98h1v1h-1zM92 98h3v1h-3zM88 99h1v1h-1zM93 99h1v1h-1z"/><path fill="#1bd0d5" d="M96 6h2v1h-2zM35 14h2v1h-2zM93 66h1v1h-1zM93 67h1v1h-1zM93 68h1v1h-1zM93 70h2v1h-2zM93 71h2v1h-2zM93 72h1v1h-1zM92 73h1v1h-1zM92 75h3v1h-3zM93 76h1v1h-1zM95 76h1v1h-1zM96 77h1v1h-1zM96 78h1v1h-1zM95 79h1v1h-1zM93 80h2v1h-2zM96 80h1v1h-1zM89 81h1v1h-1zM91 81h2v1h-2zM91 82h1v1h-1zM91 83h1v1h-1zM91 84h1v1h-1zM93 85h1v1h-1zM91 87h1v1h-1zM90 88h2v1h-2zM93 88h1v1h-1zM94 90h2v1h-2zM97 92h1v1h-1zM97 93h1v1h-1zM96 94h1v1h-1zM93 95h1v1h-1zM92 97h1v1h-1zM89 99h1v1h-1zM94 99h1v1h-1z"/><path fill="#3ba0fd" d="M98 8h1v1h-1zM35 16h1v1h-1zM19 17h1v1h-1zM19 18h2v1h-2zM24 24h1v1h-1zM8 33h1v1h-1zM96 67h4v1h-4zM99 68h1v1h-1zM97 69h1v1h-1zM97 70h1v1h-1zM96 71h1v1h-1zM99 71h1v1h-1zM97 72h1v1h-1zM99 72h1v1h-1zM97 73h1v1h-1zM99 85h1v1h-1zM99 86h1v1h-1z"/><path fill="#4294ff" d="M99 8h1v1h-1zM11 19h1v1h-1zM20 19h1v1h-1zM97 29h1v1h-1zM7 32h1v1h-1zM98 68h1v1h-1zM98 69h2v1h-2zM98 70h2v1h-2zM97 71h2v1h-2z"/><path fill="#351e58" d="M98 10h2v1h-2zM9 22h1v1h-1zM96 29h1v1h-1zM90 42h1v1h-1zM99 54h1v1h-1z"/><path fill="#3a2d79" d="M98 11h1v1h-1zM99 12h1v1h-1zM13 22h2v1h-2z"/><path fill="#30123b" d="M99 11h1v1h-1zM21 23h1v1h-1zM90 40h1v1h-1zM90 41h1v1h-1zM86 46h1v1h-1zM86 47h1v1h-1zM99 53h1v1h-1z"/><path fill="#4249b1" d="M99 13h1v1h-1z"/><path fill="#da3907" d="M25 15h1v1h-1zM45 57h1v1h-1zM45 58h1v1h-1zM44 59h4v1h-4zM45 60h1v1h-1zM48 60h1v1h-1zM43 61h1v1h-1zM45 61h1v1h-1zM48 61h1v1h-1zM48 62h2v1h-2z"/><path fill="#22c5e2" d="M36 15h1v1h-1zM76 34h1v1h-1zM97 65h3v1h-3zM94 66h1v1h-1zM94 69h1v1h-1zM93 73h1v1h-1zM92 74h1v1h-1zM94 74h1v1h-1zM95 75h1v1h-1zM97 75h2v1h-2zM96 76h4v1h-4zM97 78h1v1h-1zM96 79h2v1h-2zM95 80h1v1h-1zM93 81h1v1h-1zM96 81h1v1h-1zM92 82h2v1h-2zM93 84h2v1h-2zM92 85h1v1h-1zM94 85h2v1h-2zM91 86h4v1h-4zM93 87h2v1h-2zM92 88h1v1h-1zM94 89h1v1h-1zM97 89h1v1h-1zM96 90h3v1h-3zM97 91h1v1h-1zM99 91h1v1h-1zM98 92h1v1h-1zM97 94h1v1h-1zM96 95h2v1h-2zM93 96h2v1h-2zM97 96h1v1h-1zM93 97h4v1h-4zM95 98h1v1h-1zM99 98h1v1h-1zM95 99h1v1h-1z"/><path fill="#e2430a" d="M25 16h1v1h-1zM44 57h1v1h-1zM46 57h1v1h-1zM63 57h1v1h-1zM44 58h1v1h-1zM46 58h1v1h-1zM43 59h1v1h-1zM48 59h1v1h-1zM62 59h1v1h-1zM43 60h2v1h-2zM62 60h2v1h-2zM44 61h1v1h-1zM63 61h1v1h-1zM45 62h3v1h-3zM51 62h2v1h-2zM48 63h3v1h-3z"/><path fill="#33adf7" d="M36 16h1v1h-1zM20 17h1v1h-1zM38 17h1v1h-1zM38 18h1v1h-1zM18 19h1v1h-1zM25 24h2v1h-2zM24 25h2v1h-2zM6 29h2v1h-2zM6 30h1v1h-1zM8 32h1v1h-1zM7 34h2v1h-2zM7 36h2v1h-2zM98 66h2v1h-2zM96 68h2v1h-2zM95 70h2v1h-2zM95 71h1v1h-1zM95 72h2v1h-2zM98 72h1v1h-1zM96 73h1v1h-1zM98 73h2v1h-2zM98 79h2v1h-2zM96 83h2v1h-2zM96 84h4v1h-4zM98 85h1v1h-1zM97 86h2v1h-2zM95 87h1v1h-1zM97 87h3v1h-3zM96 88h1v1h-1zM99 89h1v1h-1zM99 90h1v1h-1zM98 93h1v1h-1zM98 96h1v1h-1zM97 97h1v1h-1zM97 99h1v1h-1z"/><path fill="#3f3b97" d="M14 21h1v1h-1zM94 56h3v1h-3zM99 81h1v1h-1zM99 82h1v1h-1z"/><path fill="#4771e9" d="M23 23h1v1h-1zM85 46h1v1h-1z"/><path fill="#467df4" d="M99 30h1v1h-1z"/><path fill="#d02f05" d="M46 60h2v1h-2zM46 61h2v1h-2z"/></g>
<rect x="1412.6" y="2609.8" width="744.8" height="744.9" fill="none" stroke="#000" stroke-width="2.9"/>
<rect x="2169.9" y="2609.8" width="73.3" height="744.9" fill="url(#tg)"/>
<rect x="2169.9" y="2609.8" width="73.3" height="744.9" fill="none" stroke="#000" stroke-width="2.9"/>
<path d="M1399.3 2614.8h13.3M1399.3 3354.7h13.3M1417.2 3354.7v13.3M2157.4 3354.7v13.3M2243.2 3227h13.3M2243.2 3014.17h13.3M2243.2 2801.35h13.3" stroke="#000" stroke-width="2.9" fill="none"/>
<g font-size="45.83" letter-spacing="1"><text x="1388.9" y="2630.8" text-anchor="end">-2.4°N</text><text x="1388.9" y="3370.7" text-anchor="end">-4.9°N</text><text x="1417.2" y="3411.7" text-anchor="middle">32.0°E</text><text x="2154.4" y="3411.7" text-anchor="middle">35.4°E</text><text x="2265.1" y="3244.7">15</text><text x="2265.1" y="3031.87">20</text><text x="2265.1" y="2819.05">25</text></g>
<g font-size="55"><text x="1785" y="2587.6" text-anchor="middle"><tspan font-style="italic">T</tspan><tspan font-style="italic" font-size="37.6" dy="9.5">SEVIRI</tspan><tspan dy="-9.5"> (21.4±2.8°C)</tspan></text><text x="2204.1" y="2587.6" text-anchor="middle">°C</text></g>
<text x="1331.5" y="2527.2" font-size="66.7" font-weight="bold">F</text>
<g transform="translate(216.9 3820.7) scale(2.31)" shape-rendering="crispEdges"><path fill="#66c2a5" d="M0 0h320v3h-320zM0 3h281v32h-281zM306 3h14v32h-14zM0 35h320v285h-320z"/><path fill="#fc8d62" d="M281 3h25v32h-25z"/></g>
<rect x="216.9" y="3820.7" width="744.8" height="744.9" fill="none" stroke="#000" stroke-width="2.9"/>
<rect x="974.2" y="4472.49" width="73.3" height="93.11" fill="#66c2a5"/>
<rect x="974.2" y="4379.38" width="73.3" height="93.61" fill="#fc8d62"/>
<rect x="974.2" y="4286.26" width="73.3" height="93.61" fill="#8da0cb"/>
<rect x="974.2" y="4193.15" width="73.3" height="93.61" fill="#e78ac3"/>
<rect x="974.2" y="4100.04" width="73.3" height="93.61" fill="#a6d854"/>
<rect x="974.2" y="4006.93" width="73.3" height="93.61" fill="#ffd92f"/>
<rect x="974.2" y="3913.81" width="73.3" height="93.61" fill="#e5c494"/>
<rect x="974.2" y="3820.7" width="73.3" height="93.61" fill="#b3b3b3"/>
<rect x="974.2" y="3820.7" width="73.3" height="744.9" fill="none" stroke="#000" stroke-width="2.9"/>
<path d="M203.6 3825.7h13.3M203.6 4565.6h13.3M221.5 4565.6v13.3M961.7 4565.6v13.3M1047.5 4565.6h13.3M1047.5 4379.38h13.3M1047.5 4193.15h13.3M1047.5 4006.93h13.3M1047.5 3820.7h13.3" stroke="#000" stroke-width="2.9" fill="none"/>
<g font-size="45.83" letter-spacing="1"><text x="193.2" y="3841.7" text-anchor="end">-2.4°N</text><text x="193.2" y="4581.6" text-anchor="end">-4.9°N</text><text x="221.5" y="4622.6" text-anchor="middle">32.0°E</text><text x="958.7" y="4622.6" text-anchor="middle">35.4°E</text><text x="1069.4" y="4583.3">0.0</text><text x="1069.4" y="4397.07">0.5</text><text x="1069.4" y="4210.85">1.0</text><text x="1069.4" y="4024.62">1.5</text><text x="1069.4" y="3838.4">2.0</text></g>
<g font-size="55"><text x="589.3" y="3798.5" text-anchor="middle"><tspan font-style="italic">T</tspan><tspan font-style="italic" font-size="37.6" dy="9.5">a</tspan><tspan dy="-9.5"> correction</tspan></text><text x="1008.4" y="3798.5" text-anchor="middle">°C</text></g>
<text x="135.8" y="3738.1" font-size="66.7" font-weight="bold">G</text>
<g transform="translate(1412.6 3820.7) scale(2.31)" shape-rendering="crispEdges"><path fill="#66c2a5" d="M0 0h159v3h-159zM0 3h184v10h-184zM0 13h184v22h-184zM0 35h184v7h-184zM0 42h184v15h-184zM0 57h180v10h-180zM0 67h159v11h-159zM0 78h155v18h-155zM0 96h155v1h-155zM306 96h14v1h-14zM0 97h155v2h-155zM302 97h18v2h-18zM0 99h155v29h-155zM302 99h18v29h-18zM0 128h155v3h-155zM208 128h23v3h-23zM277 128h43v3h-43zM0 131h155v4h-155zM205 131h26v4h-26zM277 131h43v4h-43zM0 135h155v25h-155zM205 135h22v25h-22zM277 135h43v25h-43zM0 160h155v3h-155zM177 160h28v3h-28zM227 160h93v3h-93zM0 163h105v4h-105zM130 163h22v4h-22zM177 163h28v4h-28zM227 163h93v4h-93zM0 167h102v22h-102zM127 167h25v22h-25zM177 167h28v22h-28zM227 167h93v22h-93zM0 189h102v3h-102zM127 189h25v3h-25zM177 189h25v3h-25zM227 189h93v3h-93zM0 192h102v3h-102zM227 192h93v3h-93zM0 195h77v25h-77zM227 195h93v25h-93zM0 220h77v4h-77zM224 220h96v4h-96zM0 224h102v21h-102zM249 224h71v21h-71zM0 245h102v4h-102zM249 245h71v4h-71zM0 249h99v7h-99zM249 249h71v7h-71zM0 256h74v21h-74zM99 256h25v21h-25zM249 256h71v21h-71zM0 277h74v10h-74zM99 277h25v10h-25zM246 277h74v10h-74zM0 287h74v23h-74zM99 287h25v23h-25zM174 287h146v23h-146zM0 310h74v10h-74zM99 310h25v10h-25zM171 310h149v10h-149z"/><path fill="#fc8d62" d="M159 0h75v3h-75zM281 0h39v3h-39zM184 3h50v10h-50zM306 3h14v10h-14zM184 13h47v22h-47zM306 13h14v22h-14zM184 35h25v7h-25zM306 35h14v7h-14zM184 42h21v15h-21zM306 42h14v15h-14zM180 57h25v10h-25zM306 57h14v10h-14zM159 67h21v11h-21zM281 67h39v11h-39zM155 78h25v18h-25zM281 78h39v18h-39zM155 96h25v1h-25zM262 96h44v1h-44zM155 97h25v2h-25zM262 97h40v2h-40zM155 99h147v29h-147zM155 128h53v3h-53zM231 128h46v3h-46zM155 131h50v4h-50zM231 131h46v4h-46zM155 135h50v25h-50zM227 135h50v25h-50zM155 160h22v3h-22zM205 160h22v3h-22zM105 163h25v4h-25zM152 163h25v4h-25zM205 163h22v4h-22zM102 167h25v22h-25zM152 167h25v22h-25zM205 167h22v22h-22zM102 189h25v3h-25zM152 189h25v3h-25zM202 189h25v3h-25zM102 192h50v3h-50zM202 192h25v3h-25zM77 195h75v25h-75zM202 195h25v25h-25zM77 220h75v4h-75zM202 220h22v4h-22zM102 224h50v21h-50zM202 224h47v21h-47zM102 245h47v4h-47zM202 245h47v4h-47zM99 249h50v7h-50zM202 249h47v7h-47zM74 256h25v21h-25zM124 256h125v21h-125zM74 277h25v10h-25zM124 277h122v10h-122zM74 287h25v23h-25zM124 287h50v23h-50zM74 310h25v10h-25zM124 310h47v10h-47z"/><path fill="#8da0cb" d="M234 0h47v3h-47zM231 35h25v7h-25zM281 35h25v7h-25zM231 42h25v15h-25zM281 42h25v15h-25zM231 57h25v10h-25zM281 57h25v10h-25zM180 67h25v11h-25zM231 67h50v11h-50zM180 78h25v18h-25zM231 78h50v18h-50zM180 96h25v1h-25zM231 96h31v1h-31zM180 97h25v2h-25zM231 97h31v2h-31zM152 192h50v3h-50zM152 195h50v25h-50zM152 220h50v4h-50zM152 224h50v21h-50zM149 245h53v4h-53zM149 249h53v7h-53z"/><path fill="#a6d854" d="M234 3h47v10h-47zM231 13h50v22h-50z"/><path fill="#e78ac3" d="M281 3h25v10h-25zM281 13h25v22h-25zM209 35h22v7h-22zM256 35h25v7h-25zM205 42h26v15h-26zM256 42h25v15h-25zM205 57h26v10h-26zM256 57h25v10h-25zM205 67h26v11h-26zM205 78h26v18h-26zM205 96h26v1h-26zM205 97h26v2h-26z"/></g>
<rect x="1412.6" y="3820.7" width="744.8" height="744.9" fill="none" stroke="#000" stroke-width="2.9"/>
<rect x="2169.9" y="4472.49" width="73.3" height="93.11" fill="#66c2a5"/>
<rect x="2169.9" y="4379.38" width="73.3" height="93.61" fill="#fc8d62"/>
<rect x="2169.9" y="4286.26" width="73.3" height="93.61" fill="#8da0cb"/>
<rect x="2169.9" y="4193.15" width="73.3" height="93.61" fill="#e78ac3"/>
<rect x="2169.9" y="4100.04" width="73.3" height="93.61" fill="#a6d854"/>
<rect x="2169.9" y="4006.93" width="73.3" height="93.61" fill="#ffd92f"/>
<rect x="2169.9" y="3913.81" width="73.3" height="93.61" fill="#e5c494"/>
<rect x="2169.9" y="3820.7" width="73.3" height="93.61" fill="#b3b3b3"/>
<rect x="2169.9" y="3820.7" width="73.3" height="744.9" fill="none" stroke="#000" stroke-width="2.9"/>
<path d="M1399.3 3825.7h13.3M1399.3 4565.6h13.3M1417.2 4565.6v13.3M2157.4 4565.6v13.3M2243.2 4565.6h13.3M2243.2 4379.38h13.3M2243.2 4193.15h13.3M2243.2 4006.93h13.3M2243.2 3820.7h13.3" stroke="#000" stroke-width="2.9" fill="none"/>
<g font-size="45.83" letter-spacing="1"><text x="1388.9" y="3841.7" text-anchor="end">-2.4°N</text><text x="1388.9" y="4581.6" text-anchor="end">-4.9°N</text><text x="1417.2" y="4622.6" text-anchor="middle">32.0°E</text><text x="2154.4" y="4622.6" text-anchor="middle">35.4°E</text><text x="2265.1" y="4583.3">0.0</text><text x="2265.1" y="4397.07">0.5</text><text x="2265.1" y="4210.85">1.0</text><text x="2265.1" y="4024.62">1.5</text><text x="2265.1" y="3838.4">2.0</text></g>
<g font-size="55"><text x="1785" y="3798.5" text-anchor="middle"><tspan font-style="italic">T</tspan><tspan font-style="italic" font-size="37.6" dy="9.5">a</tspan><tspan dy="-9.5"> correction</tspan></text><text x="2204.1" y="3798.5" text-anchor="middle">°C</text></g>
<text x="1331.5" y="3738.1" font-size="66.7" font-weight="bold">H</text>
</svg>
</body></html>
